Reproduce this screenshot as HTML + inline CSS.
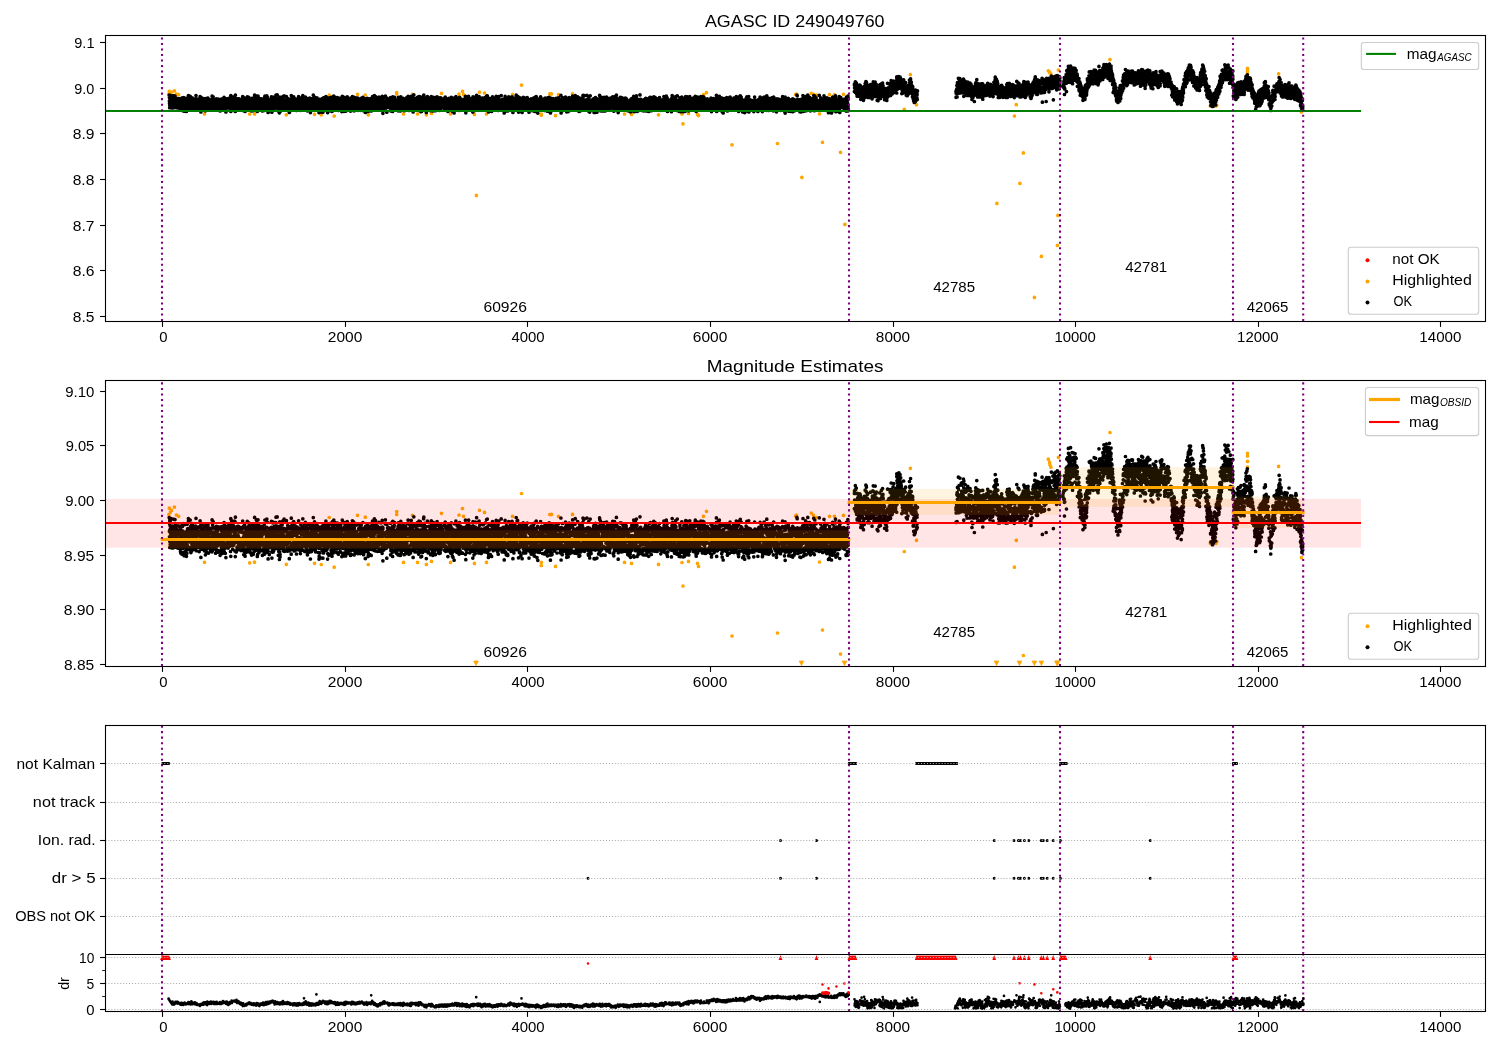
<!DOCTYPE html><html lang="en"><head><meta charset="utf-8"><title>AGASC ID 249049760</title>
<style>html,body{margin:0;padding:0;background:#fff}svg{display:block}text{font-family:"Liberation Sans",sans-serif}</style></head><body>
<svg width="1500" height="1050" viewBox="0 0 1500 1050" style="will-change:transform">
<rect width="1500" height="1050" fill="#fff"/>
<defs>
<clipPath id="c1"><rect x="105.5" y="35.5" width="1380.0" height="286.0"/></clipPath>
<clipPath id="c2"><rect x="105.5" y="380.5" width="1380.0" height="286.0"/></clipPath>
<clipPath id="c3"><rect x="105.5" y="725.5" width="1380.0" height="286.0"/></clipPath>
</defs>
<g clip-path="url(#c1)">
<path d="M168.9 94h0m.4-2.7h0m1.1 1.6h0m1-.7h0m3-1.4h0m2 3.3h0m2.2 .6h0m25.9 19.2h0m45.2 .2h0m4.8-.2h0m31.8 .9h0m28.2-.5h0m6.8 .5h0m7.9-19.6h0m5 20.8h0m23.3-21.7h0m7.8 .7h0m3 19.8h0m28.4-22.1h0m0 1.2h0m6.8 20.1h0m9-19.7h0m5 19.7h0m8.9 .8h0m5.1-1.3h0m10-20.1h0m9 20.6h0m8.5-19.9h0m3.5-2.7h0m1 3.3h0m10.9 19.7h0m2 81h0m3.1-103.2h0m5 .8h0m2 21h0m26-19.3h0m9-9.6h0m19.8 30.1h0m0-1.2h0m8.5-20.1h0m1.7 0h0m4 21.7h0m3-20.9h0m14-.8h0m52 20.1h0m7 .4h0m27 .4h0m23.5-.8h0m1 9.8h0m5.5-10.3h0m9 .9h0m1 1.2h0m5-20.9h0m3-2.1h0m25.5 52.2h0m45.5-1.3h0m18-49h0m1-.4h0m5.4 83.3h0m9.4-84.1h0m2.2 1h0m3 .9h0m3 18.6h0m3 28.5h0m7-47.6h0m5 0h0m6 57.6h0m3-58h0m1.4 130.1h0m59.4-115h0m6.1-34.8h0m6.1 30.1h0m80.4 98.7h0m17.5-87.4h0m1.9-11.3h0m3.6 78.7h0m3.5-30.5h0m11 144.5h0m7-41h0m6.9-185.6h0m1.3 1.3h0m.3 1h0m1 1h0m6.5 171.3h0m.5-30h0m.5-145.4h0m51.6-10.4h0m100.3 46.4h0m.7-.8h0m5 .8h0m.8-.8h0m30.7-35.8h0m0 4.6h0m0-2.3h0m0-3.4h0m31.1 5.5h0m22.8 38.2h0" stroke="#ffa500" stroke-width="3.7" stroke-linecap="round" fill="none"/>
<path d="M169.2 95.2h0m.2 2.3h0m0 3.4h0m.1 2.4h0m.2 4.4h0m0-10.6h0m0 7.7h0m0 .2h0m.1 .2h0m0-7.1h0m0-1.9h0m.2 4.1h0m.2 4.2h0m0-7.2h0m0 1.4h0m0 7.7h0m.1-9.2h0m0 10.1h0m.1-11.1h0m0 9.3h0m0 1.4h0m0-5.3h0m.1 1.9h0m.1 2.9h0m0-10.9h0m0 4.3h0m0 7.8h0m.1-6h0m0 4.4h0m.1-3.5h0m0-3.6h0m0 5.5h0m.1 2.5h0m0-2.2h0m0 1.6h0m.1 1.4h0m0-7h0m0 .3h0m.1 5.5h0m.3-3.3h0m0-2h0m0 .8h0m.1-1.8h0m.2-.9h0m.1 6.2h0m.1 1.6h0m.1 .8h0m.4-.3h0m.1-6.4h0m.1-2.4h0m0 2.8h0m0-5.8h0m0 11h0m.2-3.8h0m0-1.2h0m0 6.1h0m0-7.1h0m.1 4.5h0m0-5.7h0m0 3.6h0m.2 2.8h0m.1-7h0m0 7.6h0m0-5h0m.1 3.8h0m.1 2.4h0m.1-7.6h0m.2 2.8h0m.3-7.1h0m.3 9.4h0m0-2.6h0m.2-.3h0m.1 1.2h0m.3-.5h0m.1-1.9h0m0-5.1h0m0 9.8h0m.4-3.7h0m0-1.4h0m0-3h0m.1 5.7h0m.1-.8h0m0 3.9h0m.2 1h0m.1-8.5h0m.1 4.9h0m.2 2.1h0m0 0h0m.1-3h0m.2 2.8h0m.1 .4h0m0-5.5h0m.1-.7h0m.1 2.5h0m0-.3h0m0 5.1h0m.1-.6h0m.1-2.3h0m0-3.6h0m.1-2.2h0m.2 6.6h0m.1-1.5h0m0-2.6h0m0 5h0m.1 1.1h0m.1 .7h0m.3-5.6h0m.2 5.1h0m0 .2h0m.1-9h0m0 3.2h0m.1 5.3h0m.2-.8h0m.2-1.8h0m0-2.4h0m.4 4.8h0m.1-6.6h0m0 7.7h0m.1-2.7h0m.1-1h0m.1-2.1h0m.1-3.4h0m.1 6.9h0m.1-5.2h0m0 3.2h0m.1 4.5h0m0-.5h0m.1-8.9h0m0 1.8h0m.2 4.9h0m0-.1h0m0-2.9h0m.1-.7h0m0 .4h0m.2 2.7h0m0 4.5h0m.1-1.2h0m.1-4.1h0m0-3.8h0m.1 7.4h0m0 2.3h0m.3-9.6h0m0 2.8h0m0 2.7h0m.1-4.2h0m0 .1h0m.1 4.6h0m0-3.2h0m0-2.3h0m0 2.2h0m.2-4.4h0m.1 2.2h0m.2 9.5h0m.1-9.6h0m.1 1.8h0m0-.9h0m0-3.2h0m.1 3.9h0m0 3h0m.1-7.7h0m.1 9.6h0m.1-8.5h0m.1 3.2h0m0-.2h0m0-.2h0m0 5.2h0m0-1.6h0m.2 2.8h0m0-1h0m.2-6.2h0m0 7.1h0m0-1.2h0m.1-5h0m.1 8.1h0m.1-4.4h0m.2 4.4h0m0-8.2h0m.2 1h0m0 2.5h0m.2-7.5h0m0 9.3h0m.1-5h0m.1 4.9h0m.1 3.6h0m0 .7h0m.3-7.9h0m0 2h0m.1-7.1h0m.3 5.4h0m0 4.3h0m.2-3.3h0m.3 1h0m0 3.8h0m.1 .4h0m.1-3h0m0-.5h0m0-1h0m.2-2.6h0m.1 5.2h0m.1-2.5h0m0 1.2h0m.1-5h0m0 .1h0m0-.1h0m.1 4.3h0m0-1.7h0m.1-3h0m.2 10.2h0m.1-8.5h0m.1 0h0m0 .8h0m.3 6.4h0m0-4.2h0m0 2.8h0m.1-7.7h0m0 6.7h0m.2-.8h0m0-8.9h0m0 4.2h0m.1 1.8h0m.1-3.6h0m.1 6.5h0m0-1.7h0m.2-2.5h0m0-2.9h0m.1 1.8h0m.2-.8h0m.4-4.2h0m0-1h0m.2 12.8h0m.1-7.1h0m.2-5.1h0m.3 4.7h0m.1 7.6h0m0-4h0m.1-.4h0m.2-1h0m0-2.6h0m.1 4.8h0m.1-3.8h0m.2 6.4h0m.1 .2h0m.1-7.7h0m0-4.1h0m.2 5h0m.1 2.3h0m0-4.6h0m.1 2.4h0m.1 2.5h0m0 0h0m.2-1.1h0m0 7h0m0-.3h0m.1-1.9h0m0 1.4h0m.1-7.7h0m0 1.3h0m0-3.3h0m.1 3.4h0m0-2.5h0m0 .4h0m.2 3.4h0m.1-6h0m.1 5h0m0 6.3h0m.1-8.5h0m0-.9h0m0 6.2h0m.2-3.9h0m0-1.1h0m.1 4.2h0m0-7.5h0m0 3.9h0m.1-2.5h0m.1 7.3h0m0-1.8h0m.1 1.3h0m0 2.7h0m0-3.6h0m.1-2.1h0m.1-5h0m.2 9.2h0m.1 1.2h0m0-5.6h0m.1 3.1h0m0-5.4h0m.1 5.6h0m0-3.2h0m0-2.6h0m.2 6.3h0m.1-7.1h0m.1 2.1h0m0-2.4h0m.1 5.2h0m.1 3.6h0m.1-4.9h0m0 .5h0m.1-3.1h0m.3 7.2h0m0-.3h0m0 .9h0m.2-5.2h0m.2 .6h0m0-3.9h0m0 3.5h0m0-2.5h0m.1 4.4h0m.1 2h0m.1-7.4h0m.1 6.3h0m.2 .5h0m.2-6.8h0m0 0h0m.1 8h0m.1-3h0m0-3h0m.1-3.1h0m0 8.5h0m0-4.4h0m.1-1.5h0m.1 7.4h0m0-4.3h0m.1 3.8h0m.1-.3h0m0-12.4h0m.1 10.9h0m0-2.9h0m.1-3.1h0m0 2.5h0m0 6.2h0m.1-9.4h0m.1 2.2h0m.1 1.6h0m.1 4.2h0m0-4.5h0m.2 1.4h0m.1-4.9h0m0 6.9h0m0-6.6h0m.1 5.4h0m.2-5.3h0m0-.6h0m.1 2.3h0m.1 .7h0m.2 5h0m.1-8h0m0 6.6h0m.2-7h0m.3 1.7h0m.2 1.7h0m0 .1h0m.1-.4h0m.1-.7h0m.1 3.6h0m.1-3.7h0m0 5.5h0m.1-1.1h0m.1 .6h0m0-1.6h0m.1 1.7h0m0-7.4h0m.1 10.4h0m.2-3.5h0m.2 1.8h0m0-7h0m.1 5.9h0m.4-10.1h0m.1 10.2h0m0-1.4h0m.1-1.7h0m0-1.8h0m.1-.2h0m.1 3.3h0m.2-5.9h0m0 5.1h0m.1 3.2h0m0-9h0m.1 13.5h0m.1-12.3h0m.1 8.7h0m0-3.3h0m.2-1.3h0m0-1.6h0m.1 6.3h0m.1-5h0m0-.8h0m0 .4h0m.1-3.3h0m.1 .2h0m.2-1.8h0m.2 0h0m.1 7.8h0m0-3.1h0m.1-.5h0m.1-.8h0m.2-.2h0m.1 3.5h0m.1 2.9h0m.1-3.3h0m.1 4.1h0m.2-6.6h0m0 4.2h0m0-.1h0m.1 .3h0m0-.6h0m.2-5.8h0m.2 3.2h0m0 1h0m.1 1.6h0m.3 .3h0m.1-2h0m.1 0h0m.1-1.8h0m0 6.5h0m0 .4h0m0-10.3h0m.1 1.8h0m0 3.9h0m.1 2.3h0m0-1.4h0m.2-2.3h0m.2-1.6h0m.1 6.1h0m.1-6.5h0m0 5.3h0m0-1h0m.2 5.4h0m.2-9h0m0-.8h0m0 8.2h0m.1-10.7h0m.1 3.9h0m0-3.5h0m.2 6.6h0m.1 2.9h0m.1-4h0m0-3h0m.2 1.6h0m.1 5.2h0m0 1.3h0m0-9.2h0m0 5.8h0m0-.9h0m.2-4.8h0m0 4.3h0m.2 2.6h0m.1-8.2h0m.1 7.5h0m0-8.2h0m.1 6.2h0m.1 2h0m0-5.6h0m0 4.7h0m0 .1h0m.2-4.8h0m0 5.8h0m.2-5h0m.1-1.4h0m0 6.6h0m.1-3.1h0m.1-5.7h0m.1 9.7h0m.3-6.6h0m.1 8.8h0m.4-7.5h0m0 5.2h0m0-6.7h0m.2 5.7h0m.2-2.2h0m0 1.2h0m0-.5h0m.1 2.5h0m0-8.1h0m.5 6.4h0m.1 .8h0m.2 .5h0m0-5.5h0m.1 1.9h0m.1 5h0m0-3.5h0m.1-4.8h0m0 4.5h0m.1 2.7h0m0-2.1h0m.1 2.9h0m.2-1.5h0m.1-7.1h0m.2 6.3h0m.2 .3h0m0 2h0m.1 .7h0m.1-1h0m0-3.8h0m.1-3.1h0m.1-1.7h0m0 2.2h0m.1 7.1h0m.1 .6h0m.1-7.8h0m0-5.5h0m.3 6.9h0m.1 5.9h0m0-4.3h0m0-1.4h0m.1-5.1h0m0 9.3h0m.1-2.7h0m.2 1.3h0m0-4.5h0m.1 3.7h0m.1-3.2h0m0-5.3h0m.1 9.5h0m.1-4.7h0m.1 5.7h0m.1-1.8h0m0-4.2h0m0 2.6h0m.3-1.2h0m0-1.3h0m.1 .9h0m0 3.7h0m0-4.6h0m.1 3h0m0 3.2h0m.2-8.2h0m.1 .2h0m0 8.3h0m.1-2.8h0m0 2.3h0m0-7.9h0m.1 2.6h0m0 4.2h0m.1-1.4h0m0-2.8h0m.1 2h0m.2-2.4h0m0 1.1h0m0 3.3h0m.1-1.4h0m0 3.2h0m0-5.7h0m.1 .8h0m0 1h0m0-1.2h0m.1 3.4h0m0 2.1h0m.1-.2h0m0-2.6h0m.1 2.3h0m0-4h0m0 .1h0m0 .5h0m0 3.3h0m.2-3.5h0m0 5.9h0m.1-3.2h0m.4 1.4h0m.1-7.6h0m.1 .2h0m.1-2h0m.1 10h0m.1-7.5h0m.1 8h0m0-9.3h0m0 4.8h0m.1-1.8h0m.2-.2h0m.1 .4h0m.1 6.3h0m0-6.3h0m.1-.7h0m.2 .6h0m.1-.6h0m0 3.3h0m0 1.1h0m.1-6.4h0m0 4.9h0m.1-1.2h0m.1-1h0m.1-1.1h0m0-2.8h0m.1 9.6h0m.3-9.9h0m0 4.2h0m0 6.4h0m.4-3.5h0m.5 3h0m.1-6.8h0m.1 1.5h0m0-.9h0m.1 .4h0m0 .9h0m.2 1h0m.1-3h0m.1 2.4h0m.1 6.3h0m0-4.4h0m.2-4.3h0m0-2.6h0m.4 6.2h0m.1 .5h0m0-1.8h0m.1-2.2h0m0-2.9h0m0 4.1h0m.2 2.2h0m.2-.9h0m0 2.7h0m0-6.9h0m.1 9.1h0m0-1.2h0m0-2.4h0m.1-7.2h0m.1 7.4h0m0 .4h0m0-2.9h0m.1 2.7h0m0-3.9h0m.3 1.3h0m0 .6h0m.1-1.3h0m0-4.1h0m.1 4h0m0-.3h0m0-3.5h0m.1 8.2h0m.2 2.6h0m.1-6.5h0m0 3.3h0m.1-7.7h0m0 4h0m0-2.2h0m.2-.6h0m.1 2.7h0m0-3.9h0m.1 3.1h0m.1 4.6h0m0-2.4h0m.2 2.8h0m.2-3.8h0m0 1.8h0m.2 2.4h0m0 1h0m.1-3.4h0m.2-8h0m0 2.8h0m.1-.7h0m0 1.9h0m.1 .9h0m0-4.2h0m.1 11.5h0m.1-8.9h0m.1 5.8h0m.2-5.4h0m.2 6.9h0m0-7.9h0m.1 3.3h0m0 .6h0m.1-1.9h0m0-.1h0m.1 8.1h0m0-2.4h0m.1-4.7h0m.1 4.3h0m0-8h0m.1 0h0m0 4.8h0m.1-3.5h0m.2 2.8h0m0 2.9h0m0 5.6h0m.2-11h0m.1 5.3h0m.1-6.9h0m0 3.6h0m.2-2.7h0m.1 3.3h0m.2-4.6h0m.1 3.9h0m.2 4h0m0-.8h0m.3-1.2h0m0 2.9h0m.1-2h0m0-3.3h0m.1 .3h0m.3 1.3h0m.2 1.7h0m0-3.5h0m.1 5.8h0m0-6h0m.1-1.2h0m.1 4.6h0m.1-.5h0m.1 .6h0m.2-4.4h0m0-2.7h0m.3 7.8h0m0-4.2h0m0-2.7h0m.1 2.2h0m.3 .4h0m.1-1.7h0m.1 .6h0m.1 2.9h0m0 1.1h0m0-4.4h0m.1-.9h0m0 .5h0m0 3h0m0 4.2h0m0-7.1h0m.3 2h0m.3 7.3h0m.1-4.2h0m.2-9.5h0m0 15.7h0m0-6.2h0m.2-4.5h0m.2 3h0m.1-5.3h0m.2 7.6h0m.1 0h0m0-9.5h0m.1 7.1h0m0-6.4h0m0 5.8h0m0-3.3h0m.5 3.7h0m0 1.5h0m.2-3.9h0m0 2.2h0m.1 3.6h0m0-1.8h0m.1-6.6h0m.1 10h0m.4-2.8h0m.4 .1h0m.1-7h0m.1 7.6h0m0-1.9h0m.1 2.3h0m.1-.3h0m.4-4.3h0m.1 1.2h0m0-3.4h0m.1-3.2h0m.1 6.1h0m.1-.2h0m0 1.8h0m.1-4.7h0m0 2.2h0m.1 7.3h0m0-5.4h0m.1-.6h0m0-6.4h0m.1 6.5h0m0-3h0m.2 11.2h0m.1-6h0m0-10.5h0m.1 8.3h0m.4-2h0m.2-1h0m.1 9.3h0m0-8.8h0m.1-.2h0m.1 3.2h0m.2-4.1h0m.4 4.7h0m0 3.4h0m.1-8.8h0m0 6.3h0m.1 3.1h0m0-.7h0m.1 .4h0m0 .6h0m0-8.6h0m0 5.1h0m.3-.7h0m.2 1h0m.1 .1h0m0-2.4h0m0 2h0m0-2.7h0m.1-3.6h0m.1 9.4h0m.1-2.3h0m.1 .9h0m0-4h0m.1 3.4h0m.1-1.8h0m.1-3.7h0m.1 2.6h0m0 4.7h0m0 .2h0m.2 .2h0m.1-9.6h0m.3 8.2h0m.2-1.5h0m.1-5.5h0m0 1h0m.1 .1h0m0 4.3h0m.1-1.4h0m.2 2.7h0m.1-7h0m.2 4.8h0m.1 1.8h0m0-1.2h0m.2-.5h0m.1-.6h0m.1-4.4h0m.1 4.8h0m0 .7h0m.1 3.8h0m0-.1h0m.4-8h0m0-1.1h0m0 4.8h0m.1-4.7h0m.1 7.5h0m.2-8h0m0 5.1h0m.1-4.4h0m.3 6.7h0m0-.1h0m.1-1.1h0m.1-4.2h0m0 4.2h0m.1 2.9h0m.2-.4h0m0-11.5h0m.2 7.7h0m0 3.8h0m.2-4.2h0m.1 3.1h0m.1 1.1h0m0-4.6h0m.1 .8h0m.1 1.3h0m0 .9h0m0-.1h0m.1-4.9h0m0-2.6h0m.1 2.6h0m0-2.2h0m0 8.5h0m0 2.9h0m.2-5.2h0m.1-2.6h0m.1 5.4h0m0-.1h0m0-3.9h0m.1-1.8h0m0 6.9h0m0-2.8h0m.2 1.6h0m.1-3.6h0m0-6.5h0m0 10.5h0m.1-3.1h0m0 .5h0m.2-6.4h0m.1 5.2h0m.1-5.3h0m.1 11.9h0m.1-7.8h0m0 .1h0m0 5.3h0m.1-7.8h0m.3 4.2h0m0-5.6h0m0 10.1h0m.1-3.5h0m0-6.7h0m.2 5.6h0m0 4h0m.1-7.1h0m0 4.4h0m.3 1.9h0m0-9.2h0m.1 6.2h0m.1-.3h0m0-1.6h0m.3-1.5h0m.2 2.9h0m.2-.9h0m.1-7.3h0m.1 5.7h0m0-.1h0m.1 6.2h0m0-7.6h0m.1 3.8h0m.2-1.3h0m.1 .7h0m.1 3.2h0m0 2.1h0m.1-5.6h0m.1 1.1h0m.1 .5h0m.1-4h0m.2 .9h0m.1-1.8h0m0 2.2h0m.1-5.4h0m.1 9.2h0m0-5.7h0m.1-2.3h0m.1 .4h0m.1-.3h0m.1 10.2h0m.1-8.2h0m.1 6.6h0m.1-7.3h0m0 5.6h0m.1 2.3h0m0 .3h0m.2-6.9h0m.3 8.4h0m.1-7.1h0m.1 1.1h0m.2 2h0m.2 4.3h0m0-3.4h0m.1-4h0m.1-.7h0m0 6.1h0m0-.1h0m0-7.7h0m.1 4.9h0m0 1.4h0m0-7.3h0m.1 3h0m.4 8.7h0m0-4.3h0m.1 0h0m0-.5h0m0-6.6h0m.1 7.3h0m0 .5h0m.1-6.8h0m.2-2.1h0m0 .8h0m0 1.6h0m.1 3.7h0m0-2.4h0m.1-3.6h0m0 3.8h0m.1-2.7h0m0-.1h0m0 5.3h0m.1 2.9h0m.2-8.3h0m.2 6.8h0m0 .6h0m0-5.6h0m.1 7.2h0m0-8.2h0m.1 4.4h0m.2 5.4h0m0 .6h0m0-5h0m0-2.5h0m0 .4h0m0-3.5h0m.1-2h0m0 4.9h0m0 2h0m.1-3.7h0m.1 2.7h0m0 3.9h0m.1-4.5h0m.4-1.2h0m0 1.9h0m0-4.1h0m0-.3h0m.1 8h0m.1 1.7h0m0-6.4h0m.1 4.5h0m.2-7h0m0-5.3h0m0 11.3h0m.1-5.4h0m.1 5.3h0m0 1.3h0m.1-4.9h0m0 1.9h0m.1 0h0m.1-2.8h0m0 7.2h0m.1-6.1h0m.1-.8h0m.1 1.3h0m0 2h0m0 3h0m0-4.5h0m.2 3.9h0m.1-8h0m.1 9.1h0m.2-10.1h0m.1 2.9h0m.1 2.8h0m.1-2.3h0m.1-6h0m.1 11.9h0m.1-1.3h0m0-5.2h0m0 1.7h0m.1-5.9h0m.1 5.1h0m0-1.6h0m0 2.1h0m.2 2.2h0m.1-3h0m.1 1.1h0m0 3.5h0m.1-4.5h0m0 4.2h0m0-3.3h0m0 8.3h0m.3-.9h0m.1-2.6h0m.3-11.9h0m.1 12.5h0m0-3.4h0m0-6.4h0m.1 2.2h0m0 6.4h0m.1-3h0m0 4.4h0m.2-10.9h0m.2 8.8h0m0-3h0m0 3.4h0m0-7.1h0m.1 7.2h0m.1 2.6h0m0-2.4h0m.2-5.5h0m0 4.6h0m.2 1.4h0m0-1h0m.2-4.4h0m.1 6.3h0m0-5.3h0m.2-.9h0m.2 .7h0m.2 3.8h0m.1-8h0m0 3.5h0m.2 4.1h0m0-3.5h0m.1-2h0m.1 7.6h0m.1-2.8h0m0 3.1h0m.1-.1h0m0-6.5h0m0 .6h0m.2-4.2h0m.2 5.7h0m.1-3.1h0m.1 7.5h0m.2-9.5h0m.1 .8h0m0 2.6h0m.2 1.1h0m.1 2.4h0m0-5.4h0m.1 3.4h0m0-2.9h0m.1 0h0m.1 3.5h0m0 6h0m0-2.2h0m.1-6.9h0m.1-.6h0m.2 3.7h0m.2 1.6h0m0 1.7h0m.2-9h0m.1 9.3h0m0-8.4h0m.1 6.5h0m0 1.7h0m.2-6.9h0m.1 .5h0m0 4h0m0 .8h0m.2-5.8h0m0 6.4h0m0-7.2h0m.1 4.9h0m0-5.1h0m0 1.6h0m.2-3.4h0m0 11.6h0m.1-8.4h0m.1 9.1h0m0-9h0m.2 .3h0m.1-.9h0m.2-4.7h0m.1 4.8h0m.1 9.2h0m0-3.5h0m.1 3.2h0m.1-1.8h0m0 1.9h0m0-9.4h0m.1 5.7h0m.1-4.9h0m.1 6.2h0m0-2.1h0m.5-4.7h0m.1 3.4h0m0 4.6h0m.1-2.7h0m.1-2.6h0m.1 1.5h0m.1 .4h0m0 1.8h0m0-4.5h0m.1-3.4h0m.1-3.4h0m0 10.1h0m0 2.4h0m.1-2.1h0m.1 1.6h0m0-3.8h0m.1 1h0m.2-7.9h0m0 7.2h0m.2 5.2h0m.1-1.4h0m0-6.9h0m.2 3.5h0m.1 4.1h0m0-8h0m0 1.8h0m0 3.8h0m0 1.1h0m.2 4.9h0m.1-5.3h0m0 2.2h0m.4-5.7h0m0-.9h0m.1 2h0m.1-3h0m.1 2h0m.1-4h0m.2 3.2h0m.1-1.1h0m0 8.8h0m0-7.9h0m0 3.4h0m0-5.1h0m.2 5.7h0m0-4.9h0m0-2.2h0m.1 .7h0m0 5.6h0m0 .8h0m.1-1.1h0m.1-1.3h0m0-1.3h0m.1-1.5h0m.1 5.6h0m0 .4h0m.1-2.8h0m.4-3.3h0m0 1.2h0m.1-1.5h0m0 4.3h0m0-.4h0m.3 2.4h0m0-6.8h0m.1 5.8h0m0-1.6h0m.2 2.3h0m0-3.3h0m.2-4.6h0m0 7.8h0m0-10.3h0m.1 8h0m.1-1.5h0m.1 4.6h0m0-.6h0m0-5.7h0m.1 4.7h0m0 3.2h0m.1-1.9h0m0 4.6h0m.1-4.3h0m.2-4.7h0m.2 4.6h0m.1 1.9h0m.1-3.8h0m0-5.1h0m0 4.5h0m.1-.9h0m0 3h0m.1-3.8h0m0 5.9h0m0-4.9h0m.1 .9h0m0-8h0m0 11.4h0m.2-3.7h0m0-8.1h0m0 9.5h0m.2 3h0m0-8.8h0m.2 1h0m0 5h0m.1-3.5h0m0 3.4h0m.1-4h0m0 2.6h0m0-1.5h0m0 5.3h0m.4-1.3h0m0-8.9h0m0 1.4h0m.1 2.8h0m0-.3h0m.1 .3h0m.1 4h0m0-.5h0m.1-6.8h0m.3 7.3h0m.1-2.5h0m0 .3h0m.4 2.1h0m.1-1.9h0m.1-6.2h0m.1 7.6h0m.1-5.4h0m0 3.2h0m0 2.7h0m0-1.8h0m.1-2.8h0m0-5.1h0m.1 3.8h0m.1 1.2h0m0-7.3h0m.1 9.2h0m0-4h0m.1 6.2h0m0 1.7h0m0-5.5h0m.2 1.7h0m.1 .3h0m.1-5.6h0m0 2.5h0m.1-1h0m0 3.8h0m.2-5.6h0m0 8.2h0m.2-2.7h0m0-3.9h0m.1-5.4h0m0 8.8h0m.2-2.6h0m.1 5.8h0m0-3.5h0m.1 3.9h0m.1-4.6h0m.2-1.7h0m.1-.5h0m0 5.8h0m.1-5h0m.2 9.7h0m.1-10.9h0m.1 4.9h0m.1-4h0m0 3.8h0m0 3.2h0m.1-3.7h0m0 .8h0m.1 1.6h0m0 2.7h0m.2-9.5h0m.1-1h0m.3 13.9h0m.1-11.6h0m.1 6.1h0m.1-.7h0m0-2.9h0m0 5.9h0m.1-3.3h0m0-9.3h0m0 9.6h0m.1-5.4h0m0 6.8h0m.1 3.6h0m0-10.5h0m0 10.6h0m0-5.9h0m.1 4.9h0m0-11.7h0m0 3.2h0m.1-3h0m.1 1.6h0m0-3.5h0m.1 7.2h0m0 2.7h0m0-6.7h0m.1-.6h0m0-.7h0m0 4.4h0m.1-2h0m.1-2.9h0m0 6.4h0m0 1.7h0m.1-6.6h0m0 2.9h0m0 4.5h0m.1-.8h0m0-4.1h0m0 5.2h0m.4-2.5h0m.1-1.4h0m.1 3h0m.3-2.9h0m0-.5h0m.1-.9h0m0-1.3h0m.1 6.4h0m.1-9.9h0m0 1.9h0m0 1.8h0m0-3.2h0m.3 3.6h0m.1-2h0m0 .2h0m0 3h0m0-.9h0m.1 5.7h0m0-6.9h0m.1 3.5h0m0-1.4h0m.1 1.4h0m0-4.6h0m.1-3.4h0m0 5.5h0m.2-4.9h0m.1 8.4h0m.2-2h0m0 5.3h0m.1-1.1h0m0-1.7h0m0-3.3h0m0-3h0m.1 5.6h0m.1-1.6h0m0 1.4h0m0-4.4h0m0 5.4h0m0-2.8h0m.1 5.9h0m.1-2.7h0m0-2h0m.1-.1h0m0 4.6h0m.1-13.3h0m.2 8.5h0m0-3.2h0m.1-.6h0m0 4.4h0m.1-5h0m.1 1.2h0m0 2.8h0m.1 5.4h0m.2-4.6h0m.1 .4h0m.4 .8h0m.1 3.3h0m.1-9.2h0m.2 4.8h0m.2-3.7h0m.3 5.6h0m.1-.5h0m0-.9h0m0-8.8h0m.1 7.3h0m.3-.1h0m.1 .2h0m0-.6h0m.1 1.1h0m0-1.9h0m0 5.6h0m.1-2.6h0m0 3.4h0m0-2.5h0m.1-6h0m.1 6.1h0m.2-2.3h0m0 5h0m0-6.6h0m.2-4.1h0m0 5.9h0m0 4.1h0m.1-7h0m0-2.1h0m0 2.3h0m.1 7.5h0m.2-6.2h0m.1-3.9h0m.1 4.4h0m.2-1.1h0m0 6.3h0m.4 .5h0m0-9.5h0m.3 8h0m0 1h0m0-3.4h0m.1 7.1h0m.2-8.6h0m0 5.1h0m.4-5.2h0m0 2h0m.1-4.2h0m0 2.1h0m0-1.7h0m.1-2.9h0m0 3.7h0m0 5.8h0m.3 .3h0m.1-6.1h0m0 .1h0m0 1.3h0m.4-2.5h0m0 1.7h0m.1 3.7h0m.1 .6h0m.1-7h0m0 9.9h0m.1-15h0m.1 13h0m0-8.6h0m.1 1.3h0m0-.5h0m0-.4h0m.1 1.9h0m.1 1.8h0m0-1.3h0m.1-5.1h0m.2 6h0m0-2.2h0m0-.5h0m.1-2.1h0m.1 4.3h0m.3-.4h0m0 3.7h0m0-.5h0m0-4.4h0m.5-2.2h0m0 6.8h0m.2-4.4h0m0 5.1h0m0-7h0m.1 .6h0m0-1.1h0m.2 7.8h0m.2-10.2h0m0 11.4h0m.2 .4h0m0-4h0m0 .4h0m.1 3.4h0m0-1.4h0m0-8.9h0m0 8h0m.1-4.9h0m.1 7.9h0m.2-4.4h0m.1-4.7h0m.2 2.4h0m0 1.9h0m.1-2.3h0m.1-.8h0m0-.5h0m.1 1.8h0m.3 6h0m0-2.4h0m.1-5.1h0m0-2.3h0m.2 6.9h0m.2-3h0m0 5.2h0m.1-.5h0m.2 1.4h0m.1-6.8h0m.2-2.5h0m.1 11h0m.1-4.4h0m.3-3.1h0m0-.7h0m.1-2h0m.3-1.1h0m0 6.4h0m.1-1.5h0m.1-4.5h0m0 1h0m.1 7.9h0m.2-6.8h0m.1-2.3h0m.4 4.1h0m.1 4.3h0m.1 0h0m0-1h0m.1-10.2h0m.3 11.8h0m.1-4h0m.1 .4h0m.2 4h0m.2-7.5h0m.2 .4h0m.1-1h0m0-.9h0m.1 .4h0m.1 3.5h0m0 2.2h0m.1-4.5h0m.1 .3h0m.2 8.6h0m0-2.5h0m.1 1.4h0m0-3.9h0m0 2.8h0m.2-3.1h0m0-5.2h0m.1-1.6h0m.2 1.6h0m.2 7.7h0m.2-1.7h0m.2-.8h0m0-2.5h0m0 1.6h0m.1 4.5h0m.1-7.6h0m.1-1.3h0m0 7.8h0m.1-5h0m0 3.9h0m.1-7.3h0m.1 6.2h0m.3-4.5h0m.2 5.5h0m0 2.6h0m0-4.7h0m0 4.7h0m.1-13.2h0m.1 6.7h0m.1-3.5h0m.1 6h0m.1 1.3h0m.1-6.8h0m0 4.7h0m0-3.8h0m.2-1h0m.1 7.4h0m.1-6.4h0m.1 4.9h0m.1 1.4h0m.2 .4h0m.1-2.1h0m0-4.9h0m.1 5.6h0m0-2.7h0m.1-1.2h0m0 1.7h0m.1-5.6h0m.2 11.6h0m.1-5.2h0m.2-2h0m0 .8h0m.1-.2h0m0 0h0m.1-3.4h0m0 1.8h0m.2-3.5h0m0-.5h0m.2 5.7h0m.1 1.7h0m0 2.2h0m.1-1.5h0m0-1.6h0m0-3.1h0m0 1.3h0m.1 2.5h0m0-.1h0m0-3.4h0m.2 7.1h0m0 0h0m.2-3.1h0m0 1.1h0m0-.3h0m0-1.2h0m0-.6h0m0-2.3h0m.1 2.2h0m.2-.5h0m.2 6.3h0m0-.2h0m.1-7.7h0m.1 .4h0m0 2.1h0m0-3.7h0m.1 2.3h0m0 2h0m.1-6.3h0m0 10.2h0m0-8.1h0m0 5.5h0m.2-2.7h0m0 7.4h0m.1-10.2h0m0 .3h0m.1 1h0m0 4.8h0m.1-4h0m0-1h0m0-1.7h0m.1 3h0m0 6.2h0m.1-3.5h0m.1 3.4h0m0-2h0m0-7.3h0m.2 2.4h0m0 3.6h0m.1 4h0m.1-7.5h0m0 2h0m0-1h0m.1-.2h0m.1 .7h0m.3 2.2h0m0-3h0m.2 3.2h0m0-.3h0m.1-2.7h0m0 6.2h0m.1-9.6h0m0 2.9h0m0 6.9h0m.1-.6h0m0-7.3h0m0 .5h0m.1 1.2h0m0-.2h0m.1-5h0m0 5.8h0m0 .7h0m.1 1.6h0m0-4.9h0m.6 6.1h0m0 .6h0m.1 4.5h0m0-10.5h0m.3 7h0m0-1.5h0m.2-9.1h0m0 8.5h0m.2-2.9h0m.2-4.3h0m.1 9.6h0m.1-.4h0m.2-8.4h0m.1 1.3h0m.2 2.3h0m.1 .6h0m0 3.2h0m.1-2.8h0m.2-2h0m.1 .3h0m0 1.5h0m0-3.9h0m0 5.6h0m.1-.5h0m.1 0h0m0-2.9h0m0 4.2h0m.1-2.7h0m0-5.3h0m.3 1.6h0m.1-1.2h0m0-1.4h0m.1-3.3h0m0 3.6h0m.1 9.7h0m0-.5h0m.1-7h0m.1 4.1h0m0-2.5h0m.1 2.1h0m.2-2.6h0m.1 2.7h0m0-5.3h0m0 6.5h0m0-6.2h0m.1 2.6h0m.1-.9h0m0-.5h0m.1 4.2h0m.1-4.8h0m0 .9h0m.1-4.3h0m0 10.2h0m0-5.5h0m.1 2.2h0m.2-5h0m0 2.5h0m.3 5.3h0m0-3.5h0m.2 .7h0m0 3.1h0m.2-3.3h0m0 5.8h0m0-10.4h0m0 9.6h0m.1-2.7h0m.5-4.1h0m.1-1.5h0m0-1.9h0m.1 8.1h0m.1-7.1h0m0 2.7h0m0 1.5h0m0-.9h0m.1 5h0m.3-4.9h0m0-.7h0m.1-4.4h0m.2 6h0m0-5.3h0m0 4.2h0m.2 1.3h0m0-.9h0m.1 2.2h0m.2 1.4h0m0-3.2h0m0 1.6h0m0-4.5h0m.1-1.7h0m.2 7.3h0m.2-5.9h0m.1 9.5h0m0-9.9h0m.1 5.4h0m.3 2.4h0m.3-5.1h0m0 1.1h0m.1 8.9h0m0-6.5h0m0-6h0m.1-.5h0m0 8.4h0m0-5.3h0m0 4.3h0m.1 4.5h0m.2-4.8h0m0-7.3h0m0 4.2h0m.1 2.4h0m0-6.5h0m.1 10.5h0m0-7.6h0m.4 5.3h0m0-.1h0m.1-4.6h0m.2-1.6h0m0 4h0m.1-5.2h0m0 4.5h0m.1-1.3h0m0-2.8h0m.1 1.5h0m0-1.4h0m.2 1.8h0m0-.3h0m0 2.6h0m0-.7h0m.2 2.7h0m0-.4h0m.1-5.5h0m.5 11.2h0m0-7.5h0m.1 .5h0m.1-2.7h0m.1-3.5h0m0 4h0m0-2h0m.2 8h0m0-2.9h0m.3-7.3h0m0 7.6h0m.2-6.2h0m.1 6.7h0m.1-.9h0m.1 6.3h0m0-7.9h0m.1 4.1h0m0-6.3h0m0 4h0m0-1.7h0m.1 .3h0m.1 .3h0m0 5h0m.1-7.1h0m0 3.8h0m.1-3h0m0 3.3h0m0-5.9h0m0-3.2h0m0 5.5h0m.1-.9h0m0 1.1h0m0 1h0m.1-1.3h0m0 3.1h0m0 3.6h0m0-4.8h0m0 .5h0m0-1.2h0m.1-3h0m0 1.3h0m0-1.9h0m0 8.6h0m.1-6.3h0m0-.4h0m.1 2.1h0m.2 1h0m.1-5.8h0m.1-.4h0m.1 6.8h0m.1-2.6h0m0-1.5h0m0 .1h0m.2 1.3h0m.4-2.2h0m.2 6.6h0m0-9h0m0 5.7h0m.1-6.2h0m.1 10.2h0m.1-10.5h0m.2 9h0m.1-10.7h0m0 2.9h0m.1 8.6h0m0-6.6h0m.1-1h0m.1 2h0m0 3.8h0m.1-4.1h0m.1-1.7h0m.1 5.9h0m0-4.3h0m.1-3.9h0m0 4.2h0m.1 5.5h0m0-3.5h0m.1 4.2h0m0-9.6h0m0 4.3h0m0 2h0m.2-1.8h0m.1-5h0m.2 9.6h0m.2-7.6h0m0 3h0m.1 9h0m0-9.2h0m.1-5.3h0m0 6.2h0m.1 6h0m.1-9h0m.1 5.4h0m0 .8h0m.1-4.7h0m.1 3h0m0 1.7h0m.1-1.3h0m.1-5.8h0m.1 .1h0m.1 1.8h0m0 3.2h0m0-6.8h0m.1 4.5h0m.1 7.8h0m0-9.9h0m.2 3.2h0m.1-.7h0m.1 1.6h0m.1 1.3h0m.1-8.6h0m0 7.7h0m.2 1.9h0m0-2.7h0m.1-4.6h0m0-.4h0m.1 5.4h0m.1 2h0m.3 0h0m.1-3h0m.1 6.4h0m.1-13h0m.1 7.4h0m0-3.4h0m.2 4.3h0m0-6.1h0m0 5.8h0m.2 3.3h0m0-5.7h0m0-3h0m.1 1.6h0m0-.9h0m.2 1.5h0m0 3h0m.2-5.7h0m0 5.9h0m0 4h0m.5-2.8h0m0 4.6h0m.1-6.4h0m0-3.2h0m.1 4.4h0m0-2.2h0m0-3.7h0m0 6.3h0m.1-2.5h0m.1-5.1h0m.1-.7h0m0-.3h0m0 .3h0m.1-1.4h0m0 8.4h0m.1-3.3h0m.1 5.2h0m0 .7h0m.1 1.7h0m.1-10.4h0m.1 2.8h0m0-.6h0m0-.9h0m.1-.9h0m0-1.1h0m0 11.5h0m.1-3.1h0m.1-5.9h0m.2 .3h0m.2 4.5h0m0-1.8h0m0 5.3h0m0-13.1h0m.2 12.6h0m.3-5.8h0m0 .1h0m.2-2.6h0m.1 7.4h0m0-5.1h0m.1 1.3h0m0-.2h0m0-1.8h0m.1-1.6h0m.1 2.2h0m.1 1.1h0m0-.4h0m.1-.4h0m.1-2.4h0m0 1.4h0m.2 2h0m0-.7h0m0-5.9h0m0 7.8h0m0-3.1h0m.1 5.6h0m.1-8.2h0m0 6.2h0m.2-2.4h0m0 .2h0m0 2.8h0m.1-3.6h0m0 3.5h0m.2 1.6h0m.1-5h0m0 5.2h0m.1-10h0m0 2.9h0m.1 2.8h0m0 4.4h0m.1-1.1h0m0-1.7h0m0-5.8h0m.1 4.1h0m0 3.5h0m.1 2.8h0m0-6.4h0m.1-.4h0m.1 1.5h0m0 3.8h0m0-5.3h0m.2 .2h0m.1-2.8h0m.1-1.1h0m0 2.7h0m0 1.7h0m0-3.6h0m.1-1.4h0m0 0h0m0 8.1h0m.1-8.9h0m0-.4h0m.2 4.7h0m0 .2h0m.2 0h0m0 4.8h0m.1-7.2h0m0 7.5h0m0-6.3h0m.1-3.5h0m.1 1.1h0m.2 11.6h0m0-8.9h0m.1 5.8h0m0-1.2h0m.1-3.3h0m.1 1.9h0m0-.4h0m0 1.1h0m0-5.3h0m.2-1.1h0m0 1.6h0m.1 .7h0m0 2.1h0m.1-2h0m.1 8.3h0m0-5.8h0m.2 4.1h0m0-6.7h0m0 5.7h0m.1-1.8h0m.1-5.3h0m0 2.9h0m.2 1.3h0m0 1.2h0m.1 .2h0m0 .7h0m.2-3.9h0m0 2.7h0m0-.5h0m.1 2.1h0m.1-1.7h0m0 4.4h0m.1-10.4h0m0 6.6h0m0 .5h0m.1-3.5h0m.2-4.4h0m.1 3.7h0m.1 1.5h0m.1-3h0m0 5.6h0m0-2.2h0m.2-1h0m0-.6h0m.1 1.8h0m.1-2.7h0m.1 6h0m.1-7.6h0m0 3.8h0m.1 .1h0m0-.4h0m.1 8.4h0m.2-4.9h0m0-5h0m.2 6.3h0m.1-4.9h0m0-6.8h0m.3 10.2h0m0 3.7h0m.2-7.2h0m0 8h0m.1-10.7h0m.3 3.8h0m0-1.8h0m.1 5.5h0m.1-2h0m.2-3.6h0m.1 5.9h0m0-.1h0m.1-2.1h0m.1-1.7h0m.1-6.9h0m0 14h0m.1-3.3h0m.1-3.9h0m0-.4h0m.1 3.5h0m0-2.5h0m0 3.1h0m0-1.1h0m.1-4.5h0m0 2.2h0m0-5.3h0m0 6.4h0m0-2.8h0m.1 7.4h0m.2-7.2h0m0 3.4h0m0 3.7h0m.2-2.3h0m0-4h0m0-5.9h0m.1 2.5h0m0 6.9h0m.2-6.4h0m.1 3h0m0 .8h0m.1 .4h0m.1-1.3h0m0 2.6h0m.1 4h0m0-5.5h0m.1 6.4h0m.1-8.6h0m.1 4.8h0m.1 1.3h0m.1-4.6h0m0-5.3h0m0 2.8h0m.1-.7h0m0 7h0m.1 .6h0m.1-4.9h0m0-.5h0m0-1.6h0m0-3.9h0m.1 4h0m0 1.3h0m.1-2h0m.1 2.8h0m.1-5.4h0m.2 3.5h0m.1 .9h0m0-2.5h0m.1 6.9h0m0-10.2h0m.1 8.5h0m0 2h0m.2-.2h0m0-5.1h0m.2 2.2h0m.1-5.6h0m.1 7.6h0m.1 3.9h0m0-6.8h0m.1-3.1h0m0 8.8h0m.1-9.7h0m.3 7.6h0m0-8.2h0m.1 8.2h0m0-2.7h0m0 1.4h0m.1-1h0m0-1.3h0m.1 .7h0m0-.3h0m0 4.7h0m.1-5h0m.3-3h0m0 1.4h0m0 1.7h0m0 .9h0m.1 4.8h0m.1-4.1h0m0-1.5h0m.3 2.7h0m.2-1.9h0m0-6.2h0m.2 1.9h0m.1 4h0m0-3.4h0m.2 4h0m.1 6.3h0m.2-8.4h0m.1 .9h0m0-4.4h0m.2 4h0m0 5.7h0m0-2.2h0m0 1.1h0m.1 2.8h0m0-3.2h0m0-9.3h0m.1 12.5h0m.3-2.7h0m.1-3.9h0m.1-1.8h0m.1 4.3h0m0-3.2h0m.2 2h0m.2-4.8h0m.2-3.9h0m0 7.6h0m0-1.9h0m.1-2.1h0m.1 7.1h0m.2 .3h0m.1-.8h0m0 1.9h0m0-7.8h0m.1 1.9h0m.1 5.5h0m0-10.6h0m0 7h0m0-.4h0m.2 0h0m0-2.8h0m0 6.6h0m0-.9h0m.2-.8h0m0-8.1h0m0 7.5h0m0-7.7h0m.1-1.1h0m0 3.6h0m0 5.4h0m0-2.4h0m.1 3.4h0m0-5.8h0m0-1.4h0m.2 5h0m.1 1.1h0m0 1.1h0m0 1.5h0m0-2.7h0m0 .7h0m.1 4.3h0m.2-11.3h0m.2 3.6h0m0-.5h0m0 6.4h0m0-6.3h0m.1-.3h0m.3-1h0m.2 8.6h0m0-4.4h0m.1 2h0m0-1.3h0m.1-5.4h0m0 4.4h0m0 2.6h0m0-9.6h0m.1 7.6h0m.3-2.1h0m.1 1.5h0m0-.6h0m.1-2.9h0m.1 1.8h0m0 3.2h0m0-9h0m0 9.3h0m.2 1.2h0m.1-3.6h0m0-1.4h0m0-2.1h0m.2-2.9h0m0 7.4h0m.1-1h0m0-1.3h0m0-.3h0m.1 5.4h0m.1-6.6h0m.1 5.7h0m.1-.6h0m.1 .9h0m0 1.2h0m.1-6.9h0m0 3.7h0m.1 .4h0m0 2.9h0m.1-6.6h0m.2 6.4h0m.2 1.3h0m0-12.3h0m0 5.4h0m0 3.9h0m0-1.8h0m.1-1h0m0 2.3h0m.2-2.1h0m0-.9h0m0 .6h0m.1 1.4h0m.1-.8h0m0 .9h0m.2 2.2h0m.2-7.8h0m0 5.1h0m0 .8h0m0-6.4h0m.2 4.7h0m0-2.1h0m0 3.3h0m.1 2.5h0m.1-3.6h0m.2 3.8h0m.1-5.7h0m0 5.1h0m.1-.9h0m.1-3h0m.1 5.3h0m0-3.5h0m0-2.2h0m.1 1.1h0m0 1.8h0m.1 1.1h0m.2-7h0m0-1.5h0m0 9.3h0m.1 1.6h0m.1-7.1h0m0 7.5h0m0-3.3h0m.2-5.5h0m0 .6h0m.1 7.9h0m.2-1.2h0m0-4.5h0m0 3.2h0m0-6h0m.1-1.9h0m.2 8.4h0m.1-9.6h0m.2 7.9h0m.3 2.4h0m.1-.3h0m0-4.2h0m0 5.7h0m.1-4.6h0m.2-4.2h0m0 3.9h0m.1 3.3h0m.1-3.8h0m.2 1.2h0m0-2h0m.1 1h0m0-2h0m.2 4.9h0m.1 1.8h0m0-8.9h0m0-3.2h0m0 10.5h0m.1-5.2h0m.1-2.6h0m0 5.7h0m0-.7h0m.1 3.4h0m0-2.7h0m0-3.7h0m0 6.4h0m.1-5h0m0 3.9h0m.1-7.6h0m.2 11h0m0-9.3h0m.1-.3h0m0 6.2h0m.1 1.9h0m.1-5.6h0m.1 2.4h0m0-4.8h0m0 5.6h0m.4 2.8h0m.2-1.3h0m.1-7.8h0m0 7.4h0m.2-6.2h0m0 6.3h0m.1-5.7h0m.1 5.1h0m0-1.5h0m.1 .7h0m0 5.7h0m.1-8.1h0m.1 8.2h0m.2-9.6h0m0 .2h0m0-4.1h0m.1 1.2h0m.1 4h0m0 4.2h0m.2-5.5h0m.1-3.5h0m.1 1.7h0m0 1.3h0m.1-.6h0m.3 2.4h0m0-2h0m.1-2.7h0m.2 7.2h0m.1 .1h0m.1 2.6h0m.1-7.7h0m.1-3.3h0m.2 6.6h0m0-3.4h0m.1 4.2h0m0-5.4h0m0 1h0m.1 6.3h0m0-2.3h0m0-2.6h0m.1 6.3h0m0-3.4h0m.1-1h0m.1 1h0m.1 5.9h0m.1-9.1h0m.1 8h0m0-11.1h0m0 10.7h0m.2-2.8h0m.3-6.2h0m.3 5.1h0m.2 1.4h0m.2-4.7h0m.1-.2h0m.2 1.9h0m0 6.2h0m0-11.8h0m.1 9.5h0m0-2.3h0m.1 .4h0m.3-.7h0m0-5.4h0m.2-.3h0m0 4.1h0m.1-1.9h0m.1 2.7h0m.2-4.9h0m.1 5.7h0m.2 5.2h0m.1-4h0m0-3.2h0m.1-.2h0m.1-2.2h0m.1 2.7h0m.1 4.5h0m0-5.7h0m.1-.8h0m.1 2h0m0 2.7h0m0-.5h0m.1-8h0m.2 6.6h0m0-.1h0m.1-3.7h0m.2-4.4h0m.3 5.9h0m.1-.8h0m0 6.6h0m.2-1.4h0m0-4.3h0m.1 4.8h0m0-4.5h0m.1-3.6h0m.1 2.5h0m0 3h0m.2-5.3h0m.2 5.6h0m.2 3.7h0m0-1.9h0m0 1.2h0m0-4.8h0m.1 5.2h0m0-.2h0m0-10.7h0m.1 2.8h0m0 5.5h0m0-5.4h0m.2-4.9h0m0 2.9h0m0 3h0m.1 5.5h0m0 .6h0m0-1.1h0m.3-5.7h0m0 3.6h0m.2 2.7h0m0-5.1h0m.2-3.9h0m.1 9.4h0m0 1.5h0m0-7.6h0m.1-.4h0m0 4.4h0m0-6.8h0m.1 9h0m0-10.5h0m0-.7h0m0 4.3h0m.2 6.1h0m0-7.5h0m.1 7.9h0m0-2.9h0m.2-6.5h0m.1 8h0m.1-5.2h0m.2-.8h0m.1 5.1h0m.1 .1h0m0 1.7h0m0-1.3h0m0-4.9h0m.2 4.5h0m0 1h0m.2-7.5h0m.3 2.8h0m.1 2.7h0m0 5.2h0m.2-10.4h0m0 6.6h0m.1-5.8h0m.2 6.7h0m.1-1.7h0m0 .1h0m0-1.7h0m.1 4.7h0m0-6.5h0m.2 5.7h0m.2-1.2h0m0-1.4h0m0-2.8h0m.1-.6h0m0 2.6h0m.2 1.2h0m0-2.9h0m.1 2.1h0m0 5.3h0m0-12.1h0m0 11.6h0m.1-2.3h0m0-4.7h0m.1 1.7h0m.2-1.9h0m.3-1.9h0m0 2.9h0m.2 1.5h0m.5 1h0m0-5.7h0m.4 4.6h0m.2-3.8h0m.1 8.1h0m0-10.8h0m.1 4.2h0m.1 2h0m.1-.7h0m0 2.3h0m.1 3.6h0m0-9.4h0m0 4h0m.3 2.2h0m0 3.8h0m.1-4.8h0m.3 3.2h0m0-6.1h0m0 8.3h0m.1-13.7h0m0 10.5h0m0-1.5h0m.1-2.3h0m0-3.9h0m.3 7.4h0m.3-6.6h0m0 8.1h0m0-8.6h0m0 13.8h0m.1-11.9h0m.2 4.1h0m.1 .5h0m.2-3.3h0m.2 6.1h0m0-.1h0m.1-3.7h0m.1-3.3h0m0 .8h0m.1 1.9h0m0 2.5h0m.4-1.9h0m0 1.1h0m.1-3.6h0m.2 4.9h0m.5-.9h0m.1-8.6h0m.1-1.7h0m.2 5.6h0m.1-.3h0m.2 5.7h0m.2-3.8h0m.1 4.5h0m0 .2h0m.1-.3h0m.1-6.4h0m.1 2.9h0m0-.2h0m.1-.3h0m.2 8.4h0m.1-14.1h0m.1 3.8h0m0-.9h0m.2 2.9h0m0 2.8h0m.1-1.6h0m0-3.8h0m.2-1.7h0m.3 5.6h0m0-3.1h0m.1-.7h0m.2 2.4h0m0 3h0m0 .6h0m.3-8h0m.1 6.6h0m0-2.6h0m.2 .8h0m.3-3.3h0m0 1.4h0m0 2.1h0m0-1.7h0m.1-.8h0m.2 1.3h0m0-3.4h0m.1 3.1h0m.2 3.2h0m0-6h0m0 6.7h0m.1-.4h0m.3 .6h0m0-4.8h0m.1-2.3h0m.1 3.6h0m.3-5.9h0m0 4h0m.1 9.2h0m0-4.7h0m.3 .6h0m0 1.6h0m0 .8h0m.1-2.8h0m0 .6h0m.1-3.3h0m.1 2.9h0m0-2.1h0m0-4.7h0m.2 3.6h0m0-2h0m.1 5.3h0m.2-1.4h0m0-4.1h0m.1 6.5h0m.3-8.3h0m0 4.2h0m0-2.8h0m.2 4.3h0m0-1.7h0m.1 .2h0m.1-1h0m0-3.5h0m0 10.6h0m.1-9.6h0m0 11.4h0m0-5.2h0m.1-3.5h0m.1-.9h0m0 3.9h0m0-8.9h0m.2 3.9h0m.1-1.4h0m0 .6h0m0 4.4h0m.1 .6h0m.1-.8h0m.1-3.9h0m0 3.2h0m0-1.3h0m.1 3.4h0m.1-6.3h0m.1 1.6h0m.2 4.5h0m0 3.6h0m.1-2.3h0m0-7.5h0m.1 7.7h0m.1-4.6h0m0-3.8h0m0 4.4h0m.3 3.6h0m0-9h0m.2 3.9h0m.1-.6h0m0 8.4h0m0-4.3h0m0-.8h0m0 3.5h0m.2-5h0m0 6.5h0m.1-8h0m.1 .9h0m0 5.5h0m.2-.9h0m.1 .8h0m.2 1.6h0m0-5.8h0m.1 5.7h0m.1-6.4h0m0 7h0m.1-6.5h0m0 6.9h0m0-3.3h0m.1-1.6h0m0 4h0m.1-5.3h0m0 1.5h0m.1 1.1h0m.1 3.6h0m.1 .3h0m0-8.5h0m.2 3.2h0m.1 2.9h0m.1-7.4h0m.3 2h0m.2 4.1h0m0-5.1h0m.1 2.2h0m.1-1.3h0m.1-2.3h0m.1 8h0m0 2.6h0m.1-3.2h0m0-.4h0m0-2.8h0m.1 4.1h0m.1 2.6h0m0-11.9h0m.2 5.2h0m0-6.7h0m.1 9.5h0m0 1.1h0m.2-5.5h0m.1 2.8h0m0-6.1h0m.2-1.1h0m.1 9.2h0m.2 1.5h0m0-8.5h0m0 .3h0m.1 3.8h0m0 .1h0m.2 2.1h0m.1-1.1h0m0-.6h0m.2 2.1h0m.2-8.3h0m0 2.5h0m.1 4.4h0m.1-7h0m0 9.5h0m0-4.3h0m0 .6h0m.1 6.6h0m.1-3.3h0m0-6.9h0m0 3.8h0m0-3.4h0m.1 2.9h0m.2 1h0m0-2h0m.1-6.3h0m.1 6.4h0m.1-4.2h0m.1 7h0m.1 3.9h0m.1-4.5h0m.1-4.7h0m0 8.8h0m0-4.8h0m.1-2.7h0m.5-2.3h0m0 6.2h0m0-4.7h0m.1-.4h0m.4 .7h0m0 3.6h0m.1 3.2h0m0 .4h0m.1 .2h0m0-7.9h0m.2 .4h0m0 2.4h0m0 1h0m.3-5.5h0m0 4.5h0m.1-5.4h0m0 8.5h0m0-1.6h0m.2-3.5h0m0-2.1h0m.2 .9h0m.2 2.1h0m.1 2.6h0m.1-6.3h0m0 2.3h0m0 9.4h0m0-9.6h0m0-1h0m.1 8h0m.1 .8h0m0-2.4h0m0 1.7h0m.2-6.2h0m0-.1h0m0-2.6h0m.3 3.2h0m.1 3.4h0m.1-5.4h0m0 5.8h0m.1-5.9h0m0 5.9h0m.2-2.7h0m0 .5h0m.1-.6h0m0-1.7h0m0 2.2h0m.1 .6h0m.1 5.7h0m0-5.3h0m0 3.3h0m.1-1.1h0m0-3.3h0m0-4.9h0m.1 2.6h0m.1 4.2h0m.1-1.1h0m.1 .7h0m.1 3h0m.1 .5h0m.1 .2h0m.1-7.1h0m.1 .4h0m.2-4.7h0m.1 12.3h0m0-4.1h0m.3-6h0m.1 7.1h0m.1-5.6h0m.2-1.2h0m0 4.6h0m.1-4.3h0m.1-.5h0m.3-3.7h0m.1 8h0m.3-.4h0m.2 4.6h0m0-4.6h0m.2-1.9h0m0 6h0m.1 2.5h0m.1-8.1h0m.1-4.4h0m.3 11.1h0m0-4.4h0m0 2.5h0m.2-7.1h0m0 8.7h0m.2-7.1h0m.1-2.3h0m.2 7.5h0m0-3.6h0m.1-1.1h0m.1 2.4h0m0-2.4h0m.1 0h0m0 7.8h0m0-8.7h0m.1 1.9h0m.2 5.9h0m0-7.1h0m.1 .9h0m.1-4.8h0m.1 5.1h0m.1-.4h0m0-6.4h0m.1 6.6h0m0 1.1h0m.1 4.5h0m0-2.6h0m0-3.7h0m.2 6.7h0m0-5h0m.2-4.2h0m0 1.4h0m0 3h0m0 2.2h0m0-6.2h0m.1 4.7h0m0 1.3h0m.1 .2h0m0-1.8h0m.1-3.9h0m.3 .8h0m.2 7.4h0m0-2.3h0m.1 2.3h0m0-6.9h0m0 5.1h0m0-3h0m0-4.6h0m.4 12.4h0m.1-8.4h0m0 3.3h0m0 .9h0m.1-8.8h0m.1 8.8h0m0-9.3h0m0 6.4h0m.3-3h0m.1 3.6h0m0-10.5h0m.1 12.2h0m0-5.3h0m.1 1h0m.2 4.7h0m0-4.4h0m.1 5h0m0-5.2h0m0 1.4h0m0 2h0m.1-4.6h0m.2 5.5h0m0 .6h0m0-6.1h0m.1 1.2h0m.3-2.4h0m0 9.1h0m0-4.6h0m.1-2.8h0m.1-3.6h0m.2 9.5h0m.1-2.9h0m.1-3.3h0m.1 6.4h0m0-2.1h0m.1-4.3h0m0 6h0m.3-1.8h0m0-2.2h0m.1-1.7h0m.1 2.9h0m0 0h0m0 0h0m.2-5h0m0 7.6h0m0-6.8h0m.1-.3h0m.3-.1h0m0 1h0m0 5.2h0m.2-8.1h0m0 9h0m.1-1.1h0m0-3.6h0m.2 .3h0m0-5.9h0m.1 .7h0m.1 2.2h0m0 4.5h0m.1 0h0m.1-4h0m.1 3.9h0m0 5.2h0m0-5.6h0m.1 .1h0m0-3.1h0m.2-3.1h0m0 7.1h0m0 3.3h0m.2-6.1h0m.2 8.1h0m.1-1.8h0m0-11.1h0m.1 10.9h0m0-2.7h0m0-7.2h0m0 3.9h0m.1 .9h0m0 3.5h0m0-3.1h0m0 .3h0m.1 2.1h0m0-9.5h0m.1 7.7h0m0-3.3h0m.2 8.7h0m.1 .1h0m0-1.6h0m0-5.4h0m.1 5.5h0m.2-7.3h0m.1 2.3h0m0-.1h0m.1 3.4h0m.1-6.3h0m.2-3.6h0m0 9.2h0m.1-4.3h0m.1 6.4h0m0-4.7h0m.3-.2h0m0 4.6h0m.1-4.2h0m0 0h0m.1 8.1h0m0-13.5h0m.2 9.2h0m0-3.4h0m.1 .3h0m0 5h0m0-8.7h0m.1 .2h0m.1-.4h0m0 4.9h0m0-1.4h0m.1-.2h0m0-2.4h0m.1-.7h0m0 10.9h0m.1-8h0m0-1.1h0m.1-.2h0m0-3.5h0m.2 6.6h0m0-3.4h0m0-3.3h0m.3 7.9h0m.1-3h0m.1 2.7h0m0 1.9h0m.1-5.2h0m0-2.7h0m0 3.2h0m0 6.4h0m.3-7.3h0m.1-1.4h0m0 7.3h0m.1-3.2h0m.1-1.6h0m.1-1h0m0 5.6h0m0 .1h0m.1 .4h0m.2-1.7h0m0-11.3h0m0 2.2h0m.1 5.1h0m.1-7.9h0m.1 4.3h0m0 3.4h0m.1-4.5h0m.2 5.3h0m.3 4.4h0m0-10.4h0m.1 4.2h0m0 3.9h0m.1-2.1h0m0 3.6h0m.4-5.1h0m.1 7.1h0m0-9.6h0m.2 7.2h0m.1 .6h0m.1-6.7h0m.2 6h0m.1-7.7h0m0 8.4h0m0-.6h0m.2-6.4h0m0 6h0m.1 .2h0m.1 .6h0m0-2h0m0 7.2h0m.3-9.8h0m.2 1.9h0m0 1.9h0m0-1.6h0m0-1h0m.2-.5h0m0 2.3h0m.2 2.3h0m.1-3.2h0m.1 1.6h0m0-9.6h0m.1 10.1h0m.2 0h0m.1 2.7h0m0-.1h0m0-6.3h0m.1-1.5h0m0 .8h0m0 .1h0m.2 7.4h0m.1-4.7h0m.2 0h0m.1 2.8h0m.1-5.2h0m0-1.6h0m0 6.9h0m0-6.8h0m0 5.8h0m0-4.2h0m.1 1.6h0m0 .4h0m0-.7h0m.1-5.3h0m.1 11h0m.1-5.3h0m0-3.4h0m.1 6.8h0m.4-.1h0m0-6h0m.1 5.9h0m0-8.7h0m.2 1h0m0 8.2h0m.2-6.5h0m0 2.3h0m.1-2.4h0m.2-1.4h0m.1 6.2h0m.1-4.7h0m0 .8h0m0 2.6h0m.1 5.5h0m.1-3.8h0m.1-8.2h0m0 2.3h0m0-3.6h0m.1 1.9h0m.2 8.7h0m.2-11.4h0m.1 1.4h0m.1 .1h0m.1 7.3h0m.1-5.2h0m0-.6h0m0 4.9h0m.1 5.8h0m.1-3.1h0m.1-3.7h0m0-6.2h0m0 10.3h0m.1 .5h0m.1-3.6h0m.2 .7h0m0-1.2h0m.1-1.3h0m0 .3h0m.1-4.5h0m0 1.9h0m.1 8.9h0m0-11.4h0m.1 6.7h0m0-.3h0m.1 6.7h0m.3-2.3h0m0-6.8h0m0 2.9h0m.1-5.9h0m.1-1.6h0m.1 4.7h0m0 1.3h0m.1 4.8h0m.1-7.4h0m0 2.1h0m.1 3.4h0m0 2.6h0m0-6.8h0m0 1.3h0m.1-4.4h0m0-1.3h0m.1 11h0m0-4h0m.1-3.9h0m0-2.1h0m.1 6.4h0m0 4.6h0m.2-1h0m.1-.3h0m0 .2h0m.2-.9h0m0-8.9h0m.1 4.8h0m.2-4.6h0m0 3h0m0 1h0m.2 4.9h0m.1-4.9h0m0-3.2h0m0 .6h0m0 6.4h0m.1-1.4h0m0-7.7h0m.1 13.1h0m.1-2h0m0-4.6h0m.3-5.6h0m.1 1.4h0m.1 1h0m.2 4.7h0m0 1.6h0m.1-1.4h0m.1 1.8h0m.1-.4h0m.1-6.7h0m.2 .8h0m.2-.2h0m0-4.2h0m0 6.2h0m0 4.1h0m.1-1.2h0m0-2.8h0m0-1.4h0m.1 4h0m.2 .8h0m.1-4.3h0m.1-1.2h0m.2 7.4h0m0-10.2h0m.1-.2h0m0 0h0m.1 6.6h0m0 .2h0m0 .1h0m.1-.2h0m.1-.3h0m0 4.5h0m.1 .8h0m.1-7.5h0m0 4.6h0m.4-8.4h0m.1 7.1h0m0-5.6h0m0 8.2h0m0-9.6h0m0 4.2h0m.1-4h0m0 9.7h0m.1-6.7h0m0 5.3h0m0-4.9h0m.2 8.1h0m0-10.6h0m.1-.3h0m0 1.7h0m0 3.5h0m.1 2.2h0m0-5.1h0m0 4.6h0m.2-8.4h0m0 9.6h0m.1 1h0m.3 1.5h0m.1-4.1h0m.1-.2h0m0-1.6h0m.1 .1h0m.1-1.3h0m.2 1.6h0m0 1.8h0m0-8.4h0m.1 3.8h0m.1 7h0m0-6.8h0m.1 1.9h0m0 3.9h0m0 .6h0m.4-1.9h0m.1-1.1h0m.2 1.6h0m0-.2h0m.1-6h0m0 3.7h0m0-5.6h0m.1 6.3h0m.1 2h0m.3-7h0m.1 3.5h0m0-3.4h0m.2 5.7h0m0 .9h0m.1-1.5h0m.1 1.9h0m0-5.4h0m.1-.6h0m0 1.6h0m0-1.6h0m.1 .7h0m0 2.4h0m.3-2h0m.1 .1h0m0 4.6h0m.2-4.8h0m0 2.9h0m0-1.8h0m.1 3h0m.1-3.8h0m.2 .5h0m.1-1h0m.2 1.6h0m0 3.5h0m.1-8.6h0m.2 10.4h0m0-1.4h0m0-5.7h0m.1-.2h0m.2 7.2h0m0-1.3h0m.1-6.4h0m0 6.1h0m.1-10.1h0m0 5.6h0m.1 1h0m0 5.2h0m.1-1.8h0m0-7.6h0m.1 4.7h0m.1-1.6h0m0 2.2h0m.1 4.5h0m0-4.6h0m.2-.5h0m0 .6h0m.2 .3h0m0 3.9h0m0-3.7h0m.1-5.5h0m.2 5.5h0m.3-.2h0m.1-5.3h0m.1 8.5h0m0 0h0m.1-9.5h0m0 4h0m0 .7h0m0-.7h0m.2-2.8h0m.4 .8h0m.2 4.7h0m0-5.2h0m.1 7.6h0m0-3.2h0m0 6.8h0m.1-10h0m0 7.7h0m.1-9.4h0m.1 3.4h0m.2-1.8h0m.1 4.1h0m0-5.1h0m.1 5.3h0m.1 .1h0m0 2.1h0m.1-5h0m0-.6h0m0 2.8h0m.1 .2h0m0-6.9h0m0 9.1h0m.1-1.1h0m0 1.2h0m0-7.2h0m.3-.3h0m.2 1.8h0m.1 5.5h0m0-6.8h0m.1-.6h0m0 1.8h0m0-1.6h0m.1 8.2h0m.1-3.4h0m.1-.4h0m.1-2.4h0m.1-3.1h0m.1 1.7h0m0 1.8h0m0-2.6h0m.1 1.7h0m0 4.2h0m.1-7.9h0m0 1.7h0m.1 2.3h0m0 8.1h0m.1-3.4h0m.1-2h0m0-4h0m0 7.3h0m0-6h0m0-2.9h0m.1 2.9h0m0-3.1h0m.1 4h0m.2 5.5h0m.1-11h0m.1 12h0m.1-.8h0m.1-4.4h0m.1 2.6h0m.1-1.8h0m.1 3.1h0m.1 .8h0m0 1.2h0m.1-3.1h0m0 2.3h0m.2-9.4h0m.1 11.4h0m0-4.4h0m0-2.1h0m.1-3.8h0m.3 8.5h0m.1-5.2h0m0 2.1h0m.1 5.4h0m.1-6.5h0m0 .3h0m.1-3.8h0m.1 2h0m.2-2.4h0m0 7.8h0m.1-6.3h0m0 4.3h0m0-3.2h0m.1-1.9h0m.1 4.2h0m.1 .4h0m.2 6.3h0m.3-10.5h0m.1 6.6h0m0-11.3h0m0 6.6h0m.2-1.2h0m0 2.4h0m.1-5.2h0m.1 6h0m.1-5.7h0m0 5.8h0m.1-4.7h0m.1-.5h0m.1 .6h0m.1 6.6h0m.1-.6h0m.2-6.3h0m.1 7.7h0m0-6.1h0m.1-6.5h0m0 10.6h0m.1 .8h0m.2-.3h0m.1-3.6h0m.2 3.7h0m0 1.4h0m.3 .4h0m0-4.3h0m0-1.4h0m.3 2.1h0m0-3.4h0m0-2h0m.1-2h0m.4-.3h0m.1 1.9h0m0 2.6h0m.1 .1h0m0 6.7h0m.1-2.3h0m0 1.3h0m.1-6.1h0m.1 1.9h0m0-1.4h0m.1-4.9h0m.1 7.7h0m0-4.3h0m.3 5.7h0m0 2.3h0m0-8.7h0m0 5.7h0m.3-7.1h0m.1 6.8h0m.1 4.2h0m0-3.2h0m.1 .8h0m0 1h0m0-7.5h0m0 8.5h0m.2-10.1h0m0-.9h0m0 .8h0m0 5h0m.1-3.6h0m0 6.2h0m.1-5h0m0-5.1h0m.1 12h0m.4 .1h0m0-.4h0m0 .9h0m.1-10.9h0m0 4.9h0m0-4.4h0m0 5.3h0m.1-2.2h0m0 2.9h0m.1-1.4h0m.1-3.5h0m.1 5.5h0m.2-7.3h0m.1 5.6h0m.1 .8h0m.2-.4h0m.1-4.5h0m.1 1.2h0m.2 2.7h0m.1 2.5h0m.1-6.9h0m0 2.4h0m.1 2.1h0m.2 5.7h0m.1-7.6h0m.1 3.3h0m0-5.3h0m0 5.1h0m.2 4.5h0m.1-10h0m0 5.8h0m.1-2.4h0m.3 4.5h0m0-6.2h0m.1 5.7h0m0-3.6h0m0-1h0m.1 2.5h0m0-5.8h0m0 4.2h0m.1-3.4h0m.3 2.5h0m.1-3.5h0m0 0h0m.1 5.8h0m.8-.9h0m.1 3.5h0m0-8.4h0m.1 2.9h0m.1-1.4h0m0 5.7h0m.2-3.3h0m0 4.3h0m.3 3h0m0-3.5h0m0-10.8h0m.2 5.2h0m.2 11.3h0m0-8.9h0m.1 1.6h0m0-2.1h0m.1 5.3h0m.1-.5h0m0-9h0m.1 1.5h0m.1 3.9h0m0 2.2h0m.1-7.3h0m0 7.1h0m0-2.5h0m.1-4.5h0m.2 7h0m0 3.3h0m.5-6.6h0m0-4.9h0m.1 3.4h0m.2 5.6h0m0-7h0m.1 2.5h0m.3 1.9h0m0-6.5h0m0 7.1h0m.1-6h0m0 5.4h0m.2-3.7h0m0 3.3h0m.1 1.6h0m0-3.9h0m0 1.4h0m0 2.6h0m.1-8.2h0m.2 9h0m0-10.6h0m.1 9.2h0m.1-3.7h0m0 5.1h0m.1 1.2h0m0 .3h0m0-3.6h0m.2-2.8h0m.1 5.9h0m0 .3h0m.1-4.4h0m.1 4.7h0m0-5.5h0m0 .9h0m.1 3.9h0m0-5.1h0m0 1.9h0m.1-.4h0m0-1.4h0m0 0h0m.2 5.7h0m0 1.5h0m0-8h0m.1 3.3h0m.1 1.2h0m.1-7.8h0m.3 .9h0m0 5.2h0m0-4.4h0m.1 5.3h0m.1-1.9h0m0 .6h0m.1-1.9h0m0 5.4h0m.1-3.8h0m.2 1.2h0m0-3.1h0m.1 2h0m.1 4.3h0m.4 .2h0m.1-7.6h0m.2 6.8h0m.1-6.8h0m0 8.1h0m.1-8.5h0m0 2.8h0m0 .6h0m.2-3.4h0m0 8.6h0m.3-9.4h0m.1 .7h0m0-.3h0m0 2h0m.1 9.8h0m0-4.7h0m.1 1.2h0m.1-11.7h0m0 10.5h0m0-8.7h0m0 2.4h0m0-1.9h0m.3 3.1h0m0-3.5h0m.1 5.8h0m0 3.5h0m.1-8h0m0 2.3h0m.1 2h0m.1 2.3h0m0 1.5h0m.1-3.5h0m.2 6.1h0m0-10.2h0m.1 5.6h0m0-3.2h0m0 2.1h0m.1 3.3h0m.1 .7h0m.1-.3h0m.1-7.9h0m.4-.5h0m0 1.3h0m.1 6.9h0m.1-5h0m.1 6.6h0m0-7.7h0m0 4.1h0m.1-7.4h0m.1 3.4h0m.1-5.5h0m0 10.5h0m.5-7.3h0m0 8.7h0m.1-9.3h0m.1 .8h0m0 7.4h0m.1-5.4h0m0-5.2h0m.1 3.6h0m.1 2.5h0m0-1.9h0m.1 1.6h0m0-7.8h0m0 10h0m.1-.7h0m0 2.3h0m.2-.8h0m.1-1.3h0m0 .1h0m0-4h0m.1 6.1h0m.2-2.5h0m0-2.4h0m.1-1h0m0-.6h0m.1 2.5h0m.1-1.7h0m.2 3.7h0m.2 2.1h0m.1-2.8h0m0-4.7h0m.1 3.8h0m0 5.6h0m.2-9.2h0m.2 .6h0m.1 9.6h0m0-1.9h0m.1-4.5h0m.1 3.8h0m0-6.5h0m.1-1.2h0m.1 4.9h0m0-7.9h0m0 7.9h0m.4-3h0m.2 5h0m0-8.2h0m.2 10.9h0m0-11.7h0m.2 9.4h0m0-3.2h0m0 2.4h0m.2-3.5h0m.1 6.7h0m0-3.4h0m0 4.1h0m.1-8.6h0m0-1.1h0m.1 6.6h0m0-4.5h0m.1 2.3h0m0-.3h0m0 4.6h0m.2-7.9h0m.1 6.8h0m0-1.4h0m.1 1.7h0m.1-3.9h0m0 5.8h0m.1-4.3h0m.1 .9h0m.1-6.8h0m0 6.9h0m.1-1.7h0m.4 .7h0m.1-2.5h0m.1-1.4h0m0 3.3h0m0-3.8h0m.2 1.8h0m.1-5.1h0m.2 6.8h0m0 1.5h0m.1-.1h0m0 2.1h0m.1-3.6h0m.3-1.5h0m0-5.2h0m0 6.8h0m.1-.5h0m0-4.1h0m0 4.5h0m0-2.6h0m.2 0h0m.1 7.1h0m.1-4.7h0m.1-4.3h0m.3 .7h0m.2 7.5h0m.1-.7h0m.2-.8h0m.1-5.1h0m.1-2.3h0m0 4.2h0m.1 .4h0m.1 1.8h0m0 3.5h0m0-8.5h0m.3 7.1h0m.1-10.8h0m0 11.9h0m.1-6.3h0m.2 2.3h0m0-.6h0m0 3.8h0m.2-6.3h0m.2-1.4h0m.2-.6h0m0 2.3h0m0 2.7h0m0 3.5h0m.2-2.1h0m0-7.2h0m0 6.1h0m.1-9.5h0m0 13.1h0m0-5.6h0m.1-1.5h0m.1 6.9h0m.3-3h0m0-3.7h0m.1 2.6h0m0-3.8h0m.1 2.4h0m0-7.6h0m.1 8h0m0-4.7h0m.1 7h0m0-3h0m0-2.1h0m.1-.1h0m.2 8.9h0m.1-3.7h0m.1-4.2h0m.1 .7h0m0-2.6h0m.1 4.3h0m0 2.3h0m.1-2.2h0m.1 7.5h0m.1-3.3h0m0-8.4h0m.1 10.4h0m.1-7.4h0m.1-1.3h0m0 .6h0m.2 5.5h0m0-9.7h0m.1 8.7h0m0-5.8h0m.1 1.2h0m0 1.8h0m0 4.6h0m.1-3.7h0m.1 3.6h0m.1-.4h0m.1 .1h0m.3-1.4h0m.4-2.9h0m.1 6.6h0m.2-4.1h0m.2-1.8h0m.2-1.1h0m.2 4.4h0m.1-5.1h0m0-2.6h0m.2-1.9h0m.1 1.8h0m0 11.1h0m.2-13.4h0m0 5.4h0m0 4.8h0m.1-4.2h0m.1 1.3h0m.1 2.3h0m0-7.9h0m0 1.7h0m.3 5.1h0m.1-9.7h0m0 4.3h0m0 6.3h0m.2-3.9h0m.2-.3h0m0 1.4h0m0-.5h0m.1-2.5h0m.1 1h0m.1-3.5h0m0 10h0m.2-8.1h0m.1 2.1h0m0 1.5h0m.1-.6h0m.1 4.1h0m0-.4h0m.1-3.3h0m.1-.1h0m.1 1.2h0m.1 2.4h0m0-9.8h0m0-.1h0m.2 9.6h0m.1 .2h0m0-2.2h0m.2 .9h0m0-2.1h0m.1-.9h0m0-3h0m.1 7.3h0m0-7.7h0m0 2h0m.1-.3h0m.1 .1h0m.4-2.5h0m.1 9.1h0m0-.6h0m.2-2.4h0m.2 1.1h0m0-3.7h0m.1 5.8h0m0-4.1h0m.1-1.9h0m.1 4.6h0m0-.8h0m0-7.2h0m0-2.9h0m.1 6.8h0m0 2.4h0m.3-.2h0m.1-.7h0m0-2.8h0m.2 .5h0m0 5.9h0m.2-.9h0m0-.2h0m.1-6.5h0m.1 6.6h0m0-8.2h0m.1 3.9h0m0-4.4h0m.2 10.9h0m0-3.6h0m0-1.7h0m.1 1.8h0m.2-1.4h0m0 0h0m0-4.6h0m.1 6.3h0m0 .2h0m.1 1.6h0m0-9.9h0m0 7h0m.1 .5h0m0 2.2h0m0 2.6h0m.1-3.2h0m0-7.8h0m.1 7h0m.2-3.6h0m.1-6.2h0m.1 11.6h0m0 .4h0m.1-2.7h0m.1-6.3h0m0 4.8h0m0-2.9h0m.1 3.1h0m.2-1.3h0m0 .4h0m.1 .2h0m0 .3h0m.2 3.8h0m0-.5h0m.1-2.3h0m0 2.7h0m.4-8.2h0m0 .1h0m.1 .6h0m.1 6.9h0m.1-4.6h0m.2-1.2h0m.2 3.1h0m0 2h0m.1-6.2h0m0 .1h0m0 5.7h0m.1-4.3h0m0-1.3h0m.1 1.9h0m.1-6.9h0m.1 4.4h0m0 4.9h0m.2-1.6h0m0-.4h0m.1-1.3h0m.2 3.2h0m.1 .8h0m0 1.1h0m.2 2.8h0m0-1.4h0m0 1.3h0m.1-8.9h0m0 7.7h0m.1 .5h0m.1-6.7h0m0 3.7h0m0-4.9h0m.1 6.3h0m0-5.7h0m0 4h0m.1 2.7h0m0-5.6h0m0 4.2h0m.3-4h0m.1-3.5h0m.1 2.7h0m.1-2.2h0m0 2.4h0m.2-.8h0m.1 6.8h0m.1 .2h0m0 .8h0m.4-1.6h0m0 1.2h0m0-.9h0m.1 1.6h0m.1 3.4h0m0-12.2h0m.1 5.6h0m.1 1.6h0m0-7.4h0m0 4.5h0m.1 2.4h0m.1-1h0m0-1.1h0m0-3.2h0m.1-2.8h0m0 5h0m.1 5.4h0m.3-13.3h0m0 13.2h0m.1-3.7h0m.1-4.8h0m0 2.3h0m.1-2h0m.2 8.3h0m0-5.4h0m.1 5.8h0m.3-9.1h0m0 .2h0m.1 0h0m.2 9.6h0m.1-12.2h0m.3 7.8h0m.1-5.9h0m0 7.1h0m.1-4.7h0m.1-4.1h0m.5 1.9h0m0-.1h0m0 5.3h0m0 .3h0m.1 4.4h0m.1-11.5h0m0 4.3h0m.1-4.2h0m0 11.8h0m.2-8.3h0m.1 4.4h0m0-6.1h0m.1-.5h0m0 7.8h0m.1-7.9h0m.1 2.3h0m.1 1.1h0m.2-.3h0m0-6.6h0m.2 4.1h0m.1 4h0m.1 .9h0m.1 1.9h0m.1-1.3h0m0-3.9h0m0-1h0m.2 6.1h0m0 .7h0m0-6.8h0m.1 7h0m.1-3.4h0m0-.4h0m.1-4.6h0m.1 .7h0m.2-1.8h0m0 2.2h0m.2-.5h0m0 7.3h0m.1-9.7h0m.3 8h0m.2-7.2h0m.1 3.7h0m.1 .4h0m0 5.5h0m0-9.7h0m0 10.2h0m.1-3.9h0m0-5.1h0m.1 2.8h0m0-.2h0m.1-.2h0m0-3.5h0m0 5.9h0m0-3.5h0m.1 .3h0m.2 1.7h0m0-5.6h0m.1 8.6h0m0 .5h0m.1-5.2h0m.1-5.1h0m.1 4.9h0m.1 1h0m0 3.3h0m.1 2.8h0m0-6.5h0m.1-1.2h0m0-.8h0m.1 7.1h0m0-6.4h0m.1-1.8h0m.1 7.6h0m0-.3h0m.2 5.9h0m0-13h0m.1 6h0m.1 1.9h0m0-6.2h0m.1 5.1h0m.2 .3h0m0-5.6h0m0-.9h0m.1 3.4h0m0 5.5h0m.3-9.3h0m0 5.2h0m.1 5.2h0m0-4h0m0 .7h0m.1-.6h0m.1-5h0m0-.9h0m0 6.2h0m.1 1h0m0-8h0m0 4h0m.3 3.6h0m.1-6.9h0m0 1.3h0m0 4.7h0m.2-8.1h0m.1 6.1h0m0-.1h0m0-.6h0m.1 2.6h0m.1-1.3h0m0-.5h0m.1 1.9h0m0 2.6h0m0-9.8h0m.1 8h0m.1-3.8h0m.1-.8h0m.2-1.9h0m.1 4.4h0m0-4.5h0m0 3.2h0m0 4.8h0m.1-.1h0m.1-7.9h0m.1 1h0m.1 2.9h0m0-9h0m.1 3.8h0m0 5.2h0m.2 1.5h0m0-5.5h0m0 2.6h0m.2-3.5h0m.1 2.9h0m.1-1.7h0m.2-3.9h0m0 7.4h0m.1-4.8h0m.1 9.5h0m0-1.6h0m0-2.9h0m0 4.2h0m.1-3.9h0m0-.2h0m.1-3.5h0m.1-4.5h0m.1 8.1h0m.1 .2h0m0-4.6h0m.3 8.5h0m0-.9h0m.2-.8h0m.1-3.4h0m.1 8.7h0m.1-10.7h0m.1 6.1h0m0-6.1h0m.2 2.1h0m.1-3.7h0m.2 8.1h0m.1-9.3h0m.1 7.9h0m0-8.8h0m0 12.2h0m0-2.4h0m.2 2h0m.1-5.6h0m.1 2.5h0m.1-5.2h0m0 5.2h0m.1 1.2h0m.2-4.1h0m0-2.9h0m0-2.5h0m.1 7.6h0m0-1.1h0m.1-.9h0m.1 1.5h0m0 .6h0m0-3.7h0m.3 3.2h0m0 1.6h0m0-5.8h0m0 .1h0m0 3.7h0m.1 6.3h0m.2-6.3h0m.3 .6h0m0 .6h0m0-3.4h0m.4 .5h0m0-3.5h0m0 2.3h0m.1 .3h0m0 2.7h0m.2 7.4h0m0-14h0m.2 4.6h0m.1 4.3h0m0-3.6h0m0-4.2h0m.1 1.3h0m.1 6h0m.1-.4h0m.2-1.1h0m.1 4.7h0m0-8.2h0m.2-4.4h0m.2 10.9h0m.1-1.4h0m0-.6h0m0 1.9h0m.1-7h0m.1 3.6h0m.1 2.2h0m.1 1h0m.1 1.2h0m0 .5h0m.2-10.3h0m.1 4.8h0m0-2.7h0m.1 2.9h0m0-.6h0m.1 2.1h0m0 .3h0m0-8.4h0m0 7.9h0m.1 1.8h0m.1-5.3h0m0-.1h0m0-2.5h0m.2 7.7h0m0-6h0m0 1.6h0m.1 6.3h0m0-6.9h0m.2 3.6h0m0 2.8h0m0-4.8h0m0 4.3h0m0-5.4h0m.2-2.5h0m.1 .8h0m0-1.9h0m0 2.4h0m0 7.8h0m.2 .6h0m0-2.5h0m.1 1.2h0m.1-.2h0m0-1h0m0-4.2h0m.1 3.3h0m0 1.6h0m.1-8.1h0m0 8.7h0m.2-3h0m0 2.2h0m.2-9.1h0m.1 5.3h0m.2 2.7h0m.1 .2h0m0-1.6h0m0-4.5h0m.3-3.4h0m.2 7.4h0m.3 1.1h0m0-5.5h0m.5 7.9h0m.1-8.2h0m.1 8.7h0m.2-3.6h0m.1-1.4h0m.1 1.1h0m0-1.1h0m.1-4.4h0m.1 12.6h0m0-4h0m.1-6.4h0m.2 3.1h0m.7-4.3h0m0 1.1h0m.1 3.5h0m.1-5.3h0m0 9.6h0m0-8.4h0m.1 6.6h0m.2-4.6h0m.2 4.9h0m.1-4.2h0m0 2.1h0m0 3h0m.1-2h0m0-6.4h0m.1 2.3h0m0 1.6h0m0 4.5h0m0-5.6h0m.1-4.5h0m.1 9.6h0m0 2.1h0m0-8.5h0m0 2.1h0m.4-.4h0m.1 3.8h0m0-1.9h0m.2-1.9h0m0-4h0m0 4.5h0m.1 1.5h0m.1 .9h0m0-2.2h0m0 5.3h0m.4-8.9h0m0 .1h0m.1 3.7h0m0 5.4h0m.1-9h0m0 7.3h0m0-7.3h0m0 .9h0m.1 5.2h0m.1-7.6h0m0 6.6h0m.1-4.9h0m.1-2.4h0m0 2.8h0m.1-1h0m.1-1.1h0m0 7.8h0m.2-8h0m.1-1.2h0m0 2.9h0m0 2h0m.1 5.3h0m0-2.2h0m0-4.3h0m0 5h0m.4-.2h0m0 .4h0m.1-3h0m0 3.2h0m0 2.7h0m0-6.4h0m0 7.7h0m.1-1.6h0m0-3.6h0m.1 1.7h0m0-6.6h0m.1 1.4h0m0 .2h0m.1 0h0m0-5.2h0m0 13.8h0m.1-9.4h0m0 .1h0m.1-1h0m.2 2h0m0 4h0m.1-2.6h0m.1 2.8h0m.1 .4h0m.2 .8h0m0-5.5h0m.1 2.6h0m0-.5h0m.1-1.6h0m0 5.4h0m.1-2.3h0m0-.4h0m.3-.6h0m.1-8.9h0m.1 3.6h0m0 9.2h0m.1-5.9h0m.1 3.1h0m.1-1.4h0m.2 1.9h0m.2 4.9h0m0-4.2h0m0-6.8h0m0 4.8h0m0-6.3h0m0 7.3h0m.3-1.2h0m.1 2.4h0m.1-2.6h0m.1-2.4h0m0-4.1h0m.2 2.8h0m0 7.9h0m0-10.4h0m0 13.9h0m.2-3.9h0m0-1h0m.3-3h0m0-1.3h0m.1 3.2h0m0 2h0m.1-6h0m.2 .9h0m.1 1.4h0m.1 2.2h0m.1-6h0m.2 2.3h0m0 3.3h0m0-3.6h0m.3 6.2h0m.1-.7h0m.1-6.2h0m0 2h0m.1-5.3h0m.1 3h0m0 1.5h0m.2-2.1h0m.1 2.4h0m0 .7h0m0-3.6h0m0 4h0m.2-3.8h0m.1-1.4h0m0 8.1h0m.1-3.2h0m0-3.7h0m0-4.7h0m.1 3.8h0m.3 6.2h0m.1-1h0m.1-.4h0m.2-6.5h0m.3 9.5h0m.2-.9h0m0-4.3h0m.3-3.6h0m0 6h0m0 2.2h0m0-5.9h0m.1 2.8h0m.1-4.6h0m0 3.8h0m.2 6.3h0m0-3.7h0m.2-.8h0m.2-6.1h0m0 6.3h0m0-2.5h0m.3-2.4h0m.2 1.7h0m.2 1.7h0m.1-.9h0m.1-.2h0m.1-4.4h0m0 8h0m.1-6.6h0m0 4.2h0m.1 3.2h0m.1-2.7h0m0-.8h0m.1 6.2h0m0-10.1h0m0 5.5h0m.1-2.3h0m.1-3h0m.1 6.8h0m.1-2.4h0m0-4.8h0m.3-1.9h0m.1 1.2h0m0-.8h0m0 2.3h0m.2 8.7h0m0-3.5h0m0-.7h0m.1-1.3h0m.1-4.2h0m0 5.7h0m.2 .7h0m0-3.1h0m.2-1.6h0m.1 3.9h0m.1-1.5h0m.3 5h0m.3-5.1h0m.1-.3h0m0 6.2h0m.1-9.3h0m0-1.7h0m.2 2.8h0m.1 4.7h0m0 1.1h0m.1 3.8h0m0-3.2h0m0-8.9h0m.1-.1h0m0 5h0m.2-6.1h0m0 11.2h0m0-7.5h0m.2 4.2h0m.2 .5h0m0 1.7h0m0-2h0m0 .9h0m0-3.9h0m.1-1.2h0m.3-.8h0m0 4.9h0m0-6.3h0m.1 2.7h0m.2 4.4h0m.1 .6h0m0-7.8h0m.1 7h0m0-6.6h0m.1 4.2h0m0 .8h0m.1 2.2h0m0-7.5h0m0-2.2h0m.1 11.6h0m0-.9h0m.1-1.2h0m0-1.7h0m0 2.4h0m.1 .2h0m.1-2.3h0m0 2.6h0m0-1h0m.1 2.4h0m0-5.9h0m0-2.2h0m.1 4.1h0m0-1.3h0m.2-1.1h0m0-.7h0m.1 8.5h0m0-4.7h0m.2 3.4h0m.1 3.4h0m.1-9.5h0m0-5.4h0m0 4.7h0m0 6.4h0m.2-7.8h0m0 6.6h0m.1-.4h0m0-8.5h0m0 5.3h0m.2-2.7h0m0 4.9h0m.3 4.2h0m0-2.5h0m0-5.2h0m.1 3.2h0m0-3.6h0m.1-.7h0m.1-1.2h0m0 4.5h0m0 .2h0m.2 .7h0m0 .8h0m0-3.8h0m0 6.9h0m.2 .5h0m.2-3.6h0m.1-2.9h0m0-1.9h0m0 1h0m0-2.5h0m0-.6h0m0 4.8h0m.1 3.3h0m.1-4.8h0m0-1.1h0m0-.4h0m.1 5.7h0m0-.2h0m.1-1.6h0m0-1.5h0m0-3.9h0m.1 1.2h0m.2 4.5h0m0-7.5h0m.1 8.5h0m0-7.4h0m.1 2.2h0m.2 6.5h0m.1-4.9h0m.1-.5h0m0 4.3h0m0 .3h0m.1-7.2h0m0 4.5h0m.1 2.5h0m.3-2.5h0m0-1.8h0m0 2.8h0m0 2.5h0m0-1h0m0-4.7h0m.1 5.2h0m.2 1.2h0m0-1h0m.1-6.5h0m.2 3h0m.1 .3h0m.1 0h0m0-3.3h0m0 2.2h0m.1-2.7h0m0 2h0m0 .5h0m.3-3.8h0m.1 3.3h0m0 .5h0m.1-4.6h0m0 2.5h0m.1-1.8h0m0 7.8h0m.1-.4h0m.1-2.8h0m.1-2.1h0m.1 3h0m0-3.1h0m.1 1.6h0m0 3.3h0m0 1.3h0m0-9.9h0m.1 7.8h0m.1-4.3h0m0 1.2h0m0 2.9h0m.1-3.7h0m.1 .8h0m0 5.1h0m0-1.5h0m.2-1h0m0-5.4h0m.2 7.4h0m.1 2.3h0m.1-3h0m.1-3.7h0m.1-.5h0m0 1.7h0m.1-.8h0m.1-3.3h0m0 5.9h0m.1 1.6h0m0-4.1h0m.1 3.6h0m.2 .4h0m.1-4.7h0m.1 3.1h0m.1-5.9h0m.1-.9h0m0 7.5h0m0-1.9h0m0-1.2h0m.1 1.4h0m0 .2h0m0-7.6h0m0 8.6h0m0 .4h0m.1-2.5h0m0 3.1h0m.1-2.8h0m0-.3h0m.1-.2h0m0-3.5h0m0 6.4h0m.1-6.3h0m0 5.3h0m0-3.3h0m.1 3.2h0m.1 1.1h0m.1 1.2h0m.2-.2h0m.2-4.2h0m0 .3h0m0-1.9h0m.1 1.4h0m0-3.4h0m0 2.6h0m0 2.2h0m.1 .8h0m.1 1.2h0m.1-1.1h0m0-2.3h0m.4 4.2h0m.1 2.1h0m.1-9.5h0m.1 9h0m0-9.9h0m.3 2.1h0m0 2.3h0m0-8.5h0m.1 10.7h0m.1 6.8h0m.2-8.8h0m.1-3.9h0m0-.8h0m.1 3.9h0m.1 1.1h0m0 3.8h0m.1-3.5h0m.1 4.7h0m.1-1h0m0-7.9h0m.3 6.3h0m0 4h0m.2-13.1h0m.1 11.7h0m.3-1.5h0m.2-5.3h0m.2 2.5h0m.2-1.1h0m.1 4.1h0m.2 .9h0m0-3.8h0m.1-.5h0m.1-1.5h0m.1-3.5h0m.1 8.4h0m.1-5.8h0m0-2.2h0m0 4h0m.1-4.2h0m0 8.1h0m.4-1h0m.1 .9h0m.1-.2h0m.1-4.3h0m0-.9h0m0-2h0m.1 3.7h0m0-2.9h0m0-1.6h0m0 8.6h0m.2-7h0m.1 7.1h0m.1-11.3h0m0 12.2h0m.1-6.1h0m0-1.7h0m0-1.9h0m.1 6.6h0m0-.8h0m.1-6.3h0m.4 1.3h0m0 4.1h0m.1 3h0m0-9.4h0m.1 5.7h0m0-1.6h0m.1 8.2h0m.1-.9h0m0-7.8h0m.1 10.1h0m0-6.2h0m0-.2h0m.1 3.2h0m0-9.5h0m.1 11h0m.1-1.2h0m.2-7.5h0m0 7.2h0m.2-5.3h0m.1 3.4h0m0 3.3h0m.1-9.1h0m0-2h0m0 7.3h0m.5-6h0m0 6.6h0m0-8.3h0m.1 13.1h0m.2-13.6h0m.2 6.3h0m.1 .4h0m0-.7h0m.2 3.3h0m0-1h0m0 1.4h0m.1-8.2h0m.1 1.1h0m.1-3.1h0m0 8.1h0m0-.2h0m0 4.8h0m.1-.4h0m0-8.8h0m.1 7.6h0m0-5.2h0m0 .9h0m.2-1.4h0m.1 1h0m.1 4.9h0m.1-9.1h0m.1 10.6h0m0-5.8h0m.1-1.7h0m.1 4.7h0m0-3.1h0m0-2.4h0m.1-3.6h0m0 3h0m.1-2.6h0m.2 2.4h0m.1 6.8h0m0-8.7h0m.4 2.9h0m.1-.7h0m.2 3.5h0m0 2.8h0m.1-5.3h0m.1 4.1h0m.2-4.4h0m.4 4.9h0m.1-1.3h0m.2-.8h0m.1-8.8h0m0 13.1h0m0-10.7h0m0 4h0m.2-1.4h0m0 8.6h0m0-3h0m.2-5.1h0m.1 4.2h0m.1-3.5h0m.1-1.3h0m0 3.2h0m.1-3.7h0m.1 5.2h0m.1 .1h0m0-4.2h0m.2-1.8h0m0 .1h0m.1 7h0m0-1.1h0m.1-3.4h0m.1-1h0m.1 8h0m.1-2.2h0m.1-4.5h0m.1-2h0m0-3.1h0m.2 7.9h0m.1-1.3h0m0 1.2h0m.1 4.6h0m0-.7h0m0-6.6h0m0-2.6h0m.1-2.2h0m.1 7.6h0m.1-4.4h0m.1 1.8h0m0-7.3h0m.3 13.8h0m0-6.6h0m0 6.5h0m.1-6.8h0m.1-.6h0m0 2.7h0m0 1.8h0m.1 .3h0m.2-3.9h0m0 .4h0m.1 5.3h0m0-3.6h0m.1 1.9h0m.2-.6h0m.2-.5h0m.1-.8h0m0 .1h0m.1 2.3h0m0-3.8h0m.1 .3h0m.1 6.3h0m0-4.2h0m.1 2.4h0m.1-3.6h0m0-1.5h0m.2 3.1h0m0-.6h0m0-4.9h0m.1-1.3h0m.1 2.6h0m0-5.3h0m.2 10.9h0m0-1.8h0m.1-1.9h0m0-3h0m0 4.1h0m0-3.2h0m.1 6.9h0m0-3.5h0m.2 2.3h0m0-.5h0m.2-3.5h0m.1 5.9h0m0-9.2h0m.1 5h0m.1 1.5h0m.2 4.5h0m.1-9.1h0m.1 7.3h0m0-9.6h0m.1 2.4h0m0 5h0m.1-6.6h0m.2-1.6h0m0-1.2h0m.2 11.2h0m0 2h0m.2-8.4h0m0 4.8h0m.1-1.5h0m0 1.7h0m.2-4h0m0 .2h0m.1-5.2h0m.1 10.8h0m0-3.5h0m.1 1.5h0m0-6.5h0m.2 2.2h0m.1 2.6h0m.2-5.4h0m.1 8.3h0m.1 .5h0m0-6.8h0m.1-.7h0m0 5.1h0m.2-.2h0m0 1.9h0m0-4.5h0m.1-3.4h0m.2 6.9h0m.3-.1h0m.1-9.1h0m.2 3.4h0m.3-4.6h0m0 4.1h0m0-2h0m.1 3.1h0m0 6.7h0m.1-13.7h0m.1 9.2h0m0-3h0m0-1.5h0m0 7.1h0m.1-1.7h0m.1 2.2h0m.2-2.9h0m.1-8.7h0m.2 6.5h0m.2 1.2h0m.2-8.1h0m.2 12.2h0m.1-.2h0m0-.8h0m0 2.4h0m.1-3.2h0m.1-.5h0m0-2.6h0m0-2.8h0m.2 8.7h0m0-7.7h0m.1 3h0m.3-3.2h0m0 6.4h0m.1-1.6h0m0-2h0m.3 1.1h0m.1-1.5h0m.3 .1h0m0-2.9h0m0 8h0m.2-6h0m.1 2.1h0m0-1.9h0m0-3h0m.1 0h0m0 3.6h0m.3 4.1h0m.1-12.1h0m.2 10.9h0m0-6h0m0 2.2h0m.1-1.9h0m.1 4.6h0m.1-1.7h0m.2 1.7h0m.3 1.3h0m.2 1.9h0m0-5.8h0m0 6.4h0m.1-9.6h0m.1 11.1h0m0-7.7h0m.1 1.9h0m0 6.2h0m.1-9.3h0m.1 2.9h0m.1-7.6h0m0 5.7h0m.2 3.3h0m.1 1.5h0m0-2.2h0m.1-1.6h0m.1 1.5h0m0-2.7h0m0-1.1h0m.1 9.7h0m0-3.1h0m0-1.1h0m0-1.4h0m.1-5.5h0m0-.3h0m0 11.2h0m0-3.1h0m.1-7.2h0m.1 .3h0m.1 4.1h0m0 7.2h0m.1-10.6h0m0 2.3h0m0-3.2h0m.2 6.3h0m.1-.4h0m.1-10.7h0m.2 6.3h0m0 4.7h0m0 1.5h0m0-4.4h0m.1-2h0m0 2.2h0m.2 3.1h0m0-.2h0m.1-3.4h0m0 6.1h0m.3 .6h0m0-1.8h0m.1-5.7h0m0-.5h0m.4 .6h0m.2 2.2h0m.1-4.9h0m.1 6.8h0m.2-1.9h0m0-1h0m0-.3h0m.2 3.2h0m0-1.6h0m.1 .4h0m.1-4.6h0m0 2.8h0m0-2.9h0m.2 3.6h0m0 1.6h0m0-6.4h0m.1 4.7h0m0 2.7h0m.1-1.8h0m.1 1.7h0m0-.6h0m0-.3h0m.1-1.2h0m0-3.9h0m0 5.1h0m0-4.2h0m.1 6.4h0m.3-4.8h0m0-4.9h0m0 2.7h0m.3-2.9h0m0 8.9h0m0-2.4h0m.1-5.8h0m0 3.8h0m.1 4.2h0m0 5.1h0m.1-12.4h0m.2 6.3h0m0-2.9h0m.2 2.8h0m.1-3.8h0m.1 1.5h0m.1 8.6h0m.2-7.4h0m.2 3.7h0m.1-1.3h0m0-4.2h0m0 .7h0m0-3.1h0m.1-3.2h0m.1 1.1h0m.2 6.1h0m.1-4.5h0m0 1.4h0m0 6.6h0m.1-.5h0m.1-7.9h0m0-1.5h0m.2 .1h0m0 9.4h0m0-6h0m.1 1.9h0m0-.8h0m0 1.3h0m.1-3.6h0m.2 1h0m.1 5.1h0m0-.1h0m.1 5.4h0m.1-6.9h0m.1-4.1h0m0 3h0m0 1.8h0m0 2.3h0m.3 .3h0m0-9.2h0m.1 6.5h0m0-2.8h0m.2 2.4h0m.1-4.1h0m.1 4.2h0m0-6h0m0-.5h0m0 1.8h0m.1 6.4h0m.1-2.9h0m.1-3.4h0m0 2h0m.1 1.7h0m.2-2.7h0m0 5.3h0m.1 3.1h0m0-7.3h0m.2-2.5h0m.1 .3h0m.2 6.6h0m.1-1.3h0m.1 3.6h0m0-11h0m.1 7.3h0m.1-.1h0m0-1.9h0m.1-8.7h0m0 11.1h0m.1-.6h0m.1-9.9h0m0 8.7h0m.3-.6h0m.1-.2h0m.1 5h0m0-4.6h0m.1 5h0m0-11.6h0m.1-.9h0m.1 2.7h0m.3 .9h0m.2-.5h0m0 11.1h0m.1-11.6h0m.1 6.7h0m.1 .5h0m0-1.4h0m.1-5.4h0m.1 8.9h0m0-7.9h0m.1 7.3h0m.2-3.9h0m0-4.3h0m.1 1.2h0m0-.5h0m.1 2.1h0m.1-1.9h0m.1 4h0m.1-3.3h0m.1 .7h0m0 .6h0m.1-3.6h0m.1-1.7h0m.4 13.3h0m.1-9.3h0m0-2.9h0m.2 4h0m0 .9h0m0-3.6h0m.1 2.9h0m0 4.5h0m0-8.3h0m.1-.9h0m.1 9.7h0m.1-9.3h0m0 3.7h0m.2-2.4h0m.1 4.8h0m.1-7.3h0m0 2.8h0m.1-.5h0m0 3.9h0m.1-.3h0m.2-.4h0m0-3.6h0m.4 2.4h0m0 2.3h0m.1 7.1h0m.1-9.2h0m.1 6.4h0m.1-8.4h0m.1 3.3h0m0 4.6h0m0-7.3h0m.1 3.1h0m.2-.9h0m.1-2.4h0m.1 5.7h0m.2-6.6h0m.4 1h0m0-3.2h0m.3 11.2h0m0 .8h0m.2-9.5h0m0 1.1h0m0-1.8h0m.1 3.6h0m0-2.1h0m0 3.1h0m.1 .3h0m.1 2.5h0m0-6.7h0m.1 1.2h0m.2-2.4h0m0 6.4h0m.2 1.3h0m0-4.6h0m.1 3.8h0m.1 1.1h0m0 .9h0m.1-2.2h0m.2-5.7h0m0 5.7h0m.1-5h0m0 4.5h0m0-3.1h0m.1 2.5h0m0 5h0m.2-3.9h0m.1-4.6h0m.1 7.7h0m.2-1.7h0m.1-2.8h0m.1-1.7h0m.1 1.8h0m.1 5h0m0-6.5h0m0 4.8h0m.1 2.6h0m.1 .1h0m.2-2.7h0m0 1h0m.2-1.5h0m0-2h0m.1-3.4h0m.2-2.2h0m0-.8h0m.1 4.7h0m0 4.4h0m0-3.7h0m.2-2.9h0m.1-.5h0m.1 7.4h0m0-4.5h0m.1-3.2h0m.3 .7h0m.1-.7h0m0 .7h0m0 2.7h0m.1 3.2h0m0-5.1h0m.1 5.9h0m0-2h0m0-4.5h0m.2 2.9h0m0 1.4h0m0-5.7h0m.2 3.3h0m0 4h0m.1-7.3h0m0 4.1h0m0-5h0m.2 8.5h0m.2-1.5h0m.1-8.7h0m.1 7.8h0m0-4h0m.1-1.8h0m0 3.1h0m0 2.7h0m.1-4.6h0m0-.7h0m0 2.6h0m0 3.3h0m.1-.1h0m.2 .7h0m0 4.6h0m.2-7.2h0m.3 8h0m0-5.5h0m.1 4.1h0m0-9.9h0m.1 2.1h0m0 5.5h0m.3-4.6h0m0 4.8h0m.1 .8h0m0-7.8h0m0-2.6h0m0 9.5h0m.1-10.7h0m.1 7h0m0 4.5h0m.1-4.4h0m.3 3h0m.1 .1h0m0 .2h0m0-1.5h0m.1-4.4h0m.3 7.5h0m.1-9.9h0m0 3.6h0m.1 3.2h0m.5-4.8h0m.1 .3h0m0 6.6h0m.1-12.8h0m.1 8.8h0m.1-5.7h0m0 9.5h0m.1-2.2h0m.1-2.5h0m0 3.1h0m.2-5.2h0m.1 7.6h0m.4-.1h0m.1-2.9h0m0 3.3h0m.1-6.7h0m.1-3h0m.1 1h0m.1 1.8h0m0 3.5h0m.2 1.5h0m0 5.7h0m0-12h0m.1 1.7h0m0 7.6h0m.1-1.6h0m.1-.9h0m.1-2.7h0m.2 1.5h0m0 3.3h0m.1-3h0m.1-2.4h0m.2 4h0m0-4.8h0m0 3.5h0m.4-5.5h0m0 4.5h0m.2-6.4h0m0 5.8h0m.1 2.7h0m.1-3.1h0m.1-4.9h0m0 6.5h0m.1 2.3h0m0-11.3h0m.2 8.6h0m0-3.4h0m.3 2.7h0m0-1.9h0m.1-3.3h0m.1 7.2h0m0 .9h0m.1-6.2h0m.1 4.7h0m0-6.1h0m.1 7.7h0m.2-10.7h0m0 12h0m.1-1.5h0m0-5.3h0m.2 2.9h0m.1 2.8h0m0-.9h0m.1-.7h0m.4-1.1h0m0 .8h0m.3-1.1h0m0-5.4h0m.1-.1h0m.2 7.6h0m0-.3h0m.2 .6h0m0-9.5h0m0 6.4h0m.1 3.5h0m0-9.7h0m0 8.2h0m0-5.2h0m.2-.9h0m0 2.5h0m.1 6.1h0m.5-7.9h0m.1 1.4h0m0 2.8h0m.2 3.1h0m.1-1.2h0m0 1.2h0m.1-4h0m0 1h0m.1-1h0m0 3h0m.3 .9h0m.1-1.8h0m0-7.4h0m.1 7.9h0m0 .1h0m.1-5.6h0m0-.2h0m.2-3.6h0m.1 6.7h0m.1 1.9h0m.3 2.8h0m0-8.9h0m.1 2.2h0m0 2.6h0m.1 2.6h0m.1-9.2h0m0 9.6h0m0-3.7h0m.1-2.9h0m.1-1.1h0m0 2.2h0m.5 .2h0m0 2.1h0m0-5.2h0m.1 7.9h0m0-6.3h0m.2 .9h0m0-.1h0m.3 2.1h0m0 3.6h0m.1-7.4h0m.1 10.1h0m0-6.2h0m.4 6.2h0m.1-5.6h0m.1 2.7h0m.1-6h0m0 7.7h0m0-6.3h0m0 .1h0m0 3.5h0m.1 .6h0m.1-5.3h0m0 7.8h0m.1-1.6h0m0-.4h0m.1-.2h0m0-.9h0m.1-1.2h0m.1-2.5h0m.1 6.7h0m0-6.3h0m.1 4.3h0m0 3.3h0m.2-8.1h0m.2 2.1h0m.1 2.2h0m0-1.7h0m.4 2.4h0m.1-.6h0m0 3.2h0m.1-4.1h0m.1 1h0m0-7.7h0m0 9.7h0m.1 2.3h0m0-6.7h0m.1 .7h0m0-2.8h0m.1 .4h0m.1 4.5h0m.2-8.1h0m.1 1h0m0 3.4h0m.5 3.3h0m.1 .2h0m0-9.2h0m.3 10.4h0m0-9.2h0m0 .1h0m.1 7.6h0m0-4.6h0m.1 .8h0m.2 3.4h0m0 .2h0m0-.1h0m.1-1h0m.1-5.5h0m.1 3h0m0 3.4h0m.1-2.9h0m0 .9h0m.1-5.6h0m0 4.3h0m0 .9h0m0 3.2h0m.3-1.8h0m0-2.5h0m.4 7.7h0m.1-6h0m0-8.9h0m0 1.1h0m.2 .5h0m0 6.7h0m.2-4.2h0m0 11.3h0m.2-12.7h0m0 6.2h0m.1 1.6h0m0-3.2h0m.1-.7h0m0 4.6h0m.1-2.2h0m0 1.5h0m.1-3.9h0m.2 1.3h0m.1-3.5h0m.3 5.6h0m.1-9.7h0m0 6.2h0m.2 6.2h0m0-6.4h0m.1 1.6h0m0-2.4h0m0 7h0m0-2.4h0m.2-2.2h0m.2 1.9h0m0-7h0m.1 2.3h0m0 2.7h0m.2-8.3h0m.1 11.7h0m.1-4.5h0m.3-4.5h0m.3 13h0m0-4.2h0m0-6.2h0m.1 6.5h0m.1-2.1h0m0-.3h0m.1 2.7h0m.2 1.1h0m0-9h0m.2 7.6h0m0-2.7h0m.1-.6h0m.1 6.4h0m.1-8.6h0m.2 8.2h0m0-9.8h0m0 9h0m.1-6.8h0m.5 1.1h0m.1-2.2h0m0 3.7h0m0-2.7h0m0-2.2h0m.2 3.6h0m.1 3.7h0m.1-7.6h0m.1 .1h0m.2 9h0m0-9.6h0m.1 5.7h0m0-1.3h0m0 4.1h0m.1-1.1h0m0 1.4h0m0-13.5h0m.1 14.8h0m.1-3.9h0m.1 3.3h0m0-8.8h0m0 .5h0m.1 4.7h0m.1 4.2h0m.2-10.4h0m.1 4.3h0m.1-1.4h0m0 2.7h0m.1 4.4h0m0 .4h0m.1-6h0m0 1h0m.1 5.5h0m.2-.2h0m0-5.1h0m.3 4.9h0m0-9.4h0m.3 5.6h0m0-.4h0m0-5.4h0m.1 8.5h0m0-4.1h0m0 2.1h0m.1 2.9h0m.1-8.5h0m.2 1.1h0m.2 1.7h0m.1 4.8h0m.1-3.2h0m0-1.1h0m.1 6.3h0m.1-1.8h0m0-.7h0m.1 1h0m0-2.6h0m.1-2h0m0-4.4h0m0 4.8h0m.2 3.5h0m.1-5.7h0m0 8h0m.2-9.5h0m.2 .3h0m.1 3.7h0m.1 3.3h0m.1-3.2h0m.2-4.3h0m.2-1.5h0m0 4.1h0m.5-4.5h0m.1 3.1h0m0 3.1h0m.1 2.7h0m0-1.4h0m.1-5.8h0m.2-2.5h0m0 12.4h0m.1-2.1h0m.1-5.6h0m0 1h0m.1 3.6h0m.1-8.3h0m0 5.8h0m.2-3.1h0m.2-2.7h0m.2 11.5h0m.1-1.4h0m0-7.6h0m0-1.8h0m0 6h0m.2 3.9h0m0-8.6h0m.1 3.8h0m.1-3.8h0m0 4.8h0m.1-2.9h0m.1 5.4h0m.6-9.9h0m0 6.6h0m.1 1.8h0m0-5.3h0m.1 .4h0m0 2.6h0m.1-1.1h0m.1 4.9h0m.1-9h0m0-.2h0m0 .9h0m.2-.5h0m0 11.5h0m.1-5.5h0m0 1.6h0m.1-4.2h0m.1 5.9h0m.1-1.8h0m0-6.8h0m.1 8.9h0m.1-2.5h0m.1-6.8h0m0 2.5h0m0 5h0m.2-1.6h0m.1-8.6h0m.2 8.7h0m0-3.8h0m0 5.1h0m.2-8.1h0m.1 8.5h0m.3-4.9h0m0-5.7h0m0 5.3h0m.1 5.9h0m.1-4.3h0m.1 2.4h0m0 .2h0m.2-4.4h0m0 3.7h0m0-5.9h0m.1-1.1h0m.1 1.8h0m.1 9.8h0m0-9.9h0m0 7.4h0m.1-8.9h0m.1 1.6h0m0 3.7h0m0 1.7h0m.1-2.3h0m.3-2.7h0m0 6.8h0m.2-2.9h0m0-5.9h0m.1 5.1h0m0-4.4h0m.1 7.7h0m0 1.4h0m.1-9.9h0m.1 8h0m0 0h0m.1-8.4h0m.1 7h0m0 .2h0m.1-.5h0m0 2.4h0m0-6.6h0m0 3.6h0m.3 2h0m.1 .2h0m0-5.9h0m0 3.4h0m.1-7.1h0m.1 8.2h0m.1-4.7h0m0 4.6h0m0-3.6h0m.3-.6h0m0-4.6h0m0 7.6h0m.2 1.1h0m0 2h0m0-4h0m.1-.7h0m.3 3.7h0m0 1.9h0m.1-6.5h0m.2 1.3h0m0 6.1h0m.1-10.8h0m.2 5.8h0m0 3.9h0m.1-8.1h0m0-2.7h0m0 .7h0m.1 5.3h0m.1-2h0m0 .2h0m.1 3.7h0m.1-5.6h0m0 0h0m.1 3h0m0 .6h0m.3 2h0m.1-1.8h0m.2-1.3h0m.1-.6h0m0-.9h0m.1 4.6h0m.1 1.5h0m0-3.1h0m.1 2.8h0m.3-5.8h0m.1 4h0m0-5.6h0m.1 7.7h0m.1 2.6h0m.2-1.2h0m.1-6h0m.1-2.6h0m.1 1.7h0m.1 5.3h0m.1-1.5h0m0 3.8h0m.1-7.5h0m.1-1.3h0m.1-1.4h0m.1 5.2h0m.2 1.5h0m.3-2.7h0m.1 5.1h0m.2-4h0m.1-3.1h0m.1 4.5h0m0-2.3h0m0-1.6h0m.2-3.6h0m.1 9.6h0m.1 1.2h0m.1-4.3h0m0 4.5h0m.1-5h0m0 2.5h0m0-6.8h0m.1 6.4h0m.1-2.7h0m.1 2.8h0m.3-1.6h0m0-2.4h0m.1-.4h0m0-.3h0m.1 6.7h0m.1-4.2h0m0 1.8h0m0 4.8h0m.1-5.3h0m0-2.4h0m0 .2h0m0 2.9h0m.1 2.7h0m.1-7h0m.2 4.6h0m0 3h0m.2-3.7h0m.1-1.7h0m.1 2.2h0m0 2.4h0m0-2.8h0m.1-1.7h0m.3-1.1h0m0 2.8h0m.2 2h0m0-.8h0m0-5h0m.1-1.3h0m0 3h0m.1-3.4h0m.2 6.4h0m.1-3.1h0m.2 6.1h0m.2-9.5h0m.1 9h0m.1-4.2h0m0-1.9h0m0-.4h0m.1 4.1h0m.1-6.5h0m.2 5.8h0m.1-1.5h0m0-7.6h0m0 7.9h0m0-1.5h0m0 4.3h0m.1-5.6h0m.1-3.2h0m0 3.9h0m.1-1.1h0m0-1.7h0m0 4.9h0m.1-4.4h0m0 0h0m.1 .9h0m.1 6.9h0m.1-3.6h0m0 2.1h0m.1-1.6h0m0-1.3h0m.1-4.7h0m0 .9h0m.1 10.1h0m0-8.3h0m0 4.9h0m.2-2.3h0m0 2.4h0m0-2.4h0m.2-3.6h0m.2 3.5h0m0 2.9h0m.1-1.3h0m0 2.5h0m0-8h0m.1 3.1h0m.1 6.4h0m0-8.1h0m0-.3h0m.1 1.1h0m.1 4.8h0m.1-8.6h0m0 4h0m.1 .4h0m0-.2h0m.1-6.5h0m0 4.6h0m.1 4.5h0m.1 1.4h0m0-2.9h0m0 .5h0m0-1.9h0m0 4.3h0m0-2.6h0m.2-6.9h0m0 6.1h0m0 3h0m0-5.7h0m.1 1h0m.1 6.3h0m.1 2.9h0m.1-13h0m0 5.3h0m0-3.8h0m.2 3.1h0m.1-2.4h0m0-.7h0m0 1.8h0m.1 3.9h0m0 2.9h0m0 3.5h0m.3-1.8h0m0-6.2h0m.1 4.3h0m0-4.1h0m0 0h0m.1-3.8h0m0 7h0m.2-5.7h0m0 2.4h0m.1 1h0m.2 3h0m.2-2.6h0m0-.9h0m0 2.6h0m.2-5.9h0m0 4.1h0m.1 3h0m0-7.4h0m.3 1.6h0m0 5.9h0m.6-1.2h0m0-3.1h0m.1-3.3h0m.1 4.9h0m.1-4.8h0m0 5.6h0m0-3.2h0m.1-1h0m.1 6.7h0m0-8.6h0m0 1.1h0m0 .9h0m.1 4.7h0m.1 .9h0m0-6.9h0m0 4.9h0m.1-2.3h0m.1 2.5h0m0 2.9h0m0-8.9h0m.1 7.8h0m0-1.2h0m.2-5.5h0m.1 3.2h0m.1 3h0m.1-5.1h0m0 9.8h0m0-8.3h0m.1-.8h0m.1 6.3h0m.2-8.9h0m.1 8.4h0m.1-10.9h0m0 1.1h0m.1 2.8h0m0 2.7h0m.1-.1h0m0 1.4h0m0-9.8h0m.1 9.2h0m0 2.4h0m.2-5.8h0m0 1.9h0m.1 4.5h0m0-10.5h0m.2 5.1h0m.2 3.1h0m0 1.6h0m.1-4.9h0m0-4.4h0m.1 9.2h0m.1-3.8h0m0-2.4h0m.2-3.3h0m.1 5.2h0m0-4h0m.1 2.7h0m.1 7.7h0m0-4.6h0m.2 3h0m.1-5.9h0m0 1.7h0m.3 2.6h0m.1-6.6h0m0 9.9h0m.1 .9h0m0-3.8h0m0 2.7h0m0-1.6h0m0-5.9h0m.1 5h0m.1-8.1h0m0 9.9h0m.1-5.8h0m0-.3h0m0-2.6h0m0-.4h0m.1 5.1h0m0 4.2h0m0-3.6h0m0-4.9h0m.1-.8h0m0 0h0m0 1.6h0m.4 6.5h0m0 1.3h0m.2-12.1h0m0 2.2h0m.1 2.6h0m.1-2.2h0m.1 4.5h0m.1 3.5h0m.2-2.9h0m.2-3.8h0m0 2.9h0m.3 3.7h0m0-.5h0m0 .5h0m.1 2h0m.1-5.9h0m0 3.4h0m0 4h0m.1-.6h0m0-7.2h0m.2 4.9h0m0-4.6h0m0-7.2h0m.1 6.2h0m.1-.6h0m.2-.5h0m0 3.4h0m.1-1.5h0m0 1.5h0m0 2.1h0m.2-1h0m.1 .9h0m0-.1h0m0-5.3h0m.1 .6h0m.1 6.2h0m.1-1.9h0m.3-3.7h0m0 2.2h0m.2 3.5h0m.1-1h0m.1-5h0m.1 3.5h0m0 2.7h0m0-2.8h0m0-4.5h0m0 10.8h0m0-5.8h0m0 1.6h0m.1-4.3h0m0 3.9h0m0-4.4h0m.1 2h0m.2-1.5h0m.1-.5h0m.1 7.7h0m.1-12.3h0m.1 3.5h0m0-2.7h0m.1 9.4h0m.1-8.5h0m.2 2.3h0m0 1.5h0m.1 4.8h0m.1 .9h0m0-2.9h0m.1-3.2h0m0 8.6h0m0-3.7h0m.4-3.3h0m.4 .1h0m.1-3.7h0m0 4.9h0m.1-3.9h0m0 5.2h0m.1 1.9h0m0-12.1h0m.2 6.9h0m.1 .7h0m0 2.1h0m.2 1.3h0m0-5.2h0m.1-2.9h0m0 5.1h0m.1 3.5h0m.1-3.6h0m.1-4.5h0m0 7.9h0m.1-.6h0m.1-3.4h0m0 5.5h0m.1-3.9h0m.1 1.4h0m.1 4.4h0m.1-7.2h0m.1 1.7h0m.1-2.6h0m0 4.9h0m0-4.9h0m0 2.3h0m.1-4.6h0m0 7.4h0m.1-3.7h0m.2-6.5h0m0 9.3h0m0-6.5h0m0 4.4h0m.1-.3h0m0-2.5h0m0-2.7h0m.1 5.6h0m.1-5.6h0m.1 2.7h0m0 2.3h0m.1-3.6h0m.1 9.8h0m0-1.6h0m0 1h0m.1-6.3h0m.1-1.1h0m0-2h0m.1 1.3h0m0 4.5h0m0-4.8h0m.1 3h0m0-4.9h0m.1 6.9h0m0-3h0m.1 .8h0m0-4.5h0m.1 2.7h0m.2-1.2h0m.1 3.6h0m.1-7.1h0m0 3.4h0m0-1.8h0m.1-3.8h0m0 4.4h0m.1 4.1h0m0 2.3h0m0-2.8h0m.1-5.6h0m0 6.7h0m0 1.7h0m.1 3.5h0m.2-9.2h0m.1-3.6h0m.1 10.9h0m0 .8h0m.1-7.6h0m0-1.1h0m.1-.5h0m.1 5.5h0m0-5.7h0m0-.8h0m.1 9.5h0m.3-.9h0m.1-4.8h0m.1-1.9h0m0 6.8h0m0-11.4h0m.2 5.6h0m0 7.5h0m.1-7.7h0m0 7.8h0m0-10.1h0m.1 4.1h0m.3 .7h0m0 2h0m0-2.3h0m0 2.6h0m.4-7.5h0m.1 3.7h0m0-3.5h0m.1 6.7h0m0-6.8h0m0-.4h0m.1 10.4h0m0-7.4h0m.1 8.6h0m.1-7.7h0m0-1.3h0m.1 5.6h0m.1-1.1h0m.1 1.7h0m.1 1.3h0m0-1.5h0m.1 .1h0m.1-4.5h0m.1-1.6h0m0 2h0m.2-7.2h0m.1 4.2h0m0 2.3h0m.1-3.5h0m0 7.2h0m.1-9.3h0m0 8.5h0m0 .9h0m0-8.5h0m.2 2.2h0m0 4.3h0m.1-2.2h0m0 5.6h0m0 .1h0m.1-7.9h0m.1-1.4h0m.1 2.5h0m.3-2.2h0m.1 5.7h0m0-4.1h0m0-1.6h0m.1 3.2h0m.1-1.7h0m0 4.1h0m.2 3.1h0m0-7.9h0m.3 4.6h0m.2 .3h0m0-4.1h0m0-1.7h0m.1 5.6h0m0-4.7h0m0 1.6h0m.1 6.6h0m.1-6.1h0m.1-1.6h0m.1-.1h0m.2-.2h0m.1 5.3h0m.2-.8h0m0-2.6h0m0-3.1h0m.1 7.7h0m0 1.2h0m.1 1.3h0m0-10.1h0m.1 4h0m0 1.7h0m.1-.7h0m0-3.3h0m0-3h0m.1 10.4h0m.2-7.8h0m0 2.5h0m.1-.8h0m.4 3.2h0m0 1h0m.3-7.5h0m0 5.4h0m.1-7h0m0 3.1h0m.1 5.1h0m.1-1.6h0m0 5.6h0m.2-5.7h0m.2-6.3h0m.1-1.3h0m.1 9.5h0m.1 2.4h0m0-3.3h0m.1-2.3h0m0-3.8h0m0-2.2h0m0 10.3h0m.2-6.1h0m.1 6.1h0m0-5.6h0m.1 2.2h0m0-1.3h0m.1 8.6h0m.1 .6h0m.2-14.4h0m0 7.7h0m.1-5.9h0m.1-1h0m.2 11.3h0m.2-4.7h0m.1-1.2h0m.1 4.3h0m.2-1.3h0m.1 .4h0m.1-3h0m0 3.4h0m0 3.1h0m.1-12.9h0m0 5.3h0m.2 3.1h0m0-2.1h0m.3 .3h0m0-2.1h0m.1 6.6h0m.1-6.5h0m0-3.1h0m.1 7.1h0m.1-5.9h0m.1 7.5h0m0 .9h0m.1-6.6h0m.1 3.5h0m0 0h0m0 .6h0m.1-3.1h0m.1-4.5h0m0 1.8h0m.1 3.1h0m0 2.3h0m0-2.5h0m.2 .1h0m.1 4.6h0m0 1h0m.4 .4h0m.1-4.8h0m0-3.6h0m0 1h0m.2 4.7h0m0 2.2h0m.2-4h0m.1 3.7h0m.2-2.9h0m.2-8.7h0m0 2.8h0m0 3.5h0m0-2.7h0m.3-.2h0m0 4.9h0m.1 3.7h0m.2-.4h0m0-3.6h0m.2-6.4h0m.1 5.3h0m0-4h0m.1 4.2h0m.2 5.4h0m0-6.6h0m.1 6h0m0-3.6h0m.2 5.1h0m.1-.6h0m.1-5.3h0m.3 1.3h0m0-8.7h0m.2 8.9h0m0-5.2h0m0 4.2h0m.1 1.2h0m0-7.6h0m.1 10.9h0m0-5.2h0m0-3.7h0m0 2.5h0m.1-1.5h0m.1 1.8h0m0 3.5h0m0-3.1h0m.3-6.4h0m.1 .5h0m.1 3h0m0 8.6h0m0-7.9h0m.1-1.3h0m.1-1.6h0m0 .7h0m.1 9.7h0m.1-7.3h0m.1 5.7h0m.1-4.4h0m.1 3h0m.1 4.3h0m.1-5.4h0m0 3.4h0m.3-5.2h0m.2 7.4h0m.1-9.8h0m.1 4.1h0m0-4.5h0m.3 1.7h0m.1 4.4h0m.1 3.7h0m.1-7.7h0m.1 6.3h0m.2-4.7h0m.1 .5h0m.1 1.4h0m.2 4.3h0m0-4h0m.2-1.4h0m.2-5.6h0m.1 3.8h0m.4-1.2h0m.4 7.6h0m.1-9.3h0m.4 3.5h0m0-3.2h0m.1 2.9h0m.2 5h0m.1-2h0m.1-.1h0m.1-6h0m.2 9.6h0m.1-1.2h0m0-4.4h0m.1 3.5h0m.4-4.3h0m.1 3.1h0m.1 1.8h0m0-.5h0m.1-4.7h0m0 .8h0m0 6.6h0m0-7.5h0m.3-2.4h0m.3 5.9h0m0-8.2h0m0 6.2h0m0-2.8h0m.1 5.3h0m.1 .4h0m.3 4.5h0m.1-13.2h0m.1 12.3h0m.1-10.6h0m0 7.6h0m0-2.9h0m.1-.3h0m0 4.3h0m.1-2.1h0m0 .7h0m.3-3.6h0m0-5.2h0m.1 2.4h0m.3 5.8h0m.1-1h0m.2-2.2h0m.1 2.5h0m0-4h0m.1-2.1h0m0 5.4h0m0 .5h0m.1-3.5h0m.1-3.7h0m0 1.9h0m.3-1.4h0m0 2.2h0m0 2.5h0m0-2.9h0m.1 2.2h0m0 4h0m0 1.9h0m0-7.7h0m.1-.1h0m.1-.5h0m.1 9.1h0m0-3.8h0m.2-2.7h0m0 2.4h0m.1 1.5h0m0-7.5h0m0 8.9h0m.1 0h0m.3-6.7h0m0-3h0m0 3.3h0m.1 .6h0m0 1.5h0m.1-5.1h0m0 3.6h0m0 1.9h0m.1-1.7h0m.1 5h0m.2-.6h0m0-.4h0m.1-7.4h0m0-.9h0m0 8.9h0m0-5.5h0m.3-1.4h0m.1-.9h0m.3-.7h0m0 2.2h0m0 2.8h0m.2-.8h0m0-2.3h0m0-5.8h0m.1 1.9h0m.1 9.4h0m.1 4.8h0m0-10.9h0m.1-1.5h0m0 3.7h0m0 .7h0m.1-2.9h0m0 7.2h0m.1-4.8h0m.1-3.1h0m0 1.9h0m.1 3.5h0m0 3.9h0m0-5.3h0m0-1.3h0m.1-1.5h0m.2 8h0m.1-5.6h0m.2-3h0m.2 3.3h0m0 .5h0m.3 1.8h0m0-7.2h0m.1 6.6h0m0-2.7h0m.1 3.2h0m.1-3.7h0m0-2.2h0m0 5.1h0m.2-.3h0m0-8.2h0m.1 4.9h0m0-1h0m.1-1h0m.2 0h0m0 2.4h0m.1-2.5h0m.1 2.3h0m0-5.4h0m.1 5.6h0m.1 5.6h0m.1 .9h0m0-4.7h0m.1-2.9h0m0 4.3h0m0 2.3h0m0-3h0m.2-.8h0m0-3.1h0m0 1.9h0m.2 5.1h0m0-6h0m0 4.5h0m.2-8h0m0 5.7h0m.2 4.7h0m.1-4.7h0m0 1h0m.1-6.8h0m0 4.6h0m.5 3.9h0m.4 3.9h0m.1-9.5h0m0-2.1h0m.2-.7h0m0 10.6h0m0-5.1h0m0-2.3h0m0 .7h0m0-.9h0m.1 .3h0m.1 1h0m0 9.5h0m.1-2.3h0m.1-2.9h0m0 .9h0m.1-7.1h0m.1 8.9h0m0-3.1h0m.1 1.5h0m.1-.6h0m.1-4.2h0m.2 .3h0m.1 4.3h0m0 5.5h0m.1-9.3h0m.1-3.5h0m.1 4.8h0m.3-3.5h0m0 .1h0m.1 2h0m0 4.1h0m.1-6.7h0m0 7.1h0m.1-5.2h0m.1-4.3h0m.1 3.1h0m0 1.1h0m.2 1.6h0m0 1.4h0m.1 0h0m.2-2.4h0m0 1.8h0m.1-1h0m.2 1h0m.1-1.7h0m0 3.4h0m.2-3.3h0m.1 1.1h0m0-3h0m0 5h0m.1 2.1h0m0-5.7h0m.1-.9h0m.1 7h0m0-6.5h0m.1-3.4h0m.1 9.6h0m.1-2.7h0m.1-1.7h0m0-5.1h0m.2 8.6h0m.2-6.2h0m0 .4h0m0 7.2h0m.1-11.7h0m.3 7.7h0m0-2.6h0m.2 3.6h0m.1-4.3h0m.1 8.8h0m.1-3.3h0m0-1.1h0m.1 3.5h0m.1-11.9h0m0 10.6h0m0-7.5h0m.1-2.5h0m0 3h0m.1 .8h0m0 2.5h0m.1 2.4h0m.2-.4h0m.1 .6h0m.1-2.1h0m0-2.3h0m.2 2.3h0m0-3.3h0m.1 5.9h0m0-4.1h0m.1 1.2h0m0-3.2h0m.1-3.2h0m.2 5.1h0m.1 3.5h0m0-7.7h0m.3 10.5h0m.1-2.2h0m0-.4h0m0-5.8h0m.2-2.7h0m0-.5h0m0 2.5h0m0 1h0m.1-2.9h0m.1 3.7h0m.1-5.8h0m.3 8.7h0m0 1.4h0m0-8.1h0m.1 6.2h0m.3 1.7h0m0-4.9h0m.1 1.3h0m.1 5.2h0m.1-8.9h0m.1 5.5h0m.2 3.1h0m.1-3.5h0m0 1.3h0m.4 3.6h0m.1-2.8h0m.1-4.5h0m.2 5.1h0m.1-8h0m.1 7.1h0m0-6.3h0m0 3.6h0m.1-4.2h0m0 5.4h0m.3-3.7h0m.2 .9h0m.1-3.4h0m0 1.7h0m0 4.3h0m.1 1.4h0m0-5.1h0m0 .7h0m0 0h0m0 .1h0m.1 5.7h0m0 1.9h0m.1-1h0m0-8.2h0m0 5.5h0m.2-4.2h0m0 2h0m0 1.4h0m.1-7h0m0 8.1h0m.1 3.7h0m.1-9.1h0m0 3.5h0m.1 1h0m0-2.6h0m0-2h0m.1 2.3h0m0 3.3h0m.1-4.9h0m0 7.2h0m0-3.7h0m.3-2.4h0m.1-1.6h0m0 3.8h0m0-4.6h0m.3 7.7h0m0-4.9h0m.1-3.8h0m0 10.5h0m.1-4.1h0m.4-4.6h0m.2-1.6h0m0 4.7h0m.1-3.4h0m0 7.3h0m0-5.1h0m.1 3.6h0m.1-8.3h0m0 10.1h0m0-9.2h0m.1 6.4h0m.1-8.7h0m.1 4.1h0m0 7.4h0m0-3.7h0m0-1.5h0m.1 3.1h0m0-3.7h0m.1 2.2h0m0 1.8h0m.2-.3h0m0-3.7h0m.1-1.7h0m0 3.5h0m0-4.1h0m.2 9.5h0m.2-10.7h0m0 5.2h0m.1 3.4h0m.1-2.2h0m.2 .6h0m.1-5.2h0m0 .1h0m.1 4.2h0m.1 1.5h0m.1-3.8h0m0 7.7h0m.1-5.6h0m.1 4.7h0m.2-11.5h0m0 3.4h0m0 4.7h0m.1 5.4h0m0-5.4h0m.2 4.3h0m0-8.8h0m.1 2.8h0m.2 3h0m.1 .5h0m.1-11.1h0m0 12.6h0m.1-4.2h0m.1-1.8h0m0 0h0m.1-6.9h0m.2 4h0m0 .9h0m0 0h0m.5-5.5h0m.1 11h0m.2-6.9h0m.1 .2h0m.3 1.4h0m0-2.6h0m.1 6.5h0m.1-.9h0m0-7.5h0m.1 5.8h0m.1 3.1h0m0-2.4h0m.2-.2h0m.1 3.6h0m0 2.2h0m0-3.6h0m.1-6.2h0m0 4.5h0m.1 2.5h0m.1 1.3h0m.6-4.6h0m0 1.2h0m.1 7.7h0m0-8.3h0m.1 1.9h0m0 2.6h0m.1-8.1h0m0 6.1h0m.1-4.8h0m.1 7.2h0m.1-3.3h0m.1 3.9h0m0-3.6h0m.3-4.7h0m.1 6.5h0m0 .7h0m0 3.3h0m.1-1.7h0m0-4.8h0m.1-4.1h0m.1 8.2h0m.2-7.6h0m.2 6.4h0m.2-1.5h0m.1 6.3h0m.1-10.2h0m0 5h0m0-2.2h0m.2-1.6h0m0-.1h0m.1-1.1h0m.1 5.9h0m.1-2.4h0m.3-.7h0m0 .9h0m.1-5.3h0m0 8.2h0m.1-2.8h0m.1 2.5h0m0-7h0m.1 3.4h0m.1-6.4h0m0 3.1h0m.1-2.1h0m0 3.4h0m.2 .7h0m.1 .7h0m0 4.9h0m.1 .8h0m.2-1.6h0m0-.1h0m.1-11.7h0m0 3.5h0m.2 3h0m0-.5h0m.2 2.2h0m.2 0h0m.1 1.5h0m0-4.4h0m.1 3.9h0m.1 4.6h0m.2-9.5h0m.1-.1h0m0 10.4h0m.1-3.6h0m0-.1h0m.1-8h0m.2 .9h0m.1 3.2h0m0-2.4h0m0 5.2h0m.1 3.6h0m0-8.2h0m0-5.5h0m0 6.2h0m0-1.4h0m0 .1h0m.2 10.6h0m0-11.5h0m.2 9.1h0m.1-.9h0m.4 .8h0m.1-3.6h0m.2-3.6h0m0 3.7h0m.1-1.6h0m.1-.3h0m.1-4.2h0m.1 4.9h0m0-3.2h0m0 3.1h0m.1-2.1h0m.1 .8h0m.1-3.4h0m0 6.4h0m.1-3.6h0m0 2.1h0m0 4.7h0m.1-2.5h0m.1-3.8h0m.1 5.7h0m0-8.6h0m.1 4.7h0m.2-.6h0m.1-.8h0m0 1.2h0m.3 4.7h0m0-4.5h0m.1 .2h0m.2-1.6h0m.2 4.8h0m.1 .1h0m0-.3h0m0-1.6h0m.1 3h0m.2-7.6h0m0 5.7h0m.2-5h0m.1-2.1h0m.1 5.9h0m.1-.3h0m.1-2.4h0m.1 2.2h0m0-2h0m.1 .6h0m.3 2h0m0-3.9h0m.1 5h0m0 3.8h0m.1-7.3h0m0-2.6h0m.1 7.9h0m0-5.9h0m.2 4.4h0m0-6.8h0m0 .9h0m.1 3.9h0m0-2.4h0m0 5.2h0m.2-1.2h0m0-2.2h0m.1-8.4h0m.2 9.9h0m0 1h0m.1-6.1h0m0-1.8h0m0 5.5h0m.1-3.5h0m0 3.3h0m.1-3.1h0m0-1.3h0m0 .9h0m.1 1.1h0m0-.2h0m0 1.1h0m.2 3.7h0m0-2.4h0m.1 2.7h0m0-6h0m0 2.1h0m.1 4.2h0m.1-1.7h0m0-.2h0m.2 1.7h0m0 .7h0m.2-6.1h0m.2-.7h0m.1 6.2h0m0-3h0m.2 2.4h0m.1-1.8h0m0 .7h0m.1-4.4h0m.3 4.4h0m0-5.4h0m.2 1.7h0m0 1.5h0m0 .4h0m0 1.6h0m0-3.3h0m.2 6.2h0m.1-5.2h0m.1 1.1h0m.1-.3h0m0-4.6h0m0 5.7h0m.1 5.6h0m.2-5.1h0m0-4h0m0 4.2h0m0-1.2h0m0-2.7h0m.3 4.3h0m.2-.8h0m0-4.3h0m0 3.4h0m.1 .5h0m0-1.1h0m0 .5h0m.1 2.7h0m0-5.4h0m.2-2h0m0-1.1h0m.1 4h0m0 2.4h0m.1-.9h0m.1 4.5h0m.1-9h0m.2 7.8h0m0-2.5h0m0-2.5h0m.1 5.4h0m.1-6.4h0m.1 3.1h0m0 1h0m.1-5.9h0m0 4.9h0m.1-.1h0m0-7.9h0m.2 6.3h0m.2 4h0m.1 .3h0m0-7.5h0m.1 2.5h0m0 .5h0m.2 5.2h0m0-3.6h0m.1 3h0m0-9h0m.1 .7h0m0 3.2h0m.1 6.4h0m0-11.2h0m0 9.2h0m.1 .5h0m.1-8.6h0m.1 9h0m.1-6.9h0m.1 7h0m.1-3.8h0m.1-5.4h0m0 4.4h0m.2-3.4h0m.1 .7h0m0 7.6h0m0-5.8h0m.2 9.1h0m.1-1.5h0m.1 1h0m0-2.9h0m0 .1h0m.2-7.6h0m.1 6.9h0m.2-4.3h0m.2 3.6h0m.1-5.3h0m.2 2.5h0m.1-6.7h0m0 8.8h0m.1 3.5h0m0-4.5h0m.3-4.2h0m0 6.5h0m.1-10.4h0m0 10.5h0m.2-2.8h0m.1-1h0m0 5.9h0m.1-1.5h0m.1-8.1h0m.3 7.6h0m0 2.4h0m0-.7h0m.2-9.5h0m.2 4.3h0m.1 3.9h0m0 .2h0m0 1h0m.1-4.9h0m.1-2.9h0m.1 8h0m0-10.9h0m.1 9.4h0m.1-7.4h0m.2-.6h0m.1 7.2h0m0 3.1h0m.2-10h0m0 7.4h0m0-7.3h0m0 6h0m.1 .9h0m0-6.6h0m0 5.5h0m0-2.4h0m.1-4h0m.1-3.9h0m.1 6.3h0m.1-.6h0m.1 4.5h0m.1 2.8h0m.1-4.4h0m0 .9h0m.1-.9h0m0 2.1h0m.1-.2h0m.2-.2h0m.2 1.1h0m0-4.6h0m.1 0h0m0 1.1h0m0 1.9h0m.1-1.6h0m0 2.2h0m0 1.7h0m.1-1h0m.1 2.7h0m0-5.2h0m0-4.2h0m.1 2.1h0m0 1.9h0m.1 1.1h0m.2 5.1h0m0-2.8h0m.1-5.8h0m0-3.6h0m.1 2h0m.4 7.6h0m.1 1.1h0m0-3.3h0m0 3.6h0m.2-5.4h0m0 6.2h0m.1-6.8h0m.1 .5h0m0 .3h0m.2-2.1h0m0 3.6h0m.1-2.1h0m0-.4h0m.1 3h0m.1-6.3h0m.1 1.7h0m0 .1h0m.2 2.3h0m0-3.8h0m.1 8.2h0m.1-.6h0m.1-2.5h0m.1-2.5h0m0 6.3h0m.2-8.1h0m0 2.3h0m.2 .5h0m.1 2.8h0m.1 2.9h0m.2-11.5h0m.2 8.7h0m0-5h0m.1 2.5h0m.3-5.6h0m.3 6.5h0m.1-5.2h0m.2 3.6h0m0-1.5h0m.1 1.1h0m.1-2.1h0m0 3.6h0m.1 .8h0m0-2.5h0m.1 8h0m.1-6h0m.2-.6h0m0-7.1h0m.1 6.9h0m.1 1.9h0m.1-4.4h0m.1-1.5h0m0 4.2h0m.3 .6h0m.1 2.7h0m.2-1.2h0m0 1.7h0m0-1.1h0m0-6.1h0m.1 7.5h0m0-8.6h0m.2-.2h0m.3 2.4h0m.1-1.9h0m0-.4h0m0 7.8h0m0-2.4h0m0-2.6h0m.1 4.8h0m.1-5.1h0m.1 4.4h0m.1 2.7h0m0-3.8h0m.1-3.7h0m0 3.3h0m.1-3.4h0m.4-2h0m0 2.2h0m0 7.5h0m.1 2.5h0m.1-9.6h0m.1 8.3h0m0-3.9h0m.2-4.1h0m0 5.5h0m.1-8.3h0m0-.8h0m.1 3.8h0m0 1.8h0m0-.7h0m.1 4.2h0m0-1.9h0m0-.5h0m0-1.2h0m.1 .3h0m0 2.1h0m.2-5.1h0m.3-1.9h0m.3 7.4h0m.1 1h0m0 .6h0m.1-4.7h0m0 3.7h0m.1-4.5h0m.1-4.2h0m.2 9.6h0m.1 1h0m0-9.3h0m.1 7.5h0m0-6.3h0m.2-.7h0m.1 5.4h0m.1-6.5h0m.1 1.2h0m.1-.3h0m.1-.6h0m.1 8.1h0m0-.2h0m0-1.7h0m0-6.6h0m.5 2.6h0m.2 5.7h0m.1 2.3h0m.2-1.8h0m0-8.5h0m0-.5h0m.1 5.4h0m0-3.4h0m0-.5h0m.2 1.1h0m0-1h0m.1 7.4h0m.4-5h0m0 2.4h0m0 3.4h0m.2-7.7h0m.2 4.1h0m.2-2.6h0m.2 1.5h0m0 2h0m0-2.6h0m.2 4.9h0m.1-12.2h0m0 2.3h0m.1 9.8h0m.2-.5h0m.1-2.4h0m0 .4h0m.1-1.3h0m0 2.3h0m.2-.6h0m.3-2.4h0m0 1.6h0m.3-1.1h0m.2-5.1h0m.2 3.8h0m0-2.8h0m.1 2.3h0m0 2.4h0m0 3.7h0m.1 2.1h0m0-8.8h0m.1-2.7h0m.1 3.1h0m0 2h0m.1 1.6h0m.1-3.6h0m0 4.6h0m.1-1.1h0m.1-3h0m0-6.3h0m0 2.2h0m.1 6.1h0m0 7.8h0m0-7.9h0m.1 4.5h0m.1-1.3h0m.1 .6h0m0-8.6h0m0 2h0m.1-3.5h0m.1-.1h0m.1 7.2h0m0-.1h0m.3 3h0m.2-6.5h0m.2 1.3h0m.1 5.6h0m0-.9h0m0-5.4h0m0 1.9h0m.2 .5h0m.1-3.2h0m.1-3.1h0m.2 6.6h0m.3-1h0m.1-2.3h0m.4 3.4h0m0 1.6h0m.2-5.1h0m0-4h0m.1 1h0m.1-.8h0m.1 9h0m.1-3.9h0m0 0h0m.1 7.6h0m0-5.9h0m.1-5.7h0m.1 7.9h0m.1-4h0m0-.1h0m.1-3.4h0m0 9.9h0m.1-3.6h0m0-5.5h0m.2 4.5h0m0 3.9h0m0-3.6h0m0 .4h0m.1-3.5h0m.1 1.7h0m.1-4.4h0m0 1.3h0m0 7.6h0m.2 .9h0m.2-5.8h0m0 2.8h0m0-5.4h0m.1 1.2h0m0 .7h0m0-1h0m0 2h0m.1 2.2h0m0 .8h0m0-4.5h0m.1 4.3h0m0 1.4h0m.1 1.2h0m0 1.8h0m.4-11.4h0m.3 1.1h0m0 5.5h0m.3-6.6h0m0 3.6h0m0 1.1h0m.1-3.6h0m.1 5.3h0m0 .2h0m.2-5.8h0m0 5.7h0m.1 1.1h0m.3-4.6h0m.1-1h0m0 3.9h0m.2-.6h0m0-2.8h0m0-3.1h0m.1 12.4h0m0-12.9h0m0 1.2h0m.2 11h0m.4-2h0m.1-7.2h0m.1-1.6h0m0 4.9h0m.3 3.4h0m.1-6h0m.1 6.1h0m0-8h0m0 4h0m.1 0h0m.2 3.4h0m0-8.3h0m0 11.2h0m.3-4.9h0m.1 4.4h0m0-.9h0m0 .8h0m0-1.2h0m.1-8.3h0m0 3.6h0m.1-1.7h0m.2 4.4h0m.1-4.9h0m.2 2.9h0m.4-2.8h0m.2 6.7h0m0-3h0m.2-2.6h0m0 2.9h0m0-.5h0m.1-3.2h0m0 .8h0m.1 2.1h0m0-1.3h0m.1 2.8h0m0-4.6h0m0-.4h0m.2-1.3h0m.2-5.6h0m.2 7h0m.1-6.4h0m.1 12.5h0m.1-4h0m0 3.1h0m.1-7.8h0m0 7.7h0m.1-2.2h0m.4 5.2h0m.1-10.6h0m0 1.3h0m.1 9.2h0m.3-3.9h0m.1 .8h0m.1-4h0m0 4h0m.2-2.3h0m.1-1.3h0m0 4.2h0m.2 1.4h0m.3-4.6h0m.1 4.5h0m0-.7h0m0-1.3h0m.1-4.8h0m0 4.7h0m.2-1.8h0m0 6.7h0m.2-3.3h0m.1-6.3h0m.1-2.1h0m0 6.1h0m0-6.4h0m.1 8.2h0m0-1.5h0m.1 .7h0m0-5.8h0m.1 7h0m0 1.5h0m.2-9.2h0m.1 11.3h0m0-2.3h0m.1-10h0m0 7.7h0m0-3.4h0m0 1.7h0m.2 1.3h0m.2 1.5h0m0-8h0m0 6.4h0m.2-3.2h0m.1-.6h0m0 3h0m.1-.4h0m.1-4.2h0m.4 1.4h0m.1 2.1h0m.1-2.2h0m.2-1.9h0m0-2.1h0m.3-3.1h0m.1 5.1h0m.1 5.2h0m.1-.1h0m.1 5.5h0m0-5.4h0m.1 2.5h0m0-9.2h0m.4 10.4h0m.3-4.5h0m0 5.7h0m.1-10.7h0m0 8.1h0m0-7.1h0m.2 7.6h0m.2-.9h0m0-7.2h0m.1 2.9h0m0-4.2h0m.1 8.8h0m.1-3.3h0m0-6.9h0m0 10.6h0m0 .6h0m.3 1.7h0m0-8.2h0m0 .3h0m.1-.4h0m.1-2.1h0m0 1.6h0m.1-5.4h0m.2 12h0m.1-1.1h0m.1-.2h0m0-2h0m0 2.5h0m.1 .6h0m.1 2.3h0m.1-3.2h0m.2-8.1h0m0 3h0m.1 3.8h0m0-2.8h0m0 2.3h0m.1-.7h0m0 1.8h0m.1-4.2h0m.2-2.1h0m.1-1.6h0m.1-.1h0m0 7.9h0m.2 .8h0m0 .3h0m.1 0h0m.2-3.8h0m.1-8.9h0m.1 11.6h0m0-.4h0m0-5.4h0m.1 6.2h0m.2-7.6h0m.1-2h0m.2 11.9h0m.3-7.3h0m0 1.7h0m.2-3.8h0m.1 5.7h0m0-1.2h0m0-4.1h0m.2 1.3h0m.1 .5h0m0-1.5h0m.1 9.4h0m0-1.1h0m.1-11.7h0m0 9.2h0m.1-3.7h0m.1-1.8h0m0 7.3h0m0-.9h0m0-.6h0m0-2.2h0m.1-4.2h0m.1 2.5h0m.1 4.9h0m0-8.2h0m0 .8h0m.1 8.6h0m0-8.6h0m.2 10.4h0m.2-4.6h0m.1 1.5h0m0-9.4h0m.2 4.1h0m.1 2.7h0m.1-1.2h0m.2 .3h0m0-2h0m.1-1.9h0m.1 .1h0m0 0h0m.1 8.1h0m.1 .7h0m0 .1h0m.1-3.5h0m.1-.8h0m0 .6h0m.1-2.7h0m.1-2.1h0m.1 1.4h0m0 2.4h0m0-4.6h0m0 6h0m.1-1.8h0m.1 3.4h0m0-.1h0m.4-8.8h0m.1 3.7h0m.2 5.6h0m.1-3h0m.1 1.7h0m.3-2.4h0m0-.4h0m0 6.3h0m.1-8.6h0m.1-6.1h0m0 9h0m0-5h0m0 6.1h0m.1-.9h0m0 1.2h0m0 .1h0m.1-.1h0m0 .2h0m.1-3.1h0m.1-4.2h0m0 9.8h0m0-8.6h0m.2 10.7h0m.2-5.8h0m.1-7h0m0 9.8h0m.1-11.5h0m.2 7.5h0m.2 2.4h0m0-3h0m.1-.6h0m0 6.2h0m.1-4.6h0m.2 .2h0m.1 2.8h0m0-7.2h0m.2 4.1h0m.1 5h0m.1-2.9h0m0-8.3h0m.2 7h0m.3-3.2h0m0-.2h0m0 6.5h0m.1-5h0m0 4.9h0m.3-7.4h0m.1 .1h0m0 3.3h0m0-1.3h0m.3 2.7h0m0-.8h0m0-1.2h0m.2 2.2h0m.2-.3h0m.3-3.7h0m.1 5.1h0m0 1.5h0m.1 1.1h0m.2-6.2h0m.1-.1h0m.2 1.9h0m.1 3.7h0m0-2.7h0m.3 .2h0m0 3.5h0m0-8.5h0m.1-5.6h0m0 10.6h0m.1 2.2h0m.1 .6h0m.1-5.8h0m.1 5.9h0m0 .1h0m.1-3.9h0m0-3.9h0m.1 4.8h0m0-3.1h0m.3 4.7h0m.2 .4h0m.1-4.9h0m0-2.1h0m.1 7.3h0m0-4.5h0m0-5.8h0m.1 6.9h0m.1 4.3h0m.1-.6h0m0-.4h0m0-4.2h0m.1 3.2h0m0-7.4h0m.1 6.5h0m0-5h0m0 8h0m0-.8h0m.1-4.9h0m.1 4.4h0m0 .3h0m.1-1.8h0m.2-5.6h0m.1 5.8h0m0-3.7h0m.1 2.5h0m.1-5.8h0m.2 5.3h0m0-5.8h0m.1 2.1h0m0-2h0m.3 1.5h0m.1 0h0m.1 9.1h0m0-3.6h0m0 0h0m.1 .8h0m.2-2.1h0m.1 .9h0m0 4h0m.1-7.2h0m.1 .9h0m0-4h0m.3 3.6h0m.1-.9h0m.1-2.5h0m.2-.5h0m0-3.3h0m.3 2.9h0m.1 9.5h0m.1-7.3h0m0 6.3h0m.1-9.3h0m.2 4.5h0m0 3.1h0m.1-3.9h0m.1 .6h0m0-4.7h0m0 4.5h0m.1-.4h0m0 5.9h0m0-1.1h0m.1-7.6h0m.2 4.2h0m.2 2.1h0m.3-2.4h0m0 6.5h0m0-9.2h0m0 .9h0m.1 6h0m.1-2.3h0m.1 .7h0m0-2h0m.1 2.4h0m.1 1.6h0m.1-1.2h0m0-1.2h0m.1-.2h0m0 4.5h0m.2 1h0m0-4.6h0m.1 .6h0m0-5.5h0m.1-2.9h0m0 10.9h0m0-5.4h0m.1 4.3h0m.2-6.2h0m.1 3.3h0m0 4.3h0m.1-4.8h0m.1-1.6h0m.1 .6h0m0-2.8h0m.2 4.3h0m.3 2.9h0m0-5.1h0m.2 2.6h0m0 2h0m.1-3.4h0m0 8.9h0m.1-9.1h0m.1-.8h0m.2 7.2h0m.3-4.6h0m0 2.5h0m.2 4.4h0m0-12.2h0m0 1.7h0m.1-2.9h0m.2 1.3h0m.2 8.3h0m0-1.3h0m0-6h0m.1 2.2h0m.1-1.6h0m.1 9.1h0m0-9.5h0m0 .3h0m.2 2.1h0m.1 5.8h0m.1-4.1h0m0-2.7h0m0 6.3h0m0 .1h0m.1-5.8h0m.2 3h0m.1-.6h0m0 4h0m.3-1.8h0m.1 1.3h0m.1 3.6h0m.3-6.9h0m.1 2.4h0m0-1h0m.1-2.9h0m.1-.8h0m0-2.4h0m.1-1.1h0m.1 3.7h0m.1 2.7h0m0 4.4h0m0-1.1h0m0-9.8h0m0-2.2h0m.1 8.4h0m0-2.5h0m.1 4.3h0m.1-4.3h0m0-6.6h0m0 9.2h0m0-4.5h0m.2 6.5h0m.2 1.9h0m.1-9.7h0m.1 7.5h0m0 2.6h0m.1-1.2h0m.1-6.5h0m.1 2.8h0m0 3.7h0m.1-8.4h0m.1 1.8h0m.1 4.7h0m.1 1.2h0m.2-5.7h0m0-4h0m0 3.2h0m.1-2.3h0m.1 6.4h0m0 3.2h0m.5-5.7h0m0 4.7h0m.1-7.2h0m0 5.8h0m0-1.1h0m.1 .1h0m0 .5h0m.2 .8h0m0-10.1h0m.1 6.7h0m0 6.9h0m.1-15.1h0m0 8.5h0m0-2.2h0m.1 5.8h0m.2-7.2h0m0-.6h0m0 7.3h0m0-2.4h0m.1 6.6h0m.1-5.8h0m0-2.3h0m.1 5.1h0m.2-8.9h0m.1 2.3h0m0 2.3h0m.1-1.1h0m0 4h0m0-7.2h0m.1-.9h0m.1 1.8h0m0 .3h0m.1 5.1h0m.3 4.9h0m0-6.3h0m.1 .1h0m0 .2h0m0 1.5h0m.4-3.3h0m.1 6.9h0m.1-6.3h0m.1 .3h0m.1 .5h0m.2-2.8h0m.4 4.7h0m0-1.6h0m0-.7h0m0 4h0m.2-7.1h0m0 3.9h0m.1-.5h0m.1-5.7h0m0 3.3h0m.2 .7h0m0-6.4h0m0 6.5h0m.1 4.1h0m0-4h0m0-3.2h0m.1 1.7h0m0 4.5h0m.1-1.7h0m.1-1.2h0m0-4.9h0m.2-.6h0m0 14.5h0m.1-10.3h0m.1 6.2h0m.2-6.4h0m0 1.4h0m.1-1.7h0m.1 .1h0m.2 .4h0m.1 2.1h0m.1-6.7h0m0 1.9h0m.1 .8h0m.3 7.1h0m0-6.1h0m.2 .4h0m.1 2.1h0m0-1.2h0m.1 4.4h0m.1-3.3h0m0 3.4h0m0-3.2h0m0 1.2h0m.2-2.4h0m0-.9h0m0 2.4h0m.2 1.1h0m0 .5h0m.1-5.9h0m.1 4h0m.2-4.2h0m0 .7h0m.1 2.9h0m.4 3.5h0m.2-6.5h0m.2 2.5h0m0 1.5h0m.1 2.7h0m.2 1.3h0m.1-6.6h0m0 2.6h0m0-1.7h0m0-.6h0m0 5.5h0m.1-8h0m0 .6h0m0 2.5h0m0 2.6h0m.3 1.3h0m0-3.5h0m.2 4.8h0m0-1.3h0m0-6h0m.1 8h0m.1-4.2h0m0-.6h0m.1-3.9h0m.2 3.1h0m.1 4.4h0m.5 0h0m0-1.5h0m.3-5.9h0m.2 2.3h0m0 8.7h0m.2 .3h0m0-9.6h0m0 3.2h0m.1-2.2h0m.1 2.6h0m.1-7.9h0m.1 10.3h0m.1-7.6h0m.1 .6h0m.2 .2h0m0 1.3h0m.3 7.3h0m.2 .9h0m0-7.8h0m0 2.6h0m.1 .7h0m.1-1.9h0m.1 7.1h0m.1-14.9h0m.2 10.8h0m0-1.7h0m0-7.5h0m.1 1.7h0m.2 10.1h0m6-17.9h0m0-6.4h0m.1-1.1h0m.1 3.9h0m.5-4.2h0m.2 7.6h0m.1-9.4h0m.1 10.6h0m0-4.5h0m.1 .2h0m0-4.7h0m.1 7.5h0m.1-1.1h0m.2 2.9h0m.3-10h0m.3 11h0m.1-3.9h0m.1 2.5h0m0-1.5h0m.1 .1h0m.2-5.8h0m.1 11h0m0-.4h0m.4-7h0m.1-3.7h0m0 1.8h0m.1-1.7h0m0 7.2h0m.2-3.1h0m.1-1.3h0m.1 2.4h0m.1-3.1h0m.2 6.5h0m.1-4.9h0m.1 0h0m.1 5.6h0m0 .4h0m.1-7h0m0-1.7h0m0 2.2h0m.5-2.7h0m0 10h0m.1-4.7h0m0 .5h0m.1-4.8h0m0 9.8h0m.1-5.8h0m.1 3.4h0m0-8.9h0m.2 .1h0m.1 7.1h0m.1 2.6h0m.1-5.9h0m.1-3.3h0m0 5.8h0m0 .5h0m.1-2.8h0m0-3h0m0 5.7h0m0-4.6h0m0 5.1h0m.2 2.1h0m0-2h0m.1 6.7h0m0-10.2h0m0-.6h0m.1 .5h0m.1 .5h0m0 8.4h0m.2-7.2h0m.1 3.5h0m0-3.4h0m.1 3.9h0m0-3.5h0m0 0h0m.1 0h0m.2-3.4h0m0-.7h0m0 6.3h0m.1-5.4h0m.1 7.3h0m.5-2.6h0m0 6.3h0m0-3.8h0m.1-.9h0m0-4.2h0m.1-2.5h0m0 9.8h0m.4-3.6h0m.2-4.8h0m.2 9.1h0m.1 2.2h0m.1-9.1h0m0 5.6h0m.3-6.7h0m.1 1.5h0m0 4.2h0m.1-6.6h0m.1 8.9h0m.1-10h0m0 .4h0m.1-2.2h0m0 7h0m.1-2.5h0m0-1.7h0m.2-1.6h0m.3 8.2h0m.1-8.3h0m.1 5.7h0m0-.2h0m0-4.1h0m0-5.1h0m.2 3h0m.1 2.3h0m.1 1.9h0m.2-.4h0m.1-8.8h0m0 11.8h0m.3-11.6h0m.1 2.5h0m.2 .1h0m0 9.8h0m0-11.8h0m.1 7.4h0m.1 .5h0m.4-3.2h0m.1 1.3h0m0-.6h0m0 5.4h0m0-2h0m.1 4.2h0m0-10.2h0m.1 .3h0m0 1.6h0m.1 10.1h0m.1-3.9h0m.2-.8h0m.1-7.5h0m0 3.8h0m.5 7h0m.1-4.4h0m.3-1.2h0m.2 3.1h0m0-3h0m.1 .1h0m0-2.6h0m.1 3.4h0m.2 6.1h0m0-2.6h0m0-5.8h0m.1 6.3h0m.2-3h0m.1 .7h0m.1-2.8h0m.3 3.8h0m.3-4.2h0m.1 4.8h0m0-3.5h0m0-6.5h0m.1 6h0m.2 1.1h0m0 3.9h0m.1-1.6h0m.2-2.6h0m.3-1.8h0m.2-.7h0m.3 3.1h0m.1-4.3h0m0 1h0m0 10.1h0m.2-9.8h0m.1-2.8h0m.1 2.5h0m0-1.9h0m0 5.5h0m.2-4.5h0m0 .1h0m.2-3.9h0m.2 5.7h0m0 .9h0m.1 3.1h0m.1-11.8h0m0 9.5h0m.2 2.7h0m0-.3h0m.1 .7h0m.3-8.1h0m0 3.4h0m0-5.4h0m.1 12.2h0m0-9.9h0m.1 8.7h0m.1-2.6h0m0-4.3h0m.1 2.8h0m.2-1.4h0m0-2.6h0m.2 4.1h0m0 .6h0m.1-.4h0m.1-5.9h0m0 .7h0m.3 2.5h0m0-6.9h0m.2 7.3h0m0-1.6h0m0 .5h0m0 0h0m.1 .7h0m.1 2.1h0m.2-1.1h0m.1-1.7h0m.1 2.8h0m0-5.8h0m.1 6.5h0m.2 4.7h0m0-1h0m.1-10.8h0m0 5.5h0m.1 3.6h0m.1-6.6h0m0 3.4h0m.1 5.7h0m.3-6.5h0m.1-1.2h0m.1 11.8h0m.2-9.5h0m0 1.7h0m.1-.2h0m.2 .9h0m0 2.4h0m.1-6.2h0m.2 7.6h0m0 3.7h0m.4-9.4h0m.1 4.7h0m0-7.6h0m0 8h0m.1-6.4h0m.1 3.4h0m.2-.5h0m0 2.1h0m.1-2.1h0m0 6h0m.2-8.9h0m0-2.5h0m0 9.4h0m.1-8.7h0m.3 3h0m.2-6.3h0m0 11h0m.1 1.1h0m0-6h0m0 .5h0m0 6.9h0m.1-2.1h0m0-2.8h0m.1-3.9h0m0 4.8h0m0-5.2h0m.1 7.1h0m.3 2.2h0m.2-7.4h0m.3 3.6h0m.2-2.3h0m.2-5.3h0m0-3.3h0m0 6.1h0m0 6.8h0m.1-1h0m.3-8.3h0m.2-.6h0m0-.5h0m.1-.5h0m.3 4.5h0m0 2.6h0m.1-3.4h0m0 1.4h0m.1-7.9h0m.3 3.6h0m.1-1.1h0m.3 1.9h0m.1 4.3h0m.2 4.1h0m0-2.8h0m0 1.1h0m.1-3.3h0m.1 1.1h0m.1 .7h0m.1-2.6h0m.1 2.3h0m.2-3.2h0m.3 7.9h0m0 2.7h0m0-9.2h0m.2 2.3h0m0 2.2h0m.5-1.4h0m0 1h0m0-.8h0m.1 .8h0m0-.3h0m0 3.6h0m.1-5.3h0m.2 2.3h0m0-6.2h0m.3 7h0m.1 2.6h0m.1-3.6h0m.1 .2h0m.1-2.1h0m0 .6h0m0 3h0m.1-3.2h0m0 2.5h0m.2 3.4h0m.1-6.6h0m0 8h0m.5-3.2h0m.1-2h0m.1 .4h0m.1-3.1h0m0-9.3h0m.1 8.3h0m.3-3.1h0m.3-.7h0m.1 4.4h0m.3 .3h0m0-4.5h0m0 8h0m.2-.9h0m.1-7.8h0m.2 8.5h0m.1-5.4h0m.3 .4h0m0 2.8h0m0 1.2h0m.2-1.9h0m0-9.4h0m.1 11.4h0m.1-3.6h0m.1-6.8h0m0 9.9h0m.1-4.1h0m0-.3h0m.2 .8h0m.1 .7h0m.1 4h0m.1-10.7h0m.3-.9h0m.2 2.8h0m0-6h0m.1 2.8h0m0 3.8h0m.3 4.1h0m.1-1.9h0m.2-3.6h0m.1 2.7h0m.1 5.4h0m.2-1.6h0m.1 1.2h0m.1-1.2h0m.1-6.1h0m.1 5.3h0m.2-4.9h0m.2-4.4h0m0 4.7h0m.1 1.7h0m.1 3.5h0m.2-3.1h0m0 1.2h0m0-.6h0m.1 1.6h0m0-1.2h0m.2-9.1h0m0 3.8h0m0 1.5h0m.3 3.2h0m.1 3h0m0-5.3h0m.1-3.4h0m.1 7.1h0m.1-4.7h0m.1 2.1h0m0 .6h0m.1 2.8h0m.1-2.6h0m0-3.8h0m.2 5.3h0m.2 1.2h0m.1-1.3h0m.3 1.1h0m0-.3h0m.1-.7h0m.1-2.7h0m.1-4.8h0m.1 2h0m0 2h0m0 3.2h0m.4-2.5h0m.1-4.9h0m.1 2.8h0m.1 7.3h0m0-8.5h0m.1-7.6h0m0 11.8h0m0-10.6h0m.1 8.9h0m0-2.5h0m0 2.3h0m.1-9.5h0m0 2.5h0m.1 7h0m0 2.7h0m.1-11.2h0m.1 5.2h0m0-.4h0m.1-4.6h0m.1 2h0m0 2.7h0m0-2.6h0m.1-.7h0m.1 6.6h0m.1-4.8h0m.1 5.2h0m.4-5.8h0m.1-.6h0m.1 2.2h0m.2 2.6h0m.1 .3h0m0-4.1h0m.1-5h0m0 2.8h0m.2-1.4h0m0 3.7h0m.1 6.4h0m.1-6.5h0m.1 1.7h0m.2-6.1h0m.1 11.1h0m0-3.5h0m.2 3.6h0m.1-9.1h0m.1-2h0m.3 1.2h0m.3 7.3h0m0-7.2h0m0 9.9h0m0-9.9h0m.2 5.3h0m.2-2.3h0m0 1.3h0m0 4.7h0m0-7.1h0m0 3.2h0m.2 4.3h0m.1-5.8h0m.2 6h0m.1-3.9h0m.1 9.4h0m0-8.1h0m.2 1.1h0m.2-1.2h0m0 4.4h0m0-4.9h0m.1 4.9h0m.1-6.2h0m0 7.4h0m.2-1.9h0m.1-4h0m0 4.4h0m.2 2.8h0m.1-4h0m0 4.8h0m.2-7.7h0m.2 6.7h0m.3-12.2h0m.1 6.6h0m.3 3.3h0m.4-1.6h0m.1-.9h0m0-4h0m.2 6.3h0m0-2.8h0m.1 4.9h0m.2-.8h0m0-1.4h0m.3-5h0m0 6.6h0m.1-.5h0m0 .2h0m0-3.9h0m.2-4.4h0m.4 9.3h0m0-4.4h0m.1 5.9h0m.1 1.9h0m.2-7.5h0m0 5.5h0m.3-4.5h0m0 .4h0m0 2.1h0m.1-3h0m.2 3.4h0m.1-1.1h0m0-4.4h0m.1 9.6h0m0-4.3h0m.3-5.3h0m.2 5.9h0m0-1.3h0m.2 3.9h0m.1-8.7h0m.4 1h0m.3-1.8h0m0 0h0m.1 6.6h0m.1-3.6h0m0-1h0m.1 2.5h0m.2 1.2h0m.2-10.7h0m.1 9.3h0m0-.2h0m.1-.2h0m.1-6.8h0m0 4.9h0m.1-3h0m0-1.5h0m.1 3.7h0m.1-1.2h0m.1 1.6h0m.1 3.1h0m0-7.6h0m0 4.1h0m0 .8h0m.3 .9h0m0 4.4h0m0-13.5h0m0 3.3h0m.2 4.8h0m.1-.4h0m.1 .2h0m.1 .3h0m.2-5.1h0m0 11.2h0m0-8.9h0m.2 5.1h0m.1-2h0m.1 4h0m0-.4h0m.3 .5h0m.1-2.3h0m0-3h0m.1 6.8h0m.1-2.2h0m.2 1.6h0m0 4.3h0m.1-10.4h0m.1 .2h0m0 7.3h0m.1-6h0m.1 8.8h0m.3 2.2h0m0-1.6h0m.1 1.2h0m.2-5.2h0m.2 .5h0m0 7.3h0m.1-4.3h0m.1-3h0m0 1.7h0m.4 7h0m.2-11.1h0m0 1.7h0m.1-1h0m.1 3.2h0m.1 6.9h0m.2-6h0m0 1.1h0m.1-3.6h0m0 .8h0m.1 1.1h0m.1 5.9h0m0-.6h0m.2-8.2h0m.1-2.4h0m0 4.1h0m.2 3.1h0m.2-4.5h0m0-1.3h0m.3 7.5h0m.3 .3h0m.1 .6h0m0-5.6h0m.3 .6h0m0 3h0m.1-3.9h0m.2 5.3h0m.2-8.5h0m38.5 .7h0m.1 .4h0m0 5.1h0m0 .2h0m0-6.3h0m.1 2.2h0m.2-2.2h0m.1 1.2h0m.1-2.4h0m.1-.4h0m.2 0h0m0-3.9h0m0 6.4h0m.2 5h0m.1-12.1h0m.2 1.2h0m0 1.5h0m0-1.7h0m.1-3.2h0m.1 2.9h0m.1-2.7h0m.3 2.9h0m.3-2.7h0m.1-4.7h0m.2 5.2h0m.1 7.3h0m.1-1.1h0m0-3.2h0m0 6.7h0m.3-11.4h0m.3 11.1h0m.1-7.1h0m.1 5.6h0m.1 .5h0m.1-5.6h0m.1-7.6h0m.4 9.6h0m.2-.2h0m.1-2.1h0m.3 6.8h0m.3-2.6h0m0-2.3h0m0-.3h0m.1-6.8h0m.3 4.6h0m.1-1.2h0m.1-2.6h0m0 10h0m.2-3.3h0m.2 .4h0m0-2.5h0m0-1.3h0m.2 5.3h0m.1-.7h0m.1-5.4h0m.3 3h0m0 5.5h0m.1-2.5h0m0-9.7h0m.1 5.3h0m0 1.7h0m.1-1.3h0m0 3.5h0m.3-10.5h0m.1 12.3h0m.1-1.4h0m.1-7.3h0m0 13.6h0m.1-16.3h0m0 7.2h0m.1 4.1h0m.1-2.2h0m.2-5.3h0m.1 6.2h0m.1-1.9h0m.3 2.8h0m0 1.9h0m.2-4h0m.1 .3h0m.1-7.7h0m.1 6h0m0 3.4h0m.2 1h0m.1-7.2h0m0 8.1h0m0-4.4h0m.1-1.3h0m.3 6.1h0m0-9.8h0m0 4.3h0m.1-3.8h0m.1 5.2h0m.2-5.4h0m0 10.7h0m.1-6.7h0m.4-3.5h0m.1 3.8h0m.1 7.5h0m.1-12h0m.6-1.3h0m0 9.7h0m.1-4.8h0m.2 5.4h0m0-2.1h0m.2-2.9h0m.1 2.4h0m.1-2.8h0m.2 5.1h0m.4-3.6h0m0-2.8h0m.1 .9h0m0 6.9h0m.2-6.8h0m0 2.9h0m.4 5.8h0m0-2.7h0m.1-.2h0m0-1.5h0m0-7.1h0m.2-.8h0m.4 11.5h0m.4 .6h0m.1-11h0m.2 3.9h0m.2 6.4h0m.1-8.5h0m.2 5.6h0m0 3.6h0m.1 1.9h0m.1-11h0m.1 13.3h0m.2-5.6h0m.1-3.3h0m.3-3.6h0m0 7.2h0m.1 3.6h0m.3-6.9h0m0 6.8h0m.2-4.4h0m0-2.7h0m.3 2.5h0m.1-2.4h0m.1 2.9h0m0-.1h0m.1-.6h0m0-3.5h0m0 6.1h0m.1-6.5h0m0 1.1h0m.1 2.2h0m.4 9.3h0m0-12.7h0m.1 3.6h0m0 .2h0m.2 .6h0m0-1.4h0m0 2h0m.2 0h0m.3-7.6h0m0 1.7h0m0 6.8h0m.2-7.9h0m.1-2.8h0m0 7.3h0m0-2.5h0m.1 4.5h0m0 .8h0m.1-8.7h0m.1-2.6h0m.1 3.5h0m0 7h0m0-5h0m0 .2h0m.2-2.1h0m0 1.1h0m.2 1.8h0m0 5.2h0m0-3.5h0m.2-5h0m0 8.4h0m.1-5.2h0m.2-9.5h0m.1 13.1h0m0-1.1h0m.2 3.9h0m.1-3.8h0m0-3.8h0m0 7h0m.1-6.1h0m0-.9h0m.1 5.6h0m0-9.1h0m0 6.7h0m0-7.7h0m.1 .8h0m.1 12.7h0m0-12h0m.1-1.2h0m.1 3.7h0m.2 2.2h0m.1 2.1h0m.1-2.9h0m0 1.9h0m.1 3.1h0m.1-7.4h0m.1-.9h0m0-1.8h0m.1 4h0m.1-1.6h0m.1-1.6h0m0 4.9h0m.1 6.8h0m.1-8.2h0m.1 0h0m.2 6.3h0m.2-5.5h0m.1 .7h0m.1-.7h0m.1 8.1h0m0-7.7h0m0 .1h0m.4-3.3h0m.1 .7h0m.1 4.1h0m.3-1.5h0m0 3.7h0m.2-1.4h0m0 .8h0m.1-3.4h0m.2 2h0m.1-7.2h0m.2 10.5h0m0 1h0m0-5.4h0m0-.4h0m0 3.1h0m.1-.5h0m.2-.4h0m0-3.5h0m.2-.3h0m0 7.9h0m.4-4.2h0m0-3.9h0m.1-.1h0m.2-3.9h0m0 2.3h0m0 8.7h0m.1 4.4h0m.1-4.3h0m0 1.7h0m0-5.4h0m.2 3h0m.2-1h0m.4-1.4h0m0-3.2h0m.1 .9h0m0-3.8h0m.1 4.4h0m.1 4.1h0m0-7.3h0m.3 7.1h0m.2-4.6h0m0-.8h0m.1 7.1h0m0-2.6h0m.5-1.1h0m.1-1.1h0m0 .7h0m.3-4.8h0m.1 3.7h0m0-2.2h0m.4 2.7h0m.4-1.4h0m.2 2.9h0m0 2.8h0m0-1.5h0m.1-3.5h0m.1-5.2h0m.1 .9h0m0 3.2h0m0-.8h0m0-1.8h0m.1 7.3h0m.1-3.6h0m.2 2h0m0-3.4h0m.2-.3h0m.1 3.4h0m.1-8.6h0m.1 10h0m.1-3.7h0m.2-5.9h0m0 6.8h0m0 1.4h0m.6-1.6h0m.3-4.6h0m.2 3.5h0m0 5.2h0m0-7.6h0m.1 6.5h0m.1-9h0m0 4.9h0m.1 3.2h0m.1-3.8h0m.1-.3h0m.1 3.1h0m0-.8h0m.1 5.4h0m0-8.3h0m.1 2.6h0m.2 2.9h0m0-1h0m0-2.2h0m.1 2h0m.2-2.7h0m0-5h0m0 10.8h0m0-1.9h0m.2-5.6h0m.2 3h0m.1-2.3h0m0 3.6h0m.1-4.5h0m.1-1h0m.1 1h0m.2 7.6h0m.1-1.5h0m.2-5.8h0m.1 7h0m.1-2.6h0m0-2.8h0m.2 3.7h0m.3-2.5h0m0-4.6h0m.1 7.6h0m0 1.1h0m.3-2.5h0m.1-1.6h0m.1 6h0m0-11.1h0m.2 4.5h0m.1-2.1h0m0-1.7h0m.1 4.3h0m.2-3.7h0m.1 6.9h0m.1-11.4h0m.1 2.2h0m.1 7.9h0m.2-6.4h0m.1 3.1h0m0-3.4h0m.1 5h0m.2-4.5h0m.1-4.5h0m.2 6.4h0m0 1h0m0-2.8h0m.1 1.4h0m0-5.3h0m.1-2.7h0m0 5.2h0m.1-1.5h0m0-6.2h0m.1 4.4h0m0 1.2h0m.1 2.6h0m0-4h0m.2 8.7h0m0-1.5h0m0-8.5h0m0 3.9h0m.3 3.7h0m.1-2.8h0m0-.9h0m.4 9.5h0m0-14.2h0m0 .6h0m.1 9.3h0m.1-.5h0m0-1.8h0m.3 1.9h0m0-3h0m0 .1h0m.1-.1h0m0 8.2h0m.2-12.6h0m0 12.4h0m0-2.4h0m.1-3.1h0m.1 3.5h0m0 2.3h0m.1-2.1h0m.1-5.2h0m.1-.3h0m0-2.8h0m.3 7.9h0m.2 5.9h0m.1-9.7h0m.2 3.5h0m.1-1.5h0m0 .8h0m0 2.7h0m.1 1.2h0m0 1.3h0m0-2.8h0m.1-3.6h0m0-1h0m.1 3.2h0m.1 3.6h0m0-3.6h0m0-.9h0m.1-.1h0m0 .3h0m.2 1.4h0m0-1.1h0m.1 1.9h0m0 4.4h0m.1-8.5h0m.1 7.1h0m.1-7.8h0m.1 3.2h0m.1-4.9h0m.1 4.5h0m0-4.4h0m.2 9.5h0m0-8.7h0m.1 1.3h0m0 6h0m.2-6.2h0m.1 .5h0m.1 4.1h0m0 2.1h0m.1-8.8h0m.2 2.7h0m.1 2.7h0m.1-2.5h0m.1 5.8h0m.1-8.8h0m.1 8.9h0m.1-2.6h0m0 3.3h0m0-10.7h0m.1 9.4h0m0-7.4h0m.2 5.5h0m0-5.3h0m.2 8.5h0m0-.7h0m.1-2.4h0m0 3.1h0m0-3.5h0m.1-3h0m.4-2.4h0m.1 10.2h0m0-1h0m.5-2.4h0m.2 2.7h0m.2-4.3h0m0-1h0m.2-3.2h0m0 4.2h0m.3 1.3h0m.1 2.8h0m0-8h0m.1 4.4h0m.1-.4h0m.1-.5h0m.2-1.5h0m0 4.7h0m.1-1.9h0m.2-2.8h0m0 2.3h0m0-.1h0m.2 2.9h0m0-6.7h0m.2 7.9h0m.2-8.6h0m.1 7.9h0m.1-8.5h0m0 10h0m0-2.6h0m0-7.3h0m.7 5.4h0m.1 2.2h0m0-10.7h0m.4 11.3h0m0-.3h0m.1-2h0m.1 4h0m.1-13.9h0m0 2h0m.3 5.3h0m.2 3.2h0m0-3.8h0m.1-1.3h0m0-1h0m.1-1.6h0m.2 6.5h0m.1-6.9h0m0 5.4h0m.2-3.7h0m.1-3.4h0m.2 11.7h0m0-7.9h0m.2 3.9h0m0-4.9h0m.1-3.8h0m0 6.4h0m.1-5.5h0m.1 10.5h0m0-8.1h0m.3 4.2h0m.1-3.6h0m.1 2.2h0m0-.4h0m0 2.5h0m.1-6.1h0m.2 7h0m.1-.9h0m0 3.5h0m.1-5.2h0m0-1.5h0m.1-3.4h0m0 7.1h0m.1 .7h0m0 3.7h0m0-4.9h0m.2-.3h0m.1 .2h0m0 3.6h0m0-7.9h0m.2-.1h0m.2 1h0m.6 1.1h0m.3-1.6h0m.1-.8h0m0-.2h0m.1-1.8h0m0 9.7h0m.3-.4h0m.2-8.8h0m0 10.8h0m.2-3.1h0m.1-1.4h0m0-6.4h0m.1 9.8h0m.1-5.6h0m.6 7.7h0m.1-2.1h0m.1-2.6h0m0 5.3h0m.1-10.5h0m.1 5h0m.1-4.2h0m.1-.5h0m0 .6h0m.2 3.1h0m0 .6h0m0 4.6h0m.1-1.1h0m0-.4h0m0-4h0m.1-1.4h0m.3 6.6h0m0-10h0m.1 8.8h0m.1-2.4h0m0 2h0m.6-.7h0m0-6.4h0m.1-1.1h0m0 6.1h0m0 .1h0m0 1.7h0m.1-5.8h0m.3-1.8h0m.1-5.1h0m0 7.4h0m0 5.3h0m.4 1.5h0m.2-8.4h0m.2 .8h0m0 7.5h0m.1 .1h0m.2-7.5h0m.2-1.2h0m0-4h0m.1 8.4h0m.3-8.3h0m.1 12.6h0m.1-.4h0m.2-2.3h0m0 1.9h0m.2-11.3h0m0 5.4h0m0 .5h0m.1-.6h0m.1 1.2h0m.2-2.1h0m.1-1h0m.1 4.8h0m.1 3.2h0m.1-4.9h0m.1 2.4h0m0 4.6h0m0-4.3h0m0-4.6h0m.4 7.4h0m.1-.7h0m0 0h0m.2-4.4h0m0-2.2h0m.1 4.7h0m0-2.1h0m.1 6.2h0m0-2.9h0m.1-3.3h0m.1-.2h0m0-3.5h0m.3-1h0m.2 8.2h0m0-1.9h0m.2 2.9h0m.2-1.8h0m0-4.2h0m.1 3.7h0m0 1h0m.1 2.2h0m0-4.3h0m.2-5.2h0m0 1.9h0m.1-3.4h0m0 6.6h0m.3-1.2h0m0-2.6h0m.4-.2h0m.1-.4h0m0 2.1h0m0 2.8h0m0-8.2h0m.1 1.8h0m.4 5.8h0m0-7.2h0m0 4h0m.1-6.8h0m0 2.7h0m.2 4.3h0m.1 4.9h0m0-6h0m.2 5.6h0m.1 2.8h0m.1-13.5h0m.1 6.7h0m0-3.2h0m0 0h0m.1-1.6h0m0 8.3h0m.1 1.6h0m.1-9.7h0m.1 2.2h0m0-1.1h0m0-.8h0m.2 12.6h0m.1-7.3h0m.1-6.4h0m0 7.7h0m.2 1.1h0m.1-5.4h0m0 1.6h0m0-4.1h0m0 9.1h0m0-6.7h0m0-.7h0m.1 6.8h0m.1-7.6h0m.1 4.3h0m0 5.8h0m0-13.4h0m.2 9.7h0m0-.3h0m.1-3.1h0m.2 6.1h0m.1-9.9h0m.2 9.5h0m0 0h0m.1-8.1h0m.1 6h0m.1 2.4h0m.1-.4h0m.1-6.8h0m0 5.7h0m0-1.9h0m.1-4.5h0m.1 6.5h0m.1-2.4h0m0 .3h0m.1-8.1h0m0 7h0m.1-3.4h0m.2-4.4h0m.1 8.6h0m0-7.1h0m0 4.6h0m.1 .3h0m.2-1h0m.1-2.4h0m0 4.7h0m.1-4.9h0m.5 4.6h0m.2-3.2h0m0 6.7h0m.1-5.1h0m.3-3.1h0m.3 3h0m.2 8.8h0m.2-4h0m.3-3h0m.2 6.2h0m0 2.6h0m0-1.8h0m.1-9.2h0m.2 10.1h0m.1-4.2h0m.3-4.5h0m0-1.6h0m.2-.3h0m.2-2.2h0m.1 8.2h0m0 2.3h0m.1-8.6h0m0 2.9h0m.1-1.3h0m.1 .5h0m0 2.3h0m.1-4.2h0m0 .3h0m.1-2.1h0m.2-1.8h0m0 7.7h0m.4-8.7h0m.2 .6h0m.1 4h0m0 1.7h0m0-3.6h0m.1 6.1h0m.2-9.5h0m.1 5.3h0m.2 3.6h0m0-5.8h0m0 4.3h0m.1 3.5h0m.3-5.8h0m.1-7h0m.1 2.8h0m.2 2.3h0m.1 5.9h0m0-.8h0m0-4.5h0m0 4.1h0m.2-12.1h0m0-.5h0m.1 8.9h0m0-.6h0m.1-2h0m.2-3.2h0m.2 4.6h0m0 .3h0m.1-3.4h0m.1 .9h0m0-1.4h0m.1 10.9h0m.2-9.6h0m0 11.8h0m0-3.3h0m.1-2.7h0m.3-6.3h0m0 12.5h0m.1-5.3h0m.2 1.1h0m0-10.1h0m.1 13.1h0m0-5.9h0m.2 7.1h0m0-9.8h0m.1 1.5h0m0 2.2h0m0-8h0m.1 9.5h0m0 4.5h0m0-7.7h0m.1 6.1h0m.4-12.4h0m.3 10.4h0m.1-7.7h0m.1-1.6h0m0 3.4h0m.2 6.8h0m0-2.8h0m.1-1.1h0m0-1.3h0m.1 3.4h0m.1-4.2h0m.1-5h0m0 9.4h0m.3-2.1h0m0-2.7h0m.2-2.5h0m.1 8.4h0m0-2.3h0m.1-2.5h0m.1-2.9h0m.1 5h0m.6 3.7h0m.1-11.2h0m.3 10h0m0 2.1h0m.1-12.4h0m.1 .6h0m0 2.5h0m.2 8.1h0m.1-.8h0m.3-9.7h0m.1 .4h0m.1-3.3h0m.1 9.9h0m.2 14h0m.3-14.7h0m.2 4.7h0m0-9.8h0m.1-2.4h0m.3 6.9h0m0 2h0m.1-.6h0m.1-.4h0m.1-4.1h0m.1-2.8h0m0 11.5h0m.1-3.2h0m.4-4.2h0m0-1h0m0 1.8h0m.1-1.9h0m.2 7.8h0m.1 .5h0m0-6.9h0m.1 4.7h0m0-.2h0m.1-3.8h0m.5-6.4h0m0 3.9h0m.1-.2h0m0-1.1h0m0 5.5h0m.3-4.8h0m.2-3.9h0m.1 10.4h0m.1-8.1h0m0 2.6h0m.1 17.5h0m.1-21.1h0m.3 6.3h0m.1-8.3h0m.1 5.4h0m0-.9h0m.3-4.1h0m0 8.5h0m.1-2.6h0m0 1.9h0m.2 .4h0m.2-7.1h0m0 7.6h0m.1-1.6h0m.3-.5h0m.3 .2h0m0-2.6h0m.1 2.4h0m.4-1.4h0m.2 .8h0m0 7h0m.1-13.4h0m.1 2.8h0m.1-.2h0m.2 7.8h0m0-5h0m.2-1.8h0m.1-2.5h0m.1 5.2h0m0-2.1h0m.1 2h0m0-.1h0m0-.5h0m0 2.5h0m.1 .3h0m0-1.4h0m0-1.5h0m0-.4h0m.1 4.5h0m.3-5.4h0m.2-2.6h0m.2 4.7h0m0 2.3h0m0-2.8h0m.5-8h0m0 7.4h0m.2 4.7h0m0 .2h0m0-.5h0m.1-2.6h0m.1-4.9h0m.1 6.7h0m.2-3.6h0m.1 1.4h0m.1 3.1h0m.2 .2h0m0-2.2h0m0 .9h0m.1-7.1h0m.2 5.1h0m.1-7.2h0m.5 22h0m.2-21.8h0m.3 .3h0m.1 8.6h0m.1-1.5h0m.1 1.2h0m0-4.8h0m0-4.5h0m.1 9.6h0m0-.7h0m.2 1.3h0m.1-10.9h0m.1 2.8h0m.1-1.5h0m0 5.9h0m.1-.6h0m.1-1.9h0m0-3.3h0m.2 5.8h0m.1 2.3h0m0-8.2h0m.1 3h0m0 6.6h0m0-9.1h0m.1 1.4h0m0 6.6h0m0-3.4h0m.1-4.3h0m.2-2.5h0m.1 6.8h0m0 .7h0m.3-2.4h0m.2 2.1h0m.1-2h0m0-2h0m.1 0h0m.1 10.4h0m.3-1.2h0m0-6.5h0m.1-3.7h0m0 2.4h0m.3-.9h0m0-4.3h0m.4 10.4h0m0-5.1h0m.3-1h0m.1 5h0m.1-1.5h0m0-1.8h0m.1 5.9h0m.1-9.8h0m.1 2.6h0m0 4.6h0m.1 4.1h0m0-11h0m0 1.9h0m.1-.1h0m.3-.4h0m.1 7.5h0m0-8.3h0m.2-2.1h0m0 12.3h0m0-4.6h0m.1 2.2h0m0-4.5h0m0-3.1h0m0 7.2h0m0 .9h0m.4-4.3h0m0-4.9h0m.1 3.2h0m3 5.6h0m0-.8h0m.4-1h0m.2 2.6h0m.1 .2h0m.2-5.9h0m.1 2.3h0m.2-1.4h0m.1 4.9h0m0-9.7h0m.1 2.4h0m0 2.9h0m0 5.8h0m.1 5.7h0m.1-14h0m0 2.5h0m.1-3.1h0m0 1.8h0m.1 6.9h0m0-4.8h0m.1-4.1h0m.2-.6h0m.5 2.8h0m.1-1.1h0m.5-6.2h0m.1 1.7h0m.2-.6h0m0 15.9h0m0-8.4h0m.3-12.5h0m0 6h0m.1 4.7h0m0-2.5h0m0-.4h0m.1-4.4h0m.2 5.1h0m0-2.5h0m.1 5.7h0m.3-4.8h0m0 2.6h0m.1-10.1h0m.4 6.7h0m.3-5.3h0m0-5.2h0m.1 11.4h0m0-9.4h0m0 9.6h0m.2-6.5h0m.1 4.2h0m.1-.4h0m0 1.7h0m.1-3.7h0m.2 1.2h0m0-2.5h0m.1-2.3h0m0 10.9h0m.2-8h0m0 3.4h0m.2-3.5h0m.1 2.9h0m0-1.6h0m0-4.4h0m0 11.1h0m.2 1.9h0m.1-8.7h0m0 4.5h0m.1-7.1h0m0 7.8h0m.1-4.1h0m0-1.9h0m0-.4h0m.2-2.3h0m0 5.2h0m.1-9.3h0m.2 4.1h0m.1 3h0m.1 1.2h0m0-1.3h0m.2 7.9h0m.2-4.3h0m.1-1.9h0m.1-2h0m0-1.4h0m0-.1h0m.3 10.1h0m.2-13.3h0m0 10h0m.1-7.5h0m0 3h0m0-.4h0m.2 7.8h0m.2 2.8h0m0-8.2h0m.1-1.4h0m0 1.3h0m.2-1.8h0m.3 2.1h0m.1-5.1h0m0 7.4h0m.5-9.8h0m0 1.8h0m.2 4.9h0m.1 2.3h0m.2-6.7h0m.1 5.9h0m0-5.9h0m.1 4h0m.2-1.7h0m.1-1.2h0m0 .5h0m.2 3.2h0m.1-6.9h0m0 11.9h0m.1-3.4h0m.4-6.9h0m.6 .4h0m.3 6.1h0m.1 2.3h0m0-5.2h0m0 3.6h0m.1 1.3h0m.1-2.6h0m0 5.4h0m.3-4.2h0m0 4.2h0m.1-7.1h0m.2 7.9h0m0-3.2h0m0-2.9h0m0 10.3h0m.6-7.7h0m.2 .3h0m0-.1h0m.1 2.2h0m.2-2.3h0m.1 3.7h0m0-.6h0m0 4.9h0m.3-1.5h0m0-4.7h0m0 4.1h0m.1-6.1h0m0 10.6h0m.2 1.6h0m.3-1.8h0m.1-2.5h0m.1 .1h0m.1 1.2h0m.1-5.5h0m.1 7h0m.1 .6h0m.1 0h0m.1 5.4h0m0-11.6h0m.1 6.4h0m.1 2.3h0m.2 1h0m.1-3.3h0m0 3.6h0m0-8.3h0m.1 7.8h0m0-5.3h0m.3-1.5h0m.1 4.5h0m.1 2h0m.2-4.6h0m.3 3h0m.1-.4h0m.1-1.5h0m.1 6.9h0m.1-5.8h0m.1 3.5h0m.1 .8h0m.1 .7h0m0 .5h0m.4 4.4h0m.3-2.6h0m.2-5.4h0m.1 5.1h0m.1-.7h0m.3-1h0m.1 .1h0m0-3.3h0m.1 4.5h0m.1 1.3h0m.2-3.5h0m.3-.4h0m0-6.8h0m0 6.4h0m.1 5.4h0m.1-1.1h0m.2-7.2h0m.1 1h0m.1-6.4h0m.1 4.6h0m.2-4.1h0m0 7.9h0m.1-7.8h0m0 .7h0m0-.3h0m0-1.4h0m0 .8h0m.1-1h0m0 6.3h0m.1-4h0m0 2.9h0m0 1.1h0m.1 .3h0m.1 3.6h0m.4-9.9h0m0 9.4h0m0-1.7h0m0-.8h0m0 0h0m.1-6.6h0m0-.4h0m.1 5.9h0m0-.7h0m0-6.2h0m.1 2.2h0m.2 .6h0m.2 2h0m.1-5.4h0m0-4.9h0m0 8.6h0m.1-7.1h0m0 4.8h0m.1 2h0m.4-8.1h0m.4 4.2h0m0 4h0m.2-.2h0m.2-4.6h0m.2-4.6h0m0-2h0m0 8.7h0m.1-8.5h0m0 3.3h0m.1-3.1h0m0 5.6h0m0-5.8h0m.1 6.6h0m0-10.7h0m.2 11.2h0m0-11h0m.1 8.4h0m.2-1.9h0m0 6.3h0m.1-4.7h0m0-8.1h0m.1 4.2h0m.1 2.1h0m0-.9h0m.3 6.2h0m.2-6.3h0m0 2.3h0m.1-.4h0m.2-7.7h0m.2 11.3h0m0-5.6h0m.1-5.1h0m0 6.5h0m0-3h0m.1 5.9h0m.2-8.6h0m.1 .8h0m0 3.1h0m.1 2.8h0m.1-3.5h0m.1-2h0m0 6.9h0m0-4.1h0m0 5h0m.2 1.2h0m0-2.4h0m.2-.1h0m.1-7.7h0m.6 6.7h0m.2-2.9h0m0-4.4h0m.1 11.4h0m0-4.3h0m.1-5.1h0m.1 .3h0m.2 7.3h0m0-.6h0m.1-4h0m0 4.8h0m.1-2.7h0m0-2.3h0m.1 1.6h0m.2-8.6h0m.1 4.1h0m0-1.4h0m.2 2.9h0m0 4.8h0m.1-1.1h0m.7 .4h0m.1-2.5h0m0-5h0m0 6.2h0m.2-8.2h0m0 6.4h0m.1-1h0m.3-2.9h0m.1 1.3h0m.5 9.5h0m0-5.9h0m0 .3h0m.1 2.5h0m.1-.2h0m.1-7.7h0m.1-.4h0m.2 7.2h0m.1-4.9h0m0 .1h0m.1 7.9h0m.1-9h0m0 9.8h0m.1-6.3h0m.1-1.2h0m.1 8.3h0m.2-1.5h0m0-.7h0m.1 2.8h0m.1-7.2h0m.1-3.4h0m.1 .6h0m0 3h0m0 5.8h0m.1-11.8h0m0 10.3h0m.3-4.8h0m0-4.2h0m.2-6.7h0m.1 6.9h0m.3 6.6h0m.2-8.8h0m.1-.4h0m.1 3.5h0m0 .1h0m0 2.6h0m.1 4h0m.1-6h0m.1-4.3h0m.2 7.4h0m.2 .5h0m.1 .6h0m0-5.4h0m.2-1.6h0m.1 .9h0m.3 1h0m0-3.1h0m.1 2.2h0m.1-1.9h0m.1 3.9h0m.1 .1h0m.2-1.2h0m0 2.3h0m.1 2.7h0m0-3.4h0m.2-4.3h0m.2-.5h0m.1 2.6h0m.1 .2h0m.1-1.7h0m.1-1.5h0m.1 3.2h0m0 5.9h0m.1-7.7h0m0-3.7h0m.1 4.4h0m.2-2.8h0m0 5.1h0m.1-6.2h0m0 9.4h0m0-2.4h0m.1-6.7h0m.1 3.1h0m0-3.1h0m.2-.7h0m.1 9.3h0m.1-11.2h0m.1 1.6h0m0-3.2h0m.2 4.4h0m.2 7.2h0m.2-9.1h0m.1 5.4h0m.1 2.2h0m0-4.8h0m.1 5.6h0m.3-3.6h0m0-4.9h0m0 5.1h0m.1 1.1h0m.1 1.2h0m0-4.3h0m0-4.2h0m.2 7.2h0m.2-3.3h0m0 2.9h0m.1-5.1h0m.1 8.9h0m0-4.8h0m0 3.4h0m0-8.3h0m.1 4h0m.1-4.9h0m0 3.4h0m0 4.8h0m.1-.1h0m.1-9.6h0m.1 9.5h0m0-2.1h0m.1-1.1h0m.3 4.3h0m.1-5.7h0m0 .6h0m.1 .5h0m0 2.6h0m.2-1.2h0m.1-.8h0m0 2.6h0m.1-3.2h0m0-3.2h0m0 9.7h0m0-5.5h0m.1 4.7h0m.1-2.7h0m.1-4.3h0m0 6.2h0m.1 2.8h0m0-8.7h0m0 6.4h0m.1 2.6h0m.2-9.5h0m.1 3.5h0m0-.8h0m.1-5.9h0m.1 4.7h0m0-2.6h0m.2 7.7h0m0-8.3h0m0 7.4h0m.1 3.1h0m0-1.8h0m0 .7h0m0-6.2h0m.1 4.4h0m.3-3.4h0m.2 4.1h0m0-1.1h0m0-7.1h0m.1-3.3h0m.2 7.1h0m0-4.1h0m0 6h0m.1-3.1h0m0-3.3h0m.1 5.1h0m0-3.1h0m.1 5.7h0m.2 2.1h0m0 4.1h0m0-12.1h0m.1 0h0m0 9.1h0m.1-4.4h0m0 3.2h0m.1-1.7h0m.1-6.6h0m.1 5.8h0m0-.5h0m0 1.6h0m.1-2.7h0m0-3h0m.1 8.3h0m0-4.9h0m0 4.5h0m.1-4.4h0m.1-6.7h0m0 2.2h0m.3 10.6h0m0-4.2h0m0-3.9h0m.2 8.1h0m.1-3.7h0m0-.3h0m.1-2.1h0m.1 .3h0m.1 .1h0m.5 6.4h0m0-3.6h0m.1 5.1h0m0-6.2h0m0 9.7h0m.1-7.6h0m.1 2.8h0m.1 3.6h0m.1-3.8h0m0 1h0m.1-2.1h0m.1 14h0m0-8.4h0m.1-1.2h0m.3-1.4h0m.1 9.9h0m.1-11.1h0m0 1.4h0m.1 6.5h0m.1 2.2h0m.1-5.2h0m.5 7.7h0m0-5.9h0m.4-3.2h0m0 6h0m.1-4.3h0m0 5.8h0m.1 2.3h0m0 .1h0m.1-.4h0m.1 1.1h0m.1 .1h0m0-7h0m.2 .8h0m.1-.9h0m0 8.5h0m.1-6h0m.1 1h0m.4 .6h0m.1 3.3h0m0 4.5h0m.1 1.6h0m.2-4.3h0m.2-.5h0m.1-2.1h0m.1 3.5h0m.6 1.2h0m0-1.6h0m0 1.8h0m.2 3.6h0m0-1.5h0m0-6h0m.1 2.5h0m.4 0h0m.1-.1h0m.3-6h0m.1 4.9h0m.3 1.9h0m.2-10.4h0m0 12.8h0m0-7.1h0m.1-4.6h0m0 5.6h0m.1 3h0m.1 3.5h0m.2-11.9h0m0 .4h0m.1 5.9h0m0-6.9h0m.1 9.1h0m.1-12.1h0m.1 4.6h0m.1 4.7h0m0-3.6h0m0 1.7h0m.1 4.9h0m.2-5.7h0m0 6.5h0m.1-4.6h0m0 1.3h0m.4-3.8h0m.1 .3h0m.1 0h0m.1 1.2h0m0-2.3h0m0-5.3h0m.1 4.1h0m.1 1.4h0m.3-3.2h0m0 .8h0m.1 .2h0m.2-2.4h0m.1-5.3h0m0 7.3h0m.1 2.4h0m.4-4.4h0m.1 2.6h0m.2-11.3h0m0 1.8h0m.1-2.5h0m.2-1.9h0m.1 12.9h0m0-5.1h0m.1 2.1h0m.3-1.7h0m.2-.4h0m.1 1.9h0m.1-7h0m.2-3.9h0m0 9.8h0m0-8.5h0m.2 2.3h0m0 4.8h0m.4-5.8h0m.1 3.5h0m0-3.5h0m.1-6.8h0m.2 4.8h0m.3 3.5h0m0 5.4h0m.2-6.4h0m.2 1.2h0m.1-.5h0m.1-3.2h0m0 7.8h0m.1-4.4h0m.1 7.8h0m0-3.5h0m0-2h0m0 .1h0m0-7.2h0m0 4.5h0m.1-5.8h0m.1 9.1h0m.3-4.9h0m0 8.4h0m.1-7.5h0m.2-3.1h0m.1 1h0m0 9.1h0m0-12.6h0m0 13h0m.1-10.7h0m0 4.2h0m.2 5.1h0m.2-5.1h0m0 4h0m0-2.9h0m0-4.7h0m.1 1.1h0m.1 4.2h0m0-3.6h0m0 4.3h0m0-6.6h0m.2 .4h0m0 7.8h0m.3 .6h0m.1-5.2h0m0 1.1h0m0-6.8h0m.1 1.3h0m.1 8.5h0m0-3.3h0m.3-1.6h0m.2-2.6h0m.4 7.4h0m.3-.5h0m.1-5.5h0m.1 1.2h0m0-1.2h0m.1-1.2h0m0-.1h0m.2-.7h0m.1 3.4h0m0-3.5h0m0 2.6h0m.1 .8h0m.2 5.1h0m.1-3.6h0m.1-.7h0m.1 3h0m0-9.2h0m.2 11.7h0m0-7.1h0m.2-1.2h0m.2 6.2h0m0-2.3h0m.1-3.2h0m.1-3.8h0m.1-.3h0m.1 8.3h0m.1-.4h0m.1-1.6h0m0 0h0m.4 1.5h0m0 4h0m0-7.4h0m0-.3h0m.1 2.4h0m.2-.2h0m0 3.1h0m.2-7.7h0m.1 7.6h0m.1 2.2h0m.1-5.7h0m.1-1.5h0m.2 9.6h0m.1-7.1h0m.1 3.9h0m.2-.3h0m0-3.6h0m0-2.5h0m.1-1.5h0m0 1.8h0m.1 5.2h0m0-7.2h0m0 1.9h0m.1-1.1h0m0 3h0m0 2h0m.1 3.8h0m0-3.6h0m0 3.8h0m.3-3.5h0m0-7.1h0m.1 1.5h0m.1-.2h0m.1 1.2h0m.1 2.7h0m.1-4.9h0m.1 4.5h0m0-3.1h0m.1-.6h0m0 6.2h0m.2-2.9h0m.1-1.4h0m0 8h0m0-8.4h0m0 6h0m0-5.5h0m.2 6.1h0m0-4.1h0m.1-5.1h0m.2 3.3h0m0 1.4h0m.2-4.4h0m.2 9.1h0m.1-5.9h0m.2 4.1h0m.2-4.4h0m0-2.2h0m.1-1h0m.1 3.5h0m.5-2.7h0m0 .8h0m0-3.5h0m.1 7.5h0m.1-.2h0m.1-3.4h0m.1-2.6h0m.1 6.6h0m0 4.5h0m.5-6h0m0-1.1h0m.2-2.7h0m.3 6.9h0m.1 .5h0m0-2.5h0m.1-6.1h0m.1 11.1h0m0 .4h0m.1-1.2h0m.1-2.4h0m0 6h0m0-7.1h0m0-.3h0m.2-7.4h0m.2 9.3h0m0 .3h0m0-5.8h0m.1 0h0m.2-2.1h0m0 8h0m0 .5h0m.2-7.8h0m.2-.5h0m0-1.5h0m0 11.2h0m.1-13.4h0m.1 8.7h0m.2 5.1h0m0-10.9h0m.4 10.8h0m0-5.2h0m.3-8.2h0m.1 7.2h0m.1 7.7h0m0-5.7h0m0 4.3h0m.1-10.2h0m.3 5.1h0m0-2.8h0m.1 4.8h0m0-5.9h0m0 3h0m0-3.1h0m.1-2.3h0m0-.5h0m.2 8.5h0m.3-4.1h0m.1 9.3h0m.1-7h0m.1-.8h0m.1 2.8h0m.3-.8h0m0-5h0m.1 .1h0m0 2.3h0m0 8.1h0m0-6.4h0m.1-6.9h0m0 8.9h0m.1-5.9h0m.1-2h0m0 12.2h0m.1 3.5h0m0-7.7h0m.1 2.1h0m.1-8.7h0m.2 3.3h0m0 1.1h0m.1 6.8h0m.2-9.8h0m0 7.2h0m0-3.8h0m.1 2.3h0m.1-6.5h0m0 .6h0m.2 4.8h0m.1-4.8h0m.1-2.4h0m.1 1.4h0m0 7.2h0m.1-8.9h0m.1 3.4h0m0-2.7h0m.1 1.2h0m0 .4h0m.1-4.2h0m0 1.4h0m0 7.4h0m.1-2.6h0m.1 3.7h0m.1-6.4h0m.2 5.9h0m.1-9.6h0m.1 7.1h0m.1-3.6h0m.1 1.1h0m.1-5h0m0 4.9h0m.2 5.2h0m.2-8.9h0m0 4.5h0m.2 1.9h0m.1-2.3h0m.3 5.1h0m.1-3h0m0-3.3h0m0 .4h0m.2 1.5h0m0 1.6h0m.1 6.3h0m.1-5.6h0m.2 2h0m.1-3.7h0m.1-5.7h0m.1 7.1h0m0 2.7h0m0 .8h0m0-8h0m.1 7.1h0m.2-6.2h0m0 9.1h0m.1-5.1h0m.2 3.2h0m.1-2.9h0m.1-1.3h0m.1 4.4h0m0-5.9h0m0 4.1h0m0 5.9h0m.1-3.3h0m.1-7h0m.1 12.3h0m.2-2.4h0m0-8.3h0m0 6.8h0m.1 1.3h0m0-6.8h0m0-1.8h0m0 1.9h0m.1 1.2h0m.2-4h0m.1 8.5h0m.1-6.6h0m.1 5.4h0m0-.3h0m.1-6.3h0m0 3.2h0m0 4.5h0m.1-9.5h0m0 10.8h0m0-2.1h0m.2-1.9h0m.1 .3h0m.1-.9h0m0-4.5h0m.1 3.3h0m0-4.1h0m.1 13.1h0m.1-10.6h0m.3-5.3h0m0 10.6h0m.1-4.6h0m0 5.8h0m.3-5.3h0m.1-2.5h0m.2 3.6h0m0-5.3h0m.1 3.9h0m0 1.3h0m.1-1.4h0m.5-1.8h0m0 4h0m0-4.8h0m0-2.2h0m.1 4.7h0m0 1.5h0m.2-.3h0m.1 2.7h0m.1-3.8h0m0-5.5h0m0 6.9h0m.1-1.2h0m0 5.2h0m.3-5.6h0m.1 .6h0m.2 .6h0m.1-5.7h0m0-2.5h0m.1 9.8h0m.1 2.3h0m.2-4.7h0m.2 2h0m0 0h0m.1-.9h0m0-1.7h0m.2 3.5h0m0-2.9h0m.1 1.5h0m0 .5h0m.1-5.7h0m0-.2h0m0 6.1h0m.2 4.5h0m0-2.5h0m0-6.3h0m0 2.6h0m0 .8h0m.2 3.2h0m0-3.5h0m.3-2.6h0m0-.8h0m0 3h0m.1 3.6h0m.2-3.4h0m.1 4.7h0m.1-6h0m0 8.8h0m.1-5.6h0m.3-5.2h0m.3 2.5h0m.1 4.9h0m0-2.9h0m.1-5.3h0m.2 2.8h0m.1-1.3h0m0 4h0m0-2.5h0m0 3.2h0m.3-4.1h0m.3-1.9h0m.1 .3h0m0-4.7h0m0 14.2h0m0-6.2h0m.1 3.9h0m.3-5.3h0m0-.4h0m0 2.6h0m.1-.8h0m0-2.6h0m.2-4.6h0m0 4.9h0m0-1.8h0m.1 .7h0m0-1.8h0m.3 5.7h0m0-2.4h0m.1-6h0m.1 3.3h0m0 3.5h0m.1-3.6h0m0-1.4h0m.1-2h0m.2-.4h0m.2 3.8h0m.1 4.6h0m0-6.2h0m.1 4.6h0m.2-4.8h0m.4 6.8h0m.1-5.3h0m.3 3.2h0m.3 3.2h0m0-2.4h0m.3-5.6h0m0 8.5h0m.1 1h0m0-1h0m.1-2.1h0m.3 0h0m0 .3h0m.2-1.7h0m0 6.4h0m.1 1.2h0m.1 .7h0m0-11.8h0m.1 5.9h0m.3 .9h0m.1-1h0m0-.2h0m.1 2.5h0m.2-6.2h0m.1 7.5h0m0 .7h0m0 .5h0m.1-8.7h0m0 2.5h0m.1 3h0m0-1.4h0m.2-5.3h0m.1 5.9h0m.2-6.6h0m.1 4.3h0m.9-4.6h0m.2-.3h0m.1 4h0m.1 5h0m0-2.4h0m.1-5.4h0m0 2.4h0m.2 9h0m0-10.2h0m.1 4.1h0m.2 4.8h0m.1-5.8h0m0-5.3h0m.1 11.1h0m.1-1.7h0m0-4.7h0m.2-3.1h0m.2 3.9h0m.1 3.1h0m0 2.5h0m.1-8.5h0m.2 0h0m.2 6.1h0m.4-.4h0m0-3.6h0m.2 6.8h0m.1-.4h0m.1-3h0m.5 1.4h0m.1-1.5h0m.2 5.3h0m.1 .8h0m.2-3.5h0m.2 10.3h0m0-7.7h0m.2-2.2h0m.2 4.5h0m.1 .6h0m0 5.9h0m.1-8.5h0m0 2.4h0m.1 2.2h0m0 1.9h0m.2-1.2h0m.1-1.1h0m0 3.3h0m.1 1.9h0m0-8.6h0m.1 7.9h0m.2-5.3h0m0-1.8h0m.1 4.9h0m.2-5.6h0m.2 3.6h0m0-.3h0m.1-1.1h0m.1 5.7h0m0-1h0m.1 1.3h0m0-10.2h0m.1 8.7h0m0-5.7h0m.2 4.2h0m0-6.8h0m.1 5.2h0m.1-3.9h0m0 1.7h0m.1 6.7h0m.1 3.4h0m.1-1.9h0m0-6.7h0m0 2.1h0m0-.9h0m0 2.7h0m.1 .7h0m.2 2.3h0m.2-5.2h0m0 .6h0m.4 1.4h0m.1-1.2h0m0 1.4h0m.4 3.4h0m0-3.6h0m.1 5.3h0m.1-3.1h0m.1-5.4h0m0-.9h0m.1 10.5h0m.1-12.6h0m.3 4.1h0m.1 .1h0m0 .8h0m.4 4.1h0m0 5.8h0m.2-11.9h0m0 1h0m0 6.2h0m.2 2.3h0m.1-9.3h0m.1 7.8h0m0-2h0m.1-1.2h0m.1-1.1h0m.1 5.6h0m0-3.1h0m.1 4.6h0m.3-1.4h0m0-2.1h0m.2-4h0m.1-2.1h0m.2-1.4h0m.1 6.3h0m.2 4h0m.1-4.5h0m.1 1.1h0m.1-5.4h0m0 5.4h0m.4 3.1h0m0-8.1h0m.3-1.7h0m0 7.9h0m.1-5.8h0m.3 3.7h0m.2 .8h0m0 5.9h0m.4-5.2h0m0-.8h0m0-3h0m0 6.2h0m.3-10.8h0m.3 6h0m.2 3.6h0m0-.6h0m.1-11.4h0m0 7.5h0m.2-3.3h0m0 .3h0m0-2.4h0m.1 6.7h0m0-3h0m.1-7.4h0m0 4h0m0-3.4h0m.2-.3h0m0 4h0m.1-4.1h0m.2 3.6h0m0-1.5h0m.1-1.1h0m.1-3.3h0m0-.7h0m0 8.8h0m.2-7.9h0m.2 2.1h0m.1-7.3h0m0 6.4h0m.3-3.2h0m0 1.3h0m.1 .9h0m.3 .5h0m.1-4.1h0m.3 4h0m0-9.6h0m.1 5.6h0m0-2.9h0m0 .5h0m.1-3.6h0m0 11.2h0m.2-13.5h0m0 7.8h0m0-2.4h0m.1 4.3h0m.2-2.9h0m.1 .4h0m0 1.3h0m.2-5.5h0m0-1.1h0m.1 .8h0m.2 7.6h0m.1-5.4h0m.1-1.8h0m.1 3.1h0m0 1.1h0m0-9.2h0m0 5h0m.1 .7h0m0 4h0m.1-6.7h0m.1 8.3h0m.2-9h0m0-.6h0m0 7.4h0m.1-2.3h0m.1-1.1h0m.2-.4h0m.1-6.6h0m0 5.6h0m.4-6.7h0m.1 2.1h0m.1-3.1h0m0 7.5h0m.1-1.6h0m.2 1h0m0-1.7h0m.1-.9h0m.3-.1h0m.1 .6h0m0-5.4h0m.2-.2h0m0-1.9h0m.2 2.7h0m.1 4.4h0m.1-5.7h0m0 13.2h0m0-5.9h0m0-7.3h0m.2 6.4h0m0-2h0m0-3.6h0m.2 7h0m.2-5.8h0m.1-.3h0m.1-3h0m.4 8.6h0m0-.4h0m0 3.3h0m.1-9.6h0m.5 7.9h0m.1 3.3h0m0-1.5h0m.1-6.5h0m.3 7.4h0m.1 .8h0m0 1h0m.2 1h0m.2-4h0m0 5.9h0m.2-11.6h0m.1 5.2h0m.1 6.2h0m.2-6.1h0m.1 4.5h0m.1-.1h0m.2-7.9h0m.1 2.3h0m0-.1h0m.1 6.4h0m.1-2.6h0m0 7.3h0m.3-9.7h0m.1 4.9h0m.1-1.9h0m0-.6h0m.1 4.1h0m0-5.5h0m0 6.3h0m.1-3.6h0m.2-.8h0m.2-1h0m0 3.5h0m.1-.7h0m.2 2.1h0m.1-.7h0m.1-1.4h0m0-1.5h0m.1 .8h0m0 2.7h0m.1-1.6h0m0 6.5h0m0-4.1h0m.1 .7h0m0-6.4h0m.2 5.8h0m.1-4.2h0m.2 0h0m0 .6h0m.5 5.6h0m.1-4.6h0m.2 8.7h0m0-12.4h0m.1 1.1h0m0 3.8h0m0 1.1h0m.1 1.9h0m.1-2.1h0m0 4.9h0m0-7.2h0m.3 8.6h0m.1-6.5h0m0-3.5h0m0 4.4h0m0-1.4h0m.1-.8h0m.4 1.2h0m0 3.2h0m.1-1.1h0m0 .8h0m0-.9h0m.2 .8h0m.1-5.4h0m0 1.7h0m.1-2.6h0m.2-.2h0m0-.3h0m.1 1.7h0m.2 8.4h0m0-10.6h0m0 1h0m.1 0h0m.1 7.2h0m.1 3.7h0m.1-11.2h0m.1 3h0m.1 1.5h0m0-1.4h0m.1-.9h0m.1-3.6h0m0 1.7h0m.1 3.7h0m.1-2.3h0m.1 1.4h0m0-4.7h0m0-2.8h0m0 5.4h0m.1 5.9h0m.1-8.2h0m.1 3.1h0m0-8.6h0m.1 3h0m0-1.6h0m0 6.4h0m0-6.6h0m.3 8.3h0m0 1.2h0m.2-7.6h0m.3-4h0m0 13.2h0m0-8.8h0m0 5.1h0m.3-3.4h0m0-3.9h0m.1-4.6h0m0 .2h0m.1 8.9h0m.2-1.8h0m0-4.7h0m.4 2.5h0m0-4.4h0m0-4.8h0m0 6.7h0m.1-.4h0m.2-5.4h0m.3 .2h0m.2 1.2h0m.3 10.2h0m.1-8.7h0m0 5.2h0m.2-.1h0m.1-2.3h0m0 6.5h0m.1-2.7h0m0-3.7h0m.1-.1h0m.1 3.5h0m.1 7.1h0m0 2.2h0m.1-13.3h0m.2 7.3h0m0 1.5h0m.1-2.9h0m.1 4h0m0-3h0m.1-1.5h0m.1-1h0m0 1.9h0m.1 3.9h0m.1 5.5h0m.3-3.1h0m.1-1.9h0m0 8.6h0m.2-3.4h0m0-8.8h0m.1 8.5h0m0-7.9h0m.2 9.4h0m.2-4.4h0m.2 6.9h0m.1 4.1h0m.1-2.5h0m.1-6.9h0m.1 10.2h0m0-3.9h0m.1-.3h0m.1 5.4h0m0-6.5h0m.1-2.3h0m0 5.4h0m.1-1.2h0m.2-2.7h0m.1 5.9h0m.1-.9h0m0-2.5h0m.4 .1h0m.1-1.2h0m0-1.6h0m.2 2.2h0m.3-4.9h0m0 11.7h0m.1-.4h0m.1-6.1h0m.1 1.9h0m.3-1.9h0m0 4.5h0m.1-5.7h0m0 3.3h0m.3 2.1h0m.2 1.9h0m.2-5h0m0 1h0m.1-.8h0m0 2.3h0m.1 2.4h0m0 3.9h0m.1 .3h0m0-9.2h0m.3 12.5h0m.1-12h0m.1 1.1h0m0 7.1h0m.5-1h0m.3-.6h0m.4 6.5h0m0-10.3h0m.2 3.1h0m.1-2.9h0m0 10.1h0m.1-4.4h0m0 1.6h0m.3 1h0m0-5.3h0m0-.5h0m0-2.5h0m.1 6.6h0m.1-1.8h0m0 4.4h0m.1-7.6h0m0 7.4h0m.1-3.7h0m.1 4.2h0m0-5.1h0m.3-1.7h0m0 6.1h0m.1-8.1h0m.1 4.6h0m0 2.9h0m0-6.7h0m0-.6h0m.1-2.4h0m0 9h0m.1-.9h0m.1-8.5h0m0 9h0m.3-10.5h0m.1 8h0m.1 .6h0m0-8.1h0m.3 9.9h0m0-4.5h0m.1 0h0m.2 1.2h0m0 1.8h0m.2 0h0m0 3.1h0m.1-10.5h0m0 4.7h0m.3-8.3h0m.3-1.2h0m.1 10.3h0m.1-2.2h0m.2-2.1h0m0-5h0m.1 .1h0m.1 3.7h0m0 3h0m0-.4h0m.1-.7h0m.1-2.5h0m.2-.4h0m0-4.7h0m.3 8.4h0m.1-5.7h0m0-.2h0m0-3.9h0m.3 2h0m0-2.5h0m.1 1.9h0m.1-1.4h0m.1 4.5h0m0-1.3h0m.1-4.6h0m0-.1h0m.1 5.1h0m.2 2.9h0m.1-.3h0m.2-6.1h0m0-3.1h0m0 8.4h0m.1-2.8h0m0-.2h0m.2-1h0m0-5.1h0m.1 6.8h0m.2-9.4h0m.1 9.5h0m.1-9.9h0m0 10.6h0m.1-2.9h0m.1-.2h0m.1-12h0m.3 9.8h0m0-.9h0m0 .1h0m.1-1.6h0m0-5.9h0m.1 .1h0m0 4.6h0m.1-6.5h0m0 9h0m.3 2.4h0m0-6.4h0m.2-.4h0m.1-3h0m0 6h0m.1-1.7h0m0 2.6h0m0-10h0m.2 6.3h0m.4 2.3h0m.1-12.7h0m.1 4.5h0m.1 3.9h0m.1-4.1h0m0 7.9h0m.1-12.3h0m0 7h0m.1-1.7h0m0-5.3h0m.2 6.3h0m0 1.6h0m.2 0h0m.1-2.8h0m.1 4.1h0m.1-6.1h0m0 .2h0m0 5.8h0m.1-4.4h0m0 2.8h0m.1-1.6h0m0 1.9h0m.5 1.2h0m.2-8.5h0m.1 5.7h0m.1-.1h0m.2-4.8h0m.1-2h0m.1 .4h0m0-5.1h0m.1 14.9h0m0-1.9h0m.1-2h0m.1-1.6h0m0-2.4h0m.1-1.3h0m.1-3.6h0m0 12.4h0m0-6.9h0m0 .6h0m0 4.9h0m0-3.1h0m0-1.1h0m.6 3.9h0m0 .7h0m0-2.3h0m0-3.5h0m0-1.9h0m.2 5.1h0m0-4.5h0m0-5.6h0m0 9.2h0m.1 .9h0m.1-2h0m.1-5.9h0m0 6.1h0m.2-.3h0m0-.5h0m.2 5.1h0m.1-7.3h0m.1 .5h0m.1 .6h0m0 7.6h0m0-7.3h0m.1-1.3h0m.1 4.9h0m.2-4h0m0-.2h0m.1 2.8h0m0-.9h0m.1-6.9h0m.1 6.4h0m.3-8.1h0m.2 6h0m.1 3.3h0m.4-3.4h0m0 4.1h0m0-7.4h0m.1 6.8h0m.2 2.8h0m.1-1.5h0m.2-3.4h0m.1 1.2h0m0 9.7h0m0-7.8h0m.1-1.8h0m.1 5.7h0m0-5.6h0m0 1.2h0m.2-3.8h0m.2 7.4h0m0-7.6h0m.2 7.6h0m0-9.4h0m.1 13h0m.3-2.2h0m.1-2.5h0m.1 .1h0m.1-4h0m.1 2.9h0m0-2.1h0m.1-1.9h0m.3 7.4h0m.1-.8h0m.2-3.7h0m.1 2.6h0m0 5.7h0m0-6.6h0m.1-2.9h0m.2 6h0m.3-.1h0m0 2.5h0m0 1h0m.2-7.7h0m0 1.5h0m.1-6.4h0m0 8.3h0m.1 5.7h0m.1 2.6h0m.3 8.6h0m0-.3h0m0-11.6h0m.1 2.3h0m0 0h0m.4 11h0m0-11.5h0m0 4.7h0m0 5.5h0m.1-3.5h0m.1 4.8h0m.1 .5h0m.2-5.6h0m0-1.6h0m.3 .5h0m.1 6.3h0m0-8.1h0m.1 4.7h0m.1-9.2h0m0 8.5h0m.1-1.9h0m.4-3.1h0m.1 8.4h0m.1-2.4h0m.2 2.4h0m0-4.9h0m0 7.5h0m.1-9.9h0m.1 1.2h0m0 5.6h0m.1-1h0m.4 1.2h0m.1-7.1h0m0 7.3h0m.1-1h0m0-5.1h0m0-.5h0m.1 .6h0m.1-3.2h0m0 10.2h0m.1-8.3h0m0 2.6h0m.2-3.4h0m.2-5.5h0m.3 1.9h0m0 11.8h0m.1-11h0m0 3.9h0m0 .1h0m.1 .8h0m.1-.2h0m.2-.1h0m0 3.5h0m0-4.8h0m.1 1.8h0m0-6.7h0m0 8h0m.1-9.5h0m0 10h0m.1-6.5h0m0 .1h0m.1 .5h0m.2-1.6h0m.2 1.7h0m0 5.1h0m.2-9.3h0m.1 4.7h0m0 .2h0m0 1h0m0-3.3h0m.3-.4h0m.2 2.7h0m0 1.6h0m.2-4.6h0m.1-.2h0m0 .4h0m.1 .8h0m0 2.4h0m.1-5.6h0m.3 3.5h0m0 .4h0m.1-1.7h0m.1 9.9h0m.1-1.7h0m.1-11h0m.1 9.1h0m.1-5.1h0m.2 .6h0m0 2h0m.1 .6h0m.1 4.3h0m.1-4.4h0m.1 .8h0m.1 4.4h0m.2-8.7h0m0 2.1h0m.1 .9h0m.3 2.2h0m.1-2.9h0m.1 6.3h0m0-1.7h0m.1-8.4h0m.2 1.4h0m.1 8.5h0m.2 .4h0m.3-2.8h0m0 2h0m.1-7h0m0 2h0m0-3.9h0m.1-.5h0m.2 9.2h0m0-2.6h0m.1 3.8h0m.1-13h0m0 9.3h0m0 1.7h0m0-4.1h0m.2-5h0m0 5.6h0m0-5.6h0m.1-1.5h0m0 4.3h0m.7-1.3h0m.2-.8h0m0 5.1h0m.2-9.9h0m0 3.2h0m.1 6.6h0m0-5.3h0m0-4.4h0m.2-2.7h0m.2 1.5h0m.2 5.7h0m0-3.8h0m.4 2.1h0m0-4h0m0 1.4h0m0 0h0m0-.9h0m.1 8h0m0-10.8h0m.2 11.9h0m0-7.9h0m.3-5h0m.1 11.6h0m.5-3.6h0m0 3.6h0m.1 2.4h0m0 1.3h0m.1-7.6h0m0 5.1h0m.3-3.7h0m.1-4.9h0m.1 10.2h0m.4-2.6h0m.2-8.7h0m.1 4.4h0m.4-1.3h0m.2 6.2h0m0-2h0m.1-.1h0m.1-6.9h0m.1 6.5h0m.1-3.8h0m0 7h0m.1-4.2h0m0 4.6h0m.1-8.9h0m.1 6.4h0m0 4.8h0m.1-5.4h0m0 3.3h0m.1-3.3h0m.1-3h0m0 8.5h0m.2-1.3h0m0-3.9h0m0-.6h0m.2-1h0m.4 1.7h0m0 1.9h0m0 5.9h0m.2 .3h0m.1-4h0m0 2.8h0m0 2.1h0m0-10h0m.1 11.9h0m0-11.3h0m.2 3.5h0m.1 7.6h0m0-.8h0m.1-6.6h0m0 5.6h0m.2 3.2h0m0-4.3h0m.1 .1h0m.1-3.1h0m.2 2.9h0m.2 3.8h0m0-3.2h0m.1-1.1h0m0 3.6h0m0-.7h0m0-.6h0m0-3.6h0m.2 .8h0m.2 6.3h0m0-1.6h0m.2-2.7h0m.2-1.5h0m.3 8h0m.2 2.4h0m0-4.9h0m.1 3.6h0m.2 1.1h0m.1-.7h0m.1-4.3h0m0 4.3h0m.1-7.2h0m0-.2h0m0 5.6h0m.2-2.1h0m.1 11h0m.1-9.5h0m.1-1.2h0m.2 1.1h0m.1-3.2h0m.1-.9h0m0 11.2h0m.2-9.2h0m.2-1.5h0m0 9.6h0m0-5.1h0m0 5h0m.3 .7h0m0-8.1h0m.1 1.7h0m.1 5.2h0m0-.2h0m.1-1h0m.1-.7h0m.1-2.4h0m0-1.9h0m.1 .1h0m.3-1.8h0m.1 3.6h0m.1 .2h0m.2-8h0m.1 9.6h0m.1-.8h0m0 1.6h0m.3-4.1h0m.1-4.4h0m.1-3.9h0m.2 12.2h0m0 .8h0m.1-10.3h0m0 3h0m.2 1.7h0m0-2.7h0m.1 1.2h0m.1 8.7h0m0-1.4h0m0-11.1h0m0-.6h0m.2 9.7h0m0-7.5h0m0 8h0m.2-8.5h0m0 .5h0m.1-3.3h0m.1 8.1h0m0 5.5h0m0-15.1h0m0 5.9h0m.2-4h0m.3-.6h0m.1-1.1h0m.2 8.1h0m0 3.1h0m.1-6.4h0m.1-5.6h0m.1 13.9h0m.1-10.2h0m.1 6.3h0m0-8.1h0m.1 6.3h0m.1-5.2h0m.1 8h0m.1-9h0m.1 5.2h0m.1 4.6h0m0-12h0m.1 10.2h0m0-.5h0m.2-6.8h0m.2-.9h0m.1-.8h0m.1 5.4h0m.2 2.5h0m.1-8.4h0m0-1.5h0m.4 8.4h0m.1-5.7h0m.1-.5h0m0 .6h0m.2-3.2h0m.1 8.4h0m0-8.7h0m.1 10.2h0m.1-9.3h0m.1-.5h0m0-1.2h0m0-.8h0m0-3.4h0m.1 10.1h0m.1-3.3h0m.1 .9h0m.1 2.5h0m.1 3.8h0m0-5.2h0m0-2.5h0m.3 3.8h0m.2-11.3h0m0 8.1h0m.1-.7h0m0-6.6h0m.1 12.7h0m.1-8.9h0m0 .4h0m.1 2.5h0m.1 5.9h0m0-5h0m.3 2.3h0m0-6.7h0m.1 1.6h0m.2 5.9h0m0-4.3h0m.2 2.1h0m0 6.1h0m0-4.7h0m.2-5.5h0m.1 1.5h0m.1 6.1h0m0-2.7h0m.1-1.2h0m.1 1.9h0m0 2.6h0m0-4.5h0m0 7.2h0m.2-6h0m.1-3.2h0m.4-1.5h0m0 .2h0m.4 3.6h0m0-4.1h0m.2 8.7h0m.1-1h0m0-1.4h0m.1 3.5h0m0-1.8h0m.1 3.6h0m0 1.5h0m.1-6.8h0m.3 10.9h0m.1 1.1h0m.4-8.6h0m.1 1.4h0m.4-.4h0m.1 0h0m0 8.2h0m0 1.5h0m.1-9.8h0m.1 4h0m.2 9.2h0m.1-2.4h0m.1-11.1h0m0 6.3h0m.1 3.7h0m0-1.2h0m0 .9h0m0-4.2h0m.1-5.8h0m0 11h0m.1-4.8h0m.1 0h0m0 3.6h0m.1-3.7h0m.2-5.7h0m.1 8.9h0m.5-8.4h0m.1 2.1h0m0 2.4h0m0-2.7h0m.1-.3h0m0-2.3h0m0 .4h0m.1-1.4h0m0-.4h0m.1 2.7h0m.2-5.7h0m0-1.6h0m.1-.4h0m.1 4.1h0m.1 3.7h0m.1-6h0m.2 8.5h0m.1-5.1h0m0-2.1h0m.3 6h0m.1-5.5h0m0-2h0m.1-.4h0m.1-5.3h0m.1 9.7h0m.2-.9h0m.4-1.2h0m.1 5.7h0m0-4.1h0m.2 1.1h0m.2-9.9h0m.1 4.3h0m.1 1.2h0m.1-2.1h0m0 2.3h0m.3-6.4h0m.1 0h0m0 3h0m.2-1.6h0m.1 3.9h0m0 .3h0m.1-6.2h0m.2 6.5h0m.2-.3h0m.1-7.6h0m.2 2h0m.1-1.8h0m0 2.2h0m.2-1.2h0m.3-1.1h0m0 7.4h0m.2-2h0m.2-3.8h0m.2-1.8h0m0 7h0m.2-1h0m.1-1.1h0m0-2.8h0m.1 5.2h0m0-7.8h0m.1 3.7h0m.1-5.4h0m0 1.6h0m0-.8h0m.1 6h0m.1-10.9h0m0 12.1h0m.2-4.3h0m.1-2.3h0m0-.7h0m.1 1.7h0m0 .2h0m.1-3.3h0m.2 6.8h0m0-6.4h0m0 .3h0m0 1h0m.1 6.3h0m.1-9.5h0m0 5.7h0m0 5.4h0m.1-6.7h0m.1 9.2h0m0-5.9h0m0 5.1h0m.1-4.8h0m.2 0h0m.2 5.4h0m0-9h0m.1 1.2h0m0 0h0m.3-2.3h0m0 4h0m.2-2h0m0 5.7h0m.2 4.8h0m0 .8h0m.1-5h0m.1 .4h0m.3-.2h0m0 2.2h0m.1-4.3h0m0-.1h0m.2 5.3h0m0-1.3h0m0 3.8h0m.3-7.2h0m.1 6.7h0m.1-2h0m.2-3.9h0m0 6.5h0m0-9.8h0m.1 4.8h0m.1-4.6h0m.1 9.4h0m0-4.8h0m.2 1.3h0m.2-4.5h0m.3-3.2h0m0 8h0m.1-6.3h0m0 6.3h0m.4-.2h0m0-6.6h0m.1 6.2h0m.2-5.3h0m.1-2.9h0m0 .2h0m0 4.2h0m.2 4.9h0m.4-4.4h0m.1-2.5h0m.2 10h0m0-2.2h0m0-8.3h0m.1 9.1h0m.4-2.5h0m.2-7h0m0 6.2h0m.2 .3h0m0-1.5h0m.1 4.6h0m0-5.7h0m.1 4.6h0m0-.4h0m.1-2.3h0m.1 4.1h0m0-11.1h0m.3 8.7h0m0-3.9h0m0-2.5h0m.2 7.7h0m.1 3.2h0m.2-10.7h0m0 4.3h0m.1 6.1h0m0-2h0m0 .6h0m.2-4.3h0m.5-4.8h0m0 6.4h0m.1-5h0m.2-6h0m.2 10.3h0m0-4.7h0m.4 4.3h0m.1-5.7h0m.3 3.2h0m.1 2.8h0m.5-6.9h0m0 10.8h0m0-7.7h0m.1-1.1h0m.1 10.3h0m0-7.8h0m.2 4.6h0m.2-5.4h0m.1-2.2h0m.2 2.4h0m0 1.8h0m0 2.1h0m0-.5h0m.1-3.8h0m.2 .1h0m0-1.4h0m.2-2.1h0m.1 5.7h0m.4-2.5h0m0 .8h0m.1-.9h0m0 2h0m.1-2.4h0m.3 1.4h0m.1 5.7h0m0-8.5h0m0 8.5h0m.1-3.3h0m.1 .5h0m.2-.4h0m0 4h0m.1 .9h0m.3-7.1h0m.2 4.4h0m.3-2.8h0m.1 5.2h0m.2-7.3h0m0 9.2h0m.1-10.6h0m0 7.6h0m.2 2.3h0m.1-5.7h0m0-2.6h0m0 6.8h0m.1-5.6h0m0-1.9h0m.1 .9h0m0 6.1h0m.1-7.1h0m0 .3h0m.1 6.9h0m0-9.2h0m.2-1.5h0m.1-.8h0m.4 .7h0m.1 8.9h0m0-5.2h0m0 6.6h0m0-1.3h0m.5-2.5h0m.1 4.5h0m0-.2h0m.1-8.6h0m0 12h0m.1-2h0m.2-6.4h0m.2 2.1h0m.1-4.2h0m0 .9h0m.2 4.4h0m0-4h0m.1 3.9h0m.1-4.7h0m.1 8h0m.3-6.9h0m0 8.9h0m.2-6.2h0m0 5.6h0m.1-7.4h0m.1 6.1h0m0-8h0m0 9h0m.1-.6h0m.1 .6h0m0-2.5h0m0 4.4h0m.1-9h0m.3 1.3h0m.1 2.9h0m.1 4.5h0m.1-8.8h0m0 7.3h0m0 1.8h0m.2-8.1h0m0 5.6h0m.1 1.1h0m0-7.8h0m.1 3.2h0m.2 2.4h0m0-4h0m.1 8.4h0m0-1.4h0m0-5.8h0m0 6.8h0m.1 3.9h0m0-.2h0m.1-8.3h0m0 2.4h0m.2-3h0m0 6.9h0m.2-6.9h0m.1 3.1h0m0 6.5h0m0-1h0m0-2.2h0m.1 4.6h0m.2-2.8h0m0-6.1h0m.1 0h0m.1 6.5h0m0 0h0m.1-.7h0m.2 2.8h0m0-1h0m0 2.2h0m0 .1h0m0 1.5h0m0-.3h0m.1-11.2h0m0 2.5h0m.2 6.5h0m0 1.1h0m0-2.8h0m.1-5.1h0m.3 8.4h0m0-1.5h0m0-.2h0m.1-1h0" stroke="#000" stroke-width="3.7" stroke-linecap="round" fill="none"/>
<line x1="105.5" y1="111" x2="1361.0" y2="111" stroke="#008000" stroke-width="2.08"/>
<line x1="162.0" y1="321.04" x2="162.0" y2="35.5" stroke="#800080" stroke-width="2.083" stroke-dasharray="2.0833 3.4375"/><line x1="849.0" y1="321.04" x2="849.0" y2="35.5" stroke="#800080" stroke-width="2.083" stroke-dasharray="2.0833 3.4375"/><line x1="1060.0" y1="321.04" x2="1060.0" y2="35.5" stroke="#800080" stroke-width="2.083" stroke-dasharray="2.0833 3.4375"/><line x1="1233.0" y1="321.04" x2="1233.0" y2="35.5" stroke="#800080" stroke-width="2.083" stroke-dasharray="2.0833 3.4375"/><line x1="1303.2" y1="321.04" x2="1303.2" y2="35.5" stroke="#800080" stroke-width="2.083" stroke-dasharray="2.0833 3.4375"/>
</g>
<rect x="105.5" y="35.5" width="1380.0" height="286.0" fill="none" stroke="#000" stroke-width="1.1"/>
<line x1="162.5" y1="321.5" x2="162.5" y2="326.9" stroke="#000" stroke-width="1.1"/><text transform="translate(159.14,342.00) scale(1.0524,1)" font-size="14.14" fill="#000">0</text><line x1="345.5" y1="321.5" x2="345.5" y2="326.9" stroke="#000" stroke-width="1.1"/><text transform="translate(327.80,342.00) scale(1.0991,1)" font-size="14.14" fill="#000">2000</text><line x1="527.5" y1="321.5" x2="527.5" y2="326.9" stroke="#000" stroke-width="1.1"/><text transform="translate(511.46,342.00) scale(1.0570,1)" font-size="14.14" fill="#000">4000</text><line x1="710.5" y1="321.5" x2="710.5" y2="326.9" stroke="#000" stroke-width="1.1"/><text transform="translate(692.84,342.00) scale(1.0954,1)" font-size="14.14" fill="#000">6000</text><line x1="893.5" y1="321.5" x2="893.5" y2="326.9" stroke="#000" stroke-width="1.1"/><text transform="translate(875.86,342.00) scale(1.0856,1)" font-size="14.14" fill="#000">8000</text><line x1="1075.5" y1="321.5" x2="1075.5" y2="326.9" stroke="#000" stroke-width="1.1"/><text transform="translate(1054.42,342.00) scale(1.0566,1)" font-size="14.14" fill="#000">10000</text><line x1="1258.5" y1="321.5" x2="1258.5" y2="326.9" stroke="#000" stroke-width="1.1"/><text transform="translate(1237.08,342.00) scale(1.0567,1)" font-size="14.14" fill="#000">12000</text><line x1="1440.5" y1="321.5" x2="1440.5" y2="326.9" stroke="#000" stroke-width="1.1"/><text transform="translate(1419.36,342.00) scale(1.0706,1)" font-size="14.14" fill="#000">14000</text>
<line x1="100.1" y1="42.5" x2="105.5" y2="42.5" stroke="#000" stroke-width="1.1"/><text transform="translate(74.25,47.70) scale(1.0304,1)" font-size="14.14" fill="#000">9.1</text>
<line x1="100.1" y1="88.5" x2="105.5" y2="88.5" stroke="#000" stroke-width="1.1"/><text transform="translate(74.26,93.70) scale(1.0221,1)" font-size="14.14" fill="#000">9.0</text>
<line x1="100.1" y1="133.5" x2="105.5" y2="133.5" stroke="#000" stroke-width="1.1"/><text transform="translate(72.69,138.70) scale(1.1066,1)" font-size="14.14" fill="#000">8.9</text>
<line x1="100.1" y1="179.5" x2="105.5" y2="179.5" stroke="#000" stroke-width="1.1"/><text transform="translate(72.69,184.70) scale(1.1035,1)" font-size="14.14" fill="#000">8.8</text>
<line x1="100.1" y1="225.5" x2="105.5" y2="225.5" stroke="#000" stroke-width="1.1"/><text transform="translate(72.70,230.70) scale(1.1068,1)" font-size="14.14" fill="#000">8.7</text>
<line x1="100.1" y1="270.5" x2="105.5" y2="270.5" stroke="#000" stroke-width="1.1"/><text transform="translate(72.69,275.70) scale(1.1072,1)" font-size="14.14" fill="#000">8.6</text>
<line x1="100.1" y1="316.5" x2="105.5" y2="316.5" stroke="#000" stroke-width="1.1"/><text transform="translate(72.71,321.70) scale(1.1034,1)" font-size="14.14" fill="#000">8.5</text>
<text transform="translate(704.96,27.00) scale(1.0528,1)" font-size="16.97" fill="#000">AGASC ID 249049760</text>
<text transform="translate(483.42,312.00) scale(1.1087,1)" font-size="14.14" fill="#000">60926</text>
<text transform="translate(933.15,292.00) scale(1.0663,1)" font-size="14.14" fill="#000">42785</text>
<text transform="translate(1125.16,272.00) scale(1.0712,1)" font-size="14.14" fill="#000">42781</text>
<text transform="translate(1246.73,312.00) scale(1.0607,1)" font-size="14.14" fill="#000">42065</text>
<rect x="1361.3" y="42.5" width="117.40000000000009" height="27.0" rx="2.8" fill="#fff" fill-opacity="0.8" stroke="#ccc" stroke-width="1.1"/>
<line x1="1366.1" y1="53.9" x2="1396" y2="53.9" stroke="#008000" stroke-width="2.08"/>
<text transform="translate(1406.77,58.60) scale(1.0848,1)" font-size="14.14" fill="#000">mag</text>
<text transform="translate(1437.22,60.80) scale(0.9010,1)" font-size="10.89" font-style="italic" fill="#000">AGASC</text>
<rect x="1348.3" y="247.3" width="130.4000000000001" height="67.0" rx="2.8" fill="#fff" fill-opacity="0.8" stroke="#ccc" stroke-width="1.1"/>
<circle cx="1367.5" cy="260.3" r="2" fill="#f00"/>
<circle cx="1367.5" cy="281.4" r="2" fill="#ffa500"/>
<circle cx="1367.5" cy="302.4" r="2" fill="#000"/>
<text transform="translate(1392.25,263.70) scale(1.0793,1)" font-size="14.14" fill="#000">not OK</text>
<text transform="translate(1392.17,284.80) scale(1.1276,1)" font-size="14.14" fill="#000">Highlighted</text>
<text transform="translate(1393.59,305.80) scale(0.9093,1)" font-size="14.14" fill="#000">OK</text>
<g clip-path="url(#c2)">
<path d="M168.9 514.6h0m.4-6.4h0m1.1 3.9h0m1-1.7h0m3-3.3h0m2 7.9h0m2.2 1.3h0m25.9 46h0m45.2 .5h0m4.8-.6h0m31.8 2.1h0m28.2-1h0m6.8 1.2h0m7.9-47h0m5 49.7h0m23.3-51.9h0m7.8 1.9h0m3 47.3h0m28.4-53h0m0 3h0m6.8 47.9h0m9-47.1h0m5 47.1h0m8.9 2h0m5.1-3h0m10-48.1h0m9 49.1h0m8.5-47.4h0m3.5-6.5h0m1 7.8h0m10.9 47.1h0m2 193.6h0m3.1-246.7h0m5 2.1h0m2 50h0m26-46.1h0m9-22.8h0m19.8 71.9h0m0-3h0m8.5-47.9h0m1.7-.1h0m4 52h0m3-50h0m14-2h0m52 48h0m7 1h0m27 1h0m23.5-1.9h0m1 23.5h0m5.5-24.6h0m9 2h0m1 3h0m5-50.1h0m3-5h0m25.5 124.7h0m45.5-3h0m18-117h0m1-1h0m5.4 199h0m9.4-201h0m2.2 2.3h0m3 2.2h0m3 44.5h0m3 68h0m7-113.7h0m5 0h0m6 137.7h0m3-138.6h0m1.4 310.9h0m59.4-274.8h0m6.1-83.2h0m6.1 72h0m80.4 235.8h0m17.5-208.9h0m1.9-26.9h0m3.6 188h0m3.5-72.8h0m11 345.2h0m7-98h0m6.9-443.5h0m1.3 3.2h0m.3 2.4h0m1 2.4h0m6.5 409.3h0m.5-71.7h0m.5-347.5h0m51.6-24.8h0m100.3 110.8h0m.7-1.8h0m5 1.8h0m.8-1.8h0m30.7-85.5h0m0 11h0m0-5.6h0m0-8.1h0m31.1 13.1h0m22.8 91.3h0" stroke="#ffa500" stroke-width="3.7" stroke-linecap="round" fill="none"/>
<path d="M169.2 517.6h0m.2 5.4h0m0 8.2h0m.1 5.6h0m.2 10.7h0m0-25.3h0m0 18.4h0m0 .5h0m.1 .4h0m0-16.9h0m0-4.6h0m.2 9.7h0m.2 10.2h0m0-17.3h0m0 3.4h0m0 18.3h0m.1-21.9h0m0 24.2h0m.1-26.6h0m0 22.2h0m0 3.3h0m0-12.6h0m.1 4.5h0m.1 7h0m0-26h0m0 10.2h0m0 18.7h0m.1-14.4h0m0 10.4h0m.1-8.2h0m0-8.7h0m0 13.2h0m.1 5.8h0m0-5.1h0m0 3.8h0m.1 3.2h0m0-16.6h0m0 .8h0m.1 13h0m.3-7.8h0m0-4.8h0m0 1.9h0m.1-4.4h0m.2-2h0m.1 14.9h0m.1 3.7h0m.1 2h0m.4-.8h0m.1-15.3h0m.1-5.7h0m0 6.5h0m0-13.7h0m0 26.3h0m.2-9.2h0m0-2.7h0m0 14.5h0m0-17h0m.1 10.7h0m0-13.6h0m0 8.6h0m.2 6.9h0m.1-16.8h0m0 18.1h0m0-12h0m.1 9.2h0m.1 5.8h0m.1-18.3h0m.2 6.8h0m.3-17h0m.3 22.5h0m0-6.3h0m.2-.7h0m.1 2.8h0m.3-1.1h0m.1-4.7h0m0-12.2h0m0 23.5h0m.4-8.9h0m0-3.2h0m0-7.2h0m.1 13.5h0m.1-1.8h0m0 9.2h0m.2 2.5h0m.1-20.4h0m.1 11.8h0m.2 4.9h0m0 0h0m.1-7h0m.2 6.6h0m.1 .9h0m0-12.9h0m.1-1.8h0m.1 6h0m0-.7h0m0 12.1h0m.1-1.4h0m.1-5.6h0m0-8.5h0m.1-5.3h0m.2 15.7h0m.1-3.5h0m0-6.3h0m0 12h0m.1 2.8h0m.1 1.4h0m.3-13.2h0m.2 12.2h0m0 .4h0m.1-21.6h0m0 7.7h0m.1 12.7h0m.2-1.9h0m.2-4.2h0m0-5.8h0m.4 11.5h0m.1-15.8h0m0 18.5h0m.1-6.6h0m.1-2.4h0m.1-5h0m.1-8h0m.1 16.3h0m.1-12.4h0m0 7.6h0m.1 10.8h0m0-1.1h0m.1-21.3h0m0 4.2h0m.2 11.8h0m0-.1h0m0-7h0m.1-1.8h0m0 1h0m.2 6.6h0m0 10.7h0m.1-2.8h0m.1-9.9h0m0-9.2h0m.1 17.7h0m0 5.5h0m.3-22.9h0m0 6.6h0m0 6.6h0m.1-10h0m0 .1h0m.1 11h0m0-7.7h0m0-5.4h0m0 5.4h0m.2-10.6h0m.1 5.2h0m.2 22.7h0m.1-23h0m.1 4.4h0m0-2.1h0m0-7.6h0m.1 9.3h0m0 7.1h0m.1-18.4h0m.1 22.8h0m.1-20.2h0m.1 7.6h0m0-.3h0m0-.5h0m0 12.4h0m0-4h0m.2 6.7h0m0-2.3h0m.2-14.9h0m0 17h0m0-2.8h0m.1-11.9h0m.1 19.2h0m.1-10.4h0m.2 10.5h0m0-19.6h0m.2 2.4h0m0 5.8h0m.2-17.8h0m0 22.2h0m.1-11.8h0m.1 11.7h0m.1 8.5h0m0 1.6h0m.3-18.7h0m0 4.6h0m.1-16.9h0m.3 13h0m0 10.1h0m.2-7.7h0m.3 2.3h0m0 9.1h0m.1 1h0m.1-7.2h0m0-1.3h0m0-2.2h0m.2-6.3h0m.1 12.5h0m.1-6.1h0m0 3h0m.1-12.1h0m0 .2h0m0-.1h0m.1 10.2h0m0-4h0m.1-7.2h0m.2 24.4h0m.1-20.4h0m.1 0h0m0 1.9h0m.3 15.4h0m0-10h0m0 6.6h0m.1-18.4h0m0 15.9h0m.2-1.7h0m0-21.4h0m0 10.1h0m.1 4.2h0m.1-8.5h0m.1 15.5h0m0-4h0m.2-6.1h0m0-6.9h0m.1 4.2h0m.2-1.8h0m.4-9.9h0m0-2.5h0m.2 30.6h0m.1-17h0m.2-12.2h0m.3 11.3h0m.1 18.2h0m0-9.6h0m.1-.9h0m.2-2.5h0m0-6.2h0m.1 11.6h0m.1-9.1h0m.2 15.2h0m.1 .6h0m.1-18.6h0m0-9.8h0m.2 12.1h0m.1 5.5h0m0-11.1h0m.1 5.7h0m.1 6.1h0m0-.1h0m.2-2.5h0m0 16.8h0m0-.9h0m.1-4.6h0m0 3.4h0m.1-18.3h0m0 3.1h0m0-7.9h0m.1 8h0m0-5.8h0m0 .9h0m.2 8.1h0m.1-14.3h0m.1 11.9h0m0 15h0m.1-20.3h0m0-2.2h0m0 14.9h0m.2-9.4h0m0-2.6h0m.1 10h0m0-17.9h0m0 9.4h0m.1-6h0m.1 17.4h0m0-4.2h0m.1 3h0m0 6.6h0m0-8.7h0m.1-5.1h0m.1-11.8h0m.2 22h0m.1 2.8h0m0-13.3h0m.1 7.2h0m0-12.8h0m.1 13.5h0m0-7.7h0m0-6.3h0m.2 15.1h0m.1-16.8h0m.1 4.9h0m0-5.7h0m.1 12.4h0m.1 8.5h0m.1-11.7h0m0 1.2h0m.1-7.4h0m.3 17.2h0m0-.7h0m0 2.1h0m.2-12.2h0m.2 1.3h0m0-9.3h0m0 8.4h0m0-6h0m.1 10.5h0m.1 4.8h0m.1-17.7h0m.1 15.1h0m.2 1h0m.2-16.2h0m0 .1h0m.1 19h0m.1-7.1h0m0-7.2h0m.1-7.3h0m0 20.3h0m0-10.7h0m.1-3.6h0m.1 17.9h0m0-10.4h0m.1 9.1h0m.1-.7h0m0-29.6h0m.1 26.1h0m0-6.9h0m.1-7.4h0m0 5.9h0m0 14.7h0m.1-22.4h0m.1 5.3h0m.1 3.9h0m.1 9.9h0m0-10.8h0m.2 3.4h0m.1-11.7h0m0 16.5h0m0-15.8h0m.1 12.8h0m.2-12.4h0m0-1.7h0m.1 5.5h0m.1 1.9h0m.2 11.9h0m.1-19.3h0m0 15.9h0m.2-16.6h0m.3 3.9h0m.2 4.1h0m0 .2h0m.1-.9h0m.1-1.7h0m.1 8.7h0m.1-8.9h0m0 13h0m.1-2.5h0m.1 1.4h0m0-3.8h0m.1 4h0m0-17.6h0m.1 24.7h0m.2-8.1h0m.2 4.2h0m0-16.7h0m.1 14.1h0m.4-24.2h0m.1 24.4h0m0-3.3h0m.1-4.2h0m0-4.2h0m.1-.6h0m.1 8.1h0m.2-14.1h0m0 12h0m.1 7.7h0m0-21.5h0m.1 32.2h0m.1-29.2h0m.1 20.7h0m0-7.8h0m.2-3.3h0m0-3.8h0m.1 15.2h0m.1-12h0m0-2h0m0 1h0m.1-7.9h0m.1 .6h0m.2-4.3h0m.2-.1h0m.1 18.6h0m0-7.4h0m.1-1.2h0m.1-1.8h0m.2-.5h0m.1 8.3h0m.1 6.9h0m.1-8h0m.1 9.8h0m.2-15.7h0m0 10.1h0m0-.2h0m.1 .6h0m0-1.4h0m.2-13.8h0m.2 7.7h0m0 2.3h0m.1 3.7h0m.3 .9h0m.1-4.9h0m.1 0h0m.1-4.2h0m0 15.5h0m0 1h0m0-24.6h0m.1 4.4h0m0 9.3h0m.1 5.3h0m0-3.2h0m.2-5.6h0m.2-3.9h0m.1 14.7h0m.1-15.6h0m0 12.7h0m0-2.3h0m.2 12.8h0m.2-21.5h0m0-1.9h0m0 19.5h0m.1-25.5h0m.1 9.4h0m0-8.3h0m.2 15.6h0m.1 7.1h0m.1-9.6h0m0-7.1h0m.2 3.6h0m.1 12.4h0m0 3.2h0m0-21.9h0m0 13.8h0m0-2.1h0m.2-11.5h0m0 10.2h0m.2 6.3h0m.1-19.6h0m.1 18h0m0-19.7h0m.1 14.7h0m.1 4.8h0m0-13.3h0m0 11.2h0m0 .2h0m.2-11.5h0m0 14h0m.2-11.9h0m.1-3.3h0m0 15.6h0m.1-7.4h0m.1-13.5h0m.1 23.2h0m.3-16h0m.1 21.1h0m.4-17.8h0m0 12.3h0m0-15.9h0m.2 13.7h0m.2-5.5h0m0 3h0m0-1.3h0m.1 6.1h0m0-19.5h0m.5 15.5h0m.1 1.9h0m.2 1.1h0m0-13.1h0m.1 4.6h0m.1 11.9h0m0-8.3h0m.1-11.5h0m0 10.7h0m.1 6.4h0m0-5h0m.1 6.9h0m.2-3.5h0m.1-17h0m.2 15h0m.2 .7h0m0 4.9h0m.1 1.6h0m.1-2.4h0m0-9.2h0m.1-7.2h0m.1-4.2h0m0 5.4h0m.1 16.9h0m.1 1.5h0m.1-18.7h0m0-13.2h0m.3 16.5h0m.1 14.1h0m0-10.1h0m0-3.5h0m.1-12.2h0m0 22.1h0m.1-6.2h0m.2 3h0m0-10.6h0m.1 8.7h0m.1-7.8h0m0-12.4h0m.1 22.7h0m.1-11.4h0m.1 13.6h0m.1-4.3h0m0-10h0m0 6.3h0m.3-3h0m0-3h0m.1 2.2h0m0 8.9h0m0-11h0m.1 7.2h0m0 7.4h0m.2-19.4h0m.1 .5h0m0 19.8h0m.1-6.8h0m0 5.5h0m0-18.8h0m.1 6.1h0m0 10.1h0m.1-3.2h0m0-6.7h0m.1 4.6h0m.2-5.8h0m0 2.7h0m0 7.9h0m.1-3.4h0m0 7.8h0m0-13.7h0m.1 2h0m0 2.4h0m0-2.9h0m.1 8h0m0 5.1h0m.1-.5h0m0-6.2h0m.1 5.4h0m0-9.6h0m0 .3h0m0 1.3h0m0 7.8h0m.2-8.3h0m0 14.1h0m.1-7.8h0m.4 3.6h0m.1-18.2h0m.1 .3h0m.1-4.7h0m.1 23.8h0m.1-17.9h0m.1 19.1h0m0-22.2h0m0 11.5h0m.1-4.2h0m.2-.5h0m.1 .9h0m.1 15.2h0m0-15.1h0m.1-1.7h0m.2 1.5h0m.1-1.6h0m0 8h0m0 2.6h0m.1-15.2h0m0 11.5h0m.1-2.8h0m.1-2.4h0m.1-2.7h0m0-6.6h0m.1 23h0m.3-23.8h0m0 10.1h0m0 15.2h0m.4-8.3h0m.5 7.2h0m.1-16.1h0m.1 3.4h0m0-2.1h0m.1 .9h0m0 2.2h0m.2 2.3h0m.1-7h0m.1 5.7h0m.1 15h0m0-10.5h0m.2-10.3h0m0-6.2h0m.4 14.9h0m.1 1.2h0m0-4.4h0m.1-5.3h0m0-6.9h0m0 9.9h0m.2 5.1h0m.2-2h0m0 6.4h0m0-16.5h0m.1 21.7h0m0-2.9h0m0-5.6h0m.1-17.3h0m.1 17.8h0m0 1h0m0-7.1h0m.1 6.6h0m0-9.5h0m.3 3.2h0m0 1.5h0m.1-3.2h0m0-9.7h0m.1 9.5h0m0-.8h0m0-8.3h0m.1 19.7h0m.2 6h0m.1-15.4h0m0 7.8h0m.1-18.3h0m0 9.6h0m0-5.3h0m.2-1.5h0m.1 6.4h0m0-9.2h0m.1 7.5h0m.1 10.7h0m0-5.6h0m.2 6.7h0m.2-9h0m0 4.1h0m.2 5.8h0m0 2.5h0m.1-8.1h0m.2-19.3h0m0 6.9h0m.1-1.8h0m0 4.6h0m.1 2.1h0m0-9.9h0m.1 27.4h0m.1-21.3h0m.1 13.9h0m.2-13h0m.2 16.6h0m0-18.8h0m.1 7.7h0m0 1.5h0m.1-4.7h0m0-.1h0m.1 19.5h0m0-5.9h0m.1-11.3h0m.1 10.5h0m0-19.1h0m.1-.1h0m0 11.5h0m.1-8.5h0m.2 6.7h0m0 7.1h0m0 13.4h0m.2-26.4h0m.1 12.6h0m.1-16.4h0m0 8.6h0m.2-6.6h0m.1 7.9h0m.2-11h0m.1 9.3h0m.2 9.8h0m0-2.1h0m.3-2.9h0m0 7h0m.1-4.8h0m0-7.8h0m.1 .8h0m.3 3.1h0m.2 4h0m0-8.4h0m.1 13.8h0m0-14.4h0m.1-2.8h0m.1 11h0m.1-1.3h0m.1 1.7h0m.2-10.7h0m0-6.5h0m.3 18.7h0m0-10h0m0-6.4h0m.1 5.1h0m.3 1h0m.1-4.1h0m.1 1.6h0m.1 6.9h0m0 2.5h0m0-10.4h0m.1-2h0m0 1.1h0m0 7.1h0m0 10h0m0-16.9h0m.3 4.7h0m.3 17.5h0m.1-9.9h0m.2-22.9h0m0 37.6h0m0-14.8h0m.2-10.7h0m.2 7h0m.1-12.6h0m.2 18.3h0m.1-.2h0m0-22.6h0m.1 17h0m0-15.2h0m0 13.8h0m0-8h0m.5 8.8h0m0 3.5h0m.2-9.1h0m0 5.3h0m.1 8.5h0m0-4.2h0m.1-16h0m.1 24.1h0m.4-6.7h0m.4 .3h0m.1-17h0m.1 18.4h0m0-4.6h0m.1 5.5h0m.1-.7h0m.4-10.4h0m.1 2.9h0m0-8.2h0m.1-7.6h0m.1 14.6h0m.1-.5h0m0 4.5h0m.1-11.3h0m0 5.1h0m.1 17.5h0m0-12.9h0m.1-1.5h0m0-15.1h0m.1 15.3h0m0-6.9h0m.2 26.7h0m.1-14.3h0m0-25.1h0m.1 19.8h0m.4-4.8h0m.2-2.5h0m.1 22.3h0m0-21h0m.1-.6h0m.1 7.6h0m.2-9.8h0m.4 11.3h0m0 8.1h0m.1-21h0m0 15.2h0m.1 7.3h0m0-1.6h0m.1 1h0m0 1.4h0m0-20.5h0m0 12h0m.3-1.6h0m.2 2.4h0m.1 .2h0m0-5.8h0m0 4.9h0m0-6.5h0m.1-8.6h0m.1 22.4h0m.1-5.5h0m.1 2.3h0m0-9.6h0m.1 8.1h0m.1-4.3h0m.1-9h0m.1 6.4h0m0 11.3h0m0 .3h0m.2 .5h0m.1-22.8h0m.3 19.4h0m.2-3.5h0m.1-13h0m0 2.2h0m.1 .4h0m0 10.3h0m.1-3.4h0m.2 6.3h0m.1-16.7h0m.2 11.6h0m.1 4.2h0m0-2.8h0m.2-1.1h0m.1-1.5h0m.1-10.6h0m.1 11.5h0m0 1.8h0m.1 9h0m0-.2h0m.4-19.1h0m0-2.8h0m0 11.5h0m.1-11.2h0m.1 18h0m.2-19.1h0m0 12.1h0m.1-10.6h0m.3 16h0m0-.2h0m.1-2.5h0m.1-10h0m0 9.9h0m.1 7h0m.2-1h0m0-27.4h0m.2 18.2h0m0 9.1h0m.2-9.9h0m.1 7.3h0m.1 2.7h0m0-11h0m.1 1.9h0m.1 3.1h0m0 2h0m0-.2h0m.1-11.5h0m0-6.3h0m.1 6.3h0m0-5.4h0m0 20.3h0m0 7h0m.2-12.4h0m.1-6.2h0m.1 12.9h0m0-.2h0m0-9.5h0m.1-4.1h0m0 16.4h0m0-6.6h0m.2 3.6h0m.1-8.6h0m0-15.3h0m0 24.9h0m.1-7.3h0m0 1.3h0m.2-15.4h0m.1 12.4h0m.1-12.7h0m.1 28.4h0m.1-18.6h0m0 .2h0m0 12.7h0m.1-18.6h0m.3 10h0m0-13.3h0m0 24h0m.1-8.2h0m0-16.2h0m.2 13.5h0m0 9.5h0m.1-17h0m0 10.7h0m.3 4.4h0m0-21.9h0m.1 14.8h0m.1-.8h0m0-3.8h0m.3-3.6h0m.2 7h0m.2-2.2h0m.1-17.4h0m.1 13.6h0m0-.3h0m.1 14.8h0m0-18.1h0m.1 9h0m.2-3h0m.1 1.7h0m.1 7.5h0m0 5.2h0m.1-13.5h0m.1 2.8h0m.1 1h0m.1-9.5h0m.2 2.2h0m.1-4.4h0m0 5.4h0m.1-12.9h0m.1 22h0m0-13.7h0m.1-5.6h0m.1 1h0m.1-.8h0m.1 24.5h0m.1-19.6h0m.1 15.7h0m.1-17.3h0m0 13.4h0m.1 5.5h0m0 .6h0m.2-16.5h0m.3 20h0m.1-16.8h0m.1 2.6h0m.2 4.7h0m.2 10.4h0m0-8.2h0m.1-9.6h0m.1-1.6h0m0 14.7h0m0-.5h0m0-18.2h0m.1 11.7h0m0 3.4h0m0-17.5h0m.1 7.2h0m.4 20.7h0m0-10.4h0m.1 .1h0m0-1.2h0m0-15.8h0m.1 17.6h0m0 1.1h0m.1-16.2h0m.2-5.2h0m0 2.1h0m0 3.8h0m.1 8.9h0m0-5.9h0m.1-8.5h0m0 9h0m.1-6.4h0m0-.2h0m0 12.6h0m.1 7h0m.2-19.9h0m.2 16.2h0m0 1.5h0m0-13.3h0m.1 17h0m0-19.4h0m.1 10.4h0m.2 13h0m0 1.3h0m0-12h0m0-5.7h0m0 .8h0m0-8.3h0m.1-4.8h0m0 11.7h0m0 4.7h0m.1-8.7h0m.1 6.3h0m0 9.4h0m.1-10.9h0m.4-2.7h0m0 4.4h0m0-9.6h0m0-.9h0m.1 19.1h0m.1 4.2h0m0-15.3h0m.1 10.8h0m.2-16.7h0m0-12.7h0m0 26.9h0m.1-13h0m.1 12.9h0m0 2.9h0m.1-11.5h0m0 4.4h0m.1 .1h0m.1-6.7h0m0 17.2h0m.1-14.6h0m.1-2h0m.1 3.2h0m0 4.7h0m0 7.1h0m0-10.5h0m.2 9.2h0m.1-19.2h0m.1 21.8h0m.2-24.2h0m.1 6.9h0m.1 6.9h0m.1-5.6h0m.1-14.4h0m.1 28.5h0m.1-3.2h0m0-12.3h0m0 4.1h0m.1-14.2h0m.1 12.3h0m0-3.9h0m0 5h0m.2 5.2h0m.1-7.1h0m.1 2.5h0m0 8.5h0m.1-10.8h0m0 10.2h0m0-8.1h0m0 19.8h0m.3-2h0m.1-6.1h0m.3-28.5h0m.1 29.7h0m0-8.1h0m0-15.1h0m.1 5.1h0m0 15.4h0m.1-7.4h0m0 10.7h0m.2-26.2h0m.2 21.1h0m0-7.2h0m0 8.1h0m0-16.9h0m.1 17.3h0m.1 6.2h0m0-5.7h0m.2-13.3h0m0 10.9h0m.2 3.6h0m0-2.6h0m.2-10.4h0m.1 15.1h0m0-12.7h0m.2-2.1h0m.2 1.5h0m.2 9.3h0m.1-19.2h0m0 8.4h0m.2 9.8h0m0-8.4h0m.1-4.7h0m.1 18h0m.1-6.7h0m0 7.4h0m.1-.1h0m0-15.5h0m0 1.3h0m.2-10.1h0m.2 13.6h0m.1-7.2h0m.1 17.9h0m.2-22.8h0m.1 2h0m0 6.2h0m.2 2.7h0m.1 5.6h0m0-12.8h0m.1 8h0m0-6.9h0m.1-.1h0m.1 8.4h0m0 14.4h0m0-5.2h0m.1-16.5h0m.1-1.6h0m.2 9h0m.2 3.8h0m0 4.2h0m.2-21.6h0m.1 22.2h0m0-20h0m.1 15.5h0m0 4h0m.2-16.4h0m.1 1.1h0m0 9.6h0m0 1.8h0m.2-13.9h0m0 15.4h0m0-17.2h0m.1 11.7h0m0-12.1h0m0 3.9h0m.2-8.3h0m0 27.7h0m.1-20h0m.1 21.8h0m0-21.6h0m.2 .7h0m.1-2.2h0m.2-11.1h0m.1 11.5h0m.1 21.8h0m0-8.2h0m.1 7.5h0m.1-4.2h0m0 4.5h0m0-22.4h0m.1 13.5h0m.1-11.7h0m.1 14.8h0m0-4.9h0m.5-11.2h0m.1 8.1h0m0 10.9h0m.1-6.5h0m.1-6.2h0m.1 3.6h0m.1 1.1h0m0 4.3h0m0-10.8h0m.1-8.2h0m.1-8.2h0m0 24.2h0m0 5.7h0m.1-4.9h0m.1 3.7h0m0-9h0m.1 2.4h0m.2-18.9h0m0 17.3h0m.2 12.5h0m.1-3.5h0m0-16.4h0m.2 8.3h0m.1 9.9h0m0-19.1h0m0 4.2h0m0 9h0m0 2.7h0m.2 11.7h0m.1-12.6h0m0 5.3h0m.4-13.7h0m0-2.2h0m.1 4.8h0m.1-7.2h0m.1 4.8h0m.1-9.6h0m.2 7.8h0m.1-2.7h0m0 21h0m0-18.8h0m0 8.2h0m0-12.3h0m.2 13.5h0m0-11.6h0m0-5.3h0m.1 1.6h0m0 13.4h0m0 2h0m.1-2.7h0m.1-2.9h0m0-3.4h0m.1-3.4h0m.1 13.3h0m0 1.1h0m.1-6.9h0m.4-7.8h0m0 2.8h0m.1-3.5h0m0 10.3h0m0-1h0m.3 5.6h0m0-16.1h0m.1 13.8h0m0-3.7h0m.2 5.5h0m0-8h0m.2-10.9h0m0 18.7h0m0-24.8h0m.1 19.2h0m.1-3.6h0m.1 11h0m0-1.5h0m0-13.6h0m.1 11.2h0m0 7.8h0m.1-4.7h0m0 11h0m.1-10.2h0m.2-11.3h0m.2 11.1h0m.1 4.5h0m.1-9h0m0-12.1h0m0 10.7h0m.1-2.2h0m0 7.1h0m.1-9.1h0m0 14.2h0m0-11.7h0m.1 2.1h0m0-19.2h0m0 27.3h0m.2-8.9h0m0-19.3h0m0 22.7h0m.2 7.1h0m0-21h0m.2 2.4h0m0 12h0m.1-8.4h0m0 8.2h0m.1-9.6h0m0 6.3h0m0-3.8h0m0 12.7h0m.4-3h0m0-21.2h0m0 3.3h0m.1 6.7h0m0-.8h0m.1 .7h0m.1 9.7h0m0-1.4h0m.1-16.2h0m.3 17.4h0m.1-5.8h0m0 .6h0m.4 5.1h0m.1-4.6h0m.1-14.8h0m.1 18.2h0m.1-13h0m0 7.6h0m0 6.6h0m0-4.4h0m.1-6.6h0m0-12.2h0m.1 9h0m.1 2.9h0m0-17.3h0m.1 21.8h0m0-9.4h0m.1 14.8h0m0 4.1h0m0-13.3h0m.2 4h0m.1 .9h0m.1-13.5h0m0 6h0m.1-2.4h0m0 9.2h0m.2-13.4h0m0 19.5h0m.2-6.4h0m0-9.4h0m.1-12.8h0m0 20.9h0m.2-6.1h0m.1 13.8h0m0-8.3h0m.1 9.4h0m.1-11.1h0m.2-4.1h0m.1-1.2h0m0 14h0m.1-12.2h0m.2 23.3h0m.1-26h0m.1 11.6h0m.1-9.4h0m0 9h0m0 7.7h0m.1-9h0m0 2h0m.1 3.9h0m0 6.3h0m.2-22.5h0m.1-2.4h0m.3 33h0m.1-27.7h0m.1 14.6h0m.1-1.6h0m0-6.9h0m0 14h0m.1-7.8h0m0-22.3h0m0 23h0m.1-12.8h0m0 16.2h0m.1 8.6h0m0-25h0m0 25.2h0m0-14.1h0m.1 11.6h0m0-27.9h0m0 7.7h0m.1-7.2h0m.1 3.8h0m0-8.3h0m.1 17.2h0m0 6.4h0m0-16.1h0m.1-1.2h0m0-1.9h0m0 10.7h0m.1-4.7h0m.1-7h0m0 15.1h0m0 4.3h0m.1-15.9h0m0 6.8h0m0 10.9h0m.1-1.9h0m0-9.9h0m0 12.5h0m.4-5.9h0m.1-3.5h0m.1 7.2h0m.3-6.8h0m0-1.3h0m.1-2.1h0m0-3.1h0m.1 15.2h0m.1-23.7h0m0 4.6h0m0 4.4h0m0-7.8h0m.3 8.8h0m.1-4.9h0m0 .6h0m0 7.1h0m0-2.2h0m.1 13.7h0m0-16.4h0m.1 8.2h0m0-3.2h0m.1 3.3h0m0-11.1h0m.1-8.1h0m0 13.1h0m.2-11.7h0m.1 20.1h0m.2-4.8h0m0 12.8h0m.1-2.7h0m0-4h0m0-8.1h0m0-7h0m.1 13.3h0m.1-3.7h0m0 3.3h0m0-10.5h0m0 12.9h0m0-6.8h0m.1 14.1h0m.1-6.5h0m0-4.7h0m.1-.2h0m0 10.9h0m.1-31.6h0m.2 20.2h0m0-7.6h0m.1-1.4h0m0 10.4h0m.1-12h0m.1 3h0m0 6.6h0m.1 13h0m.2-11h0m.1 1h0m.4 2h0m.1 7.7h0m.1-21.9h0m.2 11.4h0m.2-8.8h0m.3 13.4h0m.1-1.2h0m0-2.3h0m0-20.9h0m.1 17.5h0m.3-.4h0m.1 .5h0m0-1.5h0m.1 2.8h0m0-4.5h0m0 13.3h0m.1-6.3h0m0 8.1h0m0-5.8h0m.1-14.4h0m.1 14.6h0m.2-5.4h0m0 11.9h0m0-15.9h0m.2-9.7h0m0 14.1h0m0 9.6h0m.1-16.5h0m0-5h0m0 5.3h0m.1 18h0m.2-14.8h0m.1-9.4h0m.1 10.5h0m.2-2.6h0m0 15.2h0m.4 1h0m0-22.6h0m.3 19.2h0m0 2.4h0m0-8.2h0m.1 17h0m.2-20.5h0m0 12.1h0m.4-12.3h0m0 4.7h0m.1-10.1h0m0 5.1h0m0-4.2h0m.1-6.9h0m0 8.9h0m0 13.8h0m.3 .7h0m.1-14.4h0m0 0h0m0 3.2h0m.4-5.8h0m0 3.9h0m.1 8.7h0m.1 1.5h0m.1-16.6h0m0 23.7h0m.1-36h0m.1 31.2h0m0-20.5h0m.1 2.9h0m0-1.1h0m0-1h0m.1 4.7h0m.1 4.3h0m0-3.3h0m.1-12.1h0m.2 14.3h0m0-5.3h0m0-1.1h0m.1-5h0m.1 10.2h0m.3-.9h0m0 8.9h0m0-1.4h0m0-10.5h0m.5-5.2h0m0 16.4h0m.2-10.7h0m0 12.3h0m0-16.8h0m.1 1.4h0m0-2.5h0m.2 18.5h0m.2-24.2h0m0 27.1h0m.2 1.1h0m0-9.7h0m0 .9h0m.1 8.2h0m0-3.3h0m0-21.2h0m0 19.1h0m.1-11.8h0m.1 18.9h0m.2-10.6h0m.1-11.2h0m.2 5.9h0m0 4.4h0m.1-5.4h0m.1-2.1h0m0-1.2h0m.1 4.4h0m.3 14.4h0m0-5.9h0m.1-12h0m0-5.6h0m.2 16.5h0m.2-7.2h0m0 12.5h0m.1-1.3h0m.2 3.3h0m.1-16.1h0m.2-6h0m.1 26.2h0m.1-10.4h0m.3-7.3h0m0-1.7h0m.1-4.8h0m.3-2.6h0m0 15.3h0m.1-3.6h0m.1-10.9h0m0 2.4h0m.1 18.9h0m.2-16.3h0m.1-5.3h0m.4 9.7h0m.1 10.3h0m.1 0h0m0-2.3h0m.1-24.6h0m.3 28.2h0m.1-9.6h0m.1 1.2h0m.2 9.3h0m.2-17.7h0m.2 .8h0m.1-2.2h0m0-2.2h0m.1 .9h0m.1 8.4h0m0 5.3h0m.1-10.9h0m.1 .8h0m.2 20.5h0m0-5.8h0m.1 3.2h0m0-9.4h0m0 6.9h0m.2-7.5h0m0-12.4h0m.1-3.8h0m.2 3.7h0m.2 18.4h0m.2-4.1h0m.2-1.8h0m0-6.1h0m0 4h0m.1 10.7h0m.1-18.2h0m.1-3h0m0 18.6h0m.1-12.1h0m0 9.4h0m.1-17.5h0m.1 14.8h0m.3-10.7h0m.2 13.2h0m0 6.1h0m0-11.1h0m0 11.1h0m.1-31.4h0m.1 16h0m.1-8.5h0m.1 14.3h0m.1 3.1h0m.1-16.1h0m0 11.3h0m0-9.1h0m.2-2.5h0m.1 17.7h0m.1-15.2h0m.1 11.6h0m.1 3.3h0m.2 1.1h0m.1-5h0m0-11.7h0m.1 13.4h0m0-6.5h0m.1-2.9h0m0 4h0m.1-13.3h0m.2 27.7h0m.1-12.5h0m.2-4.8h0m0 1.9h0m.1-.5h0m0 .1h0m.1-8.2h0m0 4.3h0m.2-8.3h0m0-1.1h0m.2 13.7h0m.1 4h0m0 5.1h0m.1-3.5h0m0-3.9h0m0-7.4h0m0 3.1h0m.1 6h0m0-.1h0m0-8.3h0m.2 16.9h0m0 .2h0m.2-7.4h0m0 2.5h0m0-.6h0m0-2.9h0m0-1.4h0m0-5.6h0m.1 5.2h0m.2-1h0m.2 14.9h0m0-.3h0m.1-18.6h0m.1 .9h0m0 5.2h0m0-8.8h0m.1 5.5h0m0 4.7h0m.1-15.1h0m0 24.5h0m0-19.4h0m0 13.2h0m.2-6.6h0m0 17.7h0m.1-24.4h0m0 .8h0m.1 2.4h0m0 11.5h0m.1-9.6h0m0-2.3h0m0-4.2h0m.1 7.2h0m0 14.8h0m.1-8.2h0m.1 7.9h0m0-4.7h0m0-17.4h0m.2 5.8h0m0 8.6h0m.1 9.4h0m.1-18h0m0 4.8h0m0-2.3h0m.1-.4h0m.1 1.7h0m.3 5.2h0m0-7.1h0m.2 7.5h0m0-.7h0m.1-6.5h0m0 15h0m.1-23.1h0m0 6.9h0m0 16.6h0m.1-1.4h0m0-17.5h0m0 1.1h0m.1 3h0m0-.6h0m.1-11.8h0m0 13.7h0m0 1.8h0m.1 3.8h0m0-11.6h0m.6 14.4h0m0 1.6h0m.1 10.5h0m0-25h0m.3 16.8h0m0-3.5h0m.2-21.8h0m0 20.3h0m.2-7.1h0m.2-10.1h0m.1 23h0m.1-1.1h0m.2-20.1h0m.1 3.2h0m.2 5.6h0m.1 1.4h0m0 7.5h0m.1-6.7h0m.2-4.8h0m.1 .8h0m0 3.7h0m0-9.4h0m0 13.4h0m.1-1.2h0m.1-.1h0m0-6.8h0m0 9.9h0m.1-6.3h0m0-12.8h0m.3 3.8h0m.1-2.9h0m0-3.2h0m.1-7.9h0m0 8.7h0m.1 23.1h0m0-1.3h0m.1-16.7h0m.1 9.8h0m0-5.9h0m.1 4.9h0m.2-6.1h0m.1 6.4h0m0-12.5h0m0 15.3h0m0-14.7h0m.1 6.3h0m.1-2.3h0m0-1.1h0m.1 9.9h0m.1-11.5h0m0 2.3h0m.1-10.3h0m0 24.5h0m0-13.3h0m.1 5.3h0m.2-11.9h0m0 5.9h0m.3 12.5h0m0-8.2h0m.2 1.8h0m0 7.3h0m.2-8h0m0 14h0m0-24.9h0m0 22.9h0m.1-6.4h0m.5-9.8h0m.1-3.7h0m0-4.5h0m.1 19.4h0m.1-16.9h0m0 6.5h0m0 3.6h0m0-2.2h0m.1 11.8h0m.3-11.6h0m0-1.7h0m.1-10.6h0m.2 14.3h0m0-12.4h0m0 9.9h0m.2 3.1h0m0-2.2h0m.1 5.3h0m.2 3.4h0m0-7.6h0m0 3.7h0m0-10.6h0m.1-4.2h0m.2 17.5h0m.2-14h0m.1 22.7h0m0-23.7h0m.1 12.8h0m.3 5.7h0m.3-12.2h0m0 2.7h0m.1 21.2h0m0-15.4h0m0-14.5h0m.1-1.1h0m0 20.2h0m0-12.8h0m0 10.3h0m.1 10.6h0m.2-11.3h0m0-17.5h0m0 10h0m.1 5.8h0m0-15.7h0m.1 25.2h0m0-18.1h0m.4 12.7h0m0-.4h0m.1-11h0m.2-3.6h0m0 9.3h0m.1-12.2h0m0 10.6h0m.1-3.1h0m0-6.5h0m.1 3.3h0m0-3.1h0m.2 4.1h0m0-.5h0m0 6.2h0m0-1.7h0m.2 6.3h0m0-.8h0m.1-13.2h0m.5 26.8h0m0-18.1h0m.1 1.3h0m.1-6.5h0m.1-8.3h0m0 9.7h0m0-5h0m.2 19.2h0m0-6.9h0m.3-17.4h0m0 18.1h0m.2-14.9h0m.1 16.1h0m.1-2.2h0m.1 15.1h0m0-19h0m.1 10h0m0-15.2h0m0 9.7h0m0-4.1h0m.1 .6h0m.1 .9h0m0 11.8h0m.1-16.9h0m0 8.9h0m.1-7h0m0 7.8h0m0-14h0m0-7.7h0m0 13h0m.1-1.9h0m0 2.6h0m0 2.3h0m.1-3.1h0m0 7.5h0m0 8.5h0m0-11.3h0m0 1h0m0-2.8h0m.1-7.1h0m0 3h0m0-4.5h0m0 20.5h0m.1-15.1h0m0-.9h0m.1 5.1h0m.2 2.4h0m.1-13.9h0m.1-1.1h0m.1 16.4h0m.1-6.2h0m0-3.5h0m0 .2h0m.2 2.9h0m.4-5.2h0m.2 15.9h0m0-21.5h0m0 13.5h0m.1-14.8h0m.1 24.5h0m.1-25.3h0m.2 21.5h0m.1-25.4h0m0 7h0m.1 20.4h0m0-15.8h0m.1-2.2h0m.1 4.6h0m0 9.2h0m.1-9.9h0m.1-4h0m.1 14h0m0-10.3h0m.1-9.3h0m0 10.1h0m.1 13h0m0-8.3h0m.1 10.2h0m0-23h0m0 10.4h0m0 4.5h0m.2-4.3h0m.1-11.9h0m.2 23h0m.2-18.1h0m0 7.2h0m.1 21.4h0m0-21.9h0m.1-12.7h0m0 14.8h0m.1 14.4h0m.1-21.6h0m.1 13h0m0 2h0m.1-11.4h0m.1 7.1h0m0 4.1h0m.1-3.1h0m.1-13.8h0m.1 .2h0m.1 4.3h0m0 7.8h0m0-16.5h0m.1 10.8h0m.1 18.7h0m0-23.6h0m.2 7.7h0m.1-1.8h0m.1 3.9h0m.1 3h0m.1-20.4h0m0 18.4h0m.2 4.5h0m0-6.4h0m.1-11h0m0-1h0m.1 12.9h0m.1 4.6h0m.3 .1h0m.1-7.2h0m.1 15.3h0m.1-31h0m.1 17.6h0m0-8.1h0m.2 10.2h0m0-14.4h0m0 13.7h0m.2 8h0m0-13.7h0m0-7.1h0m.1 3.9h0m0-2.3h0m.2 3.6h0m0 7.1h0m.2-13.4h0m0 14h0m0 9.6h0m.5-6.7h0m0 10.9h0m.1-15.2h0m0-7.6h0m.1 10.5h0m0-5.2h0m0-9h0m0 15.1h0m.1-5.9h0m.1-12.2h0m.1-1.7h0m0-.7h0m0 .6h0m.1-3.3h0m0 20.1h0m.1-7.9h0m.1 12.4h0m0 1.8h0m.1 4.1h0m.1-25.1h0m.1 6.9h0m0-1.6h0m0-2h0m.1-2.2h0m0-2.7h0m0 27.5h0m.1-7.5h0m.1-13.9h0m.2 .6h0m.2 10.9h0m0-4.5h0m0 12.8h0m0-31.2h0m.2 30h0m.3-14h0m0 .4h0m.2-6.2h0m.1 17.5h0m0-12h0m.1 2.9h0m0-.4h0m0-4.2h0m.1-3.8h0m.1 5.1h0m.1 2.8h0m0-.9h0m.1-1.1h0m.1-5.7h0m0 3.2h0m.2 4.9h0m0-1.8h0m0-14h0m0 18.7h0m0-7.5h0m.1 13.6h0m.1-19.8h0m0 14.8h0m.2-5.6h0m0 .4h0m0 6.8h0m.1-8.8h0m0 8.5h0m.2 3.7h0m.1-11.9h0m0 12.4h0m.1-23.9h0m0 7h0m.1 6.7h0m0 10.4h0m.1-2.4h0m0-4.3h0m0-13.7h0m.1 9.8h0m0 8.4h0m.1 6.5h0m0-15.3h0m.1-.9h0m.1 3.7h0m0 9h0m0-12.6h0m.2 .4h0m.1-6.7h0m.1-2.6h0m0 6.5h0m0 4.1h0m0-8.6h0m.1-3.5h0m0 .1h0m0 19.4h0m.1-21.4h0m0-1h0m.2 11.4h0m0 .5h0m.2-.1h0m0 11.4h0m.1-17.1h0m0 17.8h0m0-14.9h0m.1-8.5h0m.1 2.7h0m.2 27.8h0m0-21.4h0m.1 13.8h0m0-2.7h0m.1-7.9h0m.1 4.4h0m0-.9h0m0 2.6h0m0-12.7h0m.2-2.5h0m0 3.8h0m.1 1.7h0m0 5.1h0m.1-4.9h0m.1 19.9h0m0-14h0m.2 9.8h0m0-15.8h0m0 13.5h0m.1-4.2h0m.1-12.7h0m0 6.9h0m.2 3h0m0 2.8h0m.1 .7h0m0 1.6h0m.2-9.3h0m0 6.4h0m0-1.1h0m.1 4.9h0m.1-4.1h0m0 10.6h0m.1-24.8h0m0 15.7h0m0 1.2h0m.1-8.4h0m.2-10.4h0m.1 8.7h0m.1 3.5h0m.1-7.1h0m0 13.6h0m0-5.3h0m.2-2.5h0m0-1.5h0m.1 4.3h0m.1-6.3h0m.1 14.3h0m.1-18.1h0m0 8.9h0m.1 .4h0m0-1h0m.1 19.9h0m.2-11.6h0m0-11.8h0m.2 15h0m.1-11.7h0m0-16.3h0m.3 24.4h0m0 8.7h0m.2-17.2h0m0 19.2h0m.1-25.5h0m.3 8.9h0m0-4.2h0m.1 13.2h0m.1-4.7h0m.2-8.7h0m.1 14.1h0m0-.3h0m.1-4.9h0m.1-4h0m.1-16.5h0m0 33.3h0m.1-8h0m.1-9.2h0m0-.9h0m.1 8.3h0m0-6h0m0 7.5h0m0-2.7h0m.1-10.7h0m0 5.3h0m0-12.8h0m0 15.4h0m0-6.7h0m.1 17.8h0m.2-17.2h0m0 7.9h0m0 8.9h0m.2-5.4h0m0-9.7h0m0-14h0m.1 5.9h0m0 16.4h0m.2-15.3h0m.1 7.2h0m0 2.1h0m.1 .9h0m.1-3.1h0m0 6.1h0m.1 9.6h0m0-13h0m.1 15.3h0m.1-20.6h0m.1 11.4h0m.1 3.2h0m.1-11h0m0-12.7h0m0 6.6h0m.1-1.5h0m0 16.7h0m.1 1.4h0m.1-11.7h0m0-1.2h0m0-3.8h0m0-9.4h0m.1 9.5h0m0 3.2h0m.1-4.8h0m.1 6.8h0m.1-12.9h0m.2 8.2h0m.1 2.3h0m0-6.1h0m.1 16.4h0m0-24.3h0m.1 20.4h0m0 4.8h0m.2-.5h0m0-12.2h0m.2 5.1h0m.1-13.3h0m.1 18.2h0m.1 9.3h0m0-16.2h0m.1-7.6h0m0 21.3h0m.1-23.3h0m.3 18.1h0m0-19.6h0m.1 19.6h0m0-6.3h0m0 3.4h0m.1-2.4h0m0-3.2h0m.1 1.6h0m0-.8h0m0 11.3h0m.1-11.9h0m.3-7.2h0m0 3.4h0m0 4.1h0m0 2.1h0m.1 11.3h0m.1-9.6h0m0-3.7h0m.3 6.4h0m.2-4.4h0m0-14.9h0m.2 4.6h0m.1 9.7h0m0-8.2h0m.2 9.6h0m.1 14.9h0m.2-19.9h0m.1 2h0m0-10.5h0m.2 9.6h0m0 13.7h0m0-5.3h0m0 2.7h0m.1 6.5h0m0-7.7h0m0-22h0m.1 29.7h0m.3-6.3h0m.1-9.3h0m.1-4.5h0m.1 10.4h0m0-7.6h0m.2 4.8h0m.2-11.5h0m.2-9.5h0m0 18.3h0m0-4.5h0m.1-5h0m.1 16.9h0m.2 .7h0m.1-1.8h0m0 4.4h0m0-18.6h0m.1 4.6h0m.1 13h0m0-25.4h0m0 16.8h0m0-.8h0m.2-.1h0m0-6.8h0m0 16h0m0-2.2h0m.2-2h0m0-19.4h0m0 18.1h0m0-18.4h0m.1-2.7h0m0 8.5h0m0 13h0m0-5.7h0m.1 8.1h0m0-13.9h0m0-3.3h0m.2 11.9h0m.1 2.6h0m0 2.8h0m0 3.4h0m0-6.3h0m0 1.6h0m.1 10.3h0m.2-27h0m.2 8.5h0m0-1.2h0m0 15.4h0m0-15.2h0m.1-.5h0m.3-2.4h0m.2 20.5h0m0-10.7h0m.1 4.9h0m0-3.1h0m.1-12.9h0m0 10.6h0m0 6.2h0m0-23h0m.1 18.1h0m.3-4.9h0m.1 3.6h0m0-1.4h0m.1-7.1h0m.1 4.4h0m0 7.7h0m0-21.7h0m0 22.3h0m.2 3h0m.1-8.8h0m0-3.3h0m0-5h0m.2-6.8h0m0 17.5h0m.1-2.2h0m0-3.1h0m0-.9h0m.1 12.9h0m.1-15.7h0m.1 13.5h0m.1-1.2h0m.1 1.9h0m0 3h0m.1-16.6h0m0 8.9h0m.1 1h0m0 7h0m.1-15.9h0m.2 15.4h0m.2 3h0m0-29.3h0m0 13h0m0 9.1h0m0-4.2h0m.1-2.5h0m0 5.7h0m.2-5.1h0m0-2.3h0m0 1.6h0m.1 3.3h0m.1-1.9h0m0 2.2h0m.2 5.3h0m.2-18.6h0m0 12.1h0m0 1.8h0m0-15.3h0m.2 11.4h0m0-5.2h0m0 8h0m.1 5.9h0m.1-8.6h0m.2 9.1h0m.1-13.6h0m0 12.2h0m.1-2.2h0m.1-7.2h0m.1 12.7h0m0-8.4h0m0-5.2h0m.1 2.6h0m0 4.4h0m.1 2.6h0m.2-16.8h0m0-3.5h0m0 22.3h0m.1 3.7h0m.1-17h0m0 17.9h0m0-7.8h0m.2-13.1h0m0 1.3h0m.1 18.9h0m.2-2.8h0m0-10.7h0m0 7.6h0m0-14.3h0m.1-4.6h0m.2 20.1h0m.1-23.1h0m.2 19h0m.3 5.8h0m.1-.9h0m0-10h0m0 13.7h0m.1-10.9h0m.2-10.2h0m0 9.4h0m.1 7.9h0m.1-9.2h0m.2 3h0m0-4.7h0m.1 2.2h0m0-4.8h0m.2 11.9h0m.1 4.1h0m0-21.2h0m0-7.7h0m0 25.2h0m.1-12.4h0m.1-6.3h0m0 13.7h0m0-1.6h0m.1 8.1h0m0-6.5h0m0-9h0m0 15.4h0m.1-11.9h0m0 9.3h0m.1-18.1h0m.2 26.3h0m0-22.2h0m.1-.8h0m0 14.7h0m.1 4.7h0m.1-13.6h0m.1 5.8h0m0-11.3h0m0 13.2h0m.4 6.7h0m.2-3h0m.1-18.6h0m0 17.6h0m.2-14.8h0m0 15.1h0m.1-13.6h0m.1 12.1h0m0-3.6h0m.1 1.7h0m0 13.7h0m.1-19.3h0m.1 19.4h0m.2-22.8h0m0 .4h0m0-9.9h0m.1 3h0m.1 9.6h0m0 9.9h0m.2-13.1h0m.1-8.3h0m.1 3.9h0m0 3.3h0m.1-1.4h0m.3 5.6h0m0-4.6h0m.1-6.7h0m.2 17.3h0m.1 .4h0m.1 6.1h0m.1-18.4h0m.1-7.9h0m.2 15.8h0m0-8.1h0m.1 9.9h0m0-12.9h0m0 2.4h0m.1 15.1h0m0-5.5h0m0-6.3h0m.1 15.1h0m0-8.1h0m.1-2.3h0m.1 2.4h0m.1 13.9h0m.1-21.7h0m.1 19.2h0m0-26.5h0m0 25.4h0m.2-6.5h0m.3-14.9h0m.3 12.2h0m.2 3.3h0m.2-11.3h0m.1-.3h0m.2 4.5h0m0 14.8h0m0-28.2h0m.1 22.7h0m0-5.4h0m.1 .8h0m.3-1.5h0m0-13.1h0m.2-.7h0m0 9.9h0m.1-4.6h0m.1 6.5h0m.2-11.8h0m.1 13.7h0m.2 12.5h0m.1-9.6h0m0-7.6h0m.1-.7h0m.1-5.1h0m.1 6.5h0m.1 10.6h0m0-13.6h0m.1-1.9h0m.1 4.9h0m0 6.4h0m0-1.1h0m.1-19.2h0m.2 15.9h0m0-.5h0m.1-8.7h0m.2-10.5h0m.3 14h0m.1-1.8h0m0 15.8h0m.2-3.4h0m0-10.3h0m.1 11.5h0m0-10.9h0m.1-8.5h0m.1 5.9h0m0 7.2h0m.2-12.6h0m.2 13.3h0m.2 8.9h0m0-4.6h0m0 2.9h0m0-11.5h0m.1 12.4h0m0-.3h0m0-25.6h0m.1 6.7h0m0 13h0m0-12.7h0m.2-11.8h0m0 7h0m0 7.1h0m.1 13h0m0 1.5h0m0-2.7h0m.3-13.5h0m0 8.7h0m.2 6.3h0m0-12.1h0m.2-9.3h0m.1 22.4h0m0 3.6h0m0-18.2h0m.1-1h0m0 10.7h0m0-16.3h0m.1 21.5h0m0-25.1h0m0-1.8h0m0 10.3h0m.2 14.7h0m0-18.1h0m.1 18.9h0m0-6.9h0m.2-15.5h0m.1 19.1h0m.1-12.4h0m.2-2h0m.1 12.4h0m.1 .2h0m0 4h0m0-3.2h0m0-11.7h0m.2 10.9h0m0 2.3h0m.2-17.8h0m.3 6.6h0m.1 6.5h0m0 12.4h0m.2-25h0m0 15.9h0m.1-13.9h0m.2 15.9h0m.1-4h0m0 .4h0m0-4.2h0m.1 11.3h0m0-15.6h0m.2 13.8h0m.2-2.9h0m0-3.4h0m0-6.7h0m.1-1.4h0m0 6.2h0m.2 2.9h0m0-7h0m.1 5.1h0m0 12.5h0m0-28.9h0m0 27.7h0m.1-5.3h0m0-11.5h0m.1 4.2h0m.2-4.6h0m.3-4.5h0m0 6.9h0m.2 3.7h0m.5 2.4h0m0-13.8h0m.4 11h0m.2-8.9h0m.1 19.2h0m0-25.8h0m.1 10.1h0m.1 4.8h0m.1-1.7h0m0 5.5h0m.1 8.6h0m0-22.5h0m0 9.7h0m.3 5.1h0m0 9h0m.1-11.2h0m.3 7.6h0m0-14.6h0m0 19.9h0m.1-32.9h0m0 25.2h0m0-3.6h0m.1-5.4h0m0-9.5h0m.3 17.7h0m.3-15.7h0m0 19.4h0m0-20.7h0m0 33h0m.1-28.5h0m.2 9.8h0m.1 1.2h0m.2-7.9h0m.2 14.7h0m0-.2h0m.1-8.8h0m.1-7.9h0m0 1.8h0m.1 4.5h0m0 6.1h0m.4-4.5h0m0 2.5h0m.1-8.7h0m.2 11.9h0m.5-2.2h0m.1-20.7h0m.1-4h0m.2 13.4h0m.1-.6h0m.2 13.6h0m.2-9.1h0m.1 10.6h0m0 .5h0m.1-.7h0m.1-15.1h0m.1 6.7h0m0-.3h0m.1-.8h0m.2 20.1h0m.1-33.6h0m.1 9h0m0-2.2h0m.2 7h0m0 6.7h0m.1-3.8h0m0-9.2h0m.2-4h0m.3 13.3h0m0-7.4h0m.1-1.6h0m.2 5.7h0m0 7.1h0m0 1.5h0m.3-19.2h0m.1 15.9h0m0-6.1h0m.2 1.9h0m.3-8.1h0m0 3.4h0m0 5h0m0-4.1h0m.1-1.9h0m.2 3.2h0m0-8.2h0m.1 7.4h0m.2 7.8h0m0-14.5h0m0 16.1h0m.1-1h0m.3 1.5h0m0-11.5h0m.1-5.6h0m.1 8.8h0m.3-14.2h0m0 9.5h0m.1 22h0m0-11.2h0m.3 1.4h0m0 4h0m0 1.8h0m.1-6.8h0m0 1.5h0m.1-7.8h0m.1 6.8h0m0-5h0m0-11.2h0m.2 8.5h0m0-4.6h0m.1 12.6h0m.2-3.3h0m0-9.8h0m.1 15.6h0m.3-19.9h0m0 10.1h0m0-6.7h0m.2 10.3h0m0-4.1h0m.1 .4h0m.1-2.3h0m0-8.5h0m0 25.5h0m.1-23h0m0 27.3h0m0-12.6h0m.1-8.4h0m.1-2h0m0 9.3h0m0-21.4h0m.2 9.3h0m.1-3.2h0m0 1.5h0m0 10.4h0m.1 1.5h0m.1-2.1h0m.1-9.2h0m0 7.7h0m0-3.2h0m.1 8.3h0m.1-15.2h0m.1 3.9h0m.2 10.7h0m0 8.6h0m.1-5.6h0m0-17.9h0m.1 18.4h0m.1-10.9h0m0-9.1h0m0 10.6h0m.3 8.4h0m0-21.5h0m.2 9.5h0m.1-1.4h0m0 20h0m0-10.2h0m0-2h0m0 8.3h0m.2-12h0m0 15.7h0m.1-19.1h0m.1 2h0m0 13.2h0m.2-2h0m.1 1.8h0m.2 3.7h0m0-13.8h0m.1 13.6h0m.1-15.3h0m0 16.8h0m.1-15.6h0m0 16.6h0m0-7.8h0m.1-3.9h0m0 9.4h0m.1-12.7h0m0 3.7h0m.1 2.6h0m.1 8.6h0m.1 .9h0m0-20.3h0m.2 7.5h0m.1 6.8h0m.1-17.5h0m.3 4.8h0m.2 9.8h0m0-12.3h0m.1 5.2h0m.1-3.1h0m.1-5.3h0m.1 18.9h0m0 6.3h0m.1-7.7h0m0-.9h0m0-6.6h0m.1 9.8h0m.1 6.2h0m0-28.5h0m.2 12.5h0m0-16h0m.1 22.6h0m0 2.7h0m.2-13.2h0m.1 6.7h0m0-14.6h0m.2-2.5h0m.1 21.8h0m.2 3.6h0m0-20.3h0m0 .7h0m.1 9.2h0m0 .3h0m.2 4.8h0m.1-2.5h0m0-1.4h0m.2 5h0m.2-19.8h0m0 5.9h0m.1 10.5h0m.1-16.8h0m0 22.8h0m0-10.2h0m0 1.3h0m.1 15.9h0m.1-7.9h0m0-16.5h0m0 9.1h0m0-8.1h0m.1 6.9h0m.2 2.2h0m0-4.7h0m.1-15h0m.1 15.3h0m.1-10h0m.1 16.6h0m.1 9.4h0m.1-10.8h0m.1-11.3h0m0 21h0m0-11.4h0m.1-6.3h0m.5-5.7h0m0 14.9h0m0-11.2h0m.1-.9h0m.4 1.5h0m0 8.8h0m.1 7.5h0m0 1.1h0m.1 .4h0m0-19h0m.2 1.2h0m0 5.5h0m0 2.6h0m.3-13.2h0m0 10.8h0m.1-13.1h0m0 20.4h0m0-3.7h0m.2-8.4h0m0-5h0m.2 2h0m.2 5h0m.1 6.4h0m.1-15.3h0m0 5.5h0m0 22.7h0m0-23.1h0m0-2.4h0m.1 19.1h0m.1 2h0m0-5.9h0m0 4.3h0m.2-14.8h0m0-.3h0m0-6.4h0m.3 7.9h0m.1 8h0m.1-12.9h0m0 13.9h0m.1-14.1h0m0 14.2h0m.2-6.6h0m0 1.1h0m.1-1.2h0m0-4.2h0m0 5.3h0m.1 1.3h0m.1 13.8h0m0-12.7h0m0 7.9h0m.1-2.6h0m0-8h0m0-11.7h0m.1 6.3h0m.1 9.9h0m.1-2.5h0m.1 1.7h0m.1 7.2h0m.1 1.1h0m.1 .4h0m.1-16.9h0m.1 1.1h0m.2-11.3h0m.1 29.4h0m0-9.9h0m.3-14.3h0m.1 17h0m.1-13.5h0m.2-2.8h0m0 11h0m.1-10.4h0m.1-1.1h0m.3-8.9h0m.1 19.2h0m.3-1h0m.2 11.1h0m0-11.1h0m.2-4.4h0m0 14.1h0m.1 6.2h0m.1-19.4h0m.1-10.6h0m.3 26.5h0m0-10.5h0m0 6h0m.2-16.9h0m0 20.8h0m.2-16.9h0m.1-5.5h0m.2 17.8h0m0-8.6h0m.1-2.5h0m.1 5.6h0m0-5.6h0m.1-.1h0m0 18.7h0m0-20.9h0m.1 4.6h0m.2 14.1h0m0-17h0m.1 2.1h0m.1-11.4h0m.1 12.2h0m.1-.9h0m0-15.4h0m.1 15.9h0m0 2.5h0m.1 10.7h0m0-6.1h0m0-8.9h0m.2 16.1h0m0-12.1h0m.2-9.9h0m0 3.2h0m0 7.2h0m0 5.3h0m0-14.7h0m.1 11.3h0m0 3h0m.1 .4h0m0-4.2h0m.1-9.5h0m.3 2.1h0m.2 17.6h0m0-5.6h0m.1 5.7h0m0-16.5h0m0 12.2h0m0-7.2h0m0-11.1h0m.4 29.6h0m.1-20h0m0 7.9h0m0 2.2h0m.1-21h0m.1 21h0m0-22.3h0m0 15.2h0m.3-7.2h0m.1 8.6h0m0-25h0m.1 29.3h0m0-12.8h0m.1 2.3h0m.2 11.4h0m0-10.7h0m.1 12.2h0m0-12.6h0m0 3.3h0m0 4.9h0m.1-11.1h0m.2 13.3h0m0 1.5h0m0-14.7h0m.1 2.9h0m.3-5.8h0m0 21.8h0m0-11.1h0m.1-6.6h0m.1-8.5h0m.2 22.5h0m.1-6.8h0m.1-7.9h0m.1 15.3h0m0-5.1h0m.1-10.2h0m0 14.2h0m.3-4.3h0m0-5.2h0m.1-4h0m.1 6.9h0m0 0h0m0 0h0m.2-12h0m0 18.3h0m0-16.4h0m.1-.7h0m.3-.2h0m0 2.5h0m0 12.3h0m.2-19.2h0m0 21.3h0m.1-2.5h0m0-8.5h0m.2 .6h0m0-14.1h0m.1 1.7h0m.1 5.2h0m0 10.8h0m.1 0h0m.1-9.7h0m.1 9.4h0m0 12.3h0m0-13.2h0m.1 .3h0m0-7.6h0m.2-7.3h0m0 17h0m0 7.7h0m.2-14.4h0m.2 19.3h0m.1-4.4h0m0-26.5h0m.1 26.2h0m0-6.5h0m0-17.3h0m0 9.4h0m.1 2.1h0m0 8.3h0m0-7.2h0m0 .7h0m.1 4.9h0m0-22.6h0m.1 18.3h0m0-7.9h0m.2 20.7h0m.1 .3h0m0-3.7h0m0-12.9h0m.1 13h0m.2-17.3h0m.1 5.4h0m0-.1h0m.1 8.1h0m.1-15.1h0m.2-8.5h0m0 21.9h0m.1-10.4h0m.1 15.3h0m0-11.1h0m.3-.6h0m0 11.1h0m.1-10.1h0m0-.1h0m.1 19.5h0m0-32.2h0m.2 21.8h0m0-8h0m.1 .7h0m0 12h0m0-20.8h0m.1 .3h0m.1-.7h0m0 11.7h0m0-3.4h0m.1-.4h0m0-6h0m.1-1.4h0m0 25.8h0m.1-19h0m0-2.7h0m.1-.5h0m0-8.3h0m.2 15.9h0m0-8.2h0m0-7.9h0m.3 18.8h0m.1-7h0m.1 6.4h0m0 4.6h0m.1-12.5h0m0-6.4h0m0 7.5h0m0 15.3h0m.3-17.4h0m.1-3.3h0m0 17.5h0m.1-7.6h0m.1-3.9h0m.1-2.5h0m0 13.5h0m0 .3h0m.1 .8h0m.2-4.1h0m0-27h0m0 5.4h0m.1 12.1h0m.1-19h0m.1 10.4h0m0 8.1h0m.1-10.7h0m.2 12.5h0m.3 10.7h0m0-24.9h0m.1 10h0m0 9.5h0m.1-5.1h0m0 8.5h0m.4-12.2h0m.1 17.1h0m0-23.1h0m.2 17.4h0m.1 1.3h0m.1-16.1h0m.2 14.5h0m.1-18.6h0m0 20.2h0m0-1.4h0m.2-15.3h0m0 14.3h0m.1 .6h0m.1 1.4h0m0-4.8h0m0 17.1h0m.3-23.4h0m.2 4.6h0m0 4.5h0m0-3.9h0m0-2.3h0m.2-1.3h0m0 5.7h0m.2 5.4h0m.1-7.7h0m.1 3.8h0m0-22.8h0m.1 24.2h0m.2-.1h0m.1 6.5h0m0-.3h0m0-15.1h0m.1-3.5h0m0 1.9h0m0 .2h0m.2 17.8h0m.1-11.4h0m.2 .1h0m.1 6.7h0m.1-12.5h0m0-3.7h0m0 16.3h0m0-16.2h0m0 13.9h0m0-10h0m.1 3.8h0m0 .9h0m0-1.6h0m.1-12.8h0m.1 26.3h0m.1-12.6h0m0-8h0m.1 16.1h0m.4-.2h0m0-14.2h0m.1 14h0m0-20.8h0m.2 2.4h0m0 19.7h0m.2-15.5h0m0 5.2h0m.1-5.5h0m.2-3.6h0m.1 15.1h0m.1-11.5h0m0 2h0m0 6.1h0m.1 13.4h0m.1-9.1h0m.1-19.6h0m0 5.4h0m0-8.6h0m.1 4.4h0m.2 20.9h0m.2-27.3h0m.1 3.5h0m.1 .2h0m.1 17.4h0m.1-12.5h0m0-1.4h0m0 11.8h0m.1 13.8h0m.1-7.4h0m.1-8.7h0m0-14.9h0m0 24.7h0m.1 1.2h0m.1-8.7h0m.2 1.7h0m0-3h0m.1-2.9h0m0 .6h0m.1-10.8h0m0 4.5h0m.1 21.5h0m0-27.4h0m.1 16.1h0m0-.8h0m.1 16h0m.3-5.6h0m0-16.2h0m0 7.1h0m.1-14.3h0m.1-3.7h0m.1 11.3h0m0 2.9h0m.1 11.6h0m.1-17.8h0m0 5.1h0m.1 8h0m0 6.4h0m0-16.2h0m0 3h0m.1-10.6h0m0-3.1h0m.1 26.5h0m0-9.6h0m.1-9.4h0m0-5h0m.1 15.4h0m0 10.8h0m.2-2.4h0m.1-.7h0m0 .5h0m.2-2.2h0m0-21.1h0m.1 11.4h0m.2-10.9h0m0 7.1h0m0 2.3h0m.2 11.7h0m.1-11.6h0m0-7.8h0m0 1.5h0m0 15.3h0m.1-3.2h0m0-18.4h0m.1 31.2h0m.1-4.8h0m0-10.9h0m.3-13.4h0m.1 3.4h0m.1 2.3h0m.2 11.1h0m0 4h0m.1-3.4h0m.1 4.4h0m.1-1.1h0m.1-15.9h0m.2 1.8h0m.2-.4h0m0-10.1h0m0 14.8h0m0 9.8h0m.1-2.7h0m0-6.7h0m0-3.5h0m.1 9.5h0m.2 2h0m.1-10.3h0m.1-2.9h0m.2 17.9h0m0-24.6h0m.1-.5h0m0 .2h0m.1 15.6h0m0 .5h0m0 .2h0m.1-.5h0m.1-.5h0m0 10.7h0m.1 1.9h0m.1-17.9h0m0 10.9h0m.4-19.9h0m.1 16.7h0m0-13.2h0m0 19.6h0m0-22.9h0m0 9.9h0m.1-9.6h0m0 23.3h0m.1-16.1h0m0 12.7h0m0-11.7h0m.2 19.2h0m0-25.3h0m.1-.6h0m0 4.1h0m0 8.2h0m.1 5.3h0m0-12.2h0m0 11.1h0m.2-20.2h0m0 22.9h0m.1 2.6h0m.3 3.5h0m.1-9.9h0m.1-.3h0m0-4h0m.1 .4h0m.1-3.1h0m.2 3.7h0m0 4.5h0m0-20.2h0m.1 9.2h0m.1 16.6h0m0-16.2h0m.1 4.5h0m0 9.4h0m0 1.5h0m.4-4.6h0m.1-2.6h0m.2 3.7h0m0-.5h0m.1-14.3h0m0 8.8h0m0-13.2h0m.1 14.9h0m.1 4.8h0m.3-16.7h0m.1 8.4h0m0-8.2h0m.2 13.7h0m0 2.2h0m.1-3.6h0m.1 4.5h0m0-13h0m.1-1.4h0m0 3.7h0m0-3.8h0m.1 1.7h0m0 5.9h0m.3-4.9h0m.1 .3h0m0 11.1h0m.2-11.6h0m0 7h0m0-4.3h0m.1 7h0m.1-8.9h0m.2 1.2h0m.1-2.5h0m.2 3.8h0m0 8.4h0m.1-20.6h0m.2 25h0m0-3.5h0m0-13.6h0m.1-.4h0m.2 17.1h0m0-3.1h0m.1-15.1h0m0 14.5h0m.1-24.2h0m0 13.4h0m.1 2.3h0m0 12.5h0m.1-4.4h0m0-18.1h0m.1 11.3h0m.1-3.9h0m0 5.2h0m.1 10.9h0m0-11.1h0m.2-1.2h0m0 1.6h0m.2 .7h0m0 9.1h0m0-8.6h0m.1-13.2h0m.2 13.2h0m.3-.7h0m.1-12.7h0m.1 20.3h0m0 .2h0m.1-22.7h0m0 9.4h0m0 1.8h0m0-1.7h0m.2-6.7h0m.4 2h0m.2 11.3h0m0-12.6h0m.1 18.1h0m0-7.5h0m0 16.3h0m.1-23.9h0m0 18.3h0m.1-22.5h0m.1 8.3h0m.2-4.4h0m.1 9.7h0m0-12h0m.1 12.4h0m.1 .4h0m0 5.1h0m.1-12.1h0m0-1.3h0m0 6.6h0m.1 .4h0m0-16.3h0m0 21.6h0m.1-2.6h0m0 2.8h0m0-17.2h0m.3-.7h0m.2 4.3h0m.1 13.2h0m0-16.3h0m.1-1.3h0m0 4.2h0m0-3.8h0m.1 19.7h0m.1-8.2h0m.1-.9h0m.1-5.9h0m.1-7.3h0m.1 4h0m0 4.3h0m0-6.2h0m.1 4.2h0m0 9.9h0m.1-18.8h0m0 3.9h0m.1 5.7h0m0 19.2h0m.1-8h0m.1-4.8h0m0-9.7h0m0 17.5h0m0-14.3h0m0-6.9h0m.1 6.9h0m0-7.3h0m.1 9.4h0m.2 13.3h0m.1-26.3h0m.1 28.7h0m.1-2.1h0m.1-10.4h0m.1 6.2h0m.1-4.2h0m.1 7.3h0m.1 1.8h0m0 2.9h0m.1-7.3h0m0 5.5h0m.2-22.5h0m.1 27.4h0m0-10.7h0m0-5h0m.1-9.2h0m.3 20.5h0m.1-12.6h0m0 5.2h0m.1 12.9h0m.1-15.7h0m0 .7h0m.1-9h0m.1 4.9h0m.2-5.9h0m0 18.8h0m.1-15.1h0m0 10.2h0m0-7.6h0m.1-4.4h0m.1 10h0m.1 .8h0m.2 15.2h0m.3-25.2h0m.1 15.8h0m0-27h0m0 15.7h0m.2-2.9h0m0 5.9h0m.1-12.4h0m.1 14.1h0m.1-13.5h0m0 13.9h0m.1-11.2h0m.1-1.1h0m.1 1.4h0m.1 15.6h0m.1-1.5h0m.2-15h0m.1 18.4h0m0-14.4h0m.1-15.6h0m0 25.2h0m.1 2.1h0m.2-.8h0m.1-8.5h0m.2 8.7h0m0 3.4h0m.3 1h0m0-10.5h0m0-3.3h0m.3 5.1h0m0-8.2h0m0-4.7h0m.1-4.8h0m.4-.8h0m.1 4.6h0m0 6.2h0m.1 .4h0m0 15.9h0m.1-5.5h0m0 3h0m.1-14.4h0m.1 4.5h0m0-3.4h0m.1-11.8h0m.1 18.6h0m0-10.4h0m.3 13.6h0m0 5.7h0m0-21h0m0 13.8h0m.3-17h0m.1 16.2h0m.1 10h0m0-7.7h0m.1 1.9h0m0 2.6h0m0-18h0m0 20.2h0m.2-24h0m0-2.3h0m0 2.1h0m0 11.9h0m.1-8.7h0m0 14.9h0m.1-12h0m0-12.3h0m.1 28.8h0m.4 .2h0m0-.8h0m0 1.9h0m.1-26h0m0 11.7h0m0-10.4h0m0 12.5h0m.1-5.2h0m0 7.1h0m.1-3.5h0m.1-8.2h0m.1 13.2h0m.2-17.6h0m.1 13.5h0m.1 1.7h0m.2-.8h0m.1-10.8h0m.1 2.8h0m.2 6.5h0m.1 5.9h0m.1-16.3h0m0 5.7h0m.1 5h0m.2 13.6h0m.1-18.1h0m.1 7.7h0m0-12.7h0m0 12.3h0m.2 10.8h0m.1-24h0m0 13.9h0m.1-5.6h0m.3 10.6h0m0-14.7h0m.1 13.5h0m0-8.5h0m0-2.4h0m.1 5.8h0m0-13.8h0m0 10.1h0m.1-8.2h0m.3 6.1h0m.1-8.4h0m0 0h0m.1 13.9h0m.8-2.1h0m.1 8.3h0m0-20h0m.1 6.9h0m.1-3.5h0m0 13.7h0m.2-7.9h0m0 10.3h0m.3 7.1h0m0-8.2h0m0-25.9h0m.2 12.4h0m.2 27.1h0m0-21.2h0m.1 3.7h0m0-5h0m.1 12.7h0m.1-1.2h0m0-21.7h0m.1 3.7h0m.1 9.3h0m0 5.3h0m.1-17.6h0m0 17.1h0m0-5.9h0m.1-10.7h0m.2 16.6h0m0 7.8h0m.5-15.7h0m0-11.7h0m.1 8.2h0m.2 13.2h0m0-16.6h0m.1 6.1h0m.3 4.4h0m0-15.5h0m0 16.9h0m.1-14.2h0m0 12.8h0m.2-8.8h0m0 7.8h0m.1 3.9h0m0-9.4h0m0 3.5h0m0 6.1h0m.1-19.7h0m.2 21.6h0m0-25.3h0m.1 22.1h0m.1-8.9h0m0 12.1h0m.1 2.8h0m0 .8h0m0-8.5h0m.2-6.9h0m.1 14.1h0m0 .8h0m.1-10.5h0m.1 11.2h0m0-13.1h0m0 2.1h0m.1 9.4h0m0-12.1h0m0 4.4h0m.1-1h0m0-3.3h0m0 .1h0m.2 13.4h0m0 3.6h0m0-19.1h0m.1 8.1h0m.1 2.8h0m.1-18.6h0m.3 2.1h0m0 12.3h0m0-10.3h0m.1 12.5h0m.1-4.6h0m0 1.5h0m.1-4.5h0m0 13h0m.1-9.2h0m.2 3h0m0-7.5h0m.1 4.7h0m.1 10.3h0m.4 .6h0m.1-18.3h0m.2 16.4h0m.1-16.2h0m0 19.3h0m.1-20.3h0m0 6.5h0m0 1.6h0m.2-8.2h0m0 20.5h0m.3-22.4h0m.1 1.8h0m0-.9h0m0 4.9h0m.1 23.5h0m0-11.4h0m.1 2.8h0m.1-27.8h0m0 25h0m0-20.8h0m0 5.7h0m0-4.4h0m.3 7.4h0m0-8.5h0m.1 13.9h0m0 8.5h0m.1-19.2h0m0 5.5h0m.1 4.7h0m.1 5.5h0m0 3.7h0m.1-8.5h0m.2 14.6h0m0-24.3h0m.1 13.3h0m0-7.6h0m0 5.1h0m.1 7.7h0m.1 1.7h0m.1-.7h0m.1-18.8h0m.4-1.1h0m0 3.1h0m.1 16.4h0m.1-12h0m.1 15.8h0m0-18.3h0m0 9.8h0m.1-17.8h0m.1 8.1h0m.1-13.2h0m0 25.1h0m.5-17.4h0m0 20.7h0m.1-22.2h0m.1 1.9h0m0 17.7h0m.1-12.9h0m0-12.3h0m.1 8.5h0m.1 6h0m0-4.5h0m.1 3.9h0m0-18.8h0m0 24h0m.1-1.6h0m0 5.3h0m.2-1.9h0m.1-3.1h0m0 .4h0m0-9.6h0m.1 14.6h0m.2-6.1h0m0-5.7h0m.1-2.2h0m0-1.7h0m.1 6.1h0m.1-4.1h0m.2 8.8h0m.2 5h0m.1-6.5h0m0-11.3h0m.1 9.2h0m0 13.4h0m.2-22h0m.2 1.4h0m.1 22.9h0m0-4.7h0m.1-10.6h0m.1 8.9h0m0-15.4h0m.1-2.8h0m.1 11.7h0m0-19h0m0 19h0m.4-7.3h0m.2 12h0m0-19.6h0m.2 26h0m0-27.8h0m.2 22.4h0m0-7.7h0m0 5.7h0m.2-8.2h0m.1 15.9h0m0-8.2h0m0 9.9h0m.1-20.6h0m0-2.6h0m.1 15.8h0m0-10.8h0m.1 5.4h0m0-.7h0m0 11.1h0m.2-18.9h0m.1 16.3h0m0-3.3h0m.1 4h0m.1-9.4h0m0 13.9h0m.1-10.3h0m.1 2.2h0m.1-16.3h0m0 16.6h0m.1-4h0m.4 1.6h0m.1-6h0m.1-3.4h0m0 7.9h0m0-9.2h0m.2 4.4h0m.1-12.3h0m.2 16.5h0m0 3.4h0m.1-.1h0m0 4.9h0m.1-8.5h0m.3-3.7h0m0-12.4h0m0 16.4h0m.1-1.4h0m0-9.6h0m0 10.6h0m0-6.2h0m.2 0h0m.1 17.1h0m.1-11.3h0m.1-10.4h0m.3 1.8h0m.2 17.8h0m.1-1.7h0m.2-1.9h0m.1-12.2h0m.1-5.4h0m0 10.1h0m.1 .8h0m.1 4.4h0m0 8.3h0m0-20.2h0m.3 17h0m.1-25.8h0m0 28.5h0m.1-15.1h0m.2 5.3h0m0-1.4h0m0 9.2h0m.2-15.1h0m.2-3.5h0m.2-1.2h0m0 5.5h0m0 6.3h0m0 8.5h0m.2-5.1h0m0-17.2h0m0 14.6h0m.1-22.7h0m0 31.3h0m0-13.4h0m.1-3.7h0m.1 16.7h0m.3-7.2h0m0-8.9h0m.1 6.2h0m0-9.2h0m.1 5.8h0m0-18.1h0m.1 19.2h0m0-11.4h0m.1 16.7h0m0-7.1h0m0-5h0m.1-.2h0m.2 21.3h0m.1-8.9h0m.1-9.9h0m.1 1.6h0m0-6.3h0m.1 10.3h0m0 5.5h0m.1-5.2h0m.1 17.8h0m.1-7.7h0m0-20.3h0m.1 25h0m.1-17.8h0m.1-3h0m0 1.5h0m.2 13h0m0-23h0m.1 20.7h0m0-13.8h0m.1 2.8h0m0 4.2h0m0 11.1h0m.1-8.8h0m.1 8.5h0m.1-.9h0m.1 .2h0m.3-3.4h0m.4-6.9h0m.1 15.8h0m.2-9.9h0m.2-4.1h0m.2-2.8h0m.2 10.7h0m.1-12.2h0m0-6.4h0m.2-4.5h0m.1 4.4h0m0 26.6h0m.2-32.1h0m0 13h0m0 11.2h0m.1-9.8h0m.1 3h0m.1 5.5h0m0-18.9h0m0 4.1h0m.3 12.1h0m.1-23h0m0 10.2h0m0 15h0m.2-9.2h0m.2-.8h0m0 3.2h0m0-1.1h0m.1-5.9h0m.1 2.3h0m.1-8.4h0m0 23.9h0m.2-19.2h0m.1 5h0m0 3.5h0m.1-1.4h0m.1 9.9h0m0-1.1h0m.1-7.8h0m.1-.4h0m.1 2.9h0m.1 5.9h0m0-23.4h0m0-.3h0m.2 22.9h0m.1 .4h0m0-5.2h0m.2 2.1h0m0-4.9h0m.1-2.3h0m0-7h0m.1 17.4h0m0-18.5h0m0 4.8h0m.1-.6h0m.1 .1h0m.4-5.9h0m.1 21.6h0m0-1.3h0m.2-5.8h0m.2 2.7h0m0-8.9h0m.1 13.9h0m0-9.8h0m.1-4.4h0m.1 10.9h0m0-2h0m0-17h0m0-7.1h0m.1 16.4h0m0 5.7h0m.3-.5h0m.1-1.8h0m0-6.7h0m.2 1.4h0m0 14.1h0m.2-2.3h0m0-.4h0m.1-15.6h0m.1 15.9h0m0-19.8h0m.1 9.4h0m0-10.6h0m.2 26.2h0m0-8.7h0m0-3.9h0m.1 4.3h0m.2-3.5h0m0 0h0m0-10.9h0m.1 15h0m0 .4h0m.1 4h0m0-23.9h0m0 16.8h0m.1 1.3h0m0 5.3h0m0 6.2h0m.1-7.7h0m0-18.7h0m.1 16.8h0m.2-8.6h0m.1-14.8h0m.1 27.6h0m0 1.1h0m.1-6.4h0m.1-15.3h0m0 11.6h0m0-7h0m.1 7.4h0m.2-3h0m0 1h0m.1 .4h0m0 .6h0m.2 9.1h0m0-1.1h0m.1-5.4h0m0 6.3h0m.4-19.6h0m0 .2h0m.1 1.5h0m.1 16.5h0m.1-10.9h0m.2-2.9h0m.2 7.4h0m0 4.8h0m.1-15h0m0 .3h0m0 13.8h0m.1-10.4h0m0-3h0m.1 4.5h0m.1-16.4h0m.1 10.4h0m0 11.6h0m.2-3.9h0m0-.7h0m.1-3.2h0m.2 7.7h0m.1 1.8h0m0 2.7h0m.2 6.7h0m0-3.4h0m0 3.1h0m.1-21.1h0m0 18.2h0m.1 1.3h0m.1-16h0m0 8.8h0m0-11.7h0m.1 14.9h0m0-13.4h0m0 9.5h0m.1 6.5h0m0-13.4h0m0 10h0m.3-9.7h0m.1-8.3h0m.1 6.4h0m.1-5h0m0 5.6h0m.2-1.8h0m.1 16.2h0m.1 .5h0m0 1.8h0m.4-3.7h0m0 2.9h0m0-2.3h0m.1 3.9h0m.1 8.1h0m0-29.3h0m.1 13.4h0m.1 3.8h0m0-17.6h0m0 10.7h0m.1 5.9h0m.1-2.4h0m0-2.6h0m0-7.7h0m.1-6.7h0m0 12h0m.1 12.9h0m.3-31.9h0m0 31.6h0m.1-9h0m.1-11.3h0m0 5.4h0m.1-4.8h0m.2 19.9h0m0-12.8h0m.1 13.7h0m.3-21.8h0m0 .7h0m.1-.1h0m.2 22.9h0m.1-29.2h0m.3 18.7h0m.1-14.1h0m0 17.1h0m.1-11.3h0m.1-9.8h0m.5 4.6h0m0-.4h0m0 12.6h0m0 .8h0m.1 10.6h0m.1-27.5h0m0 10.2h0m.1-10h0m0 28.3h0m.2-19.8h0m.1 10.5h0m0-14.8h0m.1-1.1h0m0 18.7h0m.1-18.8h0m.1 5.4h0m.1 2.7h0m.2-.9h0m0-15.7h0m.2 9.7h0m.1 9.7h0m.1 2.2h0m.1 4.5h0m.1-3.2h0m0-9.2h0m0-2.3h0m.2 14.5h0m0 1.6h0m0-16.3h0m.1 16.8h0m.1-8h0m0-1h0m.1-11.2h0m.1 1.8h0m.2-4.4h0m0 5.3h0m.2-1.2h0m0 17.6h0m.1-23.4h0m.3 19.2h0m.2-17.1h0m.1 8.7h0m.1 .9h0m0 13.2h0m0-23.1h0m0 24.4h0m.1-9.2h0m0-12.3h0m.1 6.7h0m0-.7h0m.1-.4h0m0-8.3h0m0 14h0m0-8.1h0m.1 .5h0m.2 4.2h0m0-13.4h0m.1 20.5h0m0 1.2h0m.1-12.5h0m.1-12.2h0m.1 11.7h0m.1 2.4h0m0 7.9h0m.1 6.7h0m0-15.4h0m.1-2.8h0m0-2.1h0m.1 16.9h0m0-15.1h0m.1-4.3h0m.1 18.2h0m0-.8h0m.2 14.1h0m0-31h0m.1 14.1h0m.1 4.6h0m0-14.8h0m.1 12.2h0m.2 .8h0m0-13.3h0m0-2.3h0m.1 8.3h0m0 13.1h0m.3-22.3h0m0 12.4h0m.1 12.5h0m0-9.6h0m0 1.7h0m.1-1.5h0m.1-12h0m0-2h0m0 14.8h0m.1 2.4h0m0-19.2h0m0 9.7h0m.3 8.4h0m.1-16.3h0m0 3h0m0 11.3h0m.2-19.3h0m.1 14.4h0m0-.3h0m0-1.3h0m.1 6.1h0m.1-3h0m0-1.2h0m.1 4.6h0m0 6h0m0-23.2h0m.1 18.9h0m.1-9h0m.1-1.9h0m.2-4.4h0m.1 10.5h0m0-10.9h0m0 7.7h0m0 11.5h0m.1-.3h0m.1-18.9h0m.1 2.4h0m.1 6.9h0m0-21.5h0m.1 9.3h0m0 12.4h0m.2 3.6h0m0-13.3h0m0 6.2h0m.2-8.4h0m.1 7h0m.1-4.1h0m.2-9.2h0m0 17.5h0m.1-11.4h0m.1 22.6h0m0-3.7h0m0-7h0m0 10.1h0m.1-9.3h0m0-.4h0m.1-8.4h0m.1-10.7h0m.1 19.4h0m.1 .3h0m0-11.1h0m.3 20.4h0m0-2.1h0m.2-1.9h0m.1-8.1h0m.1 20.6h0m.1-25.5h0m.1 14.7h0m0-14.6h0m.2 5h0m.1-9h0m.2 19.5h0m.1-22.3h0m.1 19h0m0-21h0m0 29h0m0-5.7h0m.2 4.9h0m.1-13.5h0m.1 6.1h0m.1-12.5h0m0 12.5h0m.1 2.7h0m.2-9.8h0m0-6.7h0m0-6h0m.1 18.1h0m0-2.8h0m.1-2.1h0m.1 3.8h0m0 1.3h0m0-8.7h0m.3 7.5h0m0 3.9h0m0-14h0m0 .2h0m0 9h0m.1 14.9h0m.2-15.1h0m.3 1.6h0m0 1.5h0m0-8.1h0m.4 1h0m0-8.2h0m0 5.3h0m.1 .8h0m0 6.4h0m.2 17.8h0m0-33.4h0m.2 11h0m.1 10.2h0m0-8.6h0m0-10.2h0m.1 3.3h0m.1 14.2h0m.1-1h0m.2-2.5h0m.1 11.3h0m0-19.8h0m.2-10.4h0m.2 26.1h0m.1-3.4h0m0-1.4h0m0 4.4h0m.1-16.5h0m.1 8.5h0m.1 5.2h0m.1 2.6h0m.1 2.8h0m0 1.1h0m.2-24.7h0m.1 11.5h0m0-6.5h0m.1 7h0m0-1.3h0m.1 5h0m0 .5h0m0-19.9h0m0 18.8h0m.1 4.3h0m.1-12.7h0m0-.2h0m0-6h0m.2 18.5h0m0-14.3h0m0 3.8h0m.1 15.1h0m0-16.5h0m.2 8.4h0m0 6.9h0m0-11.7h0m0 10.5h0m0-13h0m.2-5.9h0m.1 1.8h0m0-4.5h0m0 5.7h0m0 18.6h0m.2 1.5h0m0-6.1h0m.1 3.1h0m.1-.6h0m0-2.4h0m0-10.1h0m.1 7.9h0m0 3.9h0m.1-19.4h0m0 20.9h0m.2-7.2h0m0 5.2h0m.2-21.7h0m.1 12.8h0m.2 6.2h0m.1 .6h0m0-3.8h0m0-10.8h0m.3-8.2h0m.2 17.9h0m.3 2.5h0m0-13.1h0m.5 18.9h0m.1-19.6h0m.1 20.8h0m.2-8.7h0m.1-3.4h0m.1 2.7h0m0-2.5h0m.1-10.6h0m.1 30h0m0-9.4h0m.1-15.3h0m.2 7.5h0m.7-10.4h0m0 2.6h0m.1 8.3h0m.1-12.6h0m0 22.9h0m0-20.1h0m.1 15.8h0m.2-10.9h0m.2 11.5h0m.1-9.9h0m0 5h0m0 7.1h0m.1-4.8h0m0-15.1h0m.1 5.4h0m0 3.8h0m0 10.8h0m0-13.4h0m.1-10.8h0m.1 23.1h0m0 4.9h0m0-20.3h0m0 4.9h0m.4-.9h0m.1 9.2h0m0-4.6h0m.2-4.6h0m0-9.5h0m0 10.7h0m.1 3.7h0m.1 2.1h0m0-5.3h0m0 12.7h0m.4-21.1h0m0 0h0m.1 9h0m0 12.8h0m.1-21.4h0m0 17.3h0m0-17.3h0m0 2.1h0m.1 12.4h0m.1-18.2h0m0 15.9h0m.1-11.7h0m.1-5.7h0m0 6.5h0m.1-2.4h0m.1-2.6h0m0 18.6h0m.2-19.1h0m.1-2.9h0m0 6.9h0m0 4.9h0m.1 12.7h0m0-5.3h0m0-10.3h0m0 12h0m.4-.5h0m0 1h0m.1-7.3h0m0 7.7h0m0 6.5h0m0-15.3h0m0 18.5h0m.1-4h0m0-8.5h0m.1 3.9h0m0-15.6h0m.1 3.3h0m0 .5h0m.1 .1h0m0-12.6h0m0 33.1h0m.1-22.4h0m0 0h0m.1-2.2h0m.2 4.8h0m0 9.5h0m.1-6.3h0m.1 6.8h0m.1 .9h0m.2 1.9h0m0-13.1h0m.1 6.3h0m0-1.4h0m.1-3.8h0m0 13h0m.1-5.5h0m0-1.1h0m.3-1.3h0m.1-21.2h0m.1 8.6h0m0 21.9h0m.1-14h0m.1 7.3h0m.1-3.4h0m.2 4.7h0m.2 11.6h0m0-10h0m0-16.2h0m0 11.5h0m0-15.1h0m0 17.5h0m.3-3.1h0m.1 5.9h0m.1-6.3h0m.1-5.8h0m0-9.7h0m.2 6.7h0m0 19h0m0-24.9h0m0 33.1h0m.2-9.3h0m0-2.4h0m.3-7.1h0m0-3h0m.1 7.4h0m0 4.8h0m.1-14.3h0m.2 2.2h0m.1 3.3h0m.1 5.4h0m.1-14.5h0m.2 5.5h0m0 7.8h0m0-8.5h0m.3 14.9h0m.1-1.8h0m.1-14.7h0m0 4.9h0m.1-12.8h0m.1 7h0m0 3.7h0m.2-5h0m.1 5.7h0m0 1.8h0m0-8.7h0m0 9.5h0m.2-9h0m.1-3.4h0m0 19.4h0m.1-7.6h0m0-8.9h0m0-11.1h0m.1 9.1h0m.3 14.6h0m.1-2.3h0m.1-1.1h0m.2-15.4h0m.3 22.8h0m.2-2.2h0m0-10.3h0m.3-8.5h0m0 14.2h0m0 5.2h0m0-14.1h0m.1 6.8h0m.1-10.9h0m0 9h0m.2 15.1h0m0-8.9h0m.2-1.9h0m.2-14.5h0m0 14.8h0m0-5.8h0m.3-5.7h0m.2 3.9h0m.2 4.2h0m.1-2.2h0m.1-.5h0m.1-10.6h0m0 19.3h0m.1-15.9h0m0 10h0m.1 7.8h0m.1-6.4h0m0-2h0m.1 14.9h0m0-24.4h0m0 13.4h0m.1-5.7h0m.1-7.2h0m.1 16.4h0m.1-5.7h0m0-11.4h0m.3-4.7h0m.1 3h0m0-1.9h0m0 5.3h0m.2 21h0m0-8.5h0m0-1.6h0m.1-3.3h0m.1-10h0m0 13.8h0m.2 1.7h0m0-7.6h0m.2-3.8h0m.1 9.4h0m.1-3.6h0m.3 12h0m.3-12.3h0m.1-.6h0m0 14.8h0m.1-22.3h0m0-4.1h0m.2 6.8h0m.1 11.1h0m0 2.8h0m.1 9h0m0-7.6h0m0-21.4h0m.1-.1h0m0 11.8h0m.2-14.5h0m0 26.8h0m0-18h0m.2 10.1h0m.2 1.2h0m0 4h0m0-4.8h0m0 2.3h0m0-9.3h0m.1-2.9h0m.3-1.9h0m0 11.6h0m0-15.1h0m.1 6.6h0m.2 10.4h0m.1 1.5h0m0-18.7h0m.1 16.7h0m0-15.8h0m.1 10.1h0m0 2h0m.1 5.2h0m0-18h0m0-5.2h0m.1 27.8h0m0-2.3h0m.1-2.8h0m0-4.1h0m0 5.9h0m.1 .5h0m.1-5.6h0m0 6.2h0m0-2.4h0m.1 5.8h0m0-14.2h0m0-5.3h0m.1 9.8h0m0-3h0m.2-2.7h0m0-1.7h0m.1 20.4h0m0-11.4h0m.2 8.2h0m.1 8.3h0m.1-22.8h0m0-12.8h0m0 11.2h0m0 15.1h0m.2-18.4h0m0 15.7h0m.1-1.1h0m0-20.2h0m0 12.7h0m.2-6.4h0m0 11.6h0m.3 10.1h0m0-6.1h0m0-12.3h0m.1 7.7h0m0-8.7h0m.1-1.7h0m.1-2.8h0m0 10.8h0m0 .4h0m.2 1.7h0m0 1.9h0m0-9.2h0m0 16.5h0m.2 1.3h0m.2-8.7h0m.1-7h0m0-4.4h0m0 2.4h0m0-5.9h0m0-1.6h0m0 11.5h0m.1 7.9h0m.1-11.4h0m0-2.8h0m0-.7h0m.1 13.6h0m0-.6h0m.1-3.7h0m0-3.7h0m0-9.2h0m.1 2.9h0m.2 10.5h0m0-17.7h0m.1 20.1h0m0-17.5h0m.1 5.2h0m.2 15.4h0m.1-11.6h0m.1-1.1h0m0 10.1h0m0 .8h0m.1-17.1h0m0 10.7h0m.1 5.8h0m.3-5.8h0m0-4.4h0m0 6.8h0m0 5.9h0m0-2.4h0m0-11.2h0m.1 12.3h0m.2 3.1h0m0-2.5h0m.1-15.6h0m.2 7.3h0m.1 .7h0m.1 0h0m0-7.9h0m0 5.2h0m.1-6.5h0m0 4.9h0m0 1.2h0m.3-9h0m.1 7.6h0m0 1.4h0m.1-11.1h0m0 6h0m.1-4.4h0m0 18.7h0m.1-1h0m.1-6.5h0m.1-5h0m.1 7h0m0-7.4h0m.1 3.8h0m0 8h0m0 3.1h0m0-23.8h0m.1 18.8h0m.1-10.4h0m0 2.9h0m0 7.1h0m.1-8.9h0m.1 2h0m0 12.1h0m0-3.6h0m.2-2.4h0m0-12.9h0m.2 17.6h0m.1 5.6h0m.1-7.3h0m.1-8.8h0m.1-1.1h0m0 3.9h0m.1-1.8h0m.1-7.9h0m0 14.2h0m.1 3.7h0m0-9.9h0m.1 8.8h0m.2 .8h0m.1-11.1h0m.1 7.4h0m.1-14.2h0m.1-2.2h0m0 17.9h0m0-4.4h0m0-2.8h0m.1 3.2h0m0 .4h0m0-18h0m0 20.6h0m0 1h0m.1-6.1h0m0 7.3h0m.1-6.5h0m0-.8h0m.1-.4h0m0-8.5h0m0 15.4h0m.1-15.2h0m0 12.8h0m0-8h0m.1 7.8h0m.1 2.5h0m.1 2.9h0m.2-.4h0m.2-10.2h0m0 .8h0m0-4.6h0m.1 3.3h0m0-8h0m0 6.2h0m0 5.2h0m.1 2.1h0m.1 2.7h0m.1-2.7h0m0-5.4h0m.4 10.1h0m.1 5.1h0m.1-22.8h0m.1 21.4h0m0-23.6h0m.3 5.1h0m0 5.6h0m0-20.5h0m.1 25.7h0m.1 16.3h0m.2-21.1h0m.1-9.4h0m0-1.8h0m.1 9.1h0m.1 2.7h0m0 9.1h0m.1-8.4h0m.1 11.4h0m.1-2.6h0m0-18.8h0m.3 15.1h0m0 9.4h0m.2-31.2h0m.1 28.1h0m.3-3.6h0m.2-12.6h0m.2 5.7h0m.2-2.6h0m.1 10h0m.2 2.1h0m0-9.1h0m.1-1.3h0m.1-3.5h0m.1-8.4h0m.1 20.1h0m.1-14h0m0-5h0m0 9.4h0m.1-10h0m0 19.4h0m.4-2.3h0m.1 2.1h0m.1-.5h0m.1-10.5h0m0-1.9h0m0-4.9h0m.1 8.8h0m0-6.9h0m0-3.8h0m0 20.6h0m.2-16.8h0m.1 17h0m.1-27h0m0 29.2h0m.1-14.7h0m0-4.1h0m0-4.5h0m.1 15.9h0m0-2.1h0m.1-15h0m.4 3.2h0m0 9.9h0m.1 7h0m0-22.4h0m.1 13.6h0m0-3.9h0m.1 19.7h0m.1-2.1h0m0-18.6h0m.1 24.1h0m0-14.8h0m0-.6h0m.1 7.8h0m0-22.8h0m.1 26.3h0m.1-3h0m.2-17.7h0m0 17.1h0m.2-12.7h0m.1 8.1h0m0 7.9h0m.1-21.8h0m0-4.8h0m0 17.6h0m.5-14.5h0m0 15.8h0m0-19.8h0m.1 31.4h0m.2-32.5h0m.2 15h0m.1 1h0m0-1.7h0m.2 7.8h0m0-2.2h0m0 3.2h0m.1-19.5h0m.1 2.7h0m.1-7.5h0m0 19.3h0m0-.6h0m0 11.5h0m.1-.9h0m0-21.1h0m.1 18.3h0m0-12.5h0m0 2.2h0m.2-3.3h0m.1 2.4h0m.1 11.7h0m.1-21.8h0m.1 25.3h0m0-13.8h0m.1-4h0m.1 11.2h0m0-7.3h0m0-5.8h0m.1-8.6h0m0 7h0m.1-6.1h0m.2 5.8h0m.1 16.2h0m0-20.9h0m.4 7h0m.1-1.7h0m.2 8.3h0m0 6.7h0m.1-12.5h0m.1 9.8h0m.2-10.5h0m.4 11.5h0m.1-2.9h0m.2-2h0m.1-21.1h0m0 31.2h0m0-25.4h0m0 9.6h0m.2-3.5h0m0 20.7h0m0-7.3h0m.2-12.2h0m.1 10.1h0m.1-8.3h0m.1-3.1h0m0 7.6h0m.1-8.7h0m.1 12.2h0m.1 .3h0m0-10.1h0m.2-4.1h0m0 .2h0m.1 16.6h0m0-2.5h0m.1-8.3h0m.1-2.2h0m.1 19.1h0m.1-5.3h0m.1-10.8h0m.1-4.7h0m0-7.5h0m.2 18.8h0m.1-3.1h0m0 3.1h0m.1 10.9h0m0-1.6h0m0-15.8h0m0-6.4h0m.1-5.2h0m.1 18.3h0m.1-10.6h0m.1 4.2h0m0-17.4h0m.3 33h0m0-15.7h0m0 15.4h0m.1-16.1h0m.1-1.4h0m0 6.4h0m0 4.2h0m.1 .7h0m.2-9.3h0m0 1h0m.1 12.8h0m0-8.8h0m.1 4.7h0m.2-1.5h0m.2-1.1h0m.1-2.1h0m0 .4h0m.1 5.3h0m0-9h0m.1 .7h0m.1 15.2h0m0-10.1h0m.1 5.6h0m.1-8.4h0m0-3.8h0m.2 7.6h0m0-1.5h0m0-11.7h0m.1-3.2h0m.1 6.3h0m0-12.8h0m.2 26.2h0m0-4.4h0m.1-4.4h0m0-7.2h0m0 9.8h0m0-7.8h0m.1 16.5h0m0-8.3h0m.2 5.5h0m0-1.1h0m.2-8.3h0m.1 13.9h0m0-21.9h0m.1 12h0m.1 3.5h0m.2 10.8h0m.1-21.8h0m.1 17.4h0m0-22.8h0m.1 5.7h0m0 12h0m.1-15.9h0m.2-3.7h0m0-2.9h0m.2 26.7h0m0 4.7h0m.2-20.1h0m0 11.6h0m.1-3.5h0m0 4h0m.2-9.7h0m0 .5h0m.1-12.3h0m.1 25.8h0m0-8.4h0m.1 3.6h0m0-15.5h0m.2 5.3h0m.1 6.1h0m.2-12.8h0m.1 19.7h0m.1 1.2h0m0-16.1h0m.1-1.8h0m0 12.2h0m.2-.4h0m0 4.5h0m0-10.9h0m.1-7.9h0m.2 16.3h0m.3-.2h0m.1-21.6h0m.2 8h0m.3-10.9h0m0 9.8h0m0-4.8h0m.1 7.5h0m0 15.8h0m.1-32.6h0m.1 22h0m0-7.2h0m0-3.7h0m0 17h0m.1-4h0m.1 5.1h0m.2-6.8h0m.1-20.7h0m.2 15.3h0m.2 2.9h0m.2-19.2h0m.2 29.1h0m.1-.6h0m0-1.7h0m0 5.7h0m.1-7.8h0m.1-1.2h0m0-6h0m0-6.8h0m.2 20.8h0m0-18.5h0m.1 7.2h0m.3-7.5h0m0 15.1h0m.1-3.7h0m0-4.7h0m.3 2.6h0m.1-3.6h0m.3 .3h0m0-7h0m0 19h0m.2-14.2h0m.1 5h0m0-4.5h0m0-7.1h0m.1-.1h0m0 8.6h0m.3 9.6h0m.1-28.7h0m.2 25.9h0m0-14.3h0m0 5.4h0m.1-4.7h0m.1 11h0m.1-4h0m.2 4.1h0m.3 3h0m.2 4.6h0m0-13.8h0m0 15.2h0m.1-22.9h0m.1 26.4h0m0-18.2h0m.1 4.5h0m0 14.9h0m.1-22.4h0m.1 7.1h0m.1-18.3h0m0 13.6h0m.2 8h0m.1 3.5h0m0-5.3h0m.1-3.7h0m.1 3.6h0m0-6.6h0m0-2.6h0m.1 23.3h0m0-7.5h0m0-2.7h0m0-3.3h0m.1-13.1h0m0-.8h0m0 26.8h0m0-7.4h0m.1-17.3h0m.1 .9h0m.1 9.7h0m0 17.2h0m.1-25.3h0m0 5.6h0m0-7.8h0m.2 15.1h0m.1-.9h0m.1-25.5h0m.2 15h0m0 11.2h0m0 3.6h0m0-10.5h0m.1-4.7h0m0 5.1h0m.2 7.4h0m0-.3h0m.1-8.3h0m0 14.5h0m.3 1.5h0m0-4.3h0m.1-13.6h0m0-1.3h0m.4 1.6h0m.2 5.3h0m.1-11.7h0m.1 16.2h0m.2-4.7h0m0-2.2h0m0-.9h0m.2 7.7h0m0-3.7h0m.1 1h0m.1-11h0m0 6.5h0m0-6.9h0m.2 8.7h0m0 3.7h0m0-15.2h0m.1 11.2h0m0 6.5h0m.1-4.4h0m.1 4.2h0m0-1.5h0m0-.6h0m.1-2.9h0m0-9.4h0m0 12.2h0m0-10.1h0m.1 15.4h0m.3-11.5h0m0-11.8h0m0 6.6h0m.3-7.1h0m0 21.3h0m0-5.6h0m.1-14h0m0 9.2h0m.1 10h0m0 12.2h0m.1-29.7h0m.2 15h0m0-6.8h0m.2 6.6h0m.1-9.1h0m.1 3.5h0m.1 20.8h0m.2-17.8h0m.2 8.9h0m.1-3.2h0m0-9.9h0m0 1.7h0m0-7.5h0m.1-7.8h0m.1 2.8h0m.2 14.7h0m.1-10.8h0m0 3.2h0m0 15.8h0m.1-1.1h0m.1-18.9h0m0-3.6h0m.2 .3h0m0 22.4h0m0-14.4h0m.1 4.5h0m0-1.9h0m0 3.3h0m.1-8.7h0m.2 2.4h0m.1 12.2h0m0-.2h0m.1 12.7h0m.1-16.4h0m.1-9.9h0m0 7.2h0m0 4.3h0m0 5.5h0m.3 .7h0m0-21.9h0m.1 15.6h0m0-6.7h0m.2 5.8h0m.1-9.9h0m.1 10.1h0m0-14.4h0m0-1.1h0m0 4.3h0m.1 15.3h0m.1-7.1h0m.1-8h0m0 4.7h0m.1 4h0m.2-6.4h0m0 12.6h0m.1 7.6h0m0-17.6h0m.2-5.9h0m.1 .7h0m.2 15.8h0m.1-3.1h0m.1 8.6h0m0-26.4h0m.1 17.5h0m.1-.1h0m0-4.6h0m.1-21h0m0 26.7h0m.1-1.5h0m.1-23.6h0m0 20.7h0m.3-1.3h0m.1-.6h0m.1 12.1h0m0-11.2h0m.1 12h0m0-27.8h0m.1-2.1h0m.1 6.6h0m.3 2h0m.2-1.1h0m0 26.6h0m.1-27.9h0m.1 16.1h0m.1 1.1h0m0-3.3h0m.1-12.9h0m.1 21.3h0m0-18.8h0m.1 17.3h0m.2-9.1h0m0-10.4h0m.1 3h0m0-1.3h0m.1 5h0m.1-4.6h0m.1 9.5h0m.1-7.8h0m.1 1.7h0m0 1.5h0m.1-8.6h0m.1-4.1h0m.4 31.7h0m.1-22.3h0m0-6.9h0m.2 9.5h0m0 2.4h0m0-8.8h0m.1 7h0m0 10.8h0m0-19.8h0m.1-2.1h0m.1 23.2h0m.1-22.3h0m0 8.9h0m.2-5.9h0m.1 11.6h0m.1-17.4h0m0 6.5h0m.1-1.1h0m0 9.2h0m.1-.6h0m.2-1h0m0-8.6h0m.4 5.8h0m0 5.5h0m.1 16.8h0m.1-21.9h0m.1 15.4h0m.1-20.2h0m.1 7.9h0m0 10.9h0m0-17.2h0m.1 7.2h0m.2-2.1h0m.1-5.7h0m.1 13.6h0m.2-15.7h0m.4 2.2h0m0-7.6h0m.3 26.8h0m0 2.1h0m.2-22.9h0m0 2.8h0m0-4.3h0m.1 8.4h0m0-4.9h0m0 7.5h0m.1 .7h0m.1 5.8h0m0-15.8h0m.1 2.7h0m.2-5.7h0m0 15.2h0m.2 3.1h0m0-11h0m.1 9.3h0m.1 2.4h0m0 2.4h0m.1-5.3h0m.2-13.6h0m0 13.5h0m.1-11.9h0m0 10.8h0m0-7.5h0m.1 5.9h0m0 12.1h0m.2-9.4h0m.1-10.9h0m.1 18.3h0m.2-4h0m.1-6.6h0m.1-4.2h0m.1 4.4h0m.1 11.9h0m0-15.6h0m0 11.6h0m.1 6.2h0m.1 .2h0m.2-6.6h0m0 2.5h0m.2-3.6h0m0-4.9h0m.1-8h0m.2-5.2h0m0-2h0m.1 11.2h0m0 10.5h0m0-8.8h0m.2-7h0m.1-1h0m.1 17.6h0m0-10.7h0m.1-7.7h0m.3 1.7h0m.1-1.6h0m0 1.5h0m0 6.5h0m.1 7.6h0m0-12.1h0m.1 14.1h0m0-4.8h0m0-10.7h0m.2 6.8h0m0 3.4h0m0-13.6h0m.2 8h0m0 9.5h0m.1-17.4h0m0 9.8h0m0-12.1h0m.2 20.4h0m.2-3.5h0m.1-21h0m.1 18.7h0m0-9.4h0m.1-4.5h0m0 7.6h0m0 6.3h0m.1-10.9h0m0-1.7h0m0 6.1h0m0 8h0m.1-.3h0m.2 1.8h0m0 11h0m.2-17.2h0m.3 19h0m0-13.2h0m.1 9.8h0m0-23.5h0m.1 4.8h0m0 13.1h0m.3-10.9h0m0 11.6h0m.1 1.9h0m0-18.8h0m0-6h0m0 22.7h0m.1-25.8h0m.1 16.8h0m0 10.9h0m.1-10.5h0m.3 6.9h0m.1 .3h0m0 .5h0m0-3.6h0m.1-10.5h0m.3 17.9h0m.1-23.7h0m0 8.8h0m.1 7.5h0m.5-11.3h0m.1 .7h0m0 15.6h0m.1-30.4h0m.1 21h0m.1-13.6h0m0 22.7h0m.1-5.4h0m.1-5.9h0m0 7.5h0m.2-12.6h0m.1 18.2h0m.4-.3h0m.1-6.7h0m0 7.6h0m.1-15.9h0m.1-7.1h0m.1 2.5h0m.1 4.2h0m0 8.3h0m.2 3.6h0m0 13.7h0m0-28.7h0m.1 4h0m0 18.2h0m.1-3.7h0m.1-2.3h0m.1-6.5h0m.2 3.6h0m0 7.9h0m.1-7.2h0m.1-5.7h0m.2 9.6h0m0-11.6h0m0 8.5h0m.4-13.1h0m0 10.6h0m.2-15.3h0m0 13.9h0m.1 6.5h0m.1-7.3h0m.1-11.9h0m0 15.7h0m.1 5.3h0m0-26.9h0m.2 20.5h0m0-7.9h0m.3 6.3h0m0-4.5h0m.1-8h0m.1 17.3h0m0 2.2h0m.1-14.8h0m.1 11.1h0m0-14.5h0m.1 18.5h0m.2-25.8h0m0 28.8h0m.1-3.7h0m0-12.7h0m.2 7.1h0m.1 6.7h0m0-2.3h0m.1-1.6h0m.4-2.7h0m0 2h0m.3-2.7h0m0-12.8h0m.1-.4h0m.2 18.3h0m0-.6h0m.2 1.3h0m0-22.7h0m0 15.2h0m.1 8.5h0m0-23.2h0m0 19.6h0m0-12.3h0m.2-2.4h0m0 6.2h0m.1 14.5h0m.5-18.9h0m.1 3.4h0m0 6.5h0m.2 7.6h0m.1-2.9h0m0 2.9h0m.1-9.7h0m0 2.4h0m.1-2.3h0m0 7.1h0m.3 2.2h0m.1-4.3h0m0-17.6h0m.1 18.8h0m0 .1h0m.1-13.2h0m0-.6h0m.2-8.5h0m.1 16h0m.1 4.5h0m.3 6.6h0m0-21.2h0m.1 5.3h0m0 6.1h0m.1 6.4h0m.1-22.1h0m0 23h0m0-8.8h0m.1-7h0m.1-2.7h0m0 5.3h0m.5 .5h0m0 5.1h0m0-12.5h0m.1 18.9h0m0-15.1h0m.2 2.2h0m0-.2h0m.3 5h0m0 8.6h0m.1-17.7h0m.1 24.1h0m0-14.8h0m.4 14.8h0m.1-13.5h0m.1 6.5h0m.1-14.3h0m0 18.4h0m0-15.1h0m0 .4h0m0 8.4h0m.1 1.4h0m.1-12.8h0m0 18.7h0m.1-3.9h0m0-.8h0m.1-.6h0m0-2.1h0m.1-3h0m.1-5.8h0m.1 15.9h0m0-15.1h0m.1 10.5h0m0 7.8h0m.2-19.3h0m.2 4.9h0m.1 5.2h0m0-4h0m.4 5.8h0m.1-1.6h0m0 7.6h0m.1-9.6h0m.1 2.5h0m0-18.7h0m0 23.4h0m.1 5.5h0m0-16.1h0m.1 1.6h0m0-6.6h0m.1 .9h0m.1 10.9h0m.2-19.3h0m.1 2.2h0m0 8.1h0m.5 7.8h0m.1 .5h0m0-21.9h0m.3 24.8h0m0-21.9h0m0 .3h0m.1 18.1h0m0-11h0m.1 2h0m.2 8.2h0m0 .2h0m0 0h0m.1-2.5h0m.1-13.2h0m.1 7.2h0m0 8.3h0m.1-7.1h0m0 2.2h0m.1-13.5h0m0 10.3h0m0 2.3h0m0 7.7h0m.3-4.3h0m0-6.1h0m.4 18.5h0m.1-14.5h0m0-21.3h0m0 2.8h0m.2 1.1h0m0 16.1h0m.2-10.2h0m0 27.2h0m.2-30.5h0m0 14.8h0m.1 3.8h0m0-7.5h0m.1-1.8h0m0 10.9h0m.1-5.1h0m0 3.6h0m.1-9.4h0m.2 3.2h0m.1-8.3h0m.3 13.3h0m.1-23.1h0m0 14.7h0m.2 15h0m0-15.6h0m.1 3.9h0m0-5.7h0m0 16.9h0m0-5.9h0m.2-5.3h0m.2 4.7h0m0-16.7h0m.1 5.4h0m0 6.4h0m.2-19.8h0m.1 28h0m.1-10.7h0m.3-10.9h0m.3 31h0m0-9.9h0m0-14.7h0m.1 15.3h0m.1-5h0m0-.6h0m.1 6.4h0m.2 2.6h0m0-21.4h0m.2 18.1h0m0-6.6h0m.1-1.3h0m.1 15.4h0m.1-20.7h0m.2 19.6h0m0-23.4h0m0 21.5h0m.1-16.3h0m.5 2.6h0m.1-5.1h0m0 8.7h0m0-6.3h0m0-5.3h0m.2 8.6h0m.1 8.9h0m.1-18.1h0m.1 .2h0m.2 21.4h0m0-22.9h0m.1 13.7h0m0-3.2h0m0 9.7h0m.1-2.6h0m0 3.3h0m0-32.2h0m.1 35.3h0m.1-9.2h0m.1 7.9h0m0-21.1h0m0 1.3h0m.1 11.1h0m.1 10.1h0m.2-24.9h0m.1 10.2h0m.1-3.3h0m0 6.5h0m.1 10.5h0m0 1.1h0m.1-14.3h0m0 2.4h0m.1 13.1h0m.2-.7h0m0-12h0m.3 11.7h0m0-22.4h0m.3 13.3h0m0-1.1h0m0-12.8h0m.1 20.3h0m0-9.8h0m0 5h0m.1 7h0m.1-20.3h0m.2 2.7h0m.2 4h0m.1 11.4h0m.1-7.7h0m0-2.5h0m.1 15.1h0m.1-4.4h0m0-1.7h0m.1 2.4h0m0-6.3h0m.1-4.6h0m0-10.5h0m0 11.4h0m.2 8.3h0m.1-13.5h0m0 19.1h0m.2-22.8h0m.2 .9h0m.1 8.7h0m.1 7.9h0m.1-7.6h0m.2-10.4h0m.2-3.4h0m0 9.7h0m.5-10.8h0m.1 7.5h0m0 7.2h0m.1 6.6h0m0-3.4h0m.1-13.8h0m.2-6h0m0 29.7h0m.1-5.1h0m.1-13.4h0m0 2.5h0m.1 8.4h0m.1-19.6h0m0 13.8h0m.2-7.5h0m.2-6.3h0m.2 27.4h0m.1-3.3h0m0-18.3h0m0-4.1h0m0 14.3h0m.2 9.1h0m0-20.4h0m.1 9h0m.1-9h0m0 11.4h0m.1-6.8h0m.1 12.9h0m.6-23.8h0m0 15.8h0m.1 4.2h0m0-12.5h0m.1 .9h0m0 6.2h0m.1-2.5h0m.1 11.6h0m.1-21.5h0m0-.4h0m0 2h0m.2-1.2h0m0 27.6h0m.1-13.2h0m0 3.9h0m.1-10.2h0m.1 14.2h0m.1-4.3h0m0-16.3h0m.1 21.4h0m.1-6.1h0m.1-16.2h0m0 5.9h0m0 11.9h0m.2-3.7h0m.1-20.4h0m.2 20.7h0m0-9.2h0m0 12.3h0m.2-19.5h0m.1 20.4h0m.3-11.7h0m0-13.5h0m0 12.6h0m.1 14h0m.1-10.1h0m.1 5.7h0m0 .4h0m.2-10.5h0m0 8.8h0m0-14h0m.1-2.6h0m.1 4.2h0m.1 23.3h0m0-23.6h0m0 17.6h0m.1-21.1h0m.1 3.7h0m0 9h0m0 4.1h0m.1-5.6h0m.3-6.4h0m0 16.1h0m.2-6.9h0m0-14.1h0m.1 12.2h0m0-10.4h0m.1 18.3h0m0 3.5h0m.1-23.7h0m.1 19.1h0m0-.1h0m.1-19.9h0m.1 16.6h0m0 .5h0m.1-1.2h0m0 5.7h0m0-15.7h0m0 8.4h0m.3 4.9h0m.1 .4h0m0-14.1h0m0 8.2h0m.1-16.9h0m.1 19.5h0m.1-11.2h0m0 11.1h0m0-8.8h0m.3-1.3h0m0-11h0m0 18.1h0m.2 2.7h0m0 4.7h0m0-9.6h0m.1-1.5h0m.3 8.8h0m0 4.4h0m.1-15.5h0m.2 3.1h0m0 14.6h0m.1-25.8h0m.2 13.8h0m0 9.5h0m.1-19.5h0m0-6.5h0m0 1.8h0m.1 12.7h0m.1-4.9h0m0 .5h0m.1 9h0m.1-13.4h0m0-.1h0m.1 7.1h0m0 1.4h0m.3 4.8h0m.1-4.1h0m.2-3.3h0m.1-1.4h0m0-2.2h0m.1 11.1h0m.1 3.6h0m0-7.4h0m.1 6.7h0m.3-13.9h0m.1 9.5h0m0-13.3h0m.1 18.4h0m.1 6.2h0m.2-2.9h0m.1-14.3h0m.1-6.2h0m.1 4h0m.1 12.7h0m.1-3.6h0m0 9h0m.1-17.8h0m.1-3.1h0m.1-3.3h0m.1 12.4h0m.2 3.6h0m.3-6.5h0m.1 12.2h0m.2-9.5h0m.1-7.6h0m.1 11h0m0-5.6h0m0-3.8h0m.2-8.6h0m.1 22.9h0m.1 2.9h0m.1-10.4h0m0 10.9h0m.1-12.1h0m0 6.1h0m0-16.2h0m.1 15.3h0m.1-6.5h0m.1 6.7h0m.3-4h0m0-5.7h0m.1-.9h0m0-.7h0m.1 16.1h0m.1-10.2h0m0 4.4h0m0 11.6h0m.1-12.9h0m0-5.6h0m0 .4h0m0 7h0m.1 6.4h0m.1-16.6h0m.2 10.9h0m0 7.2h0m.2-8.8h0m.1-4.3h0m.1 5.4h0m0 5.7h0m0-6.7h0m.1-4h0m.3-2.6h0m0 6.5h0m.2 4.9h0m0-2h0m0-11.9h0m.1-3.1h0m0 7.2h0m.1-8.2h0m.2 15.4h0m.1-7.4h0m.2 14.7h0m.2-22.9h0m.1 21.6h0m.1-10h0m0-4.7h0m0-.9h0m.1 9.8h0m.1-15.6h0m.2 13.9h0m.1-3.6h0m0-18h0m0 18.9h0m0-3.6h0m0 10.3h0m.1-13.4h0m.1-7.7h0m0 9.4h0m.1-2.7h0m0-4.1h0m0 11.6h0m.1-10.4h0m0 0h0m.1 2.1h0m.1 16.6h0m.1-8.6h0m0 5h0m.1-3.9h0m0-3h0m.1-11.3h0m0 2.1h0m.1 24.1h0m0-19.9h0m0 11.9h0m.2-5.7h0m0 5.8h0m0-5.6h0m.2-8.8h0m.2 8.6h0m0 6.9h0m.1-3.3h0m0 6h0m0-19.1h0m.1 7.6h0m.1 15.3h0m0-19.5h0m0-.6h0m.1 2.4h0m.1 11.6h0m.1-20.5h0m0 9.4h0m.1 1h0m0-.4h0m.1-15.5h0m0 10.9h0m.1 10.9h0m.1 3.2h0m0-6.8h0m0 1h0m0-4.5h0m0 10.4h0m0-6.2h0m.2-16.5h0m0 14.5h0m0 7.1h0m0-13.6h0m.1 2.4h0m.1 15.1h0m.1 6.9h0m.1-31.1h0m0 12.8h0m0-9.1h0m.2 7.3h0m.1-5.7h0m0-1.7h0m0 4.3h0m.1 9.3h0m0 7h0m0 8.5h0m.3-4.5h0m0-14.7h0m.1 10.3h0m0-9.8h0m0-.2h0m.1-8.8h0m0 16.5h0m.2-13.5h0m0 5.8h0m.1 2.3h0m.2 7.2h0m.2-6.3h0m0-2.1h0m0 6.2h0m.2-14.1h0m0 9.9h0m.1 7h0m0-17.7h0m.3 3.9h0m0 14.2h0m.6-2.9h0m0-7.5h0m.1-7.7h0m.1 11.4h0m.1-11.4h0m0 13.4h0m0-7.5h0m.1-2.4h0m.1 16h0m0-20.5h0m0 2.6h0m0 2.1h0m.1 11.2h0m.1 2h0m0-16.4h0m0 11.7h0m.1-5.4h0m.1 6h0m0 6.8h0m0-21.2h0m.1 18.6h0m0-2.8h0m.2-13.1h0m.1 7.6h0m.1 7.1h0m.1-12.1h0m0 23.3h0m0-19.6h0m.1-2.1h0m.1 15h0m.2-21.2h0m.1 20.2h0m.1-26.2h0m0 2.7h0m.1 6.7h0m0 6.4h0m.1-.3h0m0 3.5h0m0-23.4h0m.1 22h0m0 5.6h0m.2-13.8h0m0 4.6h0m.1 10.7h0m0-25.1h0m.2 12.1h0m.2 7.4h0m0 4h0m.1-11.8h0m0-10.5h0m.1 21.8h0m.1-9h0m0-5.6h0m.2-8h0m.1 12.5h0m0-9.5h0m.1 6.4h0m.1 18.5h0m0-11.1h0m.2 7.2h0m.1-14.1h0m0 4.1h0m.3 6.2h0m.1-15.8h0m0 23.7h0m.1 2.1h0m0-9.2h0m0 6.6h0m0-4h0m0-13.9h0m.1 11.8h0m.1-19.2h0m0 23.7h0m.1-14h0m0-.6h0m0-6.3h0m0-.9h0m.1 12.2h0m0 9.9h0m0-8.7h0m0-11.6h0m.1-2h0m0 .1h0m0 3.9h0m.4 15.4h0m0 3.3h0m.2-29h0m0 5.3h0m.1 6h0m.1-5.1h0m.1 10.8h0m.1 8.2h0m.2-6.9h0m.2-9h0m0 7h0m.3 8.7h0m0-1.1h0m0 1.2h0m.1 4.7h0m.1-14h0m0 8h0m0 9.7h0m.1-1.5h0m0-17.2h0m.2 11.8h0m0-11h0m0-17.3h0m.1 14.8h0m.1-1.5h0m.2-1.1h0m0 8.1h0m.1-3.7h0m0 3.6h0m0 5h0m.2-2.2h0m.1 2.1h0m0-.3h0m0-12.6h0m.1 1.5h0m.1 14.7h0m.1-4.6h0m.3-8.8h0m0 5.4h0m.2 8.3h0m.1-2.4h0m.1-12h0m.1 8.5h0m0 6.4h0m0-6.7h0m0-10.7h0m0 25.7h0m0-13.8h0m0 3.9h0m.1-10.3h0m0 9.2h0m0-10.6h0m.1 5h0m.2-3.6h0m.1-1.2h0m.1 18.2h0m.1-29.2h0m.1 8.2h0m0-6.4h0m.1 22.4h0m.1-20.2h0m.2 5.5h0m0 3.6h0m.1 11.5h0m.1 2h0m0-6.9h0m.1-7.5h0m0 20.3h0m0-8.7h0m.4-7.9h0m.4 .2h0m.1-8.7h0m0 11.6h0m.1-9.2h0m0 12.3h0m.1 4.5h0m0-28.9h0m.2 16.4h0m.1 1.9h0m0 4.9h0m.2 3.2h0m0-12.6h0m.1-6.9h0m0 12.3h0m.1 8.3h0m.1-8.6h0m.1-10.6h0m0 18.8h0m.1-1.4h0m.1-8.3h0m0 13.3h0m.1-9.4h0m.1 3.4h0m.1 10.4h0m.1-17.1h0m.1 4h0m.1-6.2h0m0 11.8h0m0-11.8h0m0 5.6h0m.1-11.1h0m0 17.6h0m.1-8.7h0m.2-15.5h0m0 22.3h0m0-15.6h0m0 10.4h0m.1-.6h0m0-6h0m0-6.6h0m.1 13.5h0m.1-13.4h0m.1 6.6h0m0 5.4h0m.1-8.7h0m.1 23.5h0m0-3.8h0m0 2.3h0m.1-14.9h0m.1-2.9h0m0-4.7h0m.1 3.3h0m0 10.7h0m0-11.5h0m.1 7.2h0m0-11.9h0m.1 16.5h0m0-7.1h0m.1 1.9h0m0-10.7h0m.1 6.5h0m.2-3h0m.1 8.7h0m.1-16.9h0m0 8h0m0-4.2h0m.1-9.1h0m0 10.5h0m.1 9.7h0m0 5.5h0m0-6.6h0m.1-13.5h0m0 16h0m0 4.1h0m.1 8.4h0m.2-21.9h0m.1-8.6h0m.1 26h0m0 1.9h0m.1-18.2h0m0-2.7h0m.1-1.1h0m.1 13.2h0m0-13.7h0m0-1.8h0m.1 22.7h0m.3-2.2h0m.1-11.5h0m.1-4.6h0m0 16.3h0m0-27.2h0m.2 13.4h0m0 18h0m.1-18.4h0m0 18.6h0m0-24.3h0m.1 10h0m.3 1.7h0m0 4.7h0m0-5.5h0m0 6.1h0m.4-17.7h0m.1 8.7h0m0-8.3h0m.1 16h0m0-16.4h0m0-.8h0m.1 24.9h0m0-17.8h0m.1 20.6h0m.1-18.6h0m0-2.9h0m.1 13.3h0m.1-2.7h0m.1 4.3h0m.1 3.1h0m0-3.8h0m.1 .3h0m.1-10.8h0m.1-3.7h0m0 4.6h0m.2-17.2h0m.1 10.2h0m0 5.4h0m.1-8.3h0m0 17.2h0m.1-22.3h0m0 20.3h0m0 2.2h0m0-20.2h0m.2 5.2h0m0 10.3h0m.1-5.2h0m0 13.2h0m0 .2h0m.1-18.8h0m.1-3.2h0m.1 5.8h0m.3-5.1h0m.1 13.5h0m0-9.7h0m0-4h0m.1 7.8h0m.1-4h0m0 9.7h0m.2 7.4h0m0-18.9h0m.3 11h0m.2 .8h0m0-9.8h0m0-4.2h0m.1 13.5h0m0-11.4h0m0 3.9h0m.1 15.8h0m.1-14.7h0m.1-3.6h0m.1-.4h0m.2-.5h0m.1 12.9h0m.2-2.1h0m0-6.2h0m0-7.3h0m.1 18.3h0m0 2.9h0m.1 3.1h0m0-24.2h0m.1 9.5h0m0 4.3h0m.1-1.7h0m0-8h0m0-7.2h0m.1 24.8h0m.2-18.6h0m0 6h0m.1-1.9h0m.4 7.6h0m0 2.5h0m.3-18.1h0m0 13.1h0m.1-16.8h0m0 7.4h0m.1 12.1h0m.1-3.7h0m0 13.3h0m.2-13.5h0m.2-15.1h0m.1-3.1h0m.1 22.7h0m.1 5.7h0m0-7.8h0m.1-5.6h0m0-9.1h0m0-5.2h0m0 24.6h0m.2-14.6h0m.1 14.6h0m0-13.4h0m.1 5.3h0m0-3h0m.1 20.4h0m.1 1.4h0m.2-34.3h0m0 18.4h0m.1-14.3h0m.1-2.1h0m.2 26.9h0m.2-11.2h0m.1-2.8h0m.1 10.2h0m.2-3.1h0m.1 1h0m.1-7.3h0m0 8.2h0m0 7.3h0m.1-30.9h0m0 12.9h0m.2 7.3h0m0-4.9h0m.3 .7h0m0-5.1h0m.1 15.8h0m.1-15.5h0m0-7.5h0m.1 17h0m.1-14.2h0m.1 18h0m0 2.1h0m.1-15.8h0m.1 8.4h0m0 0h0m0 1.4h0m.1-7.4h0m.1-10.7h0m0 4.4h0m.1 7.4h0m0 5.4h0m0-5.9h0m.2 .1h0m.1 11h0m0 2.5h0m.4 .9h0m.1-11.4h0m0-8.7h0m0 2.4h0m.2 11.4h0m0 5.1h0m.2-9.4h0m.1 8.6h0m.2-6.9h0m.2-20.6h0m0 6.6h0m0 8.3h0m0-6.3h0m.3-.5h0m0 11.5h0m.1 8.9h0m.2-.9h0m0-8.6h0m.2-15.3h0m.1 12.8h0m0-9.6h0m.1 10.1h0m.2 12.8h0m0-15.9h0m.1 14.5h0m0-8.7h0m.2 12.3h0m.1-1.5h0m.1-12.7h0m.3 3.2h0m0-20.7h0m.2 21.1h0m0-12.4h0m0 10.1h0m.1 2.7h0m0-18.2h0m.1 26.2h0m0-12.5h0m0-8.7h0m0 6h0m.1-3.6h0m.1 4.2h0m0 8.4h0m0-7.5h0m.3-15.3h0m.1 1.2h0m.1 7.2h0m0 20.5h0m0-18.8h0m.1-3h0m.1-3.9h0m0 1.8h0m.1 23h0m.1-17.3h0m.1 13.5h0m.1-10.6h0m.1 7.2h0m.1 10.3h0m.1-12.8h0m0 8.1h0m.3-12.6h0m.2 17.9h0m.1-23.5h0m.1 9.7h0m0-10.6h0m.3 4h0m.1 10.5h0m.1 8.8h0m.1-18.3h0m.1 15.1h0m.2-11.4h0m.1 1.3h0m.1 3.2h0m.2 10.3h0m0-9.5h0m.2-3.3h0m.2-13.5h0m.1 9.2h0m.4-2.8h0m.4 18.2h0m.1-22.3h0m.4 8.3h0m0-7.6h0m.1 7h0m.2 11.9h0m.1-4.9h0m.1-.1h0m.1-14.3h0m.2 22.8h0m.1-2.8h0m0-10.5h0m.1 8.3h0m.4-10.2h0m.1 7.3h0m.1 4.4h0m0-1.1h0m.1-11.5h0m0 2h0m0 15.9h0m0-18.1h0m.3-5.6h0m.3 14.1h0m0-19.6h0m0 14.7h0m0-6.7h0m.1 12.7h0m.1 1.1h0m.3 10.8h0m.1-31.7h0m.1 29.3h0m.1-25.3h0m0 18.2h0m0-7h0m.1-.5h0m0 10.2h0m.1-5.1h0m0 1.8h0m.3-8.6h0m0-12.4h0m.1 5.7h0m.3 13.7h0m.1-2.3h0m.2-5.2h0m.1 6h0m0-9.5h0m.1-5.2h0m0 12.9h0m0 1.3h0m.1-8.4h0m.1-8.8h0m0 4.5h0m.3-3.4h0m0 5.4h0m0 5.9h0m0-6.9h0m.1 5.3h0m0 9.5h0m0 4.4h0m0-18.2h0m.1-.4h0m.1-1.3h0m.1 21.8h0m0-9h0m.2-6.4h0m0 5.7h0m.1 3.5h0m0-17.8h0m0 21.3h0m.1 0h0m.3-16.2h0m0-7.2h0m0 8.1h0m.1 1.3h0m0 3.7h0m.1-12.1h0m0 8.5h0m0 4.6h0m.1-4.1h0m.1 12h0m.2-1.5h0m0-.9h0m.1-17.9h0m0-2.1h0m0 21.4h0m0-13.3h0m.3-3.3h0m.1-2.1h0m.3-1.6h0m0 5.1h0m0 6.7h0m.2-1.8h0m0-5.4h0m0-13.9h0m.1 4.5h0m.1 22.3h0m.1 11.7h0m0-26.2h0m.1-3.5h0m0 8.7h0m0 1.8h0m.1-7h0m0 17.3h0m.1-11.5h0m.1-7.5h0m0 4.6h0m.1 8.4h0m0 9.3h0m0-12.6h0m0-3.3h0m.1-3.5h0m.2 19.2h0m.1-13.5h0m.2-7.1h0m.2 8h0m0 1h0m.3 4.4h0m0-17.3h0m.1 15.9h0m0-6.4h0m.1 7.5h0m.1-8.7h0m0-5.4h0m0 12.1h0m.2-.7h0m0-19.5h0m.1 11.8h0m0-2.4h0m.1-2.6h0m.2 .2h0m0 5.6h0m.1-5.9h0m.1 5.6h0m0-13h0m.1 13.5h0m.1 13.2h0m.1 2.3h0m0-11.3h0m.1-7h0m0 10.4h0m0 5.4h0m0-7.2h0m.2-1.8h0m0-7.4h0m0 4.6h0m.2 12.1h0m0-14.4h0m0 10.8h0m.2-19h0m0 13.4h0m.2 11.3h0m.1-11.3h0m0 2.6h0m.1-16.3h0m0 10.9h0m.5 9.4h0m.4 9.2h0m.1-22.8h0m0-5h0m.2-1.5h0m0 25.4h0m0-12.3h0m0-5.6h0m0 1.7h0m0-2h0m.1 .6h0m.1 2.4h0m0 22.6h0m.1-5.4h0m.1-6.9h0m0 2.2h0m.1-17h0m.1 21.3h0m0-7.5h0m.1 3.7h0m.1-1.4h0m.1-10.1h0m.2 .6h0m.1 10.3h0m0 13.1h0m.1-22.1h0m.1-8.3h0m.1 11.5h0m.3-8.4h0m0 .1h0m.1 4.8h0m0 9.9h0m.1-16h0m0 16.8h0m.1-12.4h0m.1-10.3h0m.1 7.5h0m0 2.7h0m.2 3.9h0m0 3.3h0m.1-.2h0m.2-5.6h0m0 4.2h0m.1-2.4h0m.2 2.5h0m.1-4.2h0m0 8.3h0m.2-7.9h0m.1 2.7h0m0-7.2h0m0 12h0m.1 5h0m0-13.7h0m.1-2.3h0m.1 16.7h0m0-15.5h0m.1-8h0m.1 22.8h0m.1-6.3h0m.1-4.1h0m0-12.1h0m.2 20.4h0m.2-14.7h0m0 .9h0m0 17.1h0m.1-27.9h0m.3 18.4h0m0-6.1h0m.2 8.4h0m.1-10.1h0m.1 21.1h0m.1-8h0m0-2.5h0m.1 8.3h0m.1-28.4h0m0 25.3h0m0-17.9h0m.1-6.1h0m0 7.1h0m.1 2h0m0 6.1h0m.1 5.5h0m.2-.8h0m.1 1.3h0m.1-4.8h0m0-5.7h0m.2 5.7h0m0-8.1h0m.1 14.2h0m0-9.9h0m.1 2.9h0m0-7.5h0m.1-7.6h0m.2 12h0m.1 8.4h0m0-18.3h0m.3 24.9h0m.1-5.1h0m0-1h0m0-13.8h0m.2-6.5h0m0-1.2h0m0 5.9h0m0 2.5h0m.1-7h0m.1 8.9h0m.1-13.8h0m.3 20.8h0m0 3.2h0m0-19.2h0m.1 14.8h0m.3 4h0m0-11.8h0m.1 3.1h0m.1 12.6h0m.1-21.4h0m.1 13.1h0m.2 7.4h0m.1-8.3h0m0 3h0m.4 8.7h0m.1-6.7h0m.1-10.6h0m.2 12.1h0m.1-19.2h0m.1 17h0m0-14.9h0m0 8.5h0m.1-10.1h0m0 13h0m.3-8.9h0m.2 2.1h0m.1-8.1h0m0 4h0m0 10.5h0m.1 3.2h0m0-12.2h0m0 1.7h0m0 0h0m0 .3h0m.1 13.6h0m0 4.5h0m.1-2.4h0m0-19.7h0m0 13.3h0m.2-10h0m0 4.7h0m0 3.3h0m.1-16.8h0m0 19.4h0m.1 8.8h0m.1-21.6h0m0 8.3h0m.1 2.5h0m0-6.2h0m0-5h0m.1 5.6h0m0 7.8h0m.1-11.5h0m0 17.1h0m0-8.8h0m.3-5.8h0m.1-3.9h0m0 9.2h0m0-11h0m.3 18.3h0m0-11.7h0m.1-9.1h0m0 25.1h0m.1-9.8h0m.4-10.9h0m.2-3.8h0m0 11.3h0m.1-8.3h0m0 17.4h0m0-12.1h0m.1 8.7h0m.1-19.9h0m0 24.2h0m0-22.1h0m.1 15.3h0m.1-20.8h0m.1 9.8h0m0 17.6h0m0-8.7h0m0-3.5h0m.1 7.3h0m0-8.8h0m.1 5.1h0m0 4.4h0m.2-.7h0m0-8.9h0m.1-4.1h0m0 8.5h0m0-9.7h0m.2 22.5h0m.2-25.5h0m0 12.5h0m.1 8.1h0m.1-5.2h0m.2 1.4h0m.1-12.4h0m0 .3h0m.1 9.9h0m.1 3.6h0m.1-9.1h0m0 18.5h0m.1-13.5h0m.1 11.3h0m.2-27.6h0m0 8.2h0m0 11.2h0m.1 13h0m0-12.9h0m.2 10.2h0m0-21.1h0m.1 6.7h0m.2 7.2h0m.1 1.3h0m.1-26.5h0m0 30h0m.1-10.1h0m.1-4.2h0m0 .1h0m.1-16.5h0m.2 9.5h0m0 2h0m0 .1h0m.5-13.1h0m.1 26.1h0m.2-16.4h0m.1 .4h0m.3 3.5h0m0-6.2h0m.1 15.5h0m.1-2.1h0m0-17.9h0m.1 13.7h0m.1 7.5h0m0-5.8h0m.2-.4h0m.1 8.5h0m0 5.3h0m0-8.5h0m.1-15h0m0 10.8h0m.1 6.1h0m.1 3.1h0m.6-11h0m0 2.8h0m.1 18.4h0m0-19.8h0m.1 4.6h0m0 6.2h0m.1-19.3h0m0 14.4h0m.1-11.5h0m.1 17.2h0m.1-7.8h0m.1 9.2h0m0-8.5h0m.3-11.2h0m.1 15.4h0m0 1.9h0m0 7.7h0m.1-3.9h0m0-11.6h0m.1-9.7h0m.1 19.4h0m.2-18h0m.2 15.3h0m.2-3.5h0m.1 15h0m.1-24.4h0m0 11.8h0m0-5.3h0m.2-3.7h0m0-.2h0m.1-2.7h0m.1 14.1h0m.1-5.6h0m.3-1.7h0m0 2.2h0m.1-12.8h0m0 19.6h0m.1-6.7h0m.1 5.9h0m0-16.6h0m.1 8.2h0m.1-15.3h0m0 7.4h0m.1-5h0m0 8h0m.2 1.8h0m.1 1.7h0m0 11.6h0m.1 1.8h0m.2-3.7h0m0-.2h0m.1-28.1h0m0 8.6h0m.2 7.1h0m0-1.3h0m.2 5.2h0m.2 .1h0m.1 3.6h0m0-10.6h0m.1 9.5h0m.1 10.8h0m.2-22.7h0m.1-.1h0m0 24.7h0m.1-8.5h0m0-.3h0m.1-19.2h0m.2 2.3h0m.1 7.7h0m0-5.9h0m0 12.4h0m.1 8.7h0m0-19.7h0m0-12.9h0m0 14.7h0m0-3.4h0m0 .2h0m.2 25.4h0m0-27.6h0m.2 21.9h0m.1-2.2h0m.4 2h0m.1-8.7h0m.2-8.6h0m0 8.8h0m.1-3.6h0m.1-.8h0m.1-10.1h0m.1 11.8h0m0-7.7h0m0 7.4h0m.1-5.2h0m.1 2h0m.1-8.1h0m0 15.3h0m.1-8.5h0m0 5h0m0 11.2h0m.1-5.9h0m.1-9.1h0m.1 13.5h0m0-20.4h0m.1 11.1h0m.2-1.5h0m.1-1.8h0m0 2.8h0m.3 11.2h0m0-10.7h0m.1 .6h0m.2-4h0m.2 11.6h0m.1 .2h0m0-.8h0m0-3.8h0m.1 7.2h0m.2-18.1h0m0 13.5h0m.2-11.9h0m.1-4.9h0m.1 14h0m.1-.6h0m.1-5.7h0m.1 5.2h0m0-4.9h0m.1 1.4h0m.3 4.9h0m0-9.3h0m.1 12h0m0 9h0m.1-17.6h0m0-6.1h0m.1 18.9h0m0-14.1h0m.2 10.5h0m0-16.3h0m0 2.3h0m.1 9.2h0m0-5.7h0m0 12.4h0m.2-2.8h0m0-5.2h0m.1-20.1h0m.2 23.6h0m0 2.4h0m.1-14.7h0m0-4.3h0m0 13.2h0m.1-8.4h0m0 7.9h0m.1-7.3h0m0-3.1h0m0 2h0m.1 2.7h0m0-.5h0m0 2.7h0m.2 8.8h0m0-5.7h0m.1 6.4h0m0-14.3h0m0 4.9h0m.1 10.1h0m.1-4h0m0-.4h0m.2 4h0m0 1.6h0m.2-14.6h0m.2-1.6h0m.1 14.9h0m0-7.2h0m.2 5.7h0m.1-4.5h0m0 1.7h0m.1-10.4h0m.3 10.5h0m0-12.8h0m.2 4h0m0 3.6h0m0 .9h0m0 3.9h0m0-8h0m.2 14.8h0m.1-12.3h0m.1 2.5h0m.1-.6h0m0-11.1h0m0 13.8h0m.1 13.3h0m.2-12.2h0m0-9.6h0m0 10.1h0m0-3h0m0-6.4h0m.3 10.3h0m.2-2h0m0-10.2h0m0 8.1h0m.1 1.4h0m0-2.7h0m0 1.2h0m.1 6.3h0m0-12.9h0m.2-4.6h0m0-2.8h0m.1 9.7h0m0 5.7h0m.1-2.1h0m.1 10.6h0m.1-21.5h0m.2 18.8h0m0-6.1h0m0-6.1h0m.1 13h0m.1-15.2h0m.1 7.3h0m0 2.4h0m.1-14.1h0m0 11.8h0m.1-.3h0m0-18.8h0m.2 14.9h0m.2 9.7h0m.1 .6h0m0-17.9h0m.1 6h0m0 1.2h0m.2 12.4h0m0-8.5h0m.1 7h0m0-21.4h0m.1 1.7h0m0 7.7h0m.1 15.3h0m0-26.9h0m0 22h0m.1 1.2h0m.1-20.5h0m.1 21.5h0m.1-16.4h0m.1 16.6h0m.1-9h0m.1-12.8h0m0 10.5h0m.2-8.3h0m.1 1.6h0m0 18.3h0m0-13.9h0m.2 21.7h0m.1-3.5h0m.1 2.5h0m0-7h0m0 .1h0m.2-18.1h0m.1 16.5h0m.2-10.2h0m.2 8.4h0m.1-12.6h0m.2 6.1h0m.1-16.1h0m0 21.2h0m.1 8.3h0m0-10.9h0m.3-9.9h0m0 15.4h0m.1-24.7h0m0 24.9h0m.2-6.5h0m.1-2.4h0m0 14.1h0m.1-3.8h0m.1-19.3h0m.3 18.2h0m0 5.8h0m0-1.7h0m.2-22.7h0m.2 10.3h0m.1 9.3h0m0 .5h0m0 2.3h0m.1-11.7h0m.1-6.9h0m.1 19.1h0m0-26h0m.1 22.4h0m.1-17.6h0m.2-1.4h0m.1 17.1h0m0 7.5h0m.2-24h0m0 17.7h0m0-17.5h0m0 14.5h0m.1 2.1h0m0-15.7h0m0 13h0m0-5.6h0m.1-9.6h0m.1-9.4h0m.1 15.1h0m.1-1.4h0m.1 10.7h0m.1 6.8h0m.1-10.5h0m0 2.1h0m.1-2.1h0m0 4.9h0m.1-.4h0m.2-.6h0m.2 2.7h0m0-11h0m.1-.1h0m0 2.7h0m0 4.6h0m.1-3.8h0m0 5.2h0m0 4.1h0m.1-2.4h0m.1 6.5h0m0-12.6h0m0-10h0m.1 5.1h0m0 4.5h0m.1 2.6h0m.2 12.3h0m0-6.9h0m.1-13.7h0m0-8.7h0m.1 4.9h0m.4 18.2h0m.1 2.5h0m0-7.9h0m0 8.6h0m.2-12.8h0m0 14.7h0m.1-16.2h0m.1 1.3h0m0 .5h0m.2-4.9h0m0 8.6h0m.1-5.1h0m0-.8h0m.1 7h0m.1-15h0m.1 4.2h0m0 .3h0m.2 5.2h0m0-8.8h0m.1 19.6h0m.1-1.6h0m.1-6h0m.1-5.9h0m0 15.1h0m.2-19.4h0m0 5.5h0m.2 1.1h0m.1 6.9h0m.1 6.9h0m.2-27.7h0m.2 21h0m0-12.1h0m.1 6h0m.3-13.3h0m.3 15.4h0m.1-12.2h0m.2 8.4h0m0-3.6h0m.1 2.7h0m.1-5h0m0 8.6h0m.1 2h0m0-6.1h0m.1 19.2h0m.1-14.3h0m.2-1.6h0m0-16.9h0m.1 16.5h0m.1 4.5h0m.1-10.5h0m.1-3.6h0m0 10.1h0m.3 1.4h0m.1 6.6h0m.2-2.9h0m0 4.1h0m0-2.7h0m0-14.6h0m.1 17.9h0m0-20.7h0m.2-.3h0m.3 5.6h0m.1-4.4h0m0-1h0m0 18.6h0m0-5.8h0m0-6.1h0m.1 11.5h0m.1-12.2h0m.1 10.5h0m.1 6.5h0m0-9.2h0m.1-8.9h0m0 8.1h0m.1-8.3h0m.4-4.7h0m0 5.1h0m0 18h0m.1 6.1h0m.1-23.1h0m.1 20h0m0-9.4h0m.2-9.8h0m0 13.1h0m.1-19.7h0m0-2.1h0m.1 9.3h0m0 4.1h0m0-1.5h0m.1 10.1h0m0-4.7h0m0-1.1h0m0-2.9h0m.1 .7h0m0 5.1h0m.2-12.3h0m.3-4.6h0m.3 17.7h0m.1 2.4h0m0 1.5h0m.1-11.3h0m0 8.8h0m.1-10.7h0m.1-9.9h0m.2 22.8h0m.1 2.3h0m0-22.1h0m.1 18h0m0-15.2h0m.2-1.5h0m.1 12.8h0m.1-15.6h0m.1 3h0m.1-.7h0m.1-1.6h0m.1 19.4h0m0-.4h0m0-4.1h0m0-15.9h0m.5 6.3h0m.2 13.7h0m.1 5.5h0m.2-4.4h0m0-20.3h0m0-1.1h0m.1 12.8h0m0-8h0m0-1.2h0m.2 2.6h0m0-2.4h0m.1 17.6h0m.4-12h0m0 5.9h0m0 8h0m.2-18.3h0m.2 9.9h0m.2-6.2h0m.2 3.4h0m0 4.8h0m0-6.1h0m.2 11.6h0m.1-29.1h0m0 5.5h0m.1 23.4h0m.2-1.2h0m.1-5.7h0m0 1h0m.1-3.1h0m0 5.3h0m.2-1.4h0m.3-5.6h0m0 3.8h0m.3-2.7h0m.2-12.3h0m.2 9.3h0m0-6.9h0m.1 5.5h0m0 5.9h0m0 8.7h0m.1 5.1h0m0-21h0m.1-6.5h0m.1 7.3h0m0 5h0m.1 3.6h0m.1-8.4h0m0 10.9h0m.1-2.6h0m.1-7.1h0m0-15.2h0m0 5.3h0m.1 14.6h0m0 18.6h0m0-18.7h0m.1 10.6h0m.1-3.2h0m.1 1.5h0m0-20.6h0m0 4.8h0m.1-8.2h0m.1-.4h0m.1 17.3h0m0-.4h0m.3 7.3h0m.2-15.5h0m.2 3.2h0m.1 13.4h0m0-2.2h0m0-12.9h0m0 4.6h0m.2 1h0m.1-7.6h0m.1-7.5h0m.2 15.9h0m.3-2.5h0m.1-5.5h0m.4 8.2h0m0 3.8h0m.2-12.2h0m0-9.5h0m.1 2.2h0m.1-1.8h0m.1 21.6h0m.1-9.3h0m0-.1h0m.1 18.1h0m0-14h0m.1-13.6h0m.1 18.8h0m.1-9.5h0m0-.3h0m.1-8h0m0 23.7h0m.1-8.7h0m0-13.2h0m.2 10.8h0m0 9.3h0m0-8.5h0m0 .8h0m.1-8.3h0m.1 4h0m.1-10.4h0m0 3.1h0m0 18.2h0m.2 2.1h0m.2-13.9h0m0 6.6h0m0-12.9h0m.1 2.9h0m0 1.8h0m0-2.4h0m0 4.7h0m.1 5.3h0m0 1.9h0m0-10.7h0m.1 10.1h0m0 3.5h0m.1 2.9h0m0 4.3h0m.4-27.4h0m.3 2.8h0m0 13.2h0m.3-15.9h0m0 8.5h0m0 2.8h0m.1-8.7h0m.1 12.7h0m0 .4h0m.2-13.7h0m0 13.6h0m.1 2.6h0m.3-11.1h0m.1-2.4h0m0 9.4h0m.2-1.6h0m0-6.6h0m0-7.3h0m.1 29.7h0m0-30.8h0m0 2.6h0m.2 26.5h0m.4-4.9h0m.1-17.1h0m.1-3.9h0m0 11.7h0m.3 8.2h0m.1-14.4h0m.1 14.6h0m0-19.1h0m0 9.6h0m.1-.1h0m.2 8.2h0m0-20h0m0 26.8h0m.3-11.5h0m.1 10.4h0m0-2.1h0m0 1.7h0m0-2.8h0m.1-19.6h0m0 8.5h0m.1-4.1h0m.2 10.5h0m.1-11.6h0m.2 6.8h0m.4-6.6h0m.2 15.9h0m0-7h0m.2-6.4h0m0 6.9h0m0-1.1h0m.1-7.7h0m0 1.9h0m.1 5h0m0-3.1h0m.1 6.7h0m0-11h0m0-.9h0m.2-3.1h0m.2-13.4h0m.2 16.8h0m.1-15.4h0m.1 30h0m.1-9.6h0m0 7.3h0m.1-18.5h0m0 18.4h0m.1-5.3h0m.4 12.4h0m.1-25.4h0m0 3.1h0m.1 22h0m.3-9.1h0m.1 1.8h0m.1-9.6h0m0 9.6h0m.2-5.5h0m.1-3.2h0m0 10.1h0m.2 3.4h0m.3-11h0m.1 10.7h0m0-1.8h0m0-3h0m.1-11.5h0m0 11.2h0m.2-4.3h0m0 16.1h0m.2-8h0m.1-15h0m.1-4.9h0m0 14.4h0m0-15.2h0m.1 19.6h0m0-3.5h0m.1 1.5h0m0-13.8h0m.1 16.7h0m0 3.6h0m.2-22h0m.1 27.1h0m0-5.6h0m.1-23.8h0m0 18.5h0m0-8.2h0m0 4h0m.2 3h0m.2 3.6h0m0-18.9h0m0 15.1h0m.2-7.6h0m.1-1.5h0m0 7.3h0m.1-1h0m.1-10.1h0m.4 3.4h0m.1 5.2h0m.1-5.3h0m.2-4.7h0m0-5h0m.3-7.4h0m.1 12.2h0m.1 12.4h0m.1-.3h0m.1 13.3h0m0-12.9h0m.1 6h0m0-22.1h0m.4 24.8h0m.3-10.7h0m0 13.6h0m.1-25.5h0m0 19.3h0m0-17h0m.2 18.3h0m.2-2.1h0m0-17.3h0m.1 6.8h0m0-9.9h0m.1 20.9h0m.1-7.7h0m0-16.5h0m0 25.2h0m0 1.5h0m.3 4.1h0m0-19.7h0m0 .9h0m.1-1.2h0m.1-4.8h0m0 3.8h0m.1-13.1h0m.2 28.7h0m.1-2.5h0m.1-.5h0m0-4.9h0m0 6.1h0m.1 1.3h0m.1 5.7h0m.1-7.7h0m.2-19.5h0m0 7.3h0m.1 9.2h0m0-6.8h0m0 5.6h0m.1-1.7h0m0 4.3h0m.1-10.1h0m.2-5h0m.1-3.9h0m.1-.2h0m0 18.9h0m.2 1.8h0m0 .9h0m.1-.2h0m.2-9h0m.1-21.2h0m.1 27.7h0m0-1h0m0-13h0m.1 14.9h0m.2-18h0m.1-5.1h0m.2 28.7h0m.3-17.5h0m0 4h0m.2-9.1h0m.1 13.6h0m0-2.9h0m0-9.6h0m.2 3.1h0m.1 1h0m0-3.4h0m.1 22.5h0m0-2.7h0m.1-28.1h0m0 22h0m.1-8.7h0m.1-4.3h0m0 17.3h0m0-2.1h0m0-1.3h0m0-5.5h0m.1-10h0m.1 6h0m.1 11.9h0m0-19.6h0m0 1.9h0m.1 20.4h0m0-20.4h0m.2 24.7h0m.2-11h0m.1 3.6h0m0-22.4h0m.2 9.8h0m.1 6.4h0m.1-2.9h0m.2 .8h0m0-4.8h0m.1-4.6h0m.1 .2h0m0 0h0m.1 19.5h0m.1 1.5h0m0 .4h0m.1-8.5h0m.1-1.9h0m0 1.6h0m.1-6.4h0m.1-5.1h0m.1 3.2h0m0 5.9h0m0-11.1h0m0 14.3h0m.1-4.2h0m.1 8h0m0-.1h0m.4-21h0m.1 8.8h0m.2 13.4h0m.1-7.2h0m.1 3.9h0m.3-5.6h0m0-1h0m0 15.2h0m.1-20.7h0m.1-14.5h0m0 21.4h0m0-11.8h0m0 14.6h0m.1-2.1h0m0 2.8h0m0 .2h0m.1-.3h0m0 .5h0m.1-7.5h0m.1-9.9h0m0 23.3h0m0-20.5h0m.2 25.6h0m.2-13.9h0m.1-16.7h0m0 23.4h0m.1-27.4h0m.2 17.9h0m.2 5.7h0m0-7.2h0m.1-1.3h0m0 14.8h0m.1-11h0m.2 .5h0m.1 6.6h0m0-17.2h0m.2 9.8h0m.1 12h0m.1-7.1h0m0-19.8h0m.2 16.8h0m.3-7.7h0m0-.5h0m0 15.7h0m.1-12h0m0 11.6h0m.3-17.5h0m.1 .1h0m0 8h0m0-3.2h0m.3 6.4h0m0-1.7h0m0-3.1h0m.2 5.3h0m.2-.7h0m.3-8.9h0m.1 12.4h0m0 3.4h0m.1 2.7h0m.2-14.8h0m.1-.4h0m.2 4.7h0m.1 8.7h0m0-6.3h0m.3 .5h0m0 8.3h0m0-20.4h0m.1-13.3h0m0 25.4h0m.1 5.2h0m.1 1.4h0m.1-13.8h0m.1 14h0m0 .4h0m.1-9.5h0m0-9.3h0m.1 11.5h0m0-7.4h0m.3 11.4h0m.2 .9h0m.1-11.9h0m0-4.9h0m.1 17.5h0m0-10.9h0m0-13.8h0m.1 16.5h0m.1 10.4h0m.1-1.5h0m0-1.1h0m0-10h0m.1 7.7h0m0-17.6h0m.1 15.5h0m0-11.9h0m0 18.9h0m0-1.9h0m.1-11.6h0m.1 10.4h0m0 .9h0m.1-4.4h0m.2-13.3h0m.1 13.9h0m0-9h0m.1 6h0m.1-13.8h0m.2 12.6h0m0-13.9h0m.1 5h0m0-4.6h0m.3 3.6h0m.1-.2h0m.1 21.8h0m0-8.5h0m0 0h0m.1 1.9h0m.2-5.2h0m.1 2.4h0m0 9.3h0m.1-17h0m.1 2h0m0-9.4h0m.3 8.5h0m.1-2.1h0m.1-6h0m.2-1.1h0m0-7.9h0m.3 6.9h0m.1 22.8h0m.1-17.7h0m0 15.1h0m.1-22.2h0m.2 10.7h0m0 7.6h0m.1-9.4h0m.1 1.4h0m0-11.2h0m0 10.8h0m.1-1h0m0 14.1h0m0-2.6h0m.1-18.2h0m.2 10h0m.2 5h0m.3-5.6h0m0 15.5h0m0-22h0m0 2.2h0m.1 14.2h0m.1-5.5h0m.1 1.6h0m0-4.5h0m.1 5.6h0m.1 3.7h0m.1-2.7h0m0-2.8h0m.1-.6h0m0 10.7h0m.2 2.4h0m0-11h0m.1 1.4h0m0-13h0m.1-7h0m0 26.1h0m0-13h0m.1 10.2h0m.2-14.6h0m.1 7.7h0m0 10.4h0m.1-11.5h0m.1-3.8h0m.1 1.5h0m0-6.7h0m.2 10.3h0m.3 6.7h0m0-12.1h0m.2 6.3h0m0 4.8h0m.1-8.3h0m0 21.4h0m.1-21.7h0m.1-2h0m.2 17.3h0m.3-11.2h0m0 6.1h0m.2 10.4h0m0-29h0m0 4.1h0m.1-6.9h0m.2 2.9h0m.2 19.9h0m0-3.1h0m0-14.3h0m.1 5.4h0m.1-4h0m.1 21.7h0m0-22.6h0m0 .6h0m.2 5.2h0m.1 13.8h0m.1-9.9h0m0-6.5h0m0 15.1h0m0 .2h0m.1-13.7h0m.2 7.2h0m.1-1.4h0m0 9.6h0m.3-4.4h0m.1 3h0m.1 8.8h0m.3-16.5h0m.1 5.5h0m0-2.3h0m.1-6.9h0m.1-2h0m0-5.7h0m.1-2.6h0m.1 8.8h0m.1 6.5h0m0 10.4h0m0-2.6h0m0-23.3h0m0-5.3h0m.1 20h0m0-6h0m.1 10.3h0m.1-10.2h0m0-15.7h0m0 21.9h0m0-10.6h0m.2 15.5h0m.2 4.4h0m.1-23.2h0m.1 17.9h0m0 6.2h0m.1-2.8h0m.1-15.4h0m.1 6.6h0m0 8.8h0m.1-20h0m.1 4.4h0m.1 11.1h0m.1 2.9h0m.2-13.6h0m0-9.7h0m0 7.8h0m.1-5.6h0m.1 15.4h0m0 7.5h0m.5-13.5h0m0 11.2h0m.1-17.2h0m0 13.8h0m0-2.7h0m.1 .2h0m0 1.3h0m.2 2h0m0-24.1h0m.1 15.8h0m0 16.6h0m.1-36.1h0m0 20.2h0m0-5.2h0m.1 13.9h0m.2-17.2h0m0-1.4h0m0 17.6h0m0-5.8h0m.1 15.8h0m.1-13.9h0m0-5.5h0m.1 12.1h0m.2-21.2h0m.1 5.4h0m0 5.5h0m.1-2.5h0m0 9.5h0m0-17.3h0m.1-2.1h0m.1 4.4h0m0 .6h0m.1 12.2h0m.3 11.7h0m0-15h0m.1 .1h0m0 .7h0m0 3.4h0m.4-7.8h0m.1 16.5h0m.1-15.1h0m.1 .7h0m.1 1.1h0m.2-6.6h0m.4 11.2h0m0-3.8h0m0-1.7h0m0 9.7h0m.2-16.9h0m0 9.2h0m.1-1.1h0m.1-13.8h0m0 8h0m.2 1.6h0m0-15.3h0m0 15.6h0m.1 9.8h0m0-9.5h0m0-7.7h0m.1 4.1h0m0 10.7h0m.1-4.1h0m.1-2.8h0m0-11.7h0m.2-1.5h0m0 34.5h0m.1-24.6h0m.1 14.9h0m.2-15.1h0m0 3.2h0m.1-3.9h0m.1 .2h0m.2 .8h0m.1 5h0m.1-16h0m0 4.7h0m.1 1.8h0m.3 17h0m0-14.7h0m.2 1.1h0m.1 4.9h0m0-2.9h0m.1 10.5h0m.1-7.7h0m0 8h0m0-7.7h0m0 2.9h0m.2-5.6h0m0-2.2h0m0 5.6h0m.2 2.7h0m0 1.3h0m.1-14.1h0m.1 9.6h0m.2-10.2h0m0 1.8h0m.1 6.8h0m.4 8.4h0m.2-15.5h0m.2 6h0m0 3.5h0m.1 6.4h0m.2 3.1h0m.1-15.7h0m0 6.3h0m0-4.1h0m0-1.5h0m0 13.1h0m.1-18.9h0m0 1.4h0m0 6h0m0 6.2h0m.3 2.9h0m0-8.2h0m.2 11.3h0m0-2.9h0m0-14.5h0m.1 19.2h0m.1-10h0m0-1.6h0m.1-9.1h0m.2 7.2h0m.1 10.7h0m.5-.1h0m0-3.5h0m.3-14.2h0m.2 5.6h0m0 20.7h0m.2 .7h0m0-22.8h0m0 7.6h0m.1-5.3h0m.1 6.2h0m.1-18.9h0m.1 24.6h0m.1-18.2h0m.1 1.5h0m.2 .4h0m0 3.3h0m.3 17.4h0m.2 2h0m0-18.6h0m0 6.2h0m.1 1.7h0m.1-4.5h0m.1 17.1h0m.1-35.6h0m.2 25.7h0m0-4.1h0m0-17.9h0m.1 4.1h0m.2 24.1h0m6-42.8h0m0-15.3h0m.1-2.5h0m.1 9.3h0m.5-10.1h0m.2 18.2h0m.1-22.6h0m.1 25.4h0m0-10.7h0m.1 .5h0m0-11.2h0m.1 17.7h0m.1-2.4h0m.2 6.8h0m.3-23.8h0m.3 26.3h0m.1-9.4h0m.1 6.1h0m0-3.6h0m.1 .1h0m.2-13.9h0m.1 26.3h0m0-1h0m.4-16.7h0m.1-8.7h0m0 4.3h0m.1-4.2h0m0 17.2h0m.2-7.3h0m.1-3.2h0m.1 5.8h0m.1-7.3h0m.2 15.3h0m.1-11.6h0m.1-.1h0m.1 13.4h0m0 1h0m.1-16.7h0m0-4.2h0m0 5.3h0m.5-6.4h0m0 24h0m.1-11.2h0m0 1.2h0m.1-11.5h0m0 23.3h0m.1-13.7h0m.1 7.9h0m0-21h0m.2 .2h0m.1 16.9h0m.1 6.2h0m.1-14.1h0m.1-7.8h0m0 13.8h0m0 1.3h0m.1-6.7h0m0-7.3h0m0 13.7h0m0-11h0m0 12.1h0m.2 4.9h0m0-4.6h0m.1 16h0m0-24.3h0m0-1.6h0m.1 1.3h0m.1 1.2h0m0 20h0m.2-17.3h0m.1 8.6h0m0-8.2h0m.1 9.3h0m0-8.3h0m0-.2h0m.1 .1h0m.2-8.1h0m0-1.6h0m0 15h0m.1-12.9h0m.1 17.4h0m.5-6.3h0m0 15.1h0m0-9h0m.1-2.2h0m0-10.1h0m.1-5.9h0m0 23.3h0m.4-8.5h0m.2-11.3h0m.2 21.7h0m.1 5.1h0m.1-21.7h0m0 13.4h0m.3-15.9h0m.1 3.5h0m0 9.9h0m.1-15.7h0m.1 21.3h0m.1-24h0m0 .9h0m.1-5h0m0 16.7h0m.1-6h0m0-4.1h0m.2-3.8h0m.3 19.5h0m.1-19.8h0m.1 13.8h0m0-.6h0m0-9.9h0m0-12h0m.2 7.1h0m.1 5.4h0m.1 4.6h0m.2-1h0m.1-21.1h0m0 28.2h0m.3-27.6h0m.1 5.9h0m.2 .3h0m0 23.4h0m0-28.3h0m.1 17.7h0m.1 1.3h0m.4-7.6h0m.1 3.1h0m0-1.4h0m0 12.9h0m0-4.8h0m.1 9.9h0m0-24.3h0m.1 .6h0m0 3.9h0m.1 24.2h0m.1-9.3h0m.2-1.9h0m.1-17.9h0m0 8.9h0m.5 16.9h0m.1-10.6h0m.3-2.9h0m.2 7.4h0m0-7.1h0m.1 .2h0m0-6.2h0m.1 8.1h0m.2 14.5h0m0-6.1h0m0-13.8h0m.1 14.9h0m.2-7.1h0m.1 1.7h0m.1-6.8h0m.3 9.2h0m.3-10h0m.1 11.5h0m0-8.5h0m0-15.5h0m.1 14.3h0m.2 2.7h0m0 9.2h0m.1-3.8h0m.2-6h0m.3-4.4h0m.2-1.7h0m.3 7.3h0m.1-10.2h0m0 2.4h0m0 24.2h0m.2-23.4h0m.1-6.8h0m.1 5.9h0m0-4.3h0m0 13.1h0m.2-10.8h0m0 .1h0m.2-9.2h0m.2 13.7h0m0 2.1h0m.1 7.5h0m.1-28.3h0m0 22.7h0m.2 6.4h0m0-.7h0m.1 1.7h0m.3-19.5h0m0 8.3h0m0-12.9h0m.1 29.2h0m0-23.8h0m.1 20.9h0m.1-6.2h0m0-10.3h0m.1 6.6h0m.2-3.2h0m0-6.4h0m.2 9.9h0m0 1.4h0m.1-1h0m.1-14h0m0 1.7h0m.3 5.9h0m0-16.4h0m.2 17.4h0m0-3.7h0m0 1.1h0m0-.1h0m.1 1.8h0m.1 5h0m.2-2.6h0m.1-4.2h0m.1 6.8h0m0-14h0m.1 15.5h0m.2 11.4h0m0-2.4h0m.1-25.9h0m0 13.3h0m.1 8.6h0m.1-16h0m0 8.1h0m.1 13.6h0m.3-15.4h0m.1-2.9h0m.1 28.1h0m.2-22.5h0m0 3.9h0m.1-.3h0m.2 2h0m0 5.9h0m.1-14.8h0m.2 18h0m0 9h0m.4-22.5h0m.1 11.1h0m0-18h0m0 19h0m.1-15.3h0m.1 8.2h0m.2-1.3h0m0 5.1h0m.1-5.1h0m0 14.5h0m.2-21.4h0m0-6.1h0m0 22.5h0m.1-20.7h0m.3 7.3h0m.2-15.2h0m0 26.2h0m.1 2.8h0m0-14.3h0m0 1.1h0m0 16.5h0m.1-5.1h0m0-6.5h0m.1-9.5h0m0 11.5h0m0-12.4h0m.1 17.1h0m.3 5.2h0m.2-17.6h0m.3 8.4h0m.2-5.3h0m.2-12.7h0m0-7.9h0m0 14.5h0m0 16.2h0m.1-2.3h0m.3-19.9h0m.2-1.5h0m0-1h0m.1-1.3h0m.3 10.7h0m0 6.2h0m.1-8.1h0m0 3.5h0m.1-18.9h0m.3 8.5h0m.1-2.6h0m.3 4.4h0m.1 10.3h0m.2 9.9h0m0-6.6h0m0 2.5h0m.1-8h0m.1 2.7h0m.1 1.7h0m.1-6.2h0m.1 5.4h0m.2-7.6h0m.3 19h0m0 6.4h0m0-21.9h0m.2 5.4h0m0 5.4h0m.5-3.3h0m0 2.3h0m0-2h0m.1 1.9h0m0-.6h0m0 8.6h0m.1-12.9h0m.2 5.6h0m0-14.7h0m.3 16.7h0m.1 6.2h0m.1-8.7h0m.1 .5h0m.1-5h0m0 1.4h0m0 7.2h0m.1-7.5h0m0 5.8h0m.2 8.1h0m.1-15.6h0m0 19h0m.5-7.6h0m.1-4.8h0m.1 1h0m.1-7.5h0m0-22.1h0m.1 19.7h0m.3-7.4h0m.3-1.5h0m.1 10.4h0m.3 .8h0m0-10.9h0m0 19.1h0m.2-2.2h0m.1-18.5h0m.2 20.2h0m.1-12.7h0m.3 .9h0m0 6.7h0m0 2.7h0m.2-4.4h0m0-22.4h0m.1 27.3h0m.1-8.8h0m.1-16.1h0m0 23.6h0m.1-9.9h0m0-.6h0m.2 1.8h0m.1 1.6h0m.1 9.7h0m.1-25.5h0m.3-2.2h0m.2 6.6h0m0-14.2h0m.1 6.6h0m0 9h0m.3 10h0m.1-4.7h0m.2-8.7h0m.1 6.6h0m.1 12.8h0m.2-3.7h0m.1 2.8h0m.1-2.8h0m.1-14.5h0m.1 12.5h0m.2-11.6h0m.2-10.5h0m0 11.3h0m.1 3.9h0m.1 8.5h0m.2-7.5h0m0 2.8h0m0-1.4h0m.1 3.9h0m0-3h0m.2-21.6h0m0 9h0m0 3.6h0m.3 7.7h0m.1 7.2h0m0-12.8h0m.1-8h0m.1 16.9h0m.1-11.2h0m.1 4.9h0m0 1.6h0m.1 6.7h0m.1-6.4h0m0-9.1h0m.2 12.8h0m.2 2.8h0m.1-3h0m.3 2.7h0m0-.9h0m.1-1.6h0m.1-6.5h0m.1-11.3h0m.1 4.7h0m0 4.8h0m0 7.5h0m.4-5.8h0m.1-11.8h0m.1 6.6h0m.1 17.4h0m0-20.1h0m.1-18.3h0m0 28.1h0m0-25.3h0m.1 21.4h0m0-6.1h0m0 5.5h0m.1-22.6h0m0 6h0m.1 16.6h0m0 6.5h0m.1-26.7h0m.1 12.3h0m0-.9h0m.1-10.8h0m.1 4.7h0m0 6.3h0m0-6.1h0m.1-1.7h0m.1 15.8h0m.1-11.4h0m.1 12.4h0m.4-13.9h0m.1-1.3h0m.1 5h0m.2 6.3h0m.1 .8h0m0-9.9h0m.1-12h0m0 6.8h0m.2-3.3h0m0 8.8h0m.1 15.3h0m.1-15.7h0m.1 4.2h0m.2-14.5h0m.1 26.3h0m0-8.3h0m.2 8.7h0m.1-21.8h0m.1-4.7h0m.3 2.9h0m.3 17.4h0m0-17.2h0m0 23.7h0m0-23.7h0m.2 12.6h0m.2-5.4h0m0 3h0m0 11.2h0m0-16.8h0m0 7.6h0m.2 10.2h0m.1-13.9h0m.2 14.4h0m.1-9.3h0m.1 22.3h0m0-19.2h0m.2 2.7h0m.2-2.9h0m0 10.4h0m0-11.7h0m.1 11.7h0m.1-14.7h0m0 17.6h0m.2-4.5h0m.1-9.6h0m0 10.4h0m.2 6.9h0m.1-9.6h0m0 11.6h0m.2-18.5h0m.2 15.9h0m.3-29.1h0m.1 15.9h0m.3 7.8h0m.4-3.9h0m.1-2.1h0m0-9.6h0m.2 15.2h0m0-6.8h0m.1 11.7h0m.2-2h0m0-3.3h0m.3-11.9h0m0 15.8h0m.1-1.1h0m0 .3h0m0-9.2h0m.2-10.6h0m.4 22.2h0m0-10.5h0m.1 14h0m.1 4.7h0m.2-17.9h0m0 13.1h0m.3-10.8h0m0 .9h0m0 5.1h0m.1-7.2h0m.2 8.2h0m.1-2.6h0m0-10.5h0m.1 23h0m0-10.5h0m.3-12.7h0m.2 14.2h0m0-3.2h0m.2 9.3h0m.1-20.6h0m.4 2.4h0m.3-4.4h0m0 .1h0m.1 15.8h0m.1-8.8h0m0-2.4h0m.1 6.1h0m.2 2.9h0m.2-25.6h0m.1 22.2h0m0-.4h0m.1-.5h0m.1-16.4h0m0 11.9h0m.1-7.3h0m0-3.5h0m.1 8.8h0m.1-2.9h0m.1 3.9h0m.1 7.3h0m0-18.2h0m0 9.8h0m0 1.9h0m.3 2.4h0m0 10.5h0m0-32.5h0m0 8h0m.2 11.5h0m.1-1h0m.1 .5h0m.1 .7h0m.2-12.2h0m0 26.9h0m0-21.4h0m.2 12.1h0m.1-4.7h0m.1 9.6h0m0-1h0m.3 1.3h0m.1-5.6h0m0-7.2h0m.1 16.3h0m.1-5.3h0m.2 3.9h0m0 10.2h0m.1-24.8h0m.1 .6h0m0 17.2h0m.1-14.3h0m.1 21.1h0m.3 5.2h0m0-3.7h0m.1 2.9h0m.2-12.4h0m.2 1h0m0 17.4h0m.1-10.2h0m.1-7.1h0m0 4.1h0m.4 16.6h0m.2-26.4h0m0 3.9h0m.1-2.4h0m.1 7.9h0m.1 16.4h0m.2-14.4h0m0 2.7h0m.1-8.7h0m0 2.1h0m.1 2.5h0m.1 14.1h0m0-1.5h0m.2-19.6h0m.1-5.7h0m0 9.9h0m.2 7.3h0m.2-10.6h0m0-3.3h0m.3 18.1h0m.3 .6h0m.1 1.5h0m0-13.4h0m.3 1.5h0m0 7.1h0m.1-9.5h0m.2 12.8h0m.2-20.3h0m38.5 1.7h0m.1 1h0m0 12.2h0m0 .3h0m0-15.1h0m.1 5.5h0m.2-5.3h0m.1 2.9h0m.1-5.9h0m.1-.8h0m.2-.2h0m0-9.2h0m0 15.4h0m.2 11.9h0m.1-29h0m.2 2.8h0m0 3.8h0m0-4.1h0m.1-7.8h0m.1 6.9h0m.1-6.5h0m.3 7h0m.3-6.4h0m.1-11.2h0m.2 12.4h0m.1 17.5h0m.1-2.7h0m0-7.5h0m0 15.8h0m.3-27.1h0m.3 26.4h0m.1-16.9h0m.1 13.5h0m.1 1.1h0m.1-13.5h0m.1-18.1h0m.4 22.9h0m.2-.4h0m.1-5h0m.3 16.2h0m.3-6.2h0m0-5.5h0m0-.7h0m.1-16.2h0m.3 11h0m.1-2.8h0m.1-6.3h0m0 23.9h0m.2-7.9h0m.2 .8h0m0-5.7h0m0-3.3h0m.2 12.7h0m.1-1.7h0m.1-12.9h0m.3 7.2h0m0 13.1h0m.1-6h0m0-23h0m.1 12.7h0m0 3.9h0m.1-3.1h0m0 8.5h0m.3-25.1h0m.1 29.2h0m.1-3.3h0m.1-17.3h0m0 32.4h0m.1-39h0m0 17.2h0m.1 9.8h0m.1-5.2h0m.2-12.8h0m.1 14.9h0m.1-4.4h0m.3 6.5h0m0 4.6h0m.2-9.5h0m.1 .6h0m.1-18.4h0m.1 14.4h0m0 8.2h0m.2 2.2h0m.1-17.1h0m0 19.5h0m0-10.6h0m.1-3.2h0m.3 14.6h0m0-23.4h0m0 10.3h0m.1-9h0m.1 12.4h0m.2-13h0m0 25.5h0m.1-15.8h0m.4-8.4h0m.1 8.9h0m.1 18.1h0m.1-28.8h0m.6-3h0m0 23.1h0m.1-11.3h0m.2 12.8h0m0-5h0m.2-7h0m.1 5.7h0m.1-6.7h0m.2 12.3h0m.4-8.7h0m0-6.6h0m.1 2.2h0m0 16.4h0m.2-16.2h0m0 6.9h0m.4 13.8h0m0-6.4h0m.1-.5h0m0-3.5h0m0-17.1h0m.2-1.9h0m.4 27.4h0m.4 1.6h0m.1-26.3h0m.2 9.4h0m.2 15.3h0m.1-20.3h0m.2 13.2h0m0 8.7h0m.1 4.5h0m.1-26.2h0m.1 31.6h0m.2-13.3h0m.1-7.8h0m.3-8.7h0m0 17.3h0m.1 8.6h0m.3-16.5h0m0 16.2h0m.2-10.5h0m0-6.6h0m.3 6.2h0m.1-5.9h0m.1 6.9h0m0 0h0m.1-1.7h0m0-8.2h0m0 14.6h0m.1-15.5h0m0 2.5h0m.1 5.2h0m.4 22.2h0m0-30.3h0m.1 8.8h0m0 .3h0m.2 1.6h0m0-3.4h0m0 4.8h0m.2-.2h0m.3-17.9h0m0 4h0m0 16.3h0m.2-19h0m.1-6.6h0m0 17.4h0m0-6h0m.1 10.7h0m0 1.9h0m.1-20.8h0m.1-6.3h0m.1 8.6h0m0 16.7h0m0-12h0m0 .5h0m.2-5h0m0 2.5h0m.2 4.4h0m0 12.4h0m0-8.4h0m.2-12h0m0 20.2h0m.1-12.6h0m.2-22.5h0m.1 31.2h0m0-2.6h0m.2 9.3h0m.1-9.2h0m0-8.8h0m0 16.6h0m.1-14.5h0m0-2.3h0m.1 13.5h0m0-21.8h0m0 16h0m0-18.4h0m.1 1.9h0m.1 30.4h0m0-28.6h0m.1-2.9h0m.1 8.7h0m.2 5.3h0m.1 5.1h0m.1-6.9h0m0 4.4h0m.1 7.3h0m.1-17.6h0m.1-2.1h0m0-4.4h0m.1 9.7h0m.1-3.9h0m.1-3.8h0m0 11.8h0m.1 16.3h0m.1-19.6h0m.1-.2h0m.2 15.2h0m.2-13.3h0m.1 1.7h0m.1-1.5h0m.1 19.2h0m0-18.3h0m0 .2h0m.4-7.9h0m.1 1.7h0m.1 9.7h0m.3-3.5h0m0 8.9h0m.2-3.4h0m0 1.9h0m.1-8.1h0m.2 4.9h0m.1-17.4h0m.2 25.1h0m0 2.4h0m0-12.9h0m0-.8h0m0 7.2h0m.1-1.1h0m.2-.9h0m0-8.3h0m.2-.9h0m0 18.9h0m.4-10h0m0-9.4h0m.1-.2h0m.2-9.2h0m0 5.3h0m0 21h0m.1 10.3h0m.1-10.2h0m0 4.1h0m0-13h0m.2 7.3h0m.2-2.5h0m.4-3.3h0m0-7.6h0m.1 2.2h0m0-9.1h0m.1 10.5h0m.1 9.7h0m0-17.3h0m.3 16.8h0m.2-10.8h0m0-1.9h0m.1 16.8h0m0-6.1h0m.5-2.8h0m.1-2.4h0m0 1.6h0m.3-11.5h0m.1 8.8h0m0-5.3h0m.4 6.6h0m.4-3.4h0m.2 7h0m0 6.5h0m0-3.4h0m.1-8.3h0m.1-12.5h0m.1 2.1h0m0 7.7h0m0-1.9h0m0-4.5h0m.1 17.6h0m.1-8.6h0m.2 4.7h0m0-8.2h0m.2-.6h0m.1 8.1h0m.1-20.6h0m.1 24.1h0m.1-9h0m.2-14h0m0 16.1h0m0 3.4h0m.6-3.8h0m.3-11.1h0m.2 8.5h0m0 12.5h0m0-18.3h0m.1 15.6h0m.1-21.5h0m0 11.6h0m.1 7.8h0m.1-9.2h0m.1-.7h0m.1 7.3h0m0-1.8h0m.1 13h0m0-20h0m.1 6.4h0m.2 6.9h0m0-2.5h0m0-5.2h0m.1 4.7h0m.2-6.4h0m0-12h0m0 25.8h0m0-4.5h0m.2-13.5h0m.2 7.3h0m.1-5.6h0m0 8.8h0m.1-10.8h0m.1-2.4h0m.1 2.4h0m.2 18.1h0m.1-3.5h0m.2-13.8h0m.1 16.6h0m.1-6.3h0m0-6.6h0m.2 8.9h0m.3-6h0m0-10.9h0m.1 18.1h0m0 2.6h0m.3-6h0m.1-3.8h0m.1 14.4h0m0-26.5h0m.2 10.6h0m.1-5.1h0m0-3.9h0m.1 10.1h0m.2-8.7h0m.1 16.4h0m.1-27.3h0m.1 5.3h0m.1 19h0m.2-15.3h0m.1 7.3h0m0-8.1h0m.1 12h0m.2-10.8h0m.1-10.6h0m.2 15.2h0m0 2.3h0m0-6.5h0m.1 3.3h0m0-12.8h0m.1-6.3h0m0 12.3h0m.1-3.6h0m0-14.7h0m.1 10.4h0m0 2.9h0m.1 6.2h0m0-9.5h0m.2 20.7h0m0-3.6h0m0-20.1h0m0 9.2h0m.3 8.9h0m.1-6.7h0m0-2.2h0m.4 22.8h0m0-34.1h0m0 1.6h0m.1 22.2h0m.1-1.2h0m0-4.5h0m.3 4.7h0m0-7.1h0m0 .2h0m.1-.4h0m0 19.8h0m.2-30.1h0m0 29.5h0m0-5.8h0m.1-7.2h0m.1 8.3h0m0 5.4h0m.1-4.9h0m.1-12.4h0m.1-.7h0m0-6.7h0m.3 18.8h0m.2 14h0m.1-23.1h0m.2 8.5h0m.1-3.8h0m0 2h0m0 6.3h0m.1 2.9h0m0 3.1h0m0-6.5h0m.1-8.7h0m0-2.5h0m.1 7.7h0m.1 8.8h0m0-8.8h0m0-2.2h0m.1 0h0m0 .7h0m.2 3.1h0m0-2.6h0m.1 4.7h0m0 10.4h0m.1-20.1h0m.1 16.9h0m.1-18.7h0m.1 7.7h0m.1-11.9h0m.1 10.8h0m0-10.3h0m.2 22.6h0m0-20.8h0m.1 3.1h0m0 14.2h0m.2-14.8h0m.1 1.4h0m.1 9.7h0m0 5h0m.1-21h0m.2 6.3h0m.1 6.7h0m.1-6.1h0m.1 13.9h0m.1-21.1h0m.1 21.3h0m.1-6.3h0m0 7.9h0m0-25.6h0m.1 22.6h0m0-17.8h0m.2 13.2h0m0-12.6h0m.2 20.2h0m0-1.7h0m.1-5.5h0m0 7.2h0m0-8.2h0m.1-7.2h0m.4-5.8h0m.1 24.3h0m0-2.4h0m.5-5.7h0m.2 6.4h0m.2-10h0m0-2.6h0m.2-7.7h0m0 10.1h0m.3 3.1h0m.1 6.8h0m0-19.1h0m.1 10.3h0m.1-.9h0m.1-1h0m.2-3.7h0m0 11.2h0m.1-4.5h0m.2-6.6h0m0 5.3h0m0-.3h0m.2 7.2h0m0-16.1h0m.2 19h0m.2-20.6h0m.1 18.8h0m.1-20.3h0m0 23.9h0m0-6.2h0m0-17.5h0m.7 12.9h0m.1 5.3h0m0-25.6h0m.4 27h0m0-.8h0m.1-4.7h0m.1 9.5h0m.1-33.3h0m0 5h0m.3 12.6h0m.2 7.6h0m0-9h0m.1-3.1h0m0-2.4h0m.1-3.8h0m.2 15.4h0m.1-16.5h0m0 12.9h0m.2-8.7h0m.1-8.2h0m.2 27.9h0m0-18.7h0m.2 9.3h0m0-11.8h0m.1-9.1h0m0 15.4h0m.1-13.1h0m.1 25.1h0m0-19.6h0m.3 10.2h0m.1-8.7h0m.1 5.4h0m0-1h0m0 5.8h0m.1-14.4h0m.2 16.6h0m.1-2.1h0m0 8.4h0m.1-12.4h0m0-3.7h0m.1-8.1h0m0 17.1h0m.1 1.7h0m0 8.7h0m0-11.6h0m.2-.8h0m.1 .5h0m0 8.6h0m0-18.9h0m.2-.2h0m.2 2.4h0m.6 2.5h0m.3-3.7h0m.1-1.9h0m0-.4h0m.1-4.3h0m0 23.1h0m.3-1.1h0m.2-21h0m0 25.8h0m.2-7.4h0m.1-3.4h0m0-15.1h0m.1 23.4h0m.1-13.4h0m.6 18.3h0m.1-4.9h0m.1-6.2h0m0 12.6h0m.1-25h0m.1 12h0m.1-10.2h0m.1-1.2h0m0 1.4h0m.2 7.4h0m0 1.4h0m0 11.1h0m.1-2.6h0m0-1.1h0m0-9.4h0m.1-3.5h0m.3 15.8h0m0-23.7h0m.1 20.9h0m.1-5.6h0m0 4.8h0m.6-1.8h0m0-15.3h0m.1-2.6h0m0 14.6h0m0 .2h0m0 3.9h0m.1-13.8h0m.3-4.3h0m.1-12.1h0m0 17.6h0m0 12.7h0m.4 3.5h0m.2-19.8h0m.2 1.7h0m0 17.9h0m.1 .4h0m.2-18h0m.2-2.8h0m0-9.7h0m.1 20.3h0m.3-20.1h0m.1 30.2h0m.1-1h0m.2-5.5h0m0 4.6h0m.2-27.1h0m0 13h0m0 1.1h0m.1-1.3h0m.1 2.9h0m.2-5h0m.1-2.5h0m.1 11.6h0m.1 7.5h0m.1-11.6h0m.1 5.6h0m0 11h0m0-10.2h0m0-10.9h0m.4 17.5h0m.1-1.7h0m0 0h0m.2-10.5h0m0-5.1h0m.1 11.1h0m0-4.9h0m.1 14.8h0m0-7.1h0m.1-7.7h0m.1-.6h0m0-8.4h0m.3-2.3h0m.2 19.6h0m0-4.5h0m.2 6.8h0m.2-4.3h0m0-9.9h0m.1 8.8h0m0 2.4h0m.1 5.2h0m0-10.1h0m.2-12.5h0m0 4.4h0m.1-8h0m0 15.7h0m.3-2.8h0m0-6.3h0m.4-.5h0m.1-.8h0m0 5h0m0 6.7h0m0-19.6h0m.1 4.3h0m.4 13.8h0m0-17.3h0m0 9.6h0m.1-16.3h0m0 6.5h0m.2 10.4h0m.1 11.6h0m0-14.2h0m.2 13.3h0m.1 6.7h0m.1-32.2h0m.1 15.9h0m0-7.7h0m0 .1h0m.1-3.9h0m0 19.8h0m.1 3.8h0m.1-23h0m.1 5.1h0m0-2.6h0m0-1.8h0m.2 30.1h0m.1-17.4h0m.1-15.4h0m0 18.3h0m.2 2.7h0m.1-12.8h0m0 3.8h0m0-9.9h0m0 21.7h0m0-15.8h0m0-1.7h0m.1 16.3h0m.1-18.3h0m.1 10.4h0m0 13.7h0m0-31.9h0m.2 23h0m0-.7h0m.1-7.2h0m.2 14.6h0m.1-23.8h0m.2 22.7h0m0 0h0m.1-19.3h0m.1 14.2h0m.1 5.7h0m.1-.9h0m.1-16.2h0m0 13.5h0m0-4.4h0m.1-10.9h0m.1 15.6h0m.1-5.6h0m0 .6h0m.1-19.3h0m0 16.7h0m.1-8h0m.2-10.7h0m.1 20.7h0m0-17.1h0m0 11h0m.1 .9h0m.2-2.4h0m.1-5.8h0m0 11.3h0m.1-11.8h0m.5 11h0m.2-7.6h0m0 15.8h0m.1-12.1h0m.3-7.4h0m.3 7.2h0m.2 21h0m.2-9.6h0m.3-7h0m.2 14.8h0m0 6.1h0m0-4.3h0m.1-21.9h0m.2 24h0m.1-9.8h0m.3-10.9h0m0-3.8h0m.2-.6h0m.2-5.3h0m.1 19.6h0m0 5.5h0m.1-20.6h0m0 6.9h0m.1-3.2h0m.1 1.2h0m0 5.7h0m.1-10.2h0m0 .7h0m.1-4.9h0m.2-4.3h0m0 18.3h0m.4-20.8h0m.2 1.4h0m.1 9.7h0m0 4h0m0-8.6h0m.1 14.6h0m.2-22.8h0m.1 12.8h0m.2 8.5h0m0-13.9h0m0 10.3h0m.1 8.5h0m.3-13.9h0m.1-16.9h0m.1 6.7h0m.2 5.6h0m.1 14.2h0m0-2.1h0m0-10.7h0m0 9.9h0m.2-29h0m0-1.2h0m.1 21.4h0m0-1.4h0m.1-4.8h0m.2-7.8h0m.2 10.9h0m0 .8h0m.1-8.1h0m.1 2.2h0m0-3.4h0m.1 26.1h0m.2-23h0m0 28.2h0m0-7.7h0m.1-6.7h0m.3-15h0m0 29.9h0m.1-12.6h0m.2 2.5h0m0-24h0m.1 31.3h0m0-14.1h0m.2 16.9h0m0-23.4h0m.1 3.6h0m0 5.2h0m0-19.1h0m.1 22.6h0m0 11h0m0-18.4h0m.1 14.4h0m.4-29.5h0m.3 24.8h0m.1-18.5h0m.1-3.8h0m0 8.2h0m.2 16.2h0m0-6.8h0m.1-2.4h0m0-3.2h0m.1 8.1h0m.1-10.1h0m.1-11.9h0m0 22.6h0m.3-5.2h0m0-6.4h0m.2-5.9h0m.1 20h0m0-5.4h0m.1-6h0m.1-6.9h0m.1 12h0m.6 8.6h0m.1-26.7h0m.3 23.9h0m0 5.1h0m.1-29.6h0m.1 1.3h0m0 6.1h0m.2 19.3h0m.1-1.9h0m.3-23.2h0m.1 1h0m.1-7.9h0m.1 23.6h0m.2 33.6h0m.3-35.3h0m.2 11.2h0m0-23.4h0m.1-5.5h0m.3 16.4h0m0 4.6h0m.1-1.3h0m.1-1.1h0m.1-9.6h0m.1-6.9h0m0 27.7h0m.1-7.8h0m.4-10h0m0-2.3h0m0 4.2h0m.1-4.5h0m.2 18.6h0m.1 1.1h0m0-16.3h0m.1 11.1h0m0-.3h0m.1-9.1h0m.5-15.3h0m0 9.3h0m.1-.6h0m0-2.6h0m0 13.2h0m.3-11.6h0m.2-9.3h0m.1 25h0m.1-19.4h0m0 6.3h0m.1 41.6h0m.1-50.4h0m.3 15.2h0m.1-19.8h0m.1 12.7h0m0-2h0m.3-9.8h0m0 20.2h0m.1-6.2h0m0 4.6h0m.2 1h0m.2-17h0m0 18.2h0m.1-4h0m.3-1h0m.3 .4h0m0-6.2h0m.1 5.8h0m.4-3.5h0m.2 2h0m0 16.8h0m.1-32h0m.1 6.6h0m.1-.4h0m.2 18.5h0m0-11.9h0m.2-4.2h0m.1-6h0m.1 12.3h0m0-4.9h0m.1 4.8h0m0-.2h0m0-1.2h0m0 5.8h0m.1 .7h0m0-3.2h0m0-3.8h0m0-.8h0m.1 10.9h0m.3-12.9h0m.2-6.3h0m.2 11.3h0m0 5.3h0m0-6.5h0m.5-19.3h0m0 17.6h0m.2 11.4h0m0 .4h0m0-1.2h0m.1-6.2h0m.1-11.6h0m.1 16h0m.2-8.8h0m.1 3.4h0m.1 7.4h0m.2 .5h0m0-5.2h0m0 2.1h0m.1-17h0m.2 12.3h0m.1-17.2h0m.5 52.6h0m.2-52.1h0m.3 .7h0m.1 20.5h0m.1-3.5h0m.1 2.8h0m0-11.4h0m0-10.8h0m.1 23h0m0-1.7h0m.2 3.2h0m.1-26.2h0m.1 6.8h0m.1-3.6h0m0 14.1h0m.1-1.4h0m.1-4.6h0m0-7.9h0m.2 13.9h0m.1 5.5h0m0-19.7h0m.1 7.3h0m0 15.6h0m0-21.6h0m.1 3.2h0m0 15.9h0m0-8.1h0m.1-10.4h0m.2-5.9h0m.1 16.2h0m0 1.6h0m.3-5.7h0m.2 5h0m.1-4.6h0m0-4.9h0m.1 .1h0m.1 24.6h0m.3-2.7h0m0-15.6h0m.1-8.7h0m0 5.6h0m.3-2.1h0m0-10.2h0m.4 24.7h0m0-12.1h0m.3-2.3h0m.1 11.9h0m.1-3.5h0m0-4.5h0m.1 14.2h0m.1-23.5h0m.1 6.2h0m0 11.1h0m.1 9.8h0m0-26.3h0m0 4.5h0m.1-.2h0m.3-1h0m.1 18h0m0-19.9h0m.2-4.9h0m0 29.2h0m0-11h0m.1 5.4h0m0-10.9h0m0-7.4h0m0 17.3h0m0 2h0m.4-10.2h0m0-11.6h0m.1 7.5h0m3 13.4h0m0-1.9h0m.4-2.3h0m.2 6.1h0m.1 .6h0m.2-14.2h0m.1 5.6h0m.2-3.4h0m.1 11.8h0m0-23.2h0m.1 5.7h0m0 6.9h0m0 13.9h0m.1 13.7h0m.1-33.5h0m0 5.9h0m.1-7.3h0m0 4.1h0m.1 16.6h0m0-11.4h0m.1-9.8h0m.2-1.4h0m.5 6.6h0m.1-2.7h0m.5-14.8h0m.1 4h0m.2-1.3h0m0 38h0m0-20.1h0m.3-29.8h0m0 14.3h0m.1 11.1h0m0-5.9h0m0-.8h0m.1-10.6h0m.2 12.1h0m0-5.9h0m.1 13.5h0m.3-11.3h0m0 6h0m.1-24h0m.4 16h0m.3-12.7h0m0-12.5h0m.1 27.4h0m0-22.5h0m0 22.8h0m.2-15.4h0m.1 10h0m.1-.9h0m0 4h0m.1-8.7h0m.2 2.8h0m0-6.1h0m.1-5.5h0m0 26.1h0m.2-19.2h0m0 8.3h0m.2-8.5h0m.1 7.1h0m0-3.8h0m0-10.6h0m0 26.4h0m.2 4.6h0m.1-20.7h0m0 10.7h0m.1-16.9h0m0 18.6h0m.1-9.7h0m0-4.6h0m0-.9h0m.2-5.5h0m0 12.4h0m.1-22.4h0m.2 9.9h0m.1 7h0m.1 3h0m0-3.1h0m.2 18.9h0m.2-10.3h0m.1-4.6h0m.1-4.7h0m0-3.4h0m0-.2h0m.3 24.2h0m.2-31.8h0m0 24h0m.1-18.1h0m0 7.2h0m0-1h0m.2 18.8h0m.2 6.7h0m0-19.8h0m.1-3.3h0m0 3.1h0m.2-4.1h0m.3 5h0m.1-12.2h0m0 17.6h0m.5-23.5h0m0 4.4h0m.2 11.8h0m.1 5.3h0m.2-16h0m.1 14.1h0m0-14h0m.1 9.4h0m.2-3.9h0m.1-2.9h0m0 1.1h0m.2 7.6h0m.1-16.3h0m0 28.4h0m.1-8.1h0m.4-16.6h0m.6 1h0m.3 14.6h0m.1 5.4h0m0-12.3h0m0 8.6h0m.1 3h0m.1-6.1h0m0 12.9h0m.3-10.2h0m0 10.2h0m.1-17.1h0m.2 19h0m0-7.6h0m0-7h0m0 24.6h0m.6-18.3h0m.2 .7h0m0-.2h0m.1 5.2h0m.2-5.6h0m.1 8.8h0m0-1.4h0m0 11.7h0m.3-3.5h0m0-11.3h0m0 9.8h0m.1-14.6h0m0 25.5h0m.2 3.8h0m.3-4.4h0m.1-5.9h0m.1 .3h0m.1 2.8h0m.1-13.2h0m.1 16.8h0m.1 1.4h0m.1 .1h0m.1 12.8h0m0-27.7h0m.1 15.1h0m.1 5.7h0m.2 2.4h0m.1-7.9h0m0 8.6h0m0-19.8h0m.1 18.5h0m0-12.5h0m.3-3.8h0m.1 10.8h0m.1 4.8h0m.2-11.1h0m.3 7.4h0m.1-1.1h0m.1-3.6h0m.1 16.6h0m.1-13.9h0m.1 8.4h0m.1 1.9h0m.1 1.7h0m0 1.1h0m.4 10.5h0m.3-6.3h0m.2-12.9h0m.1 12.4h0m.1-1.9h0m.3-2.1h0m.1 0h0m0-7.9h0m.1 10.8h0m.1 3.2h0m.2-8.5h0m.3-.9h0m0-16.1h0m0 15.1h0m.1 13h0m.1-2.6h0m.2-17.2h0m.1 2.4h0m.1-15.4h0m.1 11.1h0m.2-9.8h0m0 18.9h0m.1-18.7h0m0 1.7h0m0-.8h0m0-3.2h0m0 1.9h0m.1-2.4h0m0 15.1h0m.1-9.6h0m0 6.9h0m0 2.5h0m.1 .7h0m.1 8.6h0m.4-23.4h0m0 22.3h0m0-4.2h0m0-1.9h0m0 .1h0m.1-15.7h0m0-.9h0m.1 14.1h0m0-1.8h0m0-14.9h0m.1 5.3h0m.2 1.5h0m.2 4.7h0m.1-12.8h0m0-11.7h0m0 20.6h0m.1-16.9h0m0 11.3h0m.1 4.8h0m.4-19.3h0m.4 10h0m0 9.6h0m.2-.4h0m.2-11.1h0m.2-11.1h0m0-4.7h0m0 20.9h0m.1-20.5h0m0 7.9h0m.1-7.4h0m0 13.5h0m0-14h0m.1 15.8h0m0-25.6h0m.2 26.9h0m0-26.4h0m.1 20.2h0m.2-4.7h0m0 15.2h0m.1-11.4h0m0-19.1h0m.1 9.9h0m.1 5h0m0-2h0m.3 14.6h0m.2-15h0m0 5.5h0m.1-1h0m.2-18.3h0m.2 27h0m0-13.3h0m.1-12.3h0m0 15.6h0m0-7.3h0m.1 14.3h0m.2-20.8h0m.1 2.1h0m0 7.3h0m.1 6.7h0m.1-8.3h0m.1-4.7h0m0 16.5h0m0-10h0m0 12.1h0m.2 2.8h0m0-5.8h0m.2-.2h0m.1-18.4h0m.6 16.1h0m.2-7h0m0-10.5h0m.1 27.2h0m0-10.3h0m.1-12.1h0m.1 .7h0m.2 17.4h0m0-1.5h0m.1-9.6h0m0 11.5h0m.1-6.4h0m0-5.5h0m.1 3.9h0m.2-20.7h0m.1 10h0m0-3.4h0m.2 6.9h0m0 11.4h0m.1-2.6h0m.7 1.1h0m.1-6.1h0m0-11.9h0m0 14.8h0m.2-19.5h0m0 15.3h0m.1-2.5h0m.3-7h0m.1 3.2h0m.5 22.6h0m0-14.1h0m0 .7h0m.1 6h0m.1-.4h0m.1-18.5h0m.1-.8h0m.2 17h0m.1-11.6h0m0 .3h0m.1 18.7h0m.1-21.5h0m0 23.5h0m.1-15h0m.1-2.8h0m.1 19.9h0m.2-3.6h0m0-1.8h0m.1 6.7h0m.1-17.3h0m.1-8h0m.1 1.4h0m0 7.2h0m0 13.9h0m.1-28.2h0m0 24.6h0m.3-11.5h0m0-9.9h0m.2-16.1h0m.1 16.5h0m.3 15.6h0m.2-21h0m.1-.8h0m.1 8.2h0m0 .3h0m0 6.3h0m.1 9.5h0m.1-14.2h0m.1-10.4h0m.2 17.7h0m.2 1.2h0m.1 1.3h0m0-12.7h0m.2-3.9h0m.1 2h0m.3 2.5h0m0-7.3h0m.1 5.1h0m.1-4.4h0m.1 9.2h0m.1 .4h0m.2-3h0m0 5.4h0m.1 6.6h0m0-8.2h0m.2-10.3h0m.2-1.1h0m.1 6.1h0m.1 .5h0m.1-4h0m.1-3.6h0m.1 7.8h0m0 13.8h0m.1-18.2h0m0-9h0m.1 10.6h0m.2-6.7h0m0 12.2h0m.1-14.7h0m0 22.5h0m0-5.8h0m.1-16h0m.1 7.3h0m0-7.3h0m.2-1.8h0m.1 22.2h0m.1-26.6h0m.1 3.7h0m0-7.5h0m.2 10.5h0m.2 17.1h0m.2-21.7h0m.1 12.9h0m.1 5.3h0m0-11.5h0m.1 13.3h0m.3-8.5h0m0-11.7h0m0 12h0m.1 2.8h0m.1 2.7h0m0-10.3h0m0-10h0m.2 17.3h0m.2-7.9h0m0 6.9h0m.1-12.1h0m.1 21.2h0m0-11.5h0m0 8.2h0m0-19.9h0m.1 9.7h0m.1-11.8h0m0 8.2h0m0 11.5h0m.1-.3h0m.1-23.1h0m.1 22.8h0m0-5.1h0m.1-2.5h0m.3 10.1h0m.1-13.4h0m0 1.4h0m.1 1.2h0m0 6.3h0m.2-3.1h0m.1-1.9h0m0 6.3h0m.1-7.6h0m0-7.7h0m0 23.1h0m0-13h0m.1 11.1h0m.1-6.4h0m.1-10.3h0m0 14.8h0m.1 6.6h0m0-20.6h0m0 15.2h0m.1 6.3h0m.2-22.8h0m.1 8.4h0m0-2h0m.1-13.9h0m.1 11.2h0m0-6.3h0m.2 18.5h0m0-20h0m0 17.7h0m.1 7.5h0m0-4.2h0m0 1.5h0m0-14.7h0m.1 10.5h0m.3-8.1h0m.2 9.8h0m0-2.8h0m0-16.7h0m.1-8h0m.2 16.8h0m0-9.8h0m0 14.5h0m.1-7.5h0m0-7.9h0m.1 12.2h0m0-7.4h0m.1 13.7h0m.2 4.9h0m0 9.9h0m0-29h0m.1 .1h0m0 21.8h0m.1-10.6h0m0 7.7h0m.1-4.1h0m.1-15.8h0m.1 14h0m0-1.3h0m0 3.7h0m.1-6.2h0m0-7.3h0m.1 19.8h0m0-11.6h0m0 10.6h0m.1-10.4h0m.1-16h0m0 5.3h0m.3 25.1h0m0-9.9h0m0-9.4h0m.2 19.5h0m.1-8.8h0m0-.8h0m.1-5.1h0m.1 .8h0m.1 .2h0m.5 15.2h0m0-8.5h0m.1 12.1h0m0-14.7h0m0 23.1h0m.1-18.1h0m.1 6.6h0m.1 8.7h0m.1-9.2h0m0 2.5h0m.1-5.1h0m.1 33.5h0m0-20.1h0m.1-2.8h0m.3-3.5h0m.1 23.7h0m.1-26.5h0m0 3.4h0m.1 15.6h0m.1 5.1h0m.1-12.4h0m.5 18.5h0m0-14.1h0m.4-7.7h0m0 14.5h0m.1-10.4h0m0 13.8h0m.1 5.4h0m0 .4h0m.1-1h0m.1 2.6h0m.1 .2h0m0-16.7h0m.2 1.9h0m.1-2.1h0m0 20.4h0m.1-14.4h0m.1 2.4h0m.4 1.5h0m.1 7.8h0m0 10.8h0m.1 3.8h0m.2-10.2h0m.2-1.3h0m.1-4.9h0m.1 8.3h0m.6 2.8h0m0-3.9h0m0 4.4h0m.2 8.5h0m0-3.6h0m0-14.2h0m.1 6h0m.4 0h0m.1-.2h0m.3-14.3h0m.1 11.5h0m.3 4.6h0m.2-24.7h0m0 30.4h0m0-17h0m.1-11h0m0 13.5h0m.1 7.2h0m.1 8.4h0m.2-28.5h0m0 .9h0m.1 14.3h0m0-16.7h0m.1 21.8h0m.1-29h0m.1 11.1h0m.1 11.1h0m0-8.5h0m0 4.1h0m.1 11.7h0m.2-13.7h0m0 15.6h0m.1-10.9h0m0 2.9h0m.4-9h0m.1 .8h0m.1 0h0m.1 2.8h0m0-5.4h0m0-12.6h0m.1 9.7h0m.1 3.3h0m.3-7.6h0m0 1.7h0m.1 .6h0m.2-5.7h0m.1-12.8h0m0 17.7h0m.1 5.7h0m.4-10.6h0m.1 6.3h0m.2-27.2h0m0 4.4h0m.1-5.9h0m.2-4.6h0m.1 30.8h0m0-12.2h0m.1 5.1h0m.3-4.2h0m.2-.9h0m.1 4.5h0m.1-16.7h0m.2-9.2h0m0 23.3h0m0-20.2h0m.2 5.5h0m0 11.4h0m.4-13.9h0m.1 8.4h0m0-8.3h0m.1-16.2h0m.2 11.3h0m.3 8.5h0m0 12.9h0m.2-15.3h0m.2 2.8h0m.1-1.2h0m.1-7.6h0m0 18.6h0m.1-10.5h0m.1 18.6h0m0-8.4h0m0-4.7h0m0 .2h0m0-17.2h0m0 10.7h0m.1-13.7h0m.1 21.8h0m.3-11.8h0m0 20h0m.1-17.9h0m.2-7.5h0m.1 2.4h0m0 21.9h0m0-30.1h0m0 30.9h0m.1-25.5h0m0 10.1h0m.2 12.1h0m.2-12.2h0m0 9.6h0m0-6.9h0m0-11.2h0m.1 2.6h0m.1 9.9h0m0-8.4h0m0 10.1h0m0-15.7h0m.2 1h0m0 18.6h0m.3 1.5h0m.1-12.5h0m0 2.7h0m0-16.4h0m.1 3.1h0m.1 20.3h0m0-7.7h0m.3-3.8h0m.2-6.3h0m.4 17.7h0m.3-1.2h0m.1-13.1h0m.1 2.9h0m0-2.9h0m.1-3h0m0-.2h0m.2-1.7h0m.1 8.3h0m0-8.5h0m0 6.3h0m.1 1.9h0m.2 12.1h0m.1-8.7h0m.1-1.6h0m.1 7.2h0m0-21.8h0m.2 27.8h0m0-17.1h0m.2-2.9h0m.2 14.9h0m0-5.3h0m.1-7.8h0m.1-9h0m.1-.7h0m.1 19.9h0m.1-1.1h0m.1-3.7h0m0-.1h0m.4 3.5h0m0 9.5h0m0-17.5h0m0-.8h0m.1 5.7h0m.2-.4h0m0 7.4h0m.2-18.3h0m.1 18h0m.1 5.3h0m.1-13.5h0m.1-3.6h0m.2 22.8h0m.1-17h0m.1 9.5h0m.2-.8h0m0-8.6h0m0-5.9h0m.1-3.6h0m0 4.2h0m.1 12.5h0m0-17.3h0m0 4.7h0m.1-2.8h0m0 7.3h0m0 4.8h0m.1 9.1h0m0-8.7h0m0 9.1h0m.3-8.3h0m0-17h0m.1 3.4h0m.1-.3h0m.1 2.8h0m.1 6.5h0m.1-11.8h0m.1 10.8h0m0-7.4h0m.1-1.4h0m0 14.8h0m.2-7h0m.1-3.3h0m0 19h0m0-19.9h0m0 14.2h0m0-13h0m.2 14.4h0m0-9.6h0m.1-12.2h0m.2 7.7h0m0 3.4h0m.2-10.3h0m.2 21.5h0m.1-14h0m.2 9.9h0m.2-10.6h0m0-5.2h0m.1-2.5h0m.1 8.5h0m.5-6.6h0m0 2h0m0-8.3h0m.1 17.8h0m.1-.5h0m.1-8h0m.1-6.2h0m.1 15.6h0m0 10.9h0m.5-14.4h0m0-2.7h0m.2-6.3h0m.3 16.5h0m.1 1.1h0m0-5.9h0m.1-14.6h0m.1 26.4h0m0 1.1h0m.1-2.9h0m.1-5.8h0m0 14.3h0m0-17h0m0-.7h0m.2-17.7h0m.2 22.4h0m0 .6h0m0-13.9h0m.1 .1h0m.2-5.1h0m0 19.3h0m0 1.1h0m.2-18.6h0m.2-1.4h0m0-3.4h0m0 26.7h0m.1-32.1h0m.1 20.8h0m.2 12.3h0m0-26.1h0m.4 25.9h0m0-12.4h0m.3-19.6h0m.1 17.2h0m.1 18.2h0m0-13.6h0m0 10.5h0m.1-24.6h0m.3 12.3h0m0-6.8h0m.1 11.5h0m0-14h0m0 7h0m0-7.3h0m.1-5.5h0m0-1.1h0m.2 20.1h0m.3-9.5h0m.1 22h0m.1-16.8h0m.1-1.7h0m.1 6.7h0m.3-2h0m0-11.9h0m.1 .3h0m0 5.5h0m0 19.3h0m0-15.3h0m.1-16.5h0m0 21.3h0m.1-14.2h0m.1-4.7h0m0 29h0m.1 8.4h0m0-18.3h0m.1 5.1h0m.1-21h0m.2 7.9h0m0 2.8h0m.1 16.3h0m.2-23.6h0m0 17.3h0m0-9.1h0m.1 5.6h0m.1-15.6h0m0 1.3h0m.2 11.6h0m.1-11.5h0m.1-5.8h0m.1 3.4h0m0 17.3h0m.1-21.4h0m.1 8.1h0m0-6.4h0m.1 2.9h0m0 .9h0m.1-10h0m0 3.2h0m0 17.7h0m.1-6h0m.1 8.6h0m.1-15.1h0m.2 14.1h0m.1-23h0m.1 17h0m.1-8.7h0m.1 2.6h0m.1-11.8h0m0 11.6h0m.2 12.6h0m.2-21.3h0m0 10.6h0m.2 4.6h0m.1-5.4h0m.3 12.1h0m.1-7.2h0m0-7.9h0m0 1.1h0m.2 3.4h0m0 3.8h0m.1 15.1h0m.1-13.4h0m.2 4.8h0m.1-8.7h0m.1-13.7h0m.1 16.9h0m0 6.4h0m0 2.1h0m0-19.1h0m.1 16.9h0m.2-14.7h0m0 21.5h0m.1-12.1h0m.2 7.6h0m.1-6.8h0m.1-3.1h0m.1 10.5h0m0-14.3h0m0 9.8h0m0 14.2h0m.1-7.9h0m.1-16.6h0m.1 29.3h0m.2-5.7h0m0-19.8h0m0 16.1h0m.1 3.2h0m0-16.2h0m0-4.5h0m0 4.7h0m.1 2.8h0m.2-9.5h0m.1 20.4h0m.1-15.8h0m.1 12.8h0m0-.7h0m.1-15h0m0 7.5h0m0 10.9h0m.1-22.8h0m0 25.8h0m0-5h0m.2-4.5h0m.1 .9h0m.1-2.3h0m0-10.7h0m.1 7.8h0m0-9.7h0m.1 31.1h0m.1-25.1h0m.3-12.7h0m0 25.3h0m.1-11.1h0m0 13.8h0m.3-12.6h0m.1-5.8h0m.2 8.5h0m0-12.6h0m.1 9.2h0m0 3.2h0m.1-3.4h0m.5-4.2h0m0 9.4h0m0-11.5h0m0-5.2h0m.1 11.3h0m0 3.6h0m.2-.7h0m.1 6.4h0m.1-9.2h0m0-13.1h0m0 16.5h0m.1-2.8h0m0 12.3h0m.3-13.3h0m.1 1.5h0m.2 1.5h0m.1-13.7h0m0-5.9h0m.1 23.4h0m.1 5.4h0m.2-11.1h0m.2 4.7h0m0-.1h0m.1-2h0m0-4.1h0m.2 8.4h0m0-6.9h0m.1 3.5h0m0 1.1h0m.1-13.5h0m0-.5h0m0 14.6h0m.2 10.8h0m0-6.1h0m0-15.1h0m0 6.2h0m0 1.9h0m.2 7.7h0m0-8.2h0m.3-6.3h0m0-2h0m0 7.2h0m.1 8.5h0m.2-8h0m.1 11.1h0m.1-14.3h0m0 21h0m.1-13.3h0m.3-12.3h0m.3 5.9h0m.1 11.6h0m0-6.8h0m.1-12.7h0m.2 6.6h0m.1-3h0m0 9.6h0m0-6h0m0 7.5h0m.3-9.7h0m.3-4.4h0m.1 .6h0m0-11.3h0m0 34h0m0-14.8h0m.1 9.2h0m.3-12.6h0m0-.9h0m0 6.2h0m.1-2h0m0-6.1h0m.2-11h0m0 11.6h0m0-4.2h0m.1 1.6h0m0-4.3h0m.3 13.6h0m0-5.6h0m.1-14.4h0m.1 8h0m0 8.2h0m.1-8.5h0m0-3.3h0m.1-4.8h0m.2-1.1h0m.2 9h0m.1 11.2h0m0-14.9h0m.1 11.1h0m.2-11.5h0m.4 16.3h0m.1-12.8h0m.3 7.7h0m.3 7.7h0m0-5.9h0m.3-13.2h0m0 20.1h0m.1 2.6h0m0-2.5h0m.1-4.9h0m.3-.1h0m0 .8h0m.2-4.2h0m0 15.3h0m.1 2.8h0m.1 1.7h0m0-28h0m.1 14.1h0m.3 1.9h0m.1-2.3h0m0-.3h0m.1 5.9h0m.2-15h0m.1 18.2h0m0 1.4h0m0 1.2h0m.1-20.6h0m0 5.9h0m.1 7.2h0m0-3.4h0m.2-12.6h0m.1 14h0m.2-15.7h0m.1 10.3h0m.9-10.9h0m.2-.8h0m.1 9.4h0m.1 12.1h0m0-5.8h0m.1-12.8h0m0 5.8h0m.2 21.3h0m0-24.3h0m.1 9.9h0m.2 11.5h0m.1-14h0m0-12.6h0m.1 26.4h0m.1-4h0m0-11.2h0m.2-7.5h0m.2 9.3h0m.1 7.6h0m0 6h0m.1-20.5h0m.2 0h0m.2 14.6h0m.4-.9h0m0-8.5h0m.2 16.1h0m.1-.9h0m.1-7.1h0m.5 3.3h0m.1-3.6h0m.2 12.6h0m.1 1.9h0m.2-8.3h0m.2 24.6h0m0-18.4h0m.2-5.2h0m.2 10.6h0m.1 1.5h0m0 14.1h0m.1-20.2h0m0 5.6h0m.1 5.3h0m0 4.6h0m.2-2.9h0m.1-2.7h0m0 7.8h0m.1 4.6h0m0-20.4h0m.1 18.9h0m.2-12.9h0m0-4.2h0m.1 11.8h0m.2-13.5h0m.2 8.8h0m0-.9h0m.1-2.5h0m.1 13.4h0m0-2.2h0m.1 3h0m0-24.2h0m.1 20.7h0m0-13.7h0m.2 10h0m0-16.2h0m.1 12.4h0m.1-9.1h0m0 3.8h0m.1 16h0m.1 8.2h0m.1-4.5h0m0-16h0m0 4.9h0m0-2.1h0m0 6.5h0m.1 1.8h0m.2 5.3h0m.2-12.3h0m0 1.3h0m.4 3.3h0m.1-2.9h0m0 3.5h0m.4 8.1h0m0-8.5h0m.1 12.6h0m.1-7.4h0m.1-12.9h0m0-2.1h0m.1 25h0m.1-30.1h0m.3 9.8h0m.1 .3h0m0 1.8h0m.4 9.8h0m0 13.9h0m.2-28.4h0m0 2.3h0m0 14.8h0m.2 5.5h0m.1-22.1h0m.1 18.6h0m0-4.9h0m.1-2.8h0m.1-2.5h0m.1 13.4h0m0-7.5h0m.1 11.1h0m.3-3.5h0m0-4.9h0m.2-9.7h0m.1-4.9h0m.2-3.4h0m.1 15h0m.2 9.7h0m.1-10.8h0m.1 2.6h0m.1-13h0m0 13.1h0m.4 7.2h0m0-19.2h0m.3-4.2h0m0 18.9h0m.1-13.7h0m.3 8.6h0m.2 2.2h0m0 14h0m.4-12.4h0m0-2.1h0m0-7h0m0 14.6h0m.3-25.8h0m.3 14.5h0m.2 8.6h0m0-1.4h0m.1-27.3h0m0 18h0m.2-8h0m0 .7h0m0-5.6h0m.1 15.9h0m0-7.1h0m.1-17.6h0m0 9.4h0m0-8.1h0m.2-.7h0m0 9.5h0m.1-9.8h0m.2 8.6h0m0-3.4h0m.1-2.7h0m.1-8h0m0-1.5h0m0 21h0m.2-18.9h0m.2 4.9h0m.1-17.5h0m0 15.4h0m.3-7.7h0m0 3.3h0m.1 2.1h0m.3 1.2h0m.1-9.9h0m.3 9.5h0m0-22.8h0m.1 13.3h0m0-7h0m0 1.3h0m.1-8.7h0m0 26.8h0m.2-32.1h0m0 18.6h0m0-5.7h0m.1 10.1h0m.2-6.8h0m.1 1h0m0 3.1h0m.2-13.2h0m0-2.7h0m.1 2h0m.2 18h0m.1-12.9h0m.1-4.3h0m.1 7.6h0m0 2.5h0m0-22h0m0 11.9h0m.1 1.8h0m0 9.6h0m.1-16.2h0m.1 20h0m.2-21.5h0m0-1.4h0m0 17.5h0m.1-5.5h0m.1-2.5h0m.2-.9h0m.1-15.9h0m0 13.5h0m.4-16.2h0m.1 5.2h0m.1-7.3h0m0 17.7h0m.1-3.8h0m.2 2.4h0m0-4h0m.1-2.3h0m.3-.2h0m.1 1.4h0m0-12.8h0m.2-.6h0m0-4.3h0m.2 6.2h0m.1 10.8h0m.1-13.7h0m0 31.4h0m0-14.1h0m0-17.3h0m.2 15.3h0m0-4.8h0m0-8.7h0m.2 16.8h0m.2-13.9h0m.1-.8h0m.1-7h0m.4 20.6h0m0-1.1h0m0 8h0m.1-22.9h0m.5 18.7h0m.1 7.9h0m0-3.7h0m.1-15.4h0m.3 17.8h0m.1 1.8h0m0 2.4h0m.2 2.4h0m.2-9.6h0m0 14.1h0m.2-27.7h0m.1 12.4h0m.1 14.9h0m.2-14.6h0m.1 10.8h0m.1-.3h0m.2-18.9h0m.1 5.5h0m0-.3h0m.1 15.2h0m.1-6.1h0m0 17.4h0m.3-23.2h0m.1 11.9h0m.1-4.6h0m0-1.4h0m.1 9.7h0m0-13.1h0m0 14.9h0m.1-8.5h0m.2-1.9h0m.2-2.4h0m0 8.5h0m.1-1.7h0m.2 5h0m.1-1.8h0m.1-3.2h0m0-3.6h0m.1 1.9h0m0 6.5h0m.1-3.8h0m0 15.3h0m0-9.8h0m.1 1.8h0m0-15.2h0m.2 13.8h0m.1-10h0m.2-.1h0m0 1.5h0m.5 13.4h0m.1-11.1h0m.2 20.9h0m0-29.6h0m.1 2.5h0m0 9.2h0m0 2.6h0m.1 4.6h0m.1-5.2h0m0 11.7h0m0-17.2h0m.3 20.5h0m.1-15.4h0m0-8.3h0m0 10.5h0m0-3.4h0m.1-1.9h0m.4 2.8h0m0 7.6h0m.1-2.4h0m0 1.8h0m0-2.2h0m.2 1.9h0m.1-13h0m0 4.2h0m.1-6.1h0m.2-.6h0m0-.7h0m.1 4.1h0m.2 20h0m0-25.2h0m0 2.4h0m.1-.2h0m.1 17.3h0m.1 8.9h0m.1-26.8h0m.1 7.1h0m.1 3.7h0m0-3.4h0m.1-2.2h0m.1-8.5h0m0 3.9h0m.1 8.8h0m.1-5.3h0m.1 3.2h0m0-11.1h0m0-6.6h0m0 12.8h0m.1 14h0m.1-19.7h0m.1 7.5h0m0-20.4h0m.1 7.2h0m0-3.8h0m0 15.1h0m0-15.8h0m.3 20h0m0 2.9h0m.2-18.2h0m.3-9.5h0m0 31.5h0m0-21h0m0 12h0m.3-8h0m0-9.4h0m.1-10.8h0m0 .3h0m.1 21.2h0m.2-4.3h0m0-11.1h0m.4 6h0m0-10.6h0m0-11.4h0m0 16h0m.1-1.1h0m.2-12.9h0m.3 .5h0m.2 2.8h0m.3 24.4h0m.1-20.8h0m0 12.4h0m.2-.1h0m.1-5.4h0m0 15.5h0m.1-6.5h0m0-8.9h0m.1-.2h0m.1 8.4h0m.1 16.9h0m0 5.4h0m.1-31.9h0m.2 17.4h0m0 3.7h0m.1-7h0m.1 9.6h0m0-7.3h0m.1-3.5h0m.1-2.3h0m0 4.5h0m.1 9.3h0m.1 13.2h0m.3-7.6h0m.1-4.4h0m0 20.5h0m.2-8.2h0m0-20.9h0m.1 20.3h0m0-18.8h0m.2 22.5h0m.2-10.6h0m.2 16.5h0m.1 9.7h0m.1-6h0m.1-16.3h0m.1 24.3h0m0-9.4h0m.1-.7h0m.1 13h0m0-15.6h0m.1-5.4h0m0 12.8h0m.1-3h0m.2-6.3h0m.1 14h0m.1-2.2h0m0-5.8h0m.4 .2h0m.1-2.8h0m0-3.9h0m.2 5.1h0m.3-11.7h0m0 28.2h0m.1-.9h0m.1-14.8h0m.1 4.7h0m.3-4.6h0m0 10.8h0m.1-13.7h0m0 7.9h0m.3 5h0m.2 4.6h0m.2-12h0m0 2.4h0m.1-1.9h0m0 5.5h0m.1 5.8h0m0 9.2h0m.1 .7h0m0-21.9h0m.3 29.9h0m.1-28.7h0m.1 2.7h0m0 16.9h0m.5-2.5h0m.3-1.4h0m.4 15.7h0m0-24.8h0m.2 7.5h0m.1-7h0m0 24.3h0m.1-10.7h0m0 3.8h0m.3 2.3h0m0-12.6h0m0-1h0m0-6h0m.1 15.6h0m.1-4.1h0m0 10.4h0m.1-18.2h0m0 17.6h0m.1-8.6h0m.1 9.8h0m0-12h0m.3-4.2h0m0 14.5h0m.1-19.2h0m.1 10.9h0m0 6.9h0m0-16h0m0-1.3h0m.1-5.8h0m0 21.6h0m.1-2.1h0m.1-20.4h0m0 21.6h0m.3-25.3h0m.1 19.2h0m.1 1.3h0m0-19.2h0m.3 23.7h0m0-10.8h0m.1-.1h0m.2 3h0m0 4.3h0m.2-.1h0m0 7.5h0m.1-25.2h0m0 11.3h0m.3-19.9h0m.3-2.8h0m.1 24.7h0m.1-5.4h0m.2-4.9h0m0-12.1h0m.1 .5h0m.1 8.8h0m0 7.1h0m0-.9h0m.1-1.8h0m.1-6h0m.2-.9h0m0-11.3h0m.3 20.1h0m.1-13.7h0m0-.3h0m0-9.4h0m.3 4.9h0m0-6.1h0m.1 4.5h0m.1-3.2h0m.1 10.7h0m0-3.2h0m.1-10.9h0m0-.1h0m.1 12h0m.2 7h0m.1-.7h0m.2-14.6h0m0-7.5h0m0 20.2h0m.1-6.7h0m0-.5h0m.2-2.4h0m0-12.2h0m.1 16.2h0m.2-22.4h0m.1 22.6h0m.1-23.6h0m0 25.3h0m.1-6.9h0m.1-.4h0m.1-28.8h0m.3 23.6h0m0-2.2h0m0 .2h0m.1-3.8h0m0-14.1h0m.1 .2h0m0 11h0m.1-15.5h0m0 21.5h0m.3 5.7h0m0-15.3h0m.2-1h0m.1-7.2h0m0 14.3h0m.1-4.1h0m0 6.3h0m0-23.8h0m.2 14.9h0m.4 5.5h0m.1-30.3h0m.1 10.8h0m.1 9.3h0m.1-9.7h0m0 18.9h0m.1-29.5h0m0 16.8h0m.1-4.1h0m0-12.7h0m.2 15h0m0 4h0m.2-.1h0m.1-6.7h0m.1 9.8h0m.1-14.6h0m0 .6h0m0 13.9h0m.1-10.5h0m0 6.6h0m.1-4h0m0 4.6h0m.5 2.8h0m.2-20.2h0m.1 13.6h0m.1-.2h0m.2-11.5h0m.1-4.7h0m.1 1h0m0-12.2h0m.1 35.6h0m0-4.7h0m.1-4.7h0m.1-3.8h0m0-5.7h0m.1-3.1h0m.1-8.6h0m0 29.6h0m0-16.4h0m0 1.3h0m0 11.8h0m0-7.5h0m0-2.6h0m.6 9.3h0m0 1.6h0m0-5.5h0m0-8.2h0m0-4.6h0m.2 12.2h0m0-10.7h0m0-13.5h0m0 22.1h0m.1 2.1h0m.1-4.9h0m.1-14h0m0 14.5h0m.2-.6h0m0-1.1h0m.2 12.1h0m.1-17.6h0m.1 1.3h0m.1 1.5h0m0 18.1h0m0-17.6h0m.1-2.9h0m.1 11.8h0m.2-9.8h0m0-.4h0m.1 6.8h0m0-2.3h0m.1-16.5h0m.1 15.3h0m.3-19.3h0m.2 14.2h0m.1 7.9h0m.4-8.1h0m0 9.9h0m0-17.7h0m.1 16.2h0m.2 6.7h0m.1-3.6h0m.2-8.2h0m.1 3.1h0m0 23.2h0m0-18.6h0m.1-4.5h0m.1 13.6h0m0-13.4h0m0 2.9h0m.2-8.9h0m.2 17.6h0m0-18.2h0m.2 18.2h0m0-22.5h0m.1 31.1h0m.3-5.3h0m.1-5.9h0m.1 .2h0m.1-9.6h0m.1 6.9h0m0-5h0m.1-4.4h0m.3 17.6h0m.1-2.1h0m.2-8.6h0m.1 6.1h0m0 13.6h0m0-15.7h0m.1-6.9h0m.2 14.3h0m.3-.3h0m0 5.9h0m0 2.4h0m.2-18.3h0m0 3.5h0m.1-15.3h0m0 19.9h0m.1 13.7h0m.1 6.1h0m.3 20.7h0m0-.7h0m0-27.8h0m.1 5.4h0m0 .1h0m.4 26.2h0m0-27.5h0m0 11.3h0m0 13.1h0m.1-8.3h0m.1 11.4h0m.1 1.3h0m.2-13.3h0m0-4h0m.3 1.2h0m.1 15.1h0m0-19.4h0m.1 11.3h0m.1-22.1h0m0 20.3h0m.1-4.4h0m.4-7.5h0m.1 20.1h0m.1-5.8h0m.2 5.9h0m0-11.7h0m0 17.7h0m.1-23.6h0m.1 3h0m0 13.4h0m.1-2.6h0m.4 3h0m.1-16.8h0m0 17.2h0m.1-2.2h0m0-12.3h0m0-1.2h0m.1 1.4h0m.1-7.7h0m0 24.6h0m.1-20h0m0 6.3h0m.2-8.1h0m.2-13.3h0m.3 4.6h0m0 28.2h0m.1-26.3h0m0 9.3h0m0 .4h0m.1 1.9h0m.1-.6h0m.2-.2h0m0 8.4h0m0-11.5h0m.1 4.4h0m0-16.2h0m0 19.2h0m.1-22.7h0m0 23.9h0m.1-15.4h0m0 .1h0m.1 1.3h0m.2-3.8h0m.2 4h0m0 12.2h0m.2-22.3h0m.1 11.2h0m0 .6h0m0 2.3h0m0-8h0m.3-.7h0m.2 6.3h0m0 3.8h0m.2-11h0m.1-.5h0m0 1.1h0m.1 1.9h0m0 5.6h0m.1-13.4h0m.3 8.5h0m0 .8h0m.1-4h0m.1 23.6h0m.1-4.1h0m.1-26.2h0m.1 21.9h0m.1-12.2h0m.2 1.4h0m0 4.7h0m.1 1.5h0m.1 10.2h0m.1-10.4h0m.1 1.7h0m.1 10.7h0m.2-20.8h0m0 4.9h0m.1 2.3h0m.3 5.2h0m.1-6.9h0m.1 15.1h0m0-4.3h0m.1-19.9h0m.2 3.4h0m.1 20.1h0m.2 1h0m.3-6.7h0m0 4.9h0m.1-16.9h0m0 4.8h0m0-9.3h0m.1-1h0m.2 22h0m0-6.3h0m.1 9.1h0m.1-31.1h0m0 22.1h0m0 4.2h0m0-9.7h0m.2-12h0m0 13.3h0m0-13.4h0m.1-3.5h0m0 10.3h0m.7-3.1h0m.2-2h0m0 12.1h0m.2-23.6h0m0 7.7h0m.1 15.6h0m0-12.6h0m0-10.5h0m.2-6.5h0m.2 3.7h0m.2 13.6h0m0-9.2h0m.4 5.1h0m0-9.5h0m0 3.5h0m0-.2h0m0-2.2h0m.1 19.2h0m0-25.8h0m.2 28.4h0m0-18.8h0m.3-12h0m.1 27.7h0m.5-8.5h0m0 8.7h0m.1 5.6h0m0 3h0m.1-18h0m0 12.2h0m.3-8.9h0m.1-11.7h0m.1 24.3h0m.4-6.2h0m.2-20.7h0m.1 10.6h0m.4-3.4h0m.2 14.9h0m0-4.8h0m.1-.3h0m.1-16.3h0m.1 15.6h0m.1-9.3h0m0 16.8h0m.1-9.9h0m0 10.9h0m.1-21.4h0m.1 15.5h0m0 11.3h0m.1-12.7h0m0 7.7h0m.1-7.8h0m.1-7.2h0m0 20.2h0m.2-3h0m0-9.3h0m0-1.4h0m.2-2.4h0m.4 4.1h0m0 4.5h0m0 14h0m.2 .7h0m.1-9.4h0m0 6.6h0m0 4.9h0m0-23.8h0m.1 28.5h0m0-27h0m.2 8.2h0m.1 18.3h0m0-1.9h0m.1-15.7h0m0 13.3h0m.2 7.6h0m0-10.3h0m.1 .3h0m.1-7.4h0m.2 7h0m.2 8.9h0m0-7.5h0m.1-2.7h0m0 8.6h0m0-1.6h0m0-1.6h0m0-8.4h0m.2 1.9h0m.2 14.9h0m0-3.7h0m.2-6.5h0m.2-3.5h0m.3 18.9h0m.2 5.8h0m0-11.6h0m.1 8.5h0m.2 2.6h0m.1-1.7h0m.1-10h0m0 10h0m.1-17h0m0-.5h0m0 13.4h0m.2-5.1h0m.1 26.2h0m.1-22.6h0m.1-2.9h0m.2 2.6h0m.1-7.6h0m.1-2.1h0m0 26.6h0m.2-21.8h0m.2-3.6h0m0 22.9h0m0-12.3h0m0 12h0m.3 1.7h0m0-19.3h0m.1 4h0m.1 12.4h0m0-.4h0m.1-2.5h0m.1-1.6h0m.1-5.7h0m0-4.7h0m.1 .4h0m.3-4.4h0m.1 8.6h0m.1 .7h0m.2-19.3h0m.1 23.1h0m.1-2h0m0 3.7h0m.3-9.6h0m.1-10.7h0m.1-9.2h0m.2 29.1h0m0 1.9h0m.1-24.7h0m0 7.3h0m.2 4.1h0m0-6.6h0m.1 2.9h0m.1 20.8h0m0-3.2h0m0-26.7h0m0-1.3h0m.2 23.2h0m0-17.9h0m0 19.1h0m.2-20.4h0m0 1.3h0m.1-7.9h0m.1 19.4h0m0 12.9h0m0-36h0m0 14.1h0m.2-9.4h0m.3-1.6h0m.1-2.6h0m.2 19.5h0m0 7.2h0m.1-15.2h0m.1-13.3h0m.1 33.2h0m.1-24.4h0m.1 15.1h0m0-19.5h0m.1 15.1h0m.1-12.5h0m.1 19.3h0m.1-21.7h0m.1 12.4h0m.1 11.1h0m0-28.7h0m.1 24.3h0m0-1.2h0m.2-16h0m.2-2.4h0m.1-1.9h0m.1 13h0m.2 5.9h0m.1-20h0m0-3.5h0m.4 19.9h0m.1-13.5h0m.1-1.1h0m0 1.4h0m.2-7.7h0m.1 20.1h0m0-20.9h0m.1 24.4h0m.1-22.2h0m.1-1.2h0m0-2.9h0m0-1.8h0m0-8.2h0m.1 24.1h0m.1-7.8h0m.1 2h0m.1 6h0m.1 9.1h0m0-12.5h0m0-5.8h0m.3 8.9h0m.2-26.8h0m0 19.2h0m.1-1.6h0m0-15.9h0m.1 30.5h0m.1-21.4h0m0 1h0m.1 6h0m.1 14.2h0m0-12h0m.3 5.6h0m0-16.2h0m.1 4h0m.2 13.9h0m0-10.2h0m.2 5h0m0 14.7h0m0-11.3h0m.2-13h0m.1 3.5h0m.1 14.5h0m0-6.5h0m.1-2.8h0m.1 4.5h0m0 6.2h0m0-10.7h0m0 17.3h0m.2-14.5h0m.1-7.5h0m.4-3.6h0m0 .5h0m.4 8.4h0m0-9.7h0m.2 20.9h0m.1-2.4h0m0-3.5h0m.1 8.5h0m0-4.4h0m.1 8.5h0m0 3.6h0m.1-16.2h0m.3 26.1h0m.1 2.6h0m.4-20.6h0m.1 3.4h0m.4-.9h0m.1-.1h0m0 19.7h0m0 3.6h0m.1-23.4h0m.1 9.5h0m.2 22.1h0m.1-5.9h0m.1-26.5h0m0 15h0m.1 8.8h0m0-2.7h0m0 2h0m0-9.9h0m.1-13.8h0m0 26.1h0m.1-11.4h0m.1 0h0m0 8.6h0m.1-8.9h0m.2-13.6h0m.1 21.2h0m.5-19.8h0m.1 4.8h0m0 5.9h0m0-6.6h0m.1-.7h0m0-5.3h0m0 .7h0m.1-3.2h0m0-1h0m.1 6.4h0m.2-13.6h0m0-3.9h0m.1-.9h0m.1 9.9h0m.1 8.8h0m.1-14.3h0m.2 20.3h0m.1-12.3h0m0-4.8h0m.3 14.1h0m.1-13h0m0-4.9h0m.1-.8h0m.1-12.9h0m.1 23.3h0m.2-2.1h0m.4-3h0m.1 13.8h0m0-9.9h0m.2 2.7h0m.2-23.7h0m.1 10.4h0m.1 2.7h0m.1-4.9h0m0 5.5h0m.3-15.5h0m.1 .1h0m0 7.2h0m.2-3.8h0m.1 9.3h0m0 .7h0m.1-14.8h0m.2 15.5h0m.2-.6h0m.1-18.3h0m.2 4.7h0m.1-4.3h0m0 5.4h0m.2-2.9h0m.3-2.7h0m0 17.7h0m.2-4.7h0m.2-9h0m.2-4.5h0m0 16.9h0m.2-2.5h0m.1-2.5h0m0-6.7h0m.1 12.4h0m0-18.8h0m.1 9h0m.1-13h0m0 3.8h0m0-1.8h0m.1 14.2h0m.1-25.9h0m0 28.8h0m.2-10.2h0m.1-5.4h0m0-1.7h0m.1 4.1h0m0 .3h0m.1-7.7h0m.2 16.1h0m0-15.2h0m0 .7h0m0 2.3h0m.1 15.1h0m.1-22.6h0m0 13.6h0m0 12.9h0m.1-16.2h0m.1 22.1h0m0-14.1h0m0 12.1h0m.1-11.4h0m.2 0h0m.2 12.8h0m0-21.4h0m.1 2.9h0m0-.1h0m.3-5.4h0m0 9.6h0m.2-4.8h0m0 13.6h0m.2 11.5h0m0 2h0m.1-12.1h0m.1 1h0m.3-.5h0m0 5.2h0m.1-10.3h0m0-.1h0m.2 12.6h0m0-3.1h0m0 9.1h0m.3-17.3h0m.1 16.1h0m.1-4.7h0m.2-9.5h0m0 15.5h0m0-23.4h0m.1 11.6h0m.1-10.9h0m.1 22.4h0m0-11.6h0m.2 3.2h0m.2-10.7h0m.3-7.7h0m0 19h0m.1-14.9h0m0 15h0m.4-.5h0m0-15.8h0m.1 15h0m.2-12.9h0m.1-6.7h0m0 .2h0m0 10.3h0m.2 11.7h0m.4-10.7h0m.1-5.9h0m.2 24h0m0-5.4h0m0-19.7h0m.1 21.7h0m.4-6h0m.2-16.7h0m0 14.7h0m.2 .8h0m0-3.7h0m.1 11.1h0m0-13.6h0m.1 11.1h0m0-1.2h0m.1-5.4h0m.1 9.8h0m0-26.6h0m.3 20.9h0m0-9.3h0m0-6.1h0m.2 18.6h0m.1 7.6h0m.2-25.7h0m0 10.4h0m.1 14.5h0m0-4.9h0m0 1.6h0m.2-10.2h0m.5-11.6h0m0 15.2h0m.1-11.8h0m.2-14.3h0m.2 24.6h0m0-11.2h0m.4 10.3h0m.1-13.6h0m.3 7.6h0m.1 6.6h0m.5-16.4h0m0 25.6h0m0-18.2h0m.1-2.7h0m.1 24.6h0m0-18.5h0m.2 10.8h0m.2-12.8h0m.1-5.2h0m.2 5.6h0m0 4.4h0m0 5h0m0-1.2h0m.1-9.2h0m.2 .2h0m0-3.3h0m.2-4.8h0m.1 13.4h0m.4-5.8h0m0 1.9h0m.1-2.2h0m0 4.8h0m.1-5.7h0m.3 3.2h0m.1 13.8h0m0-20.4h0m0 20.2h0m.1-7.9h0m.1 1.3h0m.2-1h0m0 9.6h0m.1 2.2h0m.3-17h0m.2 10.4h0m.3-6.5h0m.1 12.2h0m.2-17.4h0m0 22h0m.1-25.4h0m0 18.3h0m.2 5.5h0m.1-13.7h0m0-6.1h0m0 16.2h0m.1-13.3h0m0-4.6h0m.1 2.2h0m0 14.6h0m.1-17.1h0m0 .8h0m.1 16.4h0m0-21.9h0m.2-3.7h0m.1-1.8h0m.4 1.5h0m.1 21.3h0m0-12.2h0m0 15.8h0m0-3.4h0m.5-5.8h0m.1 10.7h0m0-.4h0m.1-20.6h0m0 28.7h0m.1-4.9h0m.2-15.2h0m.2 4.9h0m.1-10h0m0 2.2h0m.2 10.6h0m0-9.6h0m.1 9.2h0m.1-11h0m.1 19.1h0m.3-16.6h0m0 21.2h0m.2-14.8h0m0 13.5h0m.1-17.7h0m.1 14.4h0m0-19.1h0m0 21.7h0m.1-1.4h0m.1 1.2h0m0-5.9h0m0 10.5h0m.1-21.4h0m.3 3h0m.1 7h0m.1 10.9h0m.1-21.1h0m0 17.4h0m0 4.3h0m.2-19.3h0m0 13.2h0m.1 2.7h0m0-18.6h0m.1 7.6h0m.2 5.7h0m0-9.6h0m.1 20.1h0m0-3.2h0m0-14h0m0 16.4h0m.1 9.3h0m0-.5h0m.1-19.9h0m0 5.9h0m.2-7.3h0m0 16.4h0m.2-16.3h0m.1 7.2h0m0 15.7h0m0-2.5h0m0-5.3h0m.1 11.1h0m.2-6.6h0m0-14.6h0m.1-.1h0m.1 15.6h0m0-.1h0m.1-1.6h0m.2 6.6h0m0-2.3h0m0 5.2h0m0 .2h0m0 3.7h0m0-.8h0m.1-26.7h0m0 6h0m.2 15.5h0m0 2.5h0m0-6.6h0m.1-12.2h0m.3 20h0m0-3.5h0m0-.4h0m.1-2.4h0" stroke="#000" stroke-width="3.7" stroke-linecap="round" fill="none"/>
<path d="M473.6 661h4.8l-2.4 4.6zM799.1 661h4.8l-2.4 4.6zM842.1 661h4.8l-2.4 4.6zM994.1 661h4.8l-2.4 4.6zM1017.1 661h4.8l-2.4 4.6zM1032.0 661h4.8l-2.4 4.6zM1039.0 661h4.8l-2.4 4.6zM1054.6 661h4.8l-2.4 4.6zM1055.1 661h4.8l-2.4 4.6z" fill="#ffa500" stroke="#ffa500" stroke-width="0.7" stroke-linejoin="round"/>
<rect x="105.5" y="499.0" width="1255.5" height="48.700000000000045" fill="#f00" fill-opacity="0.1"/>
<rect x="162.0" y="530.2" width="687.0" height="18.59999999999991" fill="#ffa500" fill-opacity="0.12"/>
<rect x="849.0" y="488.8" width="211.0" height="26.099999999999966" fill="#ffa500" fill-opacity="0.12"/>
<rect x="1060.0" y="467.2" width="173.0" height="39.69999999999999" fill="#ffa500" fill-opacity="0.12"/>
<rect x="1233.0" y="496.5" width="70.20000000000005" height="31.5" fill="#ffa500" fill-opacity="0.12"/>
<line x1="160.6" y1="539.5" x2="850.4" y2="539.5" stroke="#ffa500" stroke-width="2.9"/>
<line x1="847.6" y1="502.5" x2="1061.4" y2="502.5" stroke="#ffa500" stroke-width="2.9"/>
<line x1="1058.6" y1="487.5" x2="1234.4" y2="487.5" stroke="#ffa500" stroke-width="2.9"/>
<line x1="1231.6" y1="512.5" x2="1304.6000000000001" y2="512.5" stroke="#ffa500" stroke-width="2.9"/>
<line x1="105.5" y1="523" x2="1361.0" y2="523" stroke="#f00" stroke-width="2.08"/>
<line x1="162.0" y1="666.0" x2="162.0" y2="380.5" stroke="#800080" stroke-width="2.083" stroke-dasharray="2.0833 3.4375"/><line x1="849.0" y1="666.0" x2="849.0" y2="380.5" stroke="#800080" stroke-width="2.083" stroke-dasharray="2.0833 3.4375"/><line x1="1060.0" y1="666.0" x2="1060.0" y2="380.5" stroke="#800080" stroke-width="2.083" stroke-dasharray="2.0833 3.4375"/><line x1="1233.0" y1="666.0" x2="1233.0" y2="380.5" stroke="#800080" stroke-width="2.083" stroke-dasharray="2.0833 3.4375"/><line x1="1303.2" y1="666.0" x2="1303.2" y2="380.5" stroke="#800080" stroke-width="2.083" stroke-dasharray="2.0833 3.4375"/>
</g>
<rect x="105.5" y="380.5" width="1380.0" height="286.0" fill="none" stroke="#000" stroke-width="1.1"/>
<line x1="162.5" y1="666.5" x2="162.5" y2="671.9" stroke="#000" stroke-width="1.1"/><text transform="translate(159.14,687.00) scale(1.0524,1)" font-size="14.14" fill="#000">0</text><line x1="345.5" y1="666.5" x2="345.5" y2="671.9" stroke="#000" stroke-width="1.1"/><text transform="translate(327.80,687.00) scale(1.0991,1)" font-size="14.14" fill="#000">2000</text><line x1="527.5" y1="666.5" x2="527.5" y2="671.9" stroke="#000" stroke-width="1.1"/><text transform="translate(511.46,687.00) scale(1.0570,1)" font-size="14.14" fill="#000">4000</text><line x1="710.5" y1="666.5" x2="710.5" y2="671.9" stroke="#000" stroke-width="1.1"/><text transform="translate(692.84,687.00) scale(1.0954,1)" font-size="14.14" fill="#000">6000</text><line x1="893.5" y1="666.5" x2="893.5" y2="671.9" stroke="#000" stroke-width="1.1"/><text transform="translate(875.86,687.00) scale(1.0856,1)" font-size="14.14" fill="#000">8000</text><line x1="1075.5" y1="666.5" x2="1075.5" y2="671.9" stroke="#000" stroke-width="1.1"/><text transform="translate(1054.42,687.00) scale(1.0566,1)" font-size="14.14" fill="#000">10000</text><line x1="1258.5" y1="666.5" x2="1258.5" y2="671.9" stroke="#000" stroke-width="1.1"/><text transform="translate(1237.08,687.00) scale(1.0567,1)" font-size="14.14" fill="#000">12000</text><line x1="1440.5" y1="666.5" x2="1440.5" y2="671.9" stroke="#000" stroke-width="1.1"/><text transform="translate(1419.36,687.00) scale(1.0706,1)" font-size="14.14" fill="#000">14000</text>
<line x1="100.1" y1="391.5" x2="105.5" y2="391.5" stroke="#000" stroke-width="1.1"/><text transform="translate(65.18,396.70) scale(1.0597,1)" font-size="14.14" fill="#000">9.10</text>
<line x1="100.1" y1="445.5" x2="105.5" y2="445.5" stroke="#000" stroke-width="1.1"/><text transform="translate(65.64,450.70) scale(1.0394,1)" font-size="14.14" fill="#000">9.05</text>
<line x1="100.1" y1="500.5" x2="105.5" y2="500.5" stroke="#000" stroke-width="1.1"/><text transform="translate(65.18,505.70) scale(1.0597,1)" font-size="14.14" fill="#000">9.00</text>
<line x1="100.1" y1="555.5" x2="105.5" y2="555.5" stroke="#000" stroke-width="1.1"/><text transform="translate(63.88,560.70) scale(1.1027,1)" font-size="14.14" fill="#000">8.95</text>
<line x1="100.1" y1="609.5" x2="105.5" y2="609.5" stroke="#000" stroke-width="1.1"/><text transform="translate(63.68,614.70) scale(1.1130,1)" font-size="14.14" fill="#000">8.90</text>
<line x1="100.1" y1="664.5" x2="105.5" y2="664.5" stroke="#000" stroke-width="1.1"/><text transform="translate(63.88,669.70) scale(1.1027,1)" font-size="14.14" fill="#000">8.85</text>
<text transform="translate(706.68,372.00) scale(1.1155,1)" font-size="16.97" fill="#000">Magnitude Estimates</text>
<text transform="translate(483.42,657.00) scale(1.1087,1)" font-size="14.14" fill="#000">60926</text>
<text transform="translate(933.15,637.00) scale(1.0663,1)" font-size="14.14" fill="#000">42785</text>
<text transform="translate(1125.16,617.00) scale(1.0712,1)" font-size="14.14" fill="#000">42781</text>
<text transform="translate(1246.73,657.00) scale(1.0607,1)" font-size="14.14" fill="#000">42065</text>
<rect x="1365.4" y="387.5" width="113.29999999999995" height="48.10000000000002" rx="2.8" fill="#fff" fill-opacity="0.8" stroke="#ccc" stroke-width="1.1"/>
<line x1="1369" y1="399.5" x2="1400" y2="399.5" stroke="#ffa500" stroke-width="3.2"/>
<line x1="1369" y1="422" x2="1399.5" y2="422" stroke="#f00" stroke-width="2.08"/>
<text transform="translate(1409.93,403.80) scale(1.0758,1)" font-size="14.14" fill="#000">mag</text>
<text transform="translate(1439.90,406.10) scale(0.9294,1)" font-size="10.89" font-style="italic" fill="#000">OBSID</text>
<text transform="translate(1409.11,426.70) scale(1.0773,1)" font-size="14.14" fill="#000">mag</text>
<rect x="1348.3" y="613.3" width="130.4000000000001" height="45.90000000000009" rx="2.8" fill="#fff" fill-opacity="0.8" stroke="#ccc" stroke-width="1.1"/>
<circle cx="1367.5" cy="626.3" r="2" fill="#ffa500"/>
<circle cx="1367.5" cy="647.3" r="2" fill="#000"/>
<text transform="translate(1392.17,629.50) scale(1.1276,1)" font-size="14.14" fill="#000">Highlighted</text>
<text transform="translate(1393.59,650.70) scale(0.9093,1)" font-size="14.14" fill="#000">OK</text>
<g clip-path="url(#c3)">
<line x1="162.0" y1="1011.04" x2="162.0" y2="955.2" stroke="#800080" stroke-width="2.083" stroke-dasharray="2.0833 3.4375"/>
<line x1="162.0" y1="954.0" x2="162.0" y2="725.5" stroke="#800080" stroke-width="2.083" stroke-dasharray="2.0833 3.4375"/>
<line x1="849.0" y1="1011.04" x2="849.0" y2="955.2" stroke="#800080" stroke-width="2.083" stroke-dasharray="2.0833 3.4375"/>
<line x1="849.0" y1="954.0" x2="849.0" y2="725.5" stroke="#800080" stroke-width="2.083" stroke-dasharray="2.0833 3.4375"/>
<line x1="1060.0" y1="1011.04" x2="1060.0" y2="955.2" stroke="#800080" stroke-width="2.083" stroke-dasharray="2.0833 3.4375"/>
<line x1="1060.0" y1="954.0" x2="1060.0" y2="725.5" stroke="#800080" stroke-width="2.083" stroke-dasharray="2.0833 3.4375"/>
<line x1="1233.0" y1="1011.04" x2="1233.0" y2="955.2" stroke="#800080" stroke-width="2.083" stroke-dasharray="2.0833 3.4375"/>
<line x1="1233.0" y1="954.0" x2="1233.0" y2="725.5" stroke="#800080" stroke-width="2.083" stroke-dasharray="2.0833 3.4375"/>
<line x1="1303.2" y1="1011.04" x2="1303.2" y2="955.2" stroke="#800080" stroke-width="2.083" stroke-dasharray="2.0833 3.4375"/>
<line x1="1303.2" y1="954.0" x2="1303.2" y2="725.5" stroke="#800080" stroke-width="2.083" stroke-dasharray="2.0833 3.4375"/>
<rect x="161.4" y="762.0" width="8.5" height="3" rx="0.8" fill="#000"/>
<rect x="847.9" y="762.0" width="9.1" height="3" rx="0.8" fill="#000"/>
<rect x="915.2" y="762.0" width="42.9" height="3" rx="0.8" fill="#000"/>
<rect x="1059.1" y="762.0" width="8.6" height="3" rx="0.8" fill="#000"/>
<rect x="1232.0" y="762.0" width="6.0" height="3" rx="0.8" fill="#000"/>
<path d="M780.5 840.4h0M816.5 840.4h0M994.2 840.4h0M1014 840.4h0M1018.4 840.4h0M1020.5 840.4h0M1024.4 840.4h0M1028.8 840.4h0M1041.2 840.4h0M1043.3 840.4h0M1047.2 840.4h0M1053.2 840.4h0M1060.4 840.4h0M1150.2 840.4h0M588 878.3h0M780.5 878.3h0M816.5 878.3h0M994.2 878.3h0M1014 878.3h0M1018.4 878.3h0M1020.5 878.3h0M1024.4 878.3h0M1028.8 878.3h0M1041.2 878.3h0M1043.3 878.3h0M1047.2 878.3h0M1053.2 878.3h0M1060.4 878.3h0M1150.2 878.3h0" stroke="#000" stroke-width="3" stroke-linecap="round" fill="none"/>
<path d="M168.6 998.6h0m0 .4h0m0 0h0m.4 .6h0m0 .1h0m.1 0h0m.8 1.2h0m.3 .8h0m.1-.2h0m.1 .2h0m.1 .1h0m.3 .4h0m.5 1h0m.1-.1h0m.2-.2h0m.1 .3h0m.2-.3h0m.2-.1h0m.2 1.6h0m.1-2.3h0m0 .5h0m.2-.9h0m.2 1.1h0m0 .2h0m.2 .2h0m.3 0h0m.4 .9h0m.4 .5h0m.2-.8h0m.2-.7h0m.2 1h0m.3-1.2h0m.2-.2h0m.2-.9h0m.3 1.2h0m.1 0h0m.7-1h0m.1 .8h0m.1-.4h0m.1 .4h0m.2-.8h0m.1 1.4h0m.1 .2h0m.3-1.6h0m.2 .9h0m.2-.8h0m0 .3h0m.6 .2h0m.1 .9h0m.3-.5h0m.5 .7h0m.4-.3h0m0 .7h0m.1-.7h0m.6-.3h0m0 1.6h0m.2-.3h0m.1-.3h0m0 .3h0m0-.1h0m.8-.2h0m.1 .3h0m0-1.6h0m0 .6h0m.1 1h0m.1 .4h0m.4-.6h0m.2 0h0m0-.7h0m.5-.2h0m.1 1.5h0m.3-1h0m.1 1h0m.3-.6h0m0 .1h0m.1-1h0m0-.1h0m.2 1.1h0m0-.5h0m.3-.4h0m.1 .4h0m.1-1.1h0m.3 .7h0m.7 .8h0m.3 .2h0m.2-.6h0m.1-.1h0m.4 .4h0m.2-.7h0m.4 .3h0m.3-.5h0m.2 .3h0m.7-1.1h0m0-.3h0m.1 .4h0m0 1.6h0m0-.7h0m.4-.8h0m.3 1h0m.2 .1h0m.6-.5h0m.3-.4h0m.3 1.7h0m0-2.3h0m.3 1.2h0m.3-.5h0m0-.2h0m.2 1.3h0m0-2.6h0m.3 .9h0m.2 1.9h0m0-1.8h0m.1-.1h0m.2 1.2h0m.3-.8h0m.2 1.4h0m.2-.3h0m0-1.3h0m0 .5h0m.1-.3h0m.1 1.3h0m.1-.9h0m.1 .3h0m.2-.1h0m0-.2h0m0 .4h0m.2 .2h0m.4-1.1h0m.5 .9h0m.2-1.2h0m0 1.6h0m.1-.6h0m.4 .6h0m.1 .5h0m0-.9h0m.1 .5h0m.3-.5h0m.2 1h0m.4-.2h0m.1 .1h0m0-1.2h0m.1 .6h0m0 .2h0m.2 .1h0m.1 .1h0m.2 .8h0m.3-.5h0m.1-.5h0m.6 .6h0m.1 .4h0m.1-.5h0m.5 .3h0m1.2 1.2h0m0-1.1h0m.3-.9h0m0 1.1h0m.2-.3h0m.3 .3h0m.1-.4h0m.2-.2h0m.1 .5h0m.1-.6h0m.4 .3h0m.2-.9h0m0 .6h0m.1-.7h0m0 .7h0m.4-.4h0m.4-.4h0m.2 .2h0m.1-.7h0m.1 .4h0m.1 1.2h0m.2-2.1h0m.3-.1h0m.2 .3h0m.3 1.1h0m.2-1.3h0m.5 1.1h0m0 .5h0m.6-1.9h0m.1 1.8h0m.1-.7h0m.3-.9h0m.1 .8h0m.1 .7h0m.6-.6h0m.3-.3h0m0 2h0m.1-3.5h0m0 1.7h0m.2-.1h0m.5 .6h0m0-.2h0m.9-1.1h0m0 1.1h0m.1-1.2h0m.2 .3h0m.1 .5h0m.1 .6h0m0-.5h0m.3 .6h0m0 .1h0m.7-.8h0m0-.8h0m.1 1h0m.3-1.9h0m.3 1.3h0m0-.1h0m.3-.8h0m.1 1.1h0m0 .8h0m.1-1.6h0m.1 .9h0m1 0h0m.2-.9h0m.1 .4h0m.2 .2h0m.1-1h0m.1 .7h0m.1 .1h0m.3 1h0m.1-1.5h0m0 .9h0m0 1h0m.4-.6h0m.2-.2h0m.2-.7h0m0 0h0m.2-.5h0m.3 .6h0m0 1.3h0m.9-1.4h0m.6-.6h0m.3 2.1h0m.4-.4h0m.4-.1h0m0-.1h0m.2-.3h0m.2 .4h0m.1 .1h0m.4-.7h0m.2 .3h0m.4-.3h0m.2-.3h0m.2 .1h0m.1 1.2h0m.3-1.2h0m0-.6h0m.4 .7h0m.2 .3h0m.4-.8h0m.3 1.6h0m.3-1.5h0m0 .5h0m.2 .2h0m.4-.7h0m0 .6h0m.3-.3h0m.1 .4h0m.1 .1h0m.1-.6h0m0-1.4h0m.4 1.1h0m1 .7h0m.1-.3h0m.2 .3h0m.1-.3h0m.2 .1h0m.1-1h0m.8 .7h0m.2 .5h0m0-.8h0m.2-.3h0m0 2h0m.3-.4h0m.2-1.9h0m0 1.9h0m.2-.8h0m0 1.3h0m0-1.2h0m.1-.3h0m.1 1.7h0m.1-1h0m.1-.5h0m.3 .2h0m.5 .1h0m.2 2h0m.4-1.2h0m.2-.7h0m0 .5h0m.3 .6h0m0-.7h0m.4-.6h0m0-.9h0m.1 1h0m0 .9h0m0 0h0m.2-1.4h0m.3 .7h0m.3-.9h0m0 1h0m.2-.8h0m.2 .5h0m.2-.5h0m0-.1h0m.1 .5h0m.2-.3h0m.1-1.4h0m.2-.6h0m.3 2.3h0m0-1.5h0m.1 .3h0m1.1-.6h0m.7-.1h0m.2-.2h0m.1 .1h0m.1 .6h0m.1 0h0m.4-.5h0m.5 .7h0m.2-1h0m0 .3h0m.2-.2h0m.1 .5h0m.6 .4h0m.1-1.8h0m.2 1.9h0m.1 .7h0m.1-.9h0m.1 1.3h0m.3 0h0m0-.2h0m.6 .2h0m.5-1.9h0m.5 1.7h0m0 .1h0m.1-.5h0m.1 .8h0m.3-.2h0m.5 1h0m.6 .3h0m0-.9h0m.2-.6h0m0 1.3h0m.1-1.2h0m.1 1.6h0m.1-.9h0m0 .5h0m0 .6h0m.1-.5h0m.1 .3h0m.3-.1h0m.4 .2h0m.1-1h0m.8 2.6h0m.4-2.8h0m.4 1.5h0m.1 0h0m.3 .9h0m.4-1h0m.1 1.1h0m.2-.1h0m.1-.9h0m0 .9h0m.3-.7h0m.4 .2h0m.3-.2h0m.3-.8h0m0 1h0m.1 .2h0m.2-1.4h0m.2-.2h0m.2 1h0m.2-1h0m.4 .3h0m.7-.3h0m.2-.2h0m.4-.5h0m0 .8h0m.1-1.3h0m0 .5h0m.5 0h0m.2 .6h0m.1-1.2h0m0 1.2h0m.2-.3h0m.1 .4h0m.4-.2h0m.2 .1h0m.1-.8h0m.5 .7h0m.2-.2h0m0 .5h0m.2 .8h0m.4-.1h0m.2-.8h0m.2 .9h0m.4 .1h0m.8 .3h0m0-1.2h0m.1-.6h0m0 .9h0m1 .1h0m.2 .6h0m.1-1h0m.9 .7h0m.2-.8h0m.1 1.8h0m.2-1.9h0m.1-.2h0m.5 .3h0m0-.6h0m.4 1.4h0m.2-.9h0m.6 1.2h0m.1-.9h0m.2-.1h0m.2-.3h0m.1 1.9h0m.2-1.1h0m.1-.2h0m.1 .6h0m.2-.2h0m0-.2h0m.2 .5h0m0 1.2h0m.4-1.5h0m.1-.1h0m.2 .5h0m0-.5h0m.8-.9h0m0-.1h0m.5 1.2h0m0-1h0m.4 .5h0m.2 .5h0m.3-.1h0m.1-1.1h0m0 .8h0m.1-.5h0m0 1h0m.2-1.3h0m.1 .2h0m.2-1h0m0 1.8h0m.5-1h0m.1-.5h0m.1 .9h0m0 1.3h0m.1-1.6h0m0-.2h0m.3 .3h0m.3 .3h0m.9 .4h0m.3-2.2h0m0 1.8h0m.2 .6h0m.1-.6h0m.5 .2h0m.1 .2h0m0 .1h0m.1-.8h0m.5-.6h0m0 .7h0m.1-.2h0m0-.3h0m0-.3h0m.1 1.1h0m0-1.1h0m.3-1.1h0m.1 1.2h0m.4-.1h0m0 0h0m.1-1h0m0 .4h0m.1 1.4h0m.1-.8h0m0-.4h0m.2 .5h0m0-.2h0m.2-.2h0m.2-.8h0m.2 1.5h0m.2-.7h0m.3-.6h0m0 .1h0m.2 0h0m.1 .2h0m.1-.9h0m.2 1.1h0m.1 .4h0m.3-1.2h0m.1-.1h0m.8 .3h0m.4-.1h0m.1-.1h0m0-1h0m.1 1.2h0m.3-.3h0m.1-.1h0m.3-.7h0m.2 1.6h0m.4-.4h0m.3 .8h0m.1-.1h0m.1 .4h0m0-1.2h0m.1 .9h0m.2-1h0m.1-.2h0m0-.1h0m0 .5h0m.1 2.3h0m0-2.4h0m.1 1h0m.2 .3h0m.1-.5h0m0-1h0m0 1.7h0m.1-.6h0m.1-1.6h0m0 2h0m.5-1.2h0m.2 1.5h0m0-.1h0m.1-.5h0m.1-.1h0m.2 0h0m.2 1.1h0m.1-.3h0m0-.4h0m0-.5h0m.6 .8h0m.2-1.4h0m.2 1.6h0m.5-.8h0m.2 1h0m.3-.1h0m.2-.6h0m.1 .2h0m.4-1h0m.4 1.9h0m.2-.6h0m.1 0h0m.4-.6h0m.1 .2h0m0-.3h0m0 0h0m.3 1h0m0-.3h0m.2-1.5h0m.1 .9h0m0-.5h0m0 .8h0m.1-.2h0m.2-.7h0m.2 .8h0m.1-1.3h0m.2 1.2h0m.1-1h0m0 1h0m.1-1.3h0m.3 .5h0m0 1.7h0m0-.5h0m.3-1h0m.3-1.5h0m.2 1.9h0m.3 .5h0m.2-.6h0m.1-.5h0m0 1.3h0m.1-1.4h0m.2 1.6h0m.3-1.3h0m.5 .5h0m.3-.1h0m0 .2h0m0-.4h0m.2-.2h0m.8 .2h0m.1 .5h0m0 .5h0m.4-.8h0m.3-.3h0m0 .1h0m.2 .2h0m.1-.9h0m.1 1.8h0m0-.2h0m.3-.7h0m.4 .1h0m.1 0h0m0 .2h0m.1-.2h0m.4 .6h0m.1 0h0m.1-.9h0m.1-.1h0m0 .3h0m.4 .2h0m.6 .6h0m.2 .8h0m.1-1.5h0m.1 .9h0m0-.1h0m.1 .5h0m.6-.4h0m.2-.6h0m1 1.2h0m.3-.6h0m.1-.5h0m.1 .5h0m.1 1.2h0m.6-1.4h0m.2-.5h0m.1 1h0m0 0h0m.1-.2h0m.4-.2h0m.2 .7h0m0 .4h0m.1-.3h0m0-.7h0m.3-.6h0m.1 1.2h0m.2-.3h0m.2-.7h0m.4 .6h0m.2 .4h0m.3 .9h0m.3-1.8h0m.4 .6h0m.4-1.1h0m0 .3h0m.2 .1h0m.1 .5h0m.2 .1h0m.1 .1h0m0-.9h0m.2 .4h0m.1 1.6h0m.2-1.7h0m.2 0h0m.6-.6h0m.3 .7h0m.2-.1h0m.1 .8h0m.2 .1h0m0-.8h0m.6 .5h0m.2 .1h0m.2 .4h0m.6-.9h0m.2-.2h0m.3-.1h0m.1 .5h0m0-.2h0m0 1h0m.1 0h0m.2-1.1h0m.2-.1h0m.3 0h0m.2 .2h0m0 0h0m.5 .6h0m0-.3h0m.1-1.7h0m.2 1.5h0m.2-.5h0m.3 .9h0m.1-.9h0m.3 .2h0m.3-.4h0m.1 .5h0m.2-.5h0m.1-2.1h0m.1 1.3h0m0 .5h0m.3-1.1h0m.3 1.4h0m.1 .1h0m0 .1h0m.3 .8h0m.2 .4h0m.3-.2h0m.1-1.5h0m0 .6h0m.8 .3h0m.1 .3h0m0-1.2h0m0 0h0m.1-.5h0m.2 1.6h0m.3-1h0m.2 .6h0m0 .6h0m0 1.2h0m.1-2h0m.3 1.3h0m.6-.4h0m0-.7h0m.2 .5h0m.1 1h0m.2-1.5h0m0 1.3h0m.1-.7h0m.1 1.1h0m0-2.1h0m.1 1.6h0m.5-.8h0m0-.1h0m0-.1h0m.2 1.6h0m.4-.4h0m.7-1.5h0m.1 1.2h0m.3-.8h0m.1 0h0m.6 1.1h0m.1-1h0m.1 .3h0m.3-.4h0m0 .6h0m.1-.2h0m.1-.2h0m.1-.3h0m0 .2h0m.3-.4h0m0 .7h0m.3-.3h0m.2 .7h0m0 .6h0m.2-.6h0m.3-1.4h0m0 1.5h0m.1-1.3h0m.3 1.1h0m.1-.1h0m0-1.1h0m0 .3h0m0 .7h0m.1-.6h0m.1 .5h0m0 .3h0m.2-.7h0m.2-1h0m.1 .1h0m0 1.2h0m.3 .2h0m.2-.7h0m.1 .5h0m0-.7h0m0 .2h0m.2 0h0m.1 .5h0m0-.7h0m.1-.5h0m.3 .2h0m0 .7h0m.1 .6h0m0-1.7h0m.4 .6h0m.2-.4h0m.4-.7h0m.1 .6h0m0-1.6h0m.1-.4h0m.3 2.6h0m.3-.5h0m.1-.3h0m.1 0h0m.1-.4h0m0 .7h0m.5-.2h0m0-1.2h0m0 .6h0m.3 1.4h0m0-.9h0m.4 0h0m.1-.7h0m.1-.7h0m.3 .7h0m.1-.6h0m0 .5h0m.4 .3h0m.2-1.6h0m.3 1.5h0m0-.4h0m.3 .5h0m.3-.3h0m.1 .1h0m.1-.7h0m.2 1.1h0m.4-1h0m.1 1.5h0m.2-.5h0m.3 1.2h0m.4-2.1h0m0 .5h0m.1 0h0m.2 .9h0m.6-.3h0m.3 1.3h0m.2-2.2h0m0 1.8h0m.2-2.1h0m.2 1.6h0m.2 1h0m1-1h0m.2-1.6h0m.2 .4h0m.2 1.3h0m0-1.3h0m.2-1h0m.1-.1h0m.2 1.4h0m.1-.5h0m.1 .3h0m.1 .3h0m.3 .2h0m.1-.3h0m.4 .8h0m.1-2h0m.1 1.6h0m0 0h0m.1-.4h0m.8 .6h0m.3-.6h0m.2-.1h0m.8 1.1h0m.1-.3h0m.2 .4h0m.4-.4h0m.2 .2h0m.5-.3h0m0-.9h0m.1 1.7h0m.3 .3h0m.1-.1h0m.6-1.1h0m.1-.2h0m0 2.4h0m.4-1.9h0m0 .8h0m.4-.7h0m.1 1.4h0m.2-.3h0m.2-.3h0m.1-1.4h0m.2 .3h0m.1 1.3h0m0-.1h0m0 .5h0m.2-1.9h0m.3 1.9h0m.6-1.1h0m.3 .2h0m.1 1h0m.5-1.6h0m.1 .9h0m0 0h0m.2-.1h0m0-.5h0m1 .5h0m.1-.3h0m.2-.8h0m.4 .8h0m.6 .5h0m0-.2h0m.4-.4h0m.3-.1h0m.2-.3h0m.3 .4h0m.2 .7h0m.6-1.6h0m.1 1.6h0m0 .8h0m.1-1.4h0m.4-.6h0m.2 0h0m.2 .5h0m.1 1.1h0m.1-1.1h0m.1-1.6h0m.7 .8h0m0 1.3h0m.3-1.5h0m.1 .6h0m.2-1h0m.3 1.3h0m.2-.2h0m0 0h0m.8-.1h0m.4-.2h0m.2 .3h0m.1 .3h0m.1-1h0m.1 .2h0m1 .5h0m.1-.3h0m.2 0h0m.6 .3h0m.2-.8h0m.1 2.1h0m0-2h0m0-.2h0m.2 .5h0m.4 .3h0m.2-.5h0m0-.7h0m.2 .3h0m.3 1.6h0m0-1.3h0m.1-.1h0m.1 .1h0m.2 0h0m.1 .3h0m0 .7h0m.1-1h0m.2-.4h0m.1 1.9h0m.1-.5h0m.1 .3h0m.4-.1h0m.3-.1h0m.2-.5h0m.1 .2h0m0 .7h0m0-.8h0m0 .3h0m.2-.7h0m.6 1.1h0m.1 .5h0m.4-1.4h0m.2 .4h0m.4-.3h0m0 .1h0m.6-.1h0m0-.4h0m.3 1.3h0m.5-1.7h0m.3 1h0m.1-.7h0m0-.5h0m.1 .7h0m.2 .7h0m0-.3h0m.7-1.3h0m.1 .2h0m.1 0h0m.1-.1h0m0 .8h0m.2 .8h0m.3-1.4h0m.2 .2h0m.2 .8h0m.1-.2h0m.6 0h0m.6-1.3h0m.2 1.2h0m0-.1h0m.1 .1h0m.9 .7h0m.2-.7h0m.4 .8h0m0-.6h0m0 .4h0m.2-.9h0m.1 .9h0m.1 1.1h0m.3-1.5h0m.4 1.2h0m0-.2h0m.1-.9h0m0-.1h0m.8 1h0m.6-1.3h0m.3-.6h0m.1 2h0m0-.3h0m.1-.8h0m0 1.6h0m.4 .2h0m.3-.7h0m.2-.9h0m1 .7h0m.1-.2h0m.4-1h0m0-.2h0m.3 1.1h0m.5-.3h0m.5-.7h0m.1 .9h0m.3 .6h0m.1-1.5h0m.3 .4h0m.1-.5h0m0-.5h0m.2 1.3h0m.3-.1h0m.1-.7h0m.1-.2h0m.2-1.5h0m.2 2.4h0m.2 .1h0m.1-1.1h0m.1 1.1h0m.2-1.2h0m.1 1.3h0m0-.2h0m.5 0h0m0-.4h0m.3 1.8h0m0-2.1h0m.2 .8h0m.2 .3h0m.3-.1h0m.2 1.4h0m0-1.9h0m.1 .8h0m.2-.1h0m.2 .2h0m.3 1.3h0m.5-.7h0m0 .8h0m.2-.1h0m.3-.6h0m.2 .1h0m0 1.3h0m0-1.4h0m.1 .9h0m.8-.6h0m.1-.2h0m.1 1.6h0m.2-1.2h0m0 .2h0m.1 .5h0m.1-1.2h0m.3-.3h0m0 .1h0m.6 0h0m.1 .6h0m0-.4h0m.4 .2h0m.1 .3h0m.2-1.2h0m0-.5h0m.1 1.8h0m.3-2.1h0m.5 .6h0m.6-.5h0m.3-.3h0m.6 1.2h0m.1-1.5h0m0 1.2h0m.5-1.8h0m.4 .2h0m.1-.6h0m0 1.6h0m.3-.4h0m0-1.1h0m.3-.5h0m.2 2.3h0m.1 0h0m.1-.7h0m.1-1.1h0m.1 .4h0m.2-.3h0m.6 .9h0m.2-.2h0m.2 .1h0m.1 .4h0m.2-.2h0m1 .6h0m.1-.5h0m0-.4h0m.2 .2h0m0 .7h0m.1-.2h0m.2 .8h0m.5-.5h0m0-.4h0m.2 0h0m.1 .8h0m0 1.3h0m.4-1.5h0m0 .2h0m.3 1.3h0m.3-.2h0m.3-1.4h0m0 0h0m0 .9h0m.2-.6h0m0-.1h0m.3 .5h0m1-.3h0m.1-.4h0m.1 .6h0m.3 0h0m.7 .4h0m.5-1.4h0m.2 0h0m0 1h0m.1-1h0m.2 .7h0m.4 .7h0m.3 .4h0m.1-.4h0m.3-.9h0m.1 .2h0m.1 0h0m.7 0h0m0 1h0m.1-1h0m0 .1h0m.4-.2h0m.5 1.1h0m0-1.2h0m0 1h0m0-1h0m.1 1.2h0m.6-.4h0m0 .2h0m.1-.1h0m.2-1.2h0m.3 .5h0m.1 .7h0m.4-.9h0m.2 1.2h0m.3-.6h0m.1-1h0m.2 .9h0m.3 .4h0m.1-.1h0m.1-.6h0m.3 0h0m.2 .8h0m.2-1.8h0m.1 2.3h0m.3-1h0m0 .2h0m.7-.1h0m.2 .6h0m.1 0h0m.3-1.5h0m.2 .6h0m.2 1.2h0m.3 .5h0m.2-2h0m.6-.9h0m0 1.4h0m0-.1h0m.1 1h0m.3-1.6h0m.4 1h0m0-.1h0m.4-.2h0m.1-.5h0m.6 1.2h0m.9-1.2h0m0 1h0m.2-.2h0m.1 .5h0m.2-.3h0m.3-1.2h0m.1 .6h0m.1 .3h0m.3-.3h0m.1-.3h0m.1 .6h0m.1 .8h0m.2-.8h0m.6-.5h0m.2 .8h0m.1-.6h0m0 .8h0m.2-.2h0m.1 .2h0m.6-1.5h0m.1 2.3h0m0-.4h0m.4-2.2h0m.1 .9h0m.4-.4h0m0 2.1h0m0-.9h0m.2-.9h0m.1 .4h0m.3-.7h0m0-.9h0m.2 .9h0m0 .4h0m0-.3h0m.1-.7h0m0 .8h0m.1-.1h0m.1 0h0m.1 .5h0m.2-.3h0m.4-1h0m.5 .8h0m.2-.2h0m.2 .1h0m.6-.4h0m0 .6h0m.4 0h0m.1-.1h0m.2-.7h0m.3 .5h0m.4 0h0m.1 1.6h0m.2-2.2h0m.2 .6h0m.3 .1h0m.1-.5h0m.2 1.1h0m.4-.7h0m.4 1.4h0m.4-.7h0m.1-.1h0m.3-1.1h0m.1 2.6h0m.1-3.1h0m.3-.2h0m.2 1.1h0m.3 .2h0m.1-.7h0m0 1.6h0m.2-1.5h0m.3 0h0m.2 .9h0m.1-1.4h0m.1 .8h0m0-1h0m.1 2h0m.6-1.2h0m.1 1.3h0m0-.5h0m.2-.6h0m0 1.3h0m.3-.2h0m.2 .6h0m.7-.7h0m.5 .9h0m0 0h0m.3-.7h0m.3 .6h0m.5 1.4h0m.1-.9h0m0-.3h0m0 .2h0m.3 1.2h0m0-1.5h0m0 .7h0m.6 .7h0m.2 .3h0m.2-1.6h0m.3 1.3h0m0-1.9h0m.4 2.7h0m1-1.4h0m.3-.3h0m.6-.6h0m.2 .3h0m.1-.6h0m.4-.7h0m.1 1.1h0m.3 0h0m.1-.2h0m.1 .2h0m.6 .4h0m.5-1.2h0m.4 2h0m.2-1.5h0m0-.1h0m0-.9h0m.3 1h0m.2-.7h0m.1-.2h0m.6 1.5h0m0-.7h0m.4 .4h0m0 .7h0m.3 0h0m.2 .5h0m0-.6h0m.4 .4h0m.6 .1h0m.1 .1h0m.3 .8h0m.5-.5h0m.5-.2h0m0 .1h0m.2-.3h0m0 .8h0m.2-1.8h0m.1 .4h0m0 0h0m.3-.3h0m0 1.6h0m.2-1.2h0m.1-.3h0m.3 .9h0m.6-.8h0m.1 .3h0m.2-.7h0m.4 .1h0m.3 0h0m.1-.3h0m.2 1.8h0m.1-1.9h0m.6 .1h0m.2 .9h0m.1-.3h0m.1 .1h0m.2 0h0m.4-.3h0m0 .5h0m.1-1.1h0m0 1h0m.2-.9h0m0 1.5h0m.1-1.2h0m.3-.3h0m.2 .6h0m.4-1h0m.1 .8h0m0 .7h0m.4-.5h0m0 .8h0m.6-.7h0m.3 .4h0m.3-.1h0m0-1.1h0m.1 1.8h0m.1-1.2h0m.1 .1h0m0 .3h0m0-.5h0m.1 .8h0m.1-1.5h0m.1 1h0m.1-.1h0m0-.5h0m0 .8h0m0 0h0m.3-.3h0m.1 .7h0m.1-.7h0m.2-1h0m.1 1.6h0m.3-.3h0m0-.8h0m.1 .7h0m.4 .9h0m.1-.8h0m0-.1h0m.2 .6h0m0 .1h0m.4-1.3h0m.2-.7h0m.2 .9h0m.1 .8h0m.3-1.7h0m.1 .4h0m0 1.4h0m.8-1.3h0m.2 .6h0m.2-1h0m.2 .6h0m.3 .7h0m.3-.5h0m.1 0h0m.1-.9h0m.2 1.1h0m0-.6h0m.1 .7h0m.3-1.1h0m.3 .5h0m.3-.5h0m.1 0h0m.2 .7h0m.3-.7h0m.2 .8h0m.2-.5h0m.1-.3h0m.2-1h0m.2 1.5h0m.1-.7h0m.2-.3h0m0 .2h0m.2 1.1h0m.1-.9h0m.3 .2h0m.8 .7h0m.2-.5h0m.3 .1h0m.3-.4h0m0-.2h0m.1-.5h0m0-.8h0m.3 1.8h0m.2-.3h0m.1-.1h0m0-.5h0m0 .4h0m.2 .4h0m.5-1.6h0m.3 .1h0m.1 .9h0m0-.6h0m.2 2.3h0m.8-1.2h0m.5-1.3h0m.1 1.6h0m.3-.5h0m.2-.9h0m.1 .6h0m.1 1.1h0m.1-.7h0m.5 1.6h0m.2-.7h0m.1 .1h0m.1-.9h0m.2 .6h0m.1 .2h0m.3-.3h0m.1-1.1h0m.1 1.8h0m.8-.8h0m.2 .6h0m0 .4h0m.1 .2h0m0-.7h0m.3-1.9h0m.1 2.2h0m.2-1.1h0m.1 .7h0m.2-.9h0m0 1h0m.2-.3h0m.1-.8h0m0 .1h0m.1 .6h0m0 .2h0m.1-.9h0m0 1h0m0-.5h0m.2-.4h0m.1 1.2h0m.2-1.3h0m0-.1h0m.3 0h0m.1 1.7h0m.3-1.7h0m.3 .2h0m.1 .6h0m.3-.4h0m0 .2h0m.1-.4h0m.1 1.9h0m0-1h0m.1-.9h0m.1-.2h0m.3 .3h0m.1 .9h0m.2 .3h0m0 1h0m.5-2.7h0m.4 2.6h0m.1-2h0m0 .1h0m.1 1.4h0m0-1.2h0m.1 .3h0m.7 .2h0m.4 .3h0m0 .1h0m.3-.3h0m.3-.2h0m0 1.3h0m.1 .1h0m0-.4h0m.1-.7h0m0 0h0m.1 1.6h0m.3-1.2h0m0-.2h0m.1 .3h0m.2-.7h0m.5 0h0m.2 .5h0m.1-1.4h0m.1 1.3h0m.4-.8h0m.5-.2h0m.1-.7h0m.1 .7h0m.3 .3h0m.2-1.3h0m.3 1.5h0m.2-.4h0m.1 1h0m.1 .1h0m0-.6h0m.1-1.4h0m.1 .5h0m.2-.4h0m.4 1.1h0m.1-.8h0m.2-.4h0m.1 1.2h0m.4-.4h0m0 .1h0m.8-.5h0m.1 .6h0m.1-.2h0m.2-.5h0m.7 .3h0m.2 .7h0m0-.5h0m0-1.1h0m.6 .8h0m.1-.4h0m.1 .3h0m.2 1.3h0m.2-1.4h0m.2-.9h0m.5 1.7h0m0 0h0m.2 .1h0m.5-.4h0m0 .6h0m.1-.2h0m0-1.1h0m.5-.4h0m0 2h0m.3-.1h0m0-.7h0m.4 1.3h0m.2-1.1h0m.1 .1h0m0 0h0m.1-.3h0m.1 .8h0m.2-.8h0m0 2.1h0m.6-1.6h0m0-1.1h0m.1 .6h0m.2 1.2h0m0-.7h0m0-.4h0m.3 .8h0m.2-1.4h0m.1 1.8h0m.4-1h0m.3-1.2h0m.1 1.6h0m.1 0h0m.4-.8h0m.4-.6h0m0 .6h0m.2-1.1h0m.1 1.3h0m0 .2h0m0-.2h0m.3-.2h0m0 0h0m0-.4h0m.3 2h0m.6-.7h0m.3-.6h0m.1-.1h0m.3 0h0m.3-.1h0m.1-.7h0m.2 .8h0m.4 1.1h0m.1-1.6h0m.2 .7h0m.3-1h0m.1 .9h0m.3 .9h0m.1-1.7h0m.2 .7h0m.1-.3h0m0-.8h0m.2 2h0m.5-.3h0m0 .6h0m.1-1.1h0m.8-.3h0m0 .2h0m.2 1.4h0m.1-.8h0m.1-.4h0m.4 1.2h0m.1-.5h0m0-.2h0m.2 .6h0m.2-.3h0m.2-.1h0m.1 1.2h0m.2 0h0m0-.6h0m0-.9h0m.4 1h0m0-1.2h0m.3 0h0m1.3-.2h0m.1 .7h0m.2-.5h0m.1 1.2h0m.2-.7h0m.9-.8h0m.2-.4h0m.1 .4h0m.3-.7h0m.2 .7h0m.1 .2h0m.1 0h0m0-1h0m.3 2.2h0m.4-2h0m.2 .1h0m0-.1h0m.1 1.1h0m.6-1.4h0m.1 1.3h0m.1-.5h0m.4 .2h0m.4-.9h0m0 .7h0m.1-.5h0m.1 0h0m.1 .5h0m.2 .6h0m.2-.9h0m.1 .3h0m.1 0h0m0 .4h0m0-.3h0m.2 .1h0m.2-1.5h0m0 .8h0m.2 .5h0m1.3 .7h0m.3-1.3h0m.1 1.4h0m0-.4h0m.1-.3h0m.1 .2h0m.3 .6h0m0-.9h0m.2-.1h0m.7 .4h0m.2-.8h0m.2 1.3h0m.1-.4h0m.6-.5h0m.6 .4h0m.3 .6h0m.5-.7h0m0-.1h0m.1 .1h0m0 .1h0m.1 0h0m.1-.6h0m1.1-1.2h0m0 .8h0m.5-.3h0m.1 1.1h0m.4 .3h0m.1-1.6h0m.2-.4h0m0 .8h0m.2-.5h0m0 .3h0m.4-1.7h0m.2 2h0m.1-.2h0m0-.1h0m.4 0h0m.3-.5h0m.2-.4h0m.9 .7h0m.1 .8h0m.1 .1h0m.1-.8h0m0 .5h0m.1 .2h0m.2-.9h0m.1 .8h0m.2-.5h0m.4 1.7h0m.2-2.3h0m.5 .7h0m.1 1.8h0m.1-1.7h0m.1-.3h0m.1 .7h0m.2 .8h0m.2-.5h0m0 .1h0m.1-1h0m.5 1.5h0m.2-.5h0m.3 .5h0m.1-1.4h0m0 1.1h0m.1-.2h0m.1 .4h0m.1-.4h0m.1-.4h0m0 2h0m.2-2.4h0m.2 .5h0m.5-.3h0m.8 .1h0m.1 .1h0m0-1h0m.1 1.3h0m.1-1.1h0m.3 1.9h0m.1-1.2h0m.1-.3h0m.4 .3h0m.2 0h0m.1 .4h0m.1-.7h0m.2 .2h0m.4-.2h0m.1 0h0m.2-.2h0m.2 .6h0m.6-.6h0m.1 .1h0m.1-.4h0m.4-.2h0m.2 .4h0m0 .1h0m.1 .3h0m.4 .4h0m.3-1h0m.7 .7h0m.5 1.6h0m.2-1.3h0m.3-.8h0m.5-.3h0m0 2h0m.1-.5h0m.1 1.1h0m.3-1.5h0m.1 .3h0m.1 .3h0m.1-.2h0m.3-.3h0m.2-.3h0m.6 1.1h0m0 .3h0m0 .2h0m.3-1.2h0m.3-.2h0m0 1.9h0m0-1.7h0m.2 .6h0m.3-.1h0m.2 .1h0m.1 .6h0m0-.8h0m.2 1.7h0m.4-1.3h0m.2-1h0m0 1.1h0m.7 .5h0m.4-.5h0m.8-.7h0m.1 .5h0m.1-.7h0m.2 1h0m.2 .6h0m.6-1.2h0m0 .7h0m.1 .2h0m.3-1h0m.8 .9h0m1.3 .2h0m0 .7h0m.2-1.2h0m.1-.9h0m.3 2.5h0m.3-.5h0m.2-1.4h0m.2 .8h0m.4-1h0m.1-.4h0m0-.4h0m.2 1h0m.2 1h0m.3-.1h0m.1-1.4h0m.1 0h0m.1 1.5h0m.4 .4h0m.1-1.7h0m0 .1h0m.1 .5h0m.1 .7h0m.6-.6h0m0 .9h0m0-1.1h0m.2 0h0m.3 1.2h0m0 0h0m.1-1.1h0m.1 .4h0m0 0h0m.1 .9h0m.1-1.3h0m.1 .2h0m.5 1.9h0m.6-1.5h0m.2-.3h0m.1-.3h0m.2 1.6h0m.1-.9h0m.2 .2h0m.1-.4h0m.2 .1h0m.1 .7h0m.5-.3h0m0-.8h0m.1 .4h0m.1-.4h0m0 .2h0m.1 .1h0m0-1.1h0m0 1.3h0m.1-.4h0m0-1.1h0m.1 1.1h0m.3-.3h0m0-.5h0m.5 1h0m.5-.4h0m.1-.4h0m.2 1.2h0m.2-1.5h0m.2-.6h0m0 1.1h0m.2 .5h0m.1-1.6h0m.5 .9h0m.4 .7h0m.1-.3h0m0 .3h0m.2-1h0m.2-1.8h0m.4 .8h0m0 .2h0m.1 .2h0m0 1.3h0m.8 .2h0m.1-1.4h0m1.3 1h0m.1-1.2h0m.3 1h0m.1-.3h0m.1-.3h0m.3 .1h0m.4-.5h0m.2 .3h0m.1 .1h0m.2 .4h0m.2-.5h0m0 .9h0m.3-.5h0m.6-.2h0m.2-.1h0m.1 .2h0m0-.3h0m0 .3h0m.2 .4h0m.4-.6h0m.1 .6h0m.4-.2h0m0-.4h0m0 1h0m.1-1h0m.2 1.2h0m.6-1.3h0m.1 .9h0m.3-.8h0m.7-.3h0m0 0h0m.1 .6h0m.1 .4h0m.4-.5h0m.1 1.5h0m.2-1.1h0m.1-.6h0m0 .8h0m.7 1.1h0m0-2.5h0m.2 2.1h0m.2-1h0m.1 .1h0m0-.5h0m.1 .4h0m0-.5h0m.3 1.5h0m.5-1.1h0m.1-.6h0m.1 .6h0m.3 1h0m.1-.4h0m.6-.7h0m0-1.2h0m.1 1.4h0m.1 .1h0m.3-.1h0m0 .2h0m.1 .1h0m0-.9h0m.1 .9h0m0-1h0m0 1.6h0m.9-1.1h0m0-.4h0m0-.2h0m.1 .9h0m.1-1h0m.7-.2h0m.2 1.1h0m.1-.9h0m.2-.2h0m0 .8h0m.2 .7h0m0-.8h0m.2-.2h0m1-.7h0m.4 .9h0m.1 1.4h0m.1-1.4h0m.1 0h0m.4 1.6h0m.1-1.8h0m.1 .4h0m.3-.5h0m.2 .1h0m.1 .8h0m.2-1.1h0m.3 .3h0m.1 .4h0m.3-.2h0m.1 0h0m0-.4h0m.3-.4h0m.3 .5h0m.1-.1h0m.1 0h0m.5 .1h0m.2-.1h0m.1-.8h0m.3 2.6h0m.7-.9h0m.3-1.1h0m.3-.2h0m.2 1.3h0m.1 .4h0m.6-.7h0m.2 0h0m.1 .4h0m.1 1.1h0m.2-2h0m.4 .3h0m.1 .4h0m.4 1.1h0m0-.4h0m.2 0h0m.2 1.6h0m.3-1.5h0m.3-.9h0m.5 1.2h0m.1 .1h0m.3-.7h0m0-.3h0m0-.1h0m.1 .7h0m0 .4h0m.1-1.1h0m.3 1.2h0m0-.6h0m.1-.2h0m.2 .2h0m.1-.1h0m.1-.1h0m0-.2h0m.2-.5h0m.2 1.4h0m1.1-.9h0m.1 .8h0m.7-.1h0m.1 .6h0m0-.6h0m.3-.1h0m.2-.5h0m.2-.2h0m.2 1.2h0m.2-.2h0m.4 .1h0m.2-.5h0m.1 .6h0m.1 .3h0m.2-.1h0m.1-1h0m.5 .9h0m.3 0h0m.3-1h0m0 1.1h0m0 .5h0m.4-1.4h0m.1 0h0m.1 .3h0m0 0h0m.1-.9h0m.5-.2h0m.2 0h0m.4 .6h0m.1 .1h0m.2-1h0m.2-.7h0m.2 1.2h0m.6-.4h0m.2 0h0m.7-1.1h0m.1 .8h0m.1 .5h0m0-.4h0m.3 1.1h0m.6-1.3h0m.6 .5h0m0 1.4h0m.1-.4h0m.1-1.9h0m0 1h0m.2 0h0m0 0h0m0 .4h0m1.2 .1h0m.1 .9h0m.5-2h0m.1 .9h0m.1-.3h0m.1-.4h0m0 1.2h0m.4-1.5h0m0 .4h0m.1-.1h0m.1-.4h0m.1 .5h0m0 .7h0m.5-.2h0m.2-.2h0m.2-.6h0m.2 0h0m0 .9h0m0 .1h0m.3-.7h0m.1 1.3h0m.2-2.8h0m0 1.7h0m.6-.4h0m.9-.9h0m0 2.3h0m.2-1.5h0m.3 .2h0m.1 1.4h0m.2-1.9h0m.5 .5h0m0-.1h0m.4 .3h0m.2 .3h0m.2 0h0m0 0h0m.2-.7h0m.1-.4h0m0-.3h0m.6 1.2h0m0-.9h0m.4 .9h0m.5-.6h0m.2 .1h0m.3-.1h0m.2 1h0m0-.1h0m.7-1.2h0m.1 1.2h0m.1-1.8h0m0 1.2h0m.6-.1h0m.3 1.6h0m.4-1.4h0m.6-.6h0m.1 0h0m.1 .1h0m.3 .2h0m0 .3h0m0-.5h0m.1-.1h0m0 1.8h0m.1-2.6h0m.1 1.3h0m.6 .2h0m0 .6h0m.5-1.1h0m0 1.2h0m.2-.9h0m.4 .3h0m.1 .2h0m0-.3h0m.5 .1h0m.3-.1h0m.1-1.3h0m.1 1.7h0m0-.4h0m.5 0h0m0-.5h0m.4 1.5h0m.1-.5h0m.1-.5h0m0-.3h0m.3 .7h0m.1-.2h0m0-1.5h0m.9 1.3h0m.2 .4h0m.1-1.4h0m.3 .9h0m.2-.1h0m0 .2h0m.1-.6h0m.2-.2h0m.1-.3h0m.2-.1h0m0 .8h0m.3-.1h0m.1 .8h0m.1-1.2h0m.2 1.1h0m0-.7h0m0 .9h0m.1-.5h0m.1 .4h0m.2 .3h0m.1 .2h0m.1-.2h0m.3 1.3h0m.2-1.5h0m0 0h0m.1-.2h0m.1 2h0m0-1.2h0m.1 .7h0m.1 .3h0m0-1.6h0m1.1 1h0m.1-.4h0m0 .5h0m.4 .1h0m0 .3h0m0-.9h0m.3 .7h0m.4-1h0m.1 1.1h0m.3-.3h0m.5 .1h0m.1 .2h0m.5-.6h0m.2-.8h0m0 .8h0m.4-.5h0m.1 .5h0m0 1.2h0m.2-1.2h0m.4-.4h0m.1-.3h0m0 .1h0m.1 .3h0m.4 .1h0m.4-.6h0m.4-1h0m.2 .6h0m.1-.2h0m.4-.1h0m.1 .8h0m.1 .8h0m0 .2h0m.2-1.8h0m.1 .6h0m.1-.6h0m.1 1.1h0m0 .3h0m0-.8h0m.1 .5h0m0-.9h0m0-.3h0m.1 1.2h0m.1 .4h0m.1-1.7h0m.1 .1h0m.2 .4h0m.2-.8h0m.8 .3h0m.1 .7h0m.1 .4h0m.2-.7h0m.1 0h0m.2-.4h0m.1 .2h0m.1 .7h0m.1-.7h0m.5 .1h0m.4-.3h0m.1 .1h0m.1-.1h0m.2 .7h0m.5 1.5h0m0-.8h0m.1-.9h0m.2-.7h0m.3 .4h0m.1 1h0m.1-.8h0m.1 .9h0m0-.4h0m.2 .4h0m.2-1h0m.1 .3h0m.1 .7h0m.1-.7h0m0 .5h0m.1 .1h0m.6 1h0m0-2.1h0m.3 1.3h0m.6 .1h0m.2 1h0m0-.9h0m.3 .7h0m.1-.2h0m.1 .1h0m0-2h0m.3 2h0m.6-1.3h0m.1 1.2h0m.3-.2h0m.2 0h0m0-1h0m.2 1.7h0m.1-1.2h0m.6-.5h0m.4 .4h0m.5-.5h0m.1 .2h0m.2 .3h0m.2-.8h0m0-.5h0m.2 1.5h0m.2-.2h0m.1-.4h0m.5 .9h0m.1-.7h0m.1-.9h0m.2 .9h0m0 .9h0m.5-1h0m.3-1.1h0m.4-.3h0m.3 1.5h0m.4 .2h0m.2-.7h0m.2 .6h0m.1-1.7h0m.2 .8h0m.2 .3h0m0 0h0m.1-.9h0m.5 2.2h0m0-1.1h0m.1-.1h0m.6-1.1h0m1 1.7h0m0 .3h0m.3-1.1h0m.2-1.3h0m.2 .6h0m.2 1.4h0m.6 .1h0m0-1h0m.4 .5h0m0 0h0m.2-.7h0m.1-.5h0m.1 2h0m.1-2.2h0m.4 1.9h0m.4-2.3h0m.2 1.9h0m0 .1h0m.3-1.1h0m0 1.2h0m.2 .1h0m.4-.7h0m.3 .4h0m.3 0h0m.3-.1h0m.2-.5h0m.1 0h0m0-.1h0m.2 .6h0m.2-.4h0m.2 .3h0m0 .1h0m.4-1.6h0m.4 1.1h0m.2-.2h0m.1-1.1h0m.1 1.5h0m.1-1h0m.1 1.4h0m.4 .3h0m0-1.4h0m0-.1h0m.2 .9h0m.1-1h0m.3 .2h0m0-.2h0m.1 1.2h0m0-.6h0m0-.6h0m.2 .7h0m.1 .2h0m.2-.4h0m.2 .2h0m.2-.3h0m0-.1h0m.1 .4h0m0-.8h0m.1 .9h0m.7 1h0m.1-.9h0m.3-.3h0m.1 1.3h0m.3-1.3h0m.2 .8h0m.2 .2h0m.1-.7h0m.3 .1h0m.7-.1h0m.1-1.7h0m.1 .4h0m.4 .2h0m0 1h0m.1-.1h0m0-.3h0m0 0h0m.3-.6h0m.5 .9h0m0 .3h0m.5-1.1h0m0 .1h0m.2 .2h0m.1-1.1h0m.1 1.3h0m0 .2h0m.3-.7h0m.2 1.1h0m.2 .2h0m0 .1h0m0-.4h0m.3-.4h0m.1 .2h0m0-.1h0m0 .2h0m.1-.8h0m.1 2h0m.2-1.7h0m.3 .3h0m0 .6h0m.1 0h0m.2-.4h0m.3 1.5h0m.5-2.7h0m0 .7h0m.2 .4h0m.5 1h0m.8-.3h0m.1-.6h0m0-.6h0m0 1.4h0m.8-.5h0m.4-1h0m.2 .1h0m.1 1.1h0m.5 0h0m.2-.9h0m.1-.9h0m.3-.6h0m.2 .9h0m0 .4h0m.3 .4h0m.4-.9h0m.4 1h0m.1-.6h0m.3 .2h0m0-.2h0m0-1.6h0m0 1.3h0m0 1.4h0m.1-2.1h0m0 1.6h0m.1-1.5h0m.1-.1h0m.1 1.3h0m0-.3h0m.3-.6h0m.4 .3h0m0-.7h0m.2 .7h0m.1-.5h0m.2 .4h0m.2 2h0m.1-2.1h0m0 .2h0m0-.4h0m.3 0h0m.1-.3h0m.2-.1h0m0 .7h0m.8-1.7h0m.2 1h0m.1 .9h0m0 .1h0m.4-.6h0m.2 .5h0m.1-1.7h0m.1 0h0m0 .3h0m.2 1h0m.9-.1h0m1.4 .1h0m.2 .4h0m.1-.4h0m.2-1.2h0m.1 1.1h0m.9 0h0m0 .9h0m.2-.1h0m.1-.5h0m.2-1.2h0m.2 1.1h0m.3 .1h0m0 .8h0m.2-.8h0m.2-.9h0m0 .8h0m.1 1.3h0m0-.8h0m.9-.3h0m.1 .3h0m.1-.6h0m0-1.2h0m.4 2.2h0m.4-.9h0m0 .2h0m.4 0h0m.2 0h0m0-.2h0m.8 .5h0m.2-.9h0m0-.5h0m.3 .2h0m.1 1.2h0m0-.6h0m0-1.2h0m.2 1.2h0m.3 .5h0m0-.5h0m.1 .4h0m.5-1.1h0m.5 .3h0m.1-.1h0m.1 .2h0m.1-.9h0m.1 .7h0m.7-.3h0m.1 .7h0m0 .2h0m.2 .1h0m0-.5h0m.1 .9h0m.1-.6h0m.2 .6h0m.3-1h0m0-.8h0m.1 1.5h0m.2 .5h0m.2-1h0m.1 .3h0m.1 .2h0m.4 0h0m0-.2h0m.1 2h0m.6-1.4h0m.1 1h0m.3-.9h0m.1 .1h0m0 .3h0m.1-.5h0m.1 .5h0m.3-.6h0m.1 .3h0m0-.2h0m.1-.5h0m.5 0h0m.1 0h0m.2 1.1h0m.3-1.7h0m.1 .8h0m0-.9h0m.1 .7h0m.2 .1h0m0-.8h0m.2-.3h0m.3 0h0m.1 1.1h0m.3-.5h0m0-1.1h0m.6 .2h0m.1 .8h0m.2-.6h0m.3-.1h0m.4-.8h0m0 .1h0m.2 .3h0m.1 .8h0m0-.4h0m.4 1.3h0m.3-2.1h0m.1 0h0m.2 0h0m.1-.6h0m.2 .8h0m.1 .6h0m.2-.8h0m0-.6h0m.1 1.1h0m.2 .1h0m.1-1.5h0m0 3.2h0m0-1.4h0m.1-.8h0m0 .3h0m.5-.9h0m0 1.4h0m0-1.3h0m.1 1.2h0m.8-1.2h0m0 .3h0m.8 .6h0m0-.7h0m.4 .2h0m.1 .1h0m.1-.2h0m0-1.2h0m.1 1.5h0m.1-1.3h0m0 .9h0m.1-.6h0m.2 .9h0m.1 .2h0m0-.3h0m.4 .4h0m0 .1h0m.1 .6h0m.2-1.2h0m.1 .4h0m.1-1h0m.4 .7h0m0 .3h0m.2-.8h0m.1-.6h0m.1 2.3h0m0-1.2h0m.4-.6h0m.1 .5h0m.2-.2h0m0 1h0m.1-.9h0m.1 .1h0m0 .4h0m.4-1h0m0 .5h0m0 0h0m.1-1.3h0m.2 .7h0m.7 .9h0m.4-.3h0m.4-.9h0m0 .7h0m.2 .6h0m0-1.6h0m0 1h0m.1-.4h0m1.1 .4h0m.1-.1h0m.1-.4h0m0 .7h0m1.1 .2h0m.1-.2h0m.1-.1h0m.3 .4h0m.2-.4h0m0 1.6h0m.1-1.3h0m.6 .2h0m0-1.6h0m.1 1.2h0m.1 .2h0m.3 .6h0m.8 .1h0m.3 .2h0m.1-.2h0m.3-.4h0m.1 .1h0m.4 .5h0m.4 .1h0m.2-.3h0m0-1.3h0m.1 1.1h0m.1-.2h0m1.8 .4h0m.7-2.2h0m.4 .1h0m0 .8h0m.1 .6h0m.2-.6h0m.2-.1h0m.6 1.4h0m.3-.8h0m.1 1.3h0m.1-2.1h0m.1-.6h0m0 1.8h0m.3-1.9h0m.1 2.1h0m.4-1.7h0m0 .7h0m.1 .1h0m.1-.3h0m.6-1h0m0 .6h0m0-.8h0m.5 .4h0m0 .3h0m.1-.8h0m.1 .3h0m.7-.7h0m.3 .3h0m.1-.2h0m.1 1h0m.6-.2h0m.2-1.1h0m0 .8h0m.1 .5h0m.1-.6h0m.2-1.3h0m.6 1.2h0m0-.6h0m.1 .4h0m.1 .5h0m0-.8h0m.1 .3h0m0-.6h0m.3 .3h0m1.2 .5h0m0 .3h0m.1 .2h0m0-.4h0m0 1.8h0m0-1h0m.1-1.2h0m.1 .2h0m.1 .1h0m0-.3h0m0 .5h0m.2-.3h0m.1-.6h0m0 0h0m.3 .9h0m0 .2h0m.2-.5h0m.1 .8h0m0 .6h0m0-.4h0m0 .6h0m0-.5h0m.1-2.1h0m.1 1.4h0m.5 .3h0m.2 .6h0m.1-1.6h0m.3 1.2h0m.1-.6h0m0 0h0m.2 .2h0m.3 1h0m.1-.2h0m.2-1.1h0m.1 .2h0m.1 .4h0m.4 .4h0m.2-1.1h0m.2 .2h0m.1 .7h0m.5 .1h0m.1-.1h0m.2 0h0m0 .9h0m.1-.3h0m.1-.6h0m.1-.5h0m.5 1.1h0m.2-1.2h0m.4 .3h0m.1 .9h0m.1 .5h0m0-.5h0m.2-1.1h0m.4 1h0m0-1.1h0m.1 .2h0m.3 1.1h0m.1-.1h0m.4 .1h0m0-.1h0m.2-.1h0m.1-1.1h0m.2 1.9h0m.4-1.3h0m.2 .9h0m.1-1.3h0m.3 1.4h0m.2-1.4h0m.1 .6h0m.3-1.2h0m.1 .4h0m.1 .9h0m0-1.2h0m0 2.1h0m.2-.3h0m.1-1.3h0m0-.4h0m.1 1.7h0m.4-1.3h0m.1 .6h0m0-.3h0m0-1.1h0m.2 1.6h0m.3 .1h0m.1-.8h0m0 .1h0m.1-1h0m.1 .1h0m.1-.3h0m.1 .3h0m0 .6h0m.5-.3h0m0 .1h0m.3-.2h0m.1 .3h0m.3 .9h0m.5-1.7h0m.1 .7h0m.1 .2h0m.1-.1h0m.2 .1h0m0 0h0m.1 .6h0m.4-.6h0m.2 .5h0m.4 0h0m.1-.7h0m.8-1.1h0m.1 1.1h0m.2-.5h0m0 .5h0m.8-.5h0m.2 .9h0m.9-.7h0m.8-1.9h0m0 2.3h0m.1-.1h0m.1-.5h0m0-.2h0m0-.7h0m.2 1.9h0m.2-.8h0m.3-.4h0m.1 1.1h0m.1-.7h0m.1-.1h0m.1 0h0m.5 .5h0m.1-1.2h0m0 1h0m.1-.6h0m.1-.3h0m.1 .2h0m.6 0h0m.3-.6h0m.5 1.5h0m.2-.8h0m.1 .2h0m.3-1.6h0m.2 1.3h0m.1 .3h0m.2 .6h0m0-1.1h0m0-.3h0m0 .8h0m.1-.9h0m0 .7h0m.2 0h0m.1-.7h0m0 .3h0m.8 1.3h0m.1-1.7h0m.1-.1h0m.1 .5h0m.3-.2h0m.1 1.5h0m.3-.1h0m0-.1h0m.1-.6h0m.1 .3h0m.1-1.5h0m.1 .6h0m.1-1h0m.1 1.1h0m.2 .3h0m.3 .8h0m.2-.5h0m.3-.1h0m.1 1.8h0m.2-1.2h0m.1-.1h0m.1 .5h0m.4-.5h0m.1-.1h0m.2-1.1h0m.2 1.1h0m.3-.5h0m.3-.7h0m.2 1.3h0m0-1.5h0m.3 1h0m0-.2h0m.1-.5h0m.3-.3h0m.5 .3h0m0-.4h0m.1 1h0m.2-1.1h0m.4-1.5h0m.6 1.9h0m.5 .4h0m0-2h0m.1 1.2h0m.6-1.3h0m0 0h0m.1-.2h0m.1 .1h0m.4 .4h0m.2 .3h0m.1-.7h0m0 1.1h0m.3-.7h0m.1 .2h0m.2-1.7h0m.4 .4h0m.2 .3h0m.1 .1h0m.2 .4h0m.6-.8h0m.5 1.3h0m.2-.1h0m.1 .5h0m.2 .3h0m.4 0h0m.1-.7h0m.2-.1h0m.1 .4h0m.2 .9h0m.2-.2h0m0 .3h0m1.1 .7h0m.1-1.2h0m.1-.3h0m.3-.3h0m.5 .8h0m.1 .1h0m.2-.6h0m.2 .8h0m0-.4h0m.1 0h0m.2 .2h0m.2 .1h0m.1 .2h0m0-.6h0m.5-.4h0m0-.2h0m.1 .1h0m.3 .5h0m.3 .1h0m0 0h0m.1 2.2h0m.4-1.5h0m0-.8h0m.3 .5h0m0-.2h0m.3 1.1h0m.3-1.6h0m.2 1.1h0m.2-.4h0m.4 .3h0m.2-.2h0m.3-.1h0m.3-.2h0m.2-.5h0m.1 .3h0m.5 .8h0m.2-.3h0m0-1.1h0m.1 .6h0m.3 .5h0m.1-1.5h0m0 .3h0m.1-.6h0m0 .7h0m.1 .9h0m.4-1.5h0m.6-1.1h0m.3 1.6h0m.3-.3h0m0 1.2h0m.2-1.1h0m0-.2h0m0-.7h0m.6 .8h0m.1-.3h0m0-.1h0m.1-.2h0m0 .4h0m.6-1h0m0 .1h0m0 .5h0m.3-1h0m.1 2h0m.2 .3h0m.1-.4h0m0-.3h0m.2 .4h0m.3 0h0m.1-1.1h0m.2 .4h0m.3-.2h0m.1 .8h0m0-1.1h0m.3 .6h0m.4 0h0m.1 .3h0m.3-.8h0m.2 .5h0m.1 .9h0m.2-.2h0m.3-.8h0m0-.4h0m.1 1.5h0m0-1h0m.2-.3h0m0-.1h0m.5-1h0m0 2.3h0m.3-.9h0m.2 .3h0m.1 .2h0m0-1.5h0m.1 .2h0m.1-.2h0m.3 .6h0m.2-.5h0m.1 1.3h0m.1-1h0m.1-.1h0m0 1h0m.5-.4h0m.2-.6h0m0 .3h0m.2-.5h0m.3 .3h0m.6-.1h0m.2-.2h0m.1 .5h0m0-.1h0m.2 .4h0m.1 .5h0m0-.6h0m.2 .2h0m0-.3h0m.1 .8h0m0-1.8h0m.1 .9h0m0-.3h0m.4 .8h0m0-1h0m0 1.4h0m.2-1.3h0m.3-.8h0m.2 1.3h0m.3-.5h0m.6 .4h0m.1 .6h0m.1-1h0m.1 .1h0m.3 .3h0m.2 .5h0m.2-.5h0m.2 .1h0m.1-.3h0m.5-.2h0m.1 1.4h0m.1-1h0m.1 .8h0m.1 0h0m.1-1h0m.1 .3h0m.1 .1h0m.1 .9h0m.3-.8h0m.1 0h0m.7 .2h0m.2-.4h0m.3 0h0m.1-.6h0m0 1.7h0m.1-.5h0m.4-.3h0m.2 .8h0m.5-.4h0m.1-.1h0m.4-.3h0m.3 .4h0m.1 .1h0m.2-1.1h0m.1 .8h0m.1-.1h0m0-.2h0m.1 0h0m.4 1h0m.2-1h0m1.3 .6h0m.1 0h0m.1 .8h0m0-.4h0m.1-.5h0m0 .8h0m.3-.3h0m.2-1h0m0-.4h0m0 1.1h0m.1 .1h0m0 .2h0m.2-.1h0m0 .2h0m.2-.1h0m.1 .1h0m.5-.2h0m.3-.7h0m0 1.6h0m0-1.6h0m0 .2h0m.2-.4h0m.2-.6h0m.3 .2h0m.3 1h0m.1 .1h0m.2-.7h0m.3-.2h0m.1-.1h0m0 .8h0m.1-1h0m.1 1h0m.7-.5h0m.5 .7h0m.8-1.1h0m.1 1.3h0m.2-2.1h0m.1 1.8h0m.8 .2h0m.2-.4h0m.2 .8h0m.5-.8h0m0 0h0m.1-.3h0m0 1.4h0m.2-1.8h0m.2 1h0m0-.8h0m.2 1.4h0m.2-.2h0m0 .9h0m.1-.3h0m0-1.2h0m.3-1.1h0m.3 .5h0m.1 .2h0m.1-.3h0m.1 .7h0m.2 .1h0m.2-1.7h0m.2 1h0m.2-1.1h0m.2-.5h0m0 .9h0m.3 1.1h0m.3-.1h0m0-.7h0m.1 .5h0m0 .2h0m.2 1.1h0m.2-2.7h0m.1 1.2h0m.1 .5h0m.7-.5h0m.1-.6h0m.2 .7h0m.1-.9h0m.2 1.2h0m.1-.4h0m.3 1.3h0m.2-.6h0m.1 .1h0m0 .2h0m0-1.1h0m.2 .7h0m.4-.3h0m.1-.1h0m0-.8h0m.1 .2h0m.1-.5h0m.1 .2h0m.5 .9h0m.7-.2h0m.3-.5h0m.2 .4h0m.5-.1h0m.4-1h0m.2 .5h0m.1 .4h0m.1-.2h0m.2 .4h0m0-1.2h0m0 .7h0m.4-.2h0m0-.2h0m.1-.3h0m0 .6h0m.3 .5h0m1.6 .6h0m.3-.7h0m.2-.6h0m0 .8h0m.1-.3h0m0 .4h0m.1 0h0m0-.4h0m.3 .9h0m0-.2h0m.2-.4h0m0-.3h0m.2-.1h0m.3 1h0m.3-.3h0m.2-.9h0m.1 1.4h0m.1 .3h0m0-1.4h0m.1-.1h0m.1 1h0m.3-.3h0m.2 1.3h0m.1-1.1h0m.1-.9h0m.3 .6h0m0-.6h0m.1 .6h0m.1 .8h0m.1-1.4h0m0-.5h0m.1 1.7h0m.3-1h0m0-.1h0m.2 .8h0m.3 .5h0m0-1.2h0m.5 1.2h0m.1-1.8h0m0 1.2h0m.2-.5h0m.2-.3h0m.3 2h0m.1-2.2h0m.1 .2h0m.1 1.1h0m.1 .8h0m.1-1.1h0m.3-.1h0m0 1.3h0m0-2.6h0m.1 1.4h0m.3 .3h0m.1-.3h0m.1-1.6h0m.5 .8h0m.1 1.1h0m.1-.2h0m0-.9h0m0 1.1h0m.3-.2h0m.2-.4h0m.2-1h0m0 1.5h0m.3-.9h0m0-.7h0m.5-.9h0m.7 .6h0m0-.8h0m.5 .4h0m.2-1h0m.1 .7h0m0 .3h0m.1-.1h0m.3 .4h0m0-.9h0m.9 .9h0m.3-.5h0m.1 .5h0m.3-.3h0m.1 1h0m0-1.1h0m0-.2h0m.2 1.4h0m.1-1h0m.1 .2h0m.4 .6h0m.1-.3h0m.1-.2h0m.4 .1h0m.7 .9h0m0-.2h0m.2 .5h0m0-1.1h0m.3 .7h0m.2-1h0m0 1.1h0m.2-.1h0m0-1.5h0m.1 1.5h0m0-.1h0m.1-1.1h0m.2 .5h0m.1 1.4h0m.3-.2h0m.2-.4h0m.4-.3h0m.3 .8h0m0-1.2h0m.1-.1h0m.1 .1h0m.8 .8h0m.3-1h0m0 1h0m.2 .3h0m0-.7h0m.6 1.2h0m.6-.3h0m0-.1h0m.8-.7h0m.2 .7h0m.1-.5h0m.1 .3h0m.1 .5h0m.3 .1h0m.1 .1h0m.2-1.8h0m.2 .8h0m.1 .2h0m.3 .6h0m.1 .3h0m0-.8h0m.1 .2h0m0 .7h0m.3-.6h0m0 .3h0m.5-.2h0m.7-.4h0m0 .7h0m0-.8h0m.1 .3h0m0-.2h0m.4-1.1h0m.2 1h0m.1 1.1h0m0-.1h0m0-1.2h0m.4-1h0m.1 1.6h0m0-.4h0m.3 .4h0m.2-.4h0m0-.8h0m.3 .9h0m.1 .1h0m0-.6h0m.2 .9h0m.1-.5h0m.2-1.2h0m.1 .3h0m.1 .9h0m.5 .7h0m.1-1.3h0m.1 .1h0m.2-1h0m.3 .4h0m.4-1h0m0 0h0m.6-.6h0m0 1.2h0m.4-1.3h0m.9-.4h0m0-.4h0m.2 1.9h0m.2-.8h0m.1-.3h0m.3 .6h0m.1 .4h0m0-.2h0m.1-.4h0m.3-.7h0m.1 .1h0m.2-.2h0m.1 .7h0m.1 0h0m.1-1h0m.6 1.5h0m.2-.3h0m.2 0h0m0 .1h0m0 .1h0m.4-.7h0m.2-.7h0m.2 1.3h0m.3-.2h0m.4 1.1h0m.2-.6h0m.2 .3h0m.2-.3h0m.3 .1h0m.2 .7h0m.1-.3h0m.2 .7h0m.1-1.1h0m0 1.9h0m.1-2.5h0m0 1.4h0m.2-.2h0m.2-.2h0m.2-.1h0m0-.2h0m.1 1.2h0m.3-.4h0m.2-1h0m.2 .9h0m.4 .3h0m0-2.9h0m.2 2h0m.4-.2h0m.2-.8h0m.3 .6h0" stroke="#000" stroke-width="2.7" stroke-linecap="round" fill="none"/>
<path d="M304 998.3h0m12.4-3.9h0m54.8 .9h0m105 1.9h0m45.3 1.2h0m298.3 3.5h0m34.7-2.6h0m.1 6.2h0m0 0h0m.1-2h0m.6 .8h0m0-2.9h0m.1 4h0m.1-3.6h0m.1 4.4h0m.2 .7h0m.2-2.7h0m0-1.6h0m.4-1h0m.2-.4h0m.2 2.7h0m.3 .7h0m.4-2.9h0m.1 1.7h0m.1 2.3h0m.5-3.4h0m0 5.2h0m.1-2.6h0m.3 3h0m.3-4.1h0m.1 .9h0m.1 2.3h0m0-3.2h0m.9-3.4h0m.3 4.1h0m.4-.4h0m.4-1.3h0m0-1.6h0m.2 1.7h0m0-2.1h0m.1 2h0m.1-.6h0m.1 2.6h0m0-7.1h0m0 5.9h0m.5-.9h0m.1 .7h0m.5-2.2h0m.2 .6h0m0 1.8h0m0-1.5h0m.2 1.5h0m.4 2.1h0m0-1.9h0m.2-.8h0m.2-.3h0m.2-5.9h0m.7 8.6h0m0-3.6h0m.1-2.5h0m.8 5.9h0m.3-1.9h0m.2 1.7h0m.3 .9h0m0-2.1h0m.2 2.3h0m.1-.7h0m0 .5h0m.3-4.4h0m0-.4h0m.1 2.7h0m.3 4.5h0m0-3.8h0m0 2.8h0m.2-2.6h0m0-1.3h0m.2 3.6h0m.2-2.2h0m.5 1.1h0m0 1.4h0m.3-.5h0m0 1.5h0m.1-5h0m.1 4.2h0m.2-1.4h0m0-2.7h0m.8 3.1h0m.6 1.5h0m.1-4.7h0m.1 1.4h0m.2-2.1h0m0 2.1h0m.1-4.7h0m.2 5.2h0m.3 2.2h0m.1-4.7h0m0-2.2h0m0 1.6h0m.1 1h0m.1-1.8h0m.6 .2h0m.2 3h0m.1 .2h0m.3-2.7h0m0 2h0m.3 1.4h0m.7-3.7h0m.2 2.5h0m.1 3.9h0m0-3h0m.1-2.4h0m.1-1.1h0m.1 .1h0m0 2.7h0m.2-5.1h0m.1 3.9h0m.5-.3h0m.1 .3h0m0 .6h0m.2 .4h0m.6-1.7h0m.1-2.6h0m.8 2h0m.1 .5h0m.1-2.1h0m1.5 1.1h0m.1-1.9h0m.3 1h0m0 5h0m.3-.7h0m.1-4.8h0m.1 .3h0m.1 5.9h0m.1-3.9h0m0 .2h0m.1 .5h0m0-2.4h0m.4 2.7h0m.2 2.8h0m.6-2.5h0m0-1.9h0m.1 5.3h0m.2-2h0m0-1.4h0m.6-1.1h0m0 2.9h0m.3-8.3h0m0 7.1h0m.4-.6h0m0 .2h0m.2-4.4h0m0 6h0m.4 3h0m0-4.3h0m.1 4.5h0m.1 .1h0m.1-.2h0m.6-3.8h0m0 1.9h0m.2-5h0m.1 .5h0m.1 2.7h0m.1-1h0m.5-.2h0m.3-3.1h0m.6 6.5h0m.1-1.4h0m.1-1.6h0m.3 1h0m0 1.8h0m.2-5.3h0m0 5h0m.1-.9h0m.3-4.4h0m.3 1.1h0m0-.1h0m.3 2h0m0-1.1h0m.2 4.6h0m.1-2.4h0m.3 1h0m.2-1.1h0m.2 2.3h0m.3-3.7h0m0-.8h0m.1 5.1h0m.2-5h0m0 2.5h0m.2-2.4h0m.2 4.1h0m0-4h0m.1 3.4h0m.1-1.5h0m.3-.8h0m0 .9h0m0 2.8h0m0-1.1h0m.1-3h0m.2-.9h0m0-1.8h0m.1 6.4h0m.2-3.6h0m.5-1h0m0 .7h0m.1 3.2h0m.1-4.2h0m0 5.9h0m0-5.4h0m.2 .6h0m.3 .4h0m.3 3.9h0m.2-3.9h0m0 .3h0m.8 2.5h0m.1-2h0m.1 1.5h0m.1-3.8h0m0 1.1h0m.3-2.9h0m.3-.3h0m.2 1.9h0m.1 1.5h0m0-1.8h0m0-.5h0m.7-.1h0m.1 2.6h0m.1-3.5h0m.6 3.6h0m.2-1.7h0m.6 5.3h0m.2-.8h0m.1-2.7h0m.1-1.1h0m0 2.8h0m.1-1.7h0m.6 4.1h0m0-4.5h0m.2 2h0m.1 .4h0m.2-.5h0m.2 2.1h0m.1-.3h0m.2-1.5h0m.1-1.7h0m.1 2.8h0m0-1.1h0m.1 1.1h0m.2 .6h0m0-1.6h0m.2-.9h0m.3-2h0m.4 4.6h0m.1-1.8h0m0-.1h0m.1 .3h0m.2-1.2h0m.6 2.6h0m.1-1h0m.2-1.9h0m0-.4h0m0 2.9h0m.1 .5h0m.1-1h0m0 1.2h0m0-3.1h0m.1 .9h0m.1-1h0m.4 .4h0m.1-1.7h0m.1 4.3h0m.4-7.2h0m.1 3.3h0m0 .2h0m.3-.1h0m.3-2h0m.1 2.4h0m.4-.3h0m.4-1h0m.4-1.2h0m.1 4.4h0m0-1.2h0m.1-.2h0m0-1.3h0m.3-1.6h0m.1 1.7h0m.2 0h0m.3 .1h0m.1 .1h0m.2 .4h0m0-1.4h0m.3 1.1h0m.1-5.5h0m0 4.1h0m0 3.2h0m.1 .2h0m.2-2h0m.1-2.6h0m0-1.1h0m.1 4.7h0m.2-5.3h0m.1 2.3h0m.2 3.9h0m0 0h0m.1-.8h0m.5-3.3h0m0 .4h0m.3-1.9h0m0 3h0m0 .4h0m.2-.6h0m.6-.1h0m.2 .8h0m.1-2.4h0m.7 4.3h0m0-2.4h0m.1 1.3h0m.4-1.5h0m.2-.1h0m.1 1.9h0m.3-7.5h0m.3 8.2h0m.2-.7h0m0-4.3h0m.4 3.9h0m.1-4.1h0m.3 3.7h0m0-.3h0m.4 .4h0m.1-.7h0m.1-.9h0m.1 2.3h0m.1-.8h0m.2-.5h0m.5-.4h0m0 .6h0m0-.7h0m.1-.4h0m.1 1h0m.3-.1h0m0-3.4h0m0 3.2h0m.3 1.8h0m.1-.8h0m.1-.3h0m.3-1h0m0-3.4h0m.2 2.1h0m.1 1.6h0m.3-.7h0m.3 1.4h0m0 .6h0m.4-1.9h0m0 2.2h0m37.5 3.4h0m.1-.7h0m.2-.4h0m.1 .4h0m.1-1.9h0m.1-.1h0m.2 .4h0m.1-.4h0m0 1.8h0m.3-.5h0m.5 .8h0m.2 .1h0m0 0h0m.1-.2h0m.3-4.5h0m0 1.6h0m.5 3.5h0m.1-4.9h0m.2-2.3h0m.2 3.8h0m.1-2h0m.7-3.3h0m0 2.9h0m0-1.6h0m.2 .2h0m0-2h0m.2 2.5h0m.2 1.1h0m0 .2h0m0-1.5h0m.2-2.9h0m.4 3.8h0m0-2.2h0m.4 4.1h0m.5 .8h0m.7-1.1h0m.4 .2h0m0-3.5h0m.5 3.5h0m0 3.4h0m.2-6h0m.2-2.4h0m.6 2.6h0m0 .4h0m.1 0h0m.5 5.2h0m.1-3.4h0m.1-2.7h0m.2 2h0m0-3.5h0m.1 5.4h0m.1 0h0m.1-1.7h0m.4 4h0m0-1.6h0m0-1.9h0m.1 .5h0m0 1h0m.2-3.2h0m.4 2.5h0m.6 1.4h0m.2-2.6h0m.1-.5h0m.3 .3h0m.5 4.1h0m.2-3.4h0m.1 1.6h0m.8-2.4h0m.1 .1h0m0 2.9h0m.3-3.9h0m.1-1.6h0m.1 1.9h0m0 1.3h0m.3-1.5h0m0 1.3h0m.3 1.2h0m.1-5.1h0m0 1.2h0m.3 1.7h0m0-.5h0m.1 2.3h0m.1-4.1h0m.2 4.3h0m0-2.7h0m.2 .7h0m.4-3.2h0m.2 2h0m.1 3.1h0m.5-3.3h0m.3 2.6h0m0 1.1h0m.3-1h0m.6 4.2h0m.3-.3h0m0-3.1h0m.7-2.8h0m.2 .7h0m0 5.8h0m.2-2.9h0m0 2.7h0m.3-3.3h0m.2-3.6h0m.2 6h0m.4-3.5h0m.1 2h0m.4 .7h0m.2 1.5h0m.9-5.3h0m.1 1.8h0m.3-3h0m0 1.1h0m0 5.1h0m.1-2.2h0m.2-.9h0m.1 .9h0m.1-4.2h0m.1 .7h0m0-1.6h0m.4 4.7h0m0-2.1h0m.5-3.1h0m.1 2.3h0m0 .1h0m.4-2.1h0m.1 4.1h0m.1 .3h0m.1-2.5h0m.2 2.9h0m.1-1.2h0m.1 1.8h0m.2-2.9h0m0 2.3h0m.1 2.7h0m.2-3.6h0m.4-2.3h0m.1 3.6h0m0 .4h0m.1 1h0m.2-3.7h0m0 2.2h0m.2 2h0m0 1.1h0m0-7.2h0m0 5.5h0m.1 1.7h0m0-2.4h0m.1 2h0m.4-.6h0m0 .1h0m.1 .8h0m0-.3h0m.8-1.2h0m.1-.7h0m.1 1.8h0m0-1.6h0m0 2h0m.1-.3h0m0 .1h0m.2-.6h0m.2-1.1h0m.1 .2h0m0-2.4h0m.3-4.5h0m0 5.7h0m.1-.8h0m.1-.5h0m0 2.3h0m.5-.6h0m.3-1.8h0m.1-1.9h0m.2-3.2h0m0 5.5h0m.2 1.4h0m.5 .2h0m.4-2.8h0m0-.4h0m.1-2.3h0m.4-3.9h0m.3 7.4h0m.2-3.1h0m.1 .1h0m.1 2.2h0m.1-6.3h0m0 1.4h0m.2 5.5h0m.1-1h0m.1-.4h0m.1-1.9h0m.1-2.8h0m0 5.2h0m.4 .6h0m.2-2h0m.1 3.9h0m0-.6h0m.1-1h0m.3 .6h0m.5 .9h0m0-.7h0m0-2.2h0m.5 5.6h0m.2-3.2h0m.2-3h0m0 .3h0m.1 4.2h0m0-4.6h0m.1 6h0m.2-1.2h0m0 .9h0m.1-3.7h0m.1 4.3h0m.2-2.8h0m0-.5h0m.1 3.7h0m.2-3.3h0m0-1.4h0m.1 4h0m0-3.8h0m.3-1.5h0m.1 2h0m.3-5.9h0m.1 8.1h0m.3-3.9h0m.1-1h0m0 .5h0m.4 1.4h0m.1-.6h0m0-1h0m.2 2.3h0m.5-5.2h0m0 3.3h0m.1-3.7h0m.2 5h0m0-2.9h0m.2 1.9h0m.3-3.4h0m.2 2.6h0m.2 .9h0m.1 3.2h0m.1-3.6h0m.1 4.2h0m1.2 .5h0m0-2.8h0m.4-.9h0m.3 1.8h0m.1-1.1h0m.2 .6h0m.3 .7h0m.1 .3h0m.3-1.6h0m0 1.6h0m.2-1.6h0m.3-.9h0m.1 1.6h0m0-1.1h0m.1 2.4h0m.4 .5h0m.1-2.6h0m.1 .5h0m0-1.7h0m0-.1h0m.1 3.7h0m0-3.1h0m.2 3.7h0m.1-6.5h0m.2 5.4h0m0-4.8h0m0 3.2h0m.3-1.5h0m.5 1.2h0m.1-1.6h0m.1 1.8h0m.3-.1h0m0-2.7h0m.2 0h0m.8 4.1h0m.1-4.2h0m0-5.7h0m.1 8.8h0m0-.8h0m.2-1.7h0m.3 3.8h0m.2-3.5h0m.3 .3h0m.3-1.2h0m.2 3.1h0m.1 2.4h0m.1-2.1h0m.3-4.1h0m.1 .3h0m.3 .8h0m.2 3.2h0m.2-2.7h0m.1-1.9h0m.1 2.5h0m.3-.4h0m.1 3.5h0m0-2.5h0m.1 1.4h0m0-3.1h0m.1-1.3h0m.1 .3h0m.1 3.8h0m.9-3.4h0m.2 1.6h0m0 .7h0m0-3.6h0m.3 1.2h0m.2 4h0m.1 .6h0m.8-1.5h0m.5 .8h0m0 .3h0m0-1.6h0m.1-2.1h0m0 5.6h0m.2-2h0m.3-1.3h0m.4-.3h0m.1 .3h0m.1 .1h0m0-1.8h0m.2 2.8h0m.2-1.6h0m.5 1h0m0 .2h0m.4-2.6h0m.5-.4h0m.1 0h0m.3-1.4h0m1.2 1.6h0m0 5.3h0m0-6.1h0m1 2.9h0m0-8.8h0m.1 6.2h0m.2 1.4h0m.3-1.6h0m.3 3.1h0m.1 1.3h0m.2-2.4h0m.1-2.4h0m.3 2.8h0m.5 .2h0m.2-1.4h0m.2-1.3h0m0-2.9h0m.2-1.4h0m0 2.9h0m.3 1h0m.3 3.7h0m.3-3.1h0m.2-.4h0m0 3.4h0m.1-1.4h0m.2-5.8h0m0 4.8h0m.1 1.6h0m.3 .4h0m.2 1.5h0m.1 .2h0m.3-3.4h0m.3 2.7h0m.2-4.8h0m.4 3.4h0m.2-3.3h0m0-.2h0m.3-2.8h0m.1 4.7h0m.1-4.6h0m0 5.1h0m.1 .3h0m.2-.7h0m0-6.8h0m.1 6.3h0m.2-.6h0m0 2.5h0m.2-.1h0m.3 3.1h0m.2-1.1h0m.1 2.2h0m.1-2.2h0m.6 1h0m0 .9h0m.1-1h0m.1 1.9h0m.1-3.5h0m.1-.3h0m0-3h0m.2 3.6h0m0 2.7h0m.3-2.3h0m0 1.2h0m.1-1.3h0m.2 .2h0m.2-.7h0m.1 1.9h0m.5-2.3h0m.2-.3h0m.1-.2h0m.2 1h0m.3-2.4h0m.1 2.8h0m.1-.6h0m0-1h0m.2-.2h0m0 4.8h0m.1-1.5h0m0-1h0m.3 .1h0m0-1h0m.2-6.4h0m.2 .8h0m.2 4h0m0 .6h0m0 1.3h0m.2-6.2h0m.1 4.2h0m.1-.3h0m.3-2.5h0m.7 .4h0m0 3.5h0m0-2.4h0m.7-1.5h0m.1 2.9h0m.3 1.7h0m.4-4.8h0m.4 3h0m0-1.7h0m0 3.7h0m.2-3.5h0m.2 .8h0m.1 .7h0m.1-.9h0m.2 1.1h0m.1-5.3h0m0 5.8h0m.1-1.9h0m.4 2.2h0m.7-3.1h0m0 2.3h0m.7 4.6h0m.3-1.9h0m.1-2.2h0m0 2.3h0m.1-2.7h0m.2 4.3h0m.1-2.6h0m.1-2.3h0m.3 5h0m0-1.3h0m.2 1.2h0m.2-2.4h0m.1 1.5h0m.1-3.5h0m.2 2.6h0m.1-1.6h0m.3 0h0m.4-1.9h0m.1 .6h0m.1-.6h0m.2 1.8h0m.2-4.4h0m.1 3.8h0m.6-4.1h0m.3 6.2h0m.1-4.2h0m.8-.3h0m.5 1.1h0m.1-.8h0m.2 .9h0m.1 1.1h0m.3-2.2h0m0 2.4h0m.1-3.7h0m.2 2h0m.1 2.1h0m.2-4.5h0m.4 .7h0m.1 4.4h0m0-1.9h0m.2 4.2h0m.1-6.4h0m.1 2.1h0m.1-.8h0m.3 2h0m.2 3.9h0m0-1.9h0m.2 .6h0m.1 0h0m0-5.6h0m.2 5.2h0m0 1.6h0m0-1.4h0m.1-.2h0m.4 1.8h0m.1-5.3h0m.1-1.2h0m.1 5.5h0m0-1h0m.3-.5h0m.2-2.4h0m.4 3.3h0m.3-.5h0m.4-.7h0m.1-.4h0m.3-3.4h0m.3 3.2h0m.2 3.4h0m.2-3.1h0m.3 .7h0m0-1.5h0m0 .8h0m.1 .8h0m.7-.3h0m.1-2.7h0m.1 1.3h0m.2-1.5h0m.1 3.3h0m.4-5.9h0m.1 5.1h0m0-4.4h0m0 4.8h0m.2-3.4h0m.1 2.1h0m.6-8.8h0m.1 7h0m.1 .2h0m.1-1.7h0m0 3.9h0m.1-2.6h0m0-1.3h0m.2 .6h0m.3 1.1h0m.3 .7h0m.2 3.6h0m.1-4.7h0m.1 4.8h0m.1 .8h0m.1-6h0m.1 3h0m0 .2h0m.1 1.4h0m.1 1.4h0m.4-6.4h0m.2 3.5h0m.2-.6h0m0 3.8h0m.6-4h0m.1-.2h0m.1 .5h0m.3 .8h0m.2-.9h0m.3 3.7h0m.1-5.2h0m0 3.2h0m.8-.4h0m0 2.3h0m.1-1.3h0m.3-.3h0m.1-1.2h0m.2 3.7h0m.4-.8h0m.1-1.6h0m.1-.9h0m.4 1.4h0m.1 1.4h0m.1 .1h0m.4-2.9h0m0-.8h0m0 .6h0m.1-3.6h0m.1 6.3h0m0-6.2h0m0 3h0m.1 3.6h0m.1-3.7h0m.2 1.2h0m0 2.1h0m.4-1.4h0m5.5-2.3h0m0-.1h0m.2 1.5h0m.2-2h0m0 .8h0m.3 .3h0m.1-1.6h0m.6 2.5h0m.1-1.8h0m.3 3.4h0m.4 0h0m0-3.1h0m.3 1.8h0m.5-.4h0m0-.2h0m.1-2.9h0m.6 6.2h0m0-5.6h0m.2 4.6h0m.5-3h0m.3 4h0m.1-.7h0m.3-4.9h0m.1 4h0m.4-2.1h0m0-2h0m.4 2.6h0m.4-2.7h0m0 2.6h0m.2-3.5h0m0 .6h0m.6 1.8h0m.1-1.3h0m.4 0h0m.4-2h0m.1 4.3h0m.1-1.8h0m0 .3h0m.4-3.9h0m.2 3.6h0m.3-.7h0m0 .7h0m.2 2.3h0m.1-3.4h0m.3 .2h0m.1-3.1h0m.1 4.8h0m.1 1h0m.2-.5h0m0-1.8h0m.2 .7h0m0-.7h0m.6 .6h0m.3 2.9h0m0-3h0m.2-.9h0m.3 1.1h0m.3 .3h0m.1-2.3h0m.1 2.8h0m.2 0h0m.1-.7h0m.1-.5h0m0 2.5h0m0-1.5h0m.3 2.8h0m0-3.3h0m.1-3.2h0m0 4.1h0m.6-4.2h0m0 1.6h0m.3 1.7h0m.2 2.7h0m.5-6.8h0m.3 .2h0m.4 1.7h0m0 5.9h0m.1-4.2h0m.1-2.4h0m.3 1.3h0m.1 2.1h0m.1-1.9h0m.1 3.1h0m.1-.9h0m0-4.1h0m.2 3.9h0m.1 2.3h0m0-.6h0m.1 0h0m.2 1.1h0m.7-.6h0m.3-.7h0m.1-2.7h0m.4 2.3h0m0-1.5h0m.3 .2h0m.3-3.1h0m.2 5.2h0m0-4.7h0m.1 .2h0m.1 2.4h0m.4 .1h0m.1 .8h0m.1-2.4h0m.8 2.9h0m.1-2.8h0m.1 3.6h0m.1-1.4h0m.1-3.6h0m.1 2h0m1-5.7h0m.3 4.4h0m0 2.5h0m.1-3.3h0m.1-1.2h0m.1 2.3h0m.2-1.3h0m.2 2.1h0m.2-.9h0m.1 4.6h0m0-5.9h0m.4 3.1h0m.1 2.6h0m.2-3.3h0m.6 1.7h0m0-1h0m.1 0h0m.5 .4h0m.2 1.2h0m0-2.4h0m.1 1.7h0m.1-2.2h0m0 1.7h0m.3-.6h0m.6-2.5h0m.1 .2h0m.3-2.2h0m.4 2.6h0m.2-1.1h0m.1 2.3h0m0-1.1h0m.2 2h0m.1 1.8h0m0-2.2h0m.1 1.5h0m0 0h0m.4 2.9h0m0-2.7h0m0 .3h0m.1 1h0m0-2.3h0m.1-.2h0m.3 1h0m0 3.3h0m0-3.7h0m0 3.4h0m0-2.9h0m.1-3.5h0m.1 6.5h0m.2-2.7h0m.4-2.1h0m.1 2.7h0m.1 .9h0m.3-.6h0m.2-2.6h0m.1 .5h0m0 3h0m.3-5.7h0m.2 .3h0m.2 3h0m.3-.1h0m.6-2.9h0m.8 1.9h0m.3-1.3h0m0 .9h0m0 .2h0m.2-1.3h0m.4-2.7h0m0 2.9h0m.1 2.9h0m.2-1.5h0m0-2.1h0m.3-.7h0m0-1.4h0m0 6.2h0m.1-4.9h0m0 1.8h0m.4 1.4h0m.1-3.1h0m.3-1.5h0m.1 3.5h0m.3 1.1h0m.2-2.7h0m0 3.3h0m.1-.7h0m.2-1.5h0m.2 1.4h0m.7-.9h0m.1 1.9h0m.4 1.3h0m0-2.5h0m.1 1.1h0m.7 1.2h0m.3 .2h0m.4-1.2h0m.4-2.9h0m.3-.5h0m0 3.3h0m.1-3.2h0m0 1.3h0m.1-1.3h0m.4-.5h0m.2 .6h0m.2 3.7h0m.1-1.6h0m0 .2h0m.4-.7h0m.1 2.1h0m0-1.1h0m.3 2.7h0m.1-3.9h0m.1-3.3h0m0 5h0m.3 1.1h0m.1-3.6h0m.1 1.2h0m.2-.5h0m.3-1.8h0m.3-2.8h0m.1 3h0m.3 1.3h0m0 .6h0m0-3.7h0m.1-1.4h0m.2 2.5h0m.3-2.7h0m0 5.5h0m.1-6.5h0m.7 3.1h0m.4 2.1h0m.4-1.8h0m.1 1.6h0m.1 1.6h0m0-3.1h0m.5 3.3h0m.4-2.3h0m.1 2.6h0m.1 1.5h0m.4-.3h0m.1 .3h0m.1 .8h0m.1-2.3h0m.1 .2h0m.2-1.9h0m.4 4.4h0m.1-3.2h0m0 1h0m.3-1.4h0m0 4h0m.2-4.9h0m0 3.2h0m.1-1.2h0m.2 2.3h0m.1-1.4h0m0 1.6h0m.2-1.3h0m.6-2h0m.1-1h0m.1-1h0m.1-.1h0m.7-.3h0m.2-1h0m0 .8h0m.1 6.3h0m.5-1.1h0m.1-3h0m.3-1.3h0m0 4h0m.2-.3h0m.1-3.4h0m.1 3.2h0m.4 1.2h0m0-3.9h0m.2 1.6h0m0-1.2h0m0 .1h0m.1-2.7h0m.4 .7h0m0 3h0m.1-1.3h0m0-1.5h0m.3 1h0m.2-1.7h0m.4 .5h0m.1 1.7h0m.1-.7h0m.2 1.5h0m0 3.5h0m.2-4.4h0m0 .4h0m.1-.5h0m.1 1.6h0m.2 1.5h0m.2-2h0m.1 .5h0m.7 3.2h0m.1 .5h0m.1-2.7h0m.6 2.3h0m.1-1.8h0m.1-1.6h0m.1 .7h0m0 3h0m.3-3.7h0m.1 4h0m.1-3.4h0m.9 3.1h0m.1-1.7h0m0-2.6h0m.1 3.3h0m.6-3.1h0m.1-.1h0m0-1.2h0m.2-1.4h0m0 1.7h0m.2 2h0m.3-4h0m.2 4.3h0m.3-.3h0m.2 2.6h0m0 .4h0m.1-3.4h0m.1 3.5h0m.3-5.2h0m0 4h0m.1 .9h0m.2 0h0m.2-2.3h0m.1-1.4h0m.3 1.4h0m.2-3.1h0m.2 3.6h0m.4-2.9h0m0-3.2h0m.1 4.7h0m0-5.4h0m.3 6.7h0m0-1.3h0m.1-.5h0m.2-2.9h0m0 5h0m.1-5.2h0m.1 .9h0m.2-.3h0m.2-.3h0m0-2.5h0m.3 3h0m.3 3.2h0m.2-3.4h0m0 1.4h0m.1 2.6h0m.6-4.1h0m0 2.1h0m.2 2.6h0m0 1.4h0m.3-.6h0m.1-5h0m.4 3.4h0m.2 2.4h0m.3-3.7h0m.1 1.1h0m.2-4.1h0m.3 4.1h0m.3-5.3h0m.3 1.3h0m0-1.5h0m.2-.6h0m.1 .9h0m.1-1.1h0m0 .3h0m.1 1.9h0m0 .2h0m.3-3.4h0m.3 2.8h0m.2 2.1h0m.1-.9h0m.2-1.8h0m.1 3.4h0m.3-2.5h0m.1 4.5h0m.3-.5h0m.2 .6h0m.2-2.9h0m0 2.3h0m0-1.1h0m.2-1.3h0m.3-5.6h0m0 7.5h0m.3 1.2h0m.3-.9h0m.7-2.1h0m.3-.9h0m.2 .6h0m.1-5.7h0m.1 5.9h0m0-1.2h0m.1 1.6h0m1.5-2.2h0m0 2.8h0m0-4.5h0m.2 .9h0m.1 0h0m.2 4.7h0m.2-4.5h0m.1 1.1h0m.5-2.7h0m0 2.8h0m.6-1.5h0m0-.3h0m.1 5.4h0m.2-5.5h0m.1-.4h0m.2 2.3h0m.1-1.7h0m.1 2.1h0m1.2-2.8h0m.1 8.3h0m.2-1.2h0m.1 .9h0m.3-1.4h0m0-.5h0m.1 1.5h0m0 1.9h0m.2-6h0m0 3.6h0m.2 .5h0m0 1.3h0m.1-2.9h0m.7 3.2h0m0-1.5h0m.3-1.8h0m0-2h0m.1 2.9h0m.5-2h0m.1-3.5h0m.2 .2h0m0 1.6h0m.2-1.4h0m0 1.6h0m.1-.3h0m0-3.2h0m.1 6.8h0m.1-.8h0m0-4.8h0m.1 4.5h0m.1-.4h0m.1-4h0m.3 2.7h0m0 .5h0m.1-.6h0m0 0h0m.1-.8h0m.6 6.5h0m.2-.9h0m.3-1.3h0m.1 1.4h0m0 .3h0m.1 .4h0m.1-1.9h0m.7 .1h0m0-3.6h0m.1-1h0m0 3.7h0m.1-.1h0m.3-5.8h0m.1 5.9h0m.3-3.2h0m.1-4.1h0m.3 8.4h0m.1-1.6h0m.3-2.2h0m.2-4h0m0 7.2h0m.1-6.4h0m.1 .8h0m.1 2.8h0m.2 1.9h0m.2-1.2h0m0-6.8h0m0 4h0m.3 3.6h0m.6-4.8h0m.2 .5h0m0 2.6h0m.2-1.5h0m0 1.4h0m.2 2.1h0m.1-1.7h0m.1-4.8h0m0 4h0m.6-1.4h0m.5 2.4h0m.1-4.6h0m.1 1h0m.3 4.9h0m.3-1.6h0m.1-6h0m.4 4.7h0m.1 1.5h0m.3 2.1h0m.2-5.2h0m0 1.9h0m.1-.4h0m0 .2h0m.1 1.1h0m.1 3.6h0m.2-3.2h0m.3-2.2h0m0-1h0m.3 4.6h0m0 1.8h0m.4-4.1h0m.1 1.5h0m.4 .1h0m.1 3.3h0m.1-2h0m.4-3.1h0m.2 2.2h0m.2 1.4h0m.5-.9h0m.3-2.2h0m.2-1.2h0m.2 .3h0m.3 .3h0m.5 .3h0m.3 1.1h0m.3-4.2h0m0 .2h0m.6-3h0m.1 5.8h0m.3-3.2h0m.1 4.6h0m.2-.6h0m0-.6h0m.6-.3h0m.8 2.6h0m.1-.1h0m.1-2.8h0m.2-.8h0m.3 1.8h0m.3-.3h0m.2 1.1h0m.9 .7h0m.1 1.2h0m0-1h0m0 .7h0m.3-1.7h0m0 1.1h0m0-5.8h0m.3 5h0m.2-.8h0m.1-2.4h0m.3 4.4h0m.3 .5h0m.3 .3h0m0 .9h0m.1-2.5h0m.2-1.9h0m.1 2.7h0m0 1h0m.1-6.5h0m.1 7.5h0m0-1.5h0m.2-2.4h0m.2 5.1h0m.1-3.7h0m.1-1.9h0m.1 1.9h0m.2 2.4h0m.1 0h0m.5-3.2h0m.3 3.7h0m.1-2.3h0m.3-2.5h0m.1 2.4h0m.4-4.9h0m.6 2.7h0m0-2.9h0m.1 2.4h0m0 1.4h0m.1 4.4h0m0-2.8h0m.1-2.9h0m0 .1h0m.1 1.2h0m.1-2.3h0m.2 1.8h0m.2-2.1h0m0-1.1h0m.2 1.8h0m.1 .4h0m.2 .7h0m0 2.5h0m.1-3.1h0m.1-1.4h0m0 1.9h0m0 4.2h0m.2-5.4h0m.1-2.7h0m.1 6.5h0m.6-.1h0m.3-.6h0m.1-2.2h0m.1-1.7h0m0 1.8h0m.2 1h0m.2 1h0m.1 2.1h0m.1-.7h0m.1 2.1h0m.1-5.7h0m.6 2.5h0m0-1.6h0m.3-1h0m0 4.2h0m.1-4.3h0m.1-.8h0m0-1.2h0m.1 3.7h0m.1-4.2h0m.1 3.2h0m.1 .8h0m0-1.1h0m.2 .2h0m.3-2.2h0m.4-3.6h0m.2 3.2h0m0 2.4h0m.2-2.6h0m.3 2.4h0m.1 0h0m.5 2.6h0m.2-1.2h0m.1-1.2h0m.1 .5h0m.4 .7h0m.2-2.9h0m0 1.3h0m.3 .5h0m0-1.5h0m.3 3.8h0m0-1.3h0m.1-.3h0m.2 .8h0m.2-.5h0m.1-.8h0m0 .8h0m.1 1.8h0m0-1.5h0m.1-3.9h0m.2 3.4h0m0 1.7h0m.1-.6h0m.2-.9h0m.4-2.6h0m.2 .4h0m.6 2.6h0m.1 1.3h0m.1-3.2h0m0 .8h0m0-.3h0m.1-1.2h0m0 .5h0m.2 1.9h0m.3-2.2h0m.7 2.7h0m0-1.9h0m.1-3.2h0m.3 2.2h0m.2 .8h0m.1-.1h0m0 2.5h0m0 .8h0m.5-1.2h0m0-1.4h0m0 .4h0m.4-1.7h0m0-.8h0m.6-.6h0m.1-1.3h0m.1 .6h0m0-.6h0m0 1.5h0m.1 1h0m.8 4.3h0m.2-1.9h0m.6-3.6h0m.1-.6h0m0 3.2h0m.2 1.5h0m.5 2.9h0m0-5.4h0m.1 .4h0m.1-1.4h0m.8 1.8h0m.2 2.2h0m.7-5.5h0m0 5.2h0m.4-3.8h0m.1 2.7h0m.2-5.1h0m.1 3h0m.3-2h0m.1 1.4h0m.2-.3h0m.1 3.2h0m.2 .6h0m.1-1.6h0m.1-1.2h0m.1 2h0m.1-.4h0m.1-.3h0m.2 3h0m0 1.7h0m.2-3.9h0m.1 .5h0m.2-1.2h0m0-3.4h0m.3 3.6h0m.2-.9h0m0-2.4h0m.2 1.3h0m0-.9h0m.1 2h0m.2 .7h0m.3 2h0m.3-1.1h0m.1-.1h0m.2-3.2h0m.3 5.1h0m.1-1.8h0m0 3.8h0m.3-6.6h0m.1 2.4h0m.2 .3h0m.1-.4h0m.2 1.1h0m.2-5h0m.1 4.3h0m.1-.7h0m.4-.5h0m.3 1.3h0m.1 .8h0m.1-2.6h0m0 .8h0m.1 4.4h0m0-2.9h0m.1 1.7h0m.2 1.7h0m0-5.6h0m.4 2.6h0m0-2.4h0m0 1.3h0m.3 3.2h0m0-2h0m.1-.1h0m0 .4h0m.2-1.9h0m0 2.5h0m0 1.6h0m.4-3.1h0m1.3-6.6h0m.3 6.1h0m.2 1.3h0m.3 .6h0m.1-1.9h0m0-2.6h0m.1 1.8h0m.4-1.1h0m0 2.3h0m0 1.5h0m.1-4h0m.1 2.5h0m.3-1.4h0m.4 .5h0m.1 1.4h0m.1-1.5h0m.3-1.8h0m.1-1.2h0m0 .9h0m.4 2.9h0m.3-3.8h0m0 3.1h0m.2-1.7h0m.2 1.4h0m0 .6h0m.1-.2h0m0-.3h0m.4-1.4h0m.1 1h0m.2 1.9h0m.5 3.5h0m.4-4.2h0m.1-1.9h0m0-.1h0m.7-1.9h0m.3 5.3h0m.1 1.8h0m.1-2.6h0m0 1.2h0m.3 1.6h0m.2-2.5h0m.1 .8h0m0 2.5h0m0-4h0m.1 2.6h0m.4-3.8h0m.2-2h0m.2 1.8h0m.2 1.8h0m.2-3.5h0m.3-.4h0m0-.2h0m.2 2.2h0m.1 .5h0m.1 4.7h0m.2-4.3h0m0-2.3h0m.8 1h0m.1-.8h0m.1 2.6h0m.1-.8h0m0-1.2h0m.2 4h0m0-4h0m.3 2h0m.3-1.5h0m.1 1.1h0m.3 2.1h0m0-.7h0m.1 3h0m0 0h0m.2-5.6h0m.2-.3h0m.1-.6h0m.3 3.6h0m.1 1.6h0m.4 .8h0m.1-.3h0m.1 .9h0m.2-3.6h0m.3 3.3h0m.5-1.8h0m.1-1h0m.4 2.8h0m.3-1.2h0m.1-2.2h0m.2 .5h0m.2-.1h0m.4-.8h0m0 2.7h0m.1 .1h0m0-1.4h0m.2 2h0m0-3.5h0m0-.7h0m.2-5.7h0m.5 4.2h0m.3 .9h0m.1 4.2h0m.1-5.5h0m.1 .6h0m.3-1.5h0m.1 3.6h0m.4 .7h0m.2-3h0m0 2.5h0m.1 .1h0m.2-.4h0m.1-1.3h0m0-1.3h0m.2 1.6h0m.1-2.6h0m.2 .7h0m.1 3.3h0m.1-1.7h0m.5 0h0m.3-.5h0m.1 2.3h0m0 .4h0m.1 0h0m.1 .5h0m0-.8h0m.1-1.3h0m0-1.3h0m.2-.8h0m.2 3.2h0m0-1h0m0-.8h0m.1 3.5h0m0-.3h0m.3-4.8h0m0 2.6h0m.2 .2h0m.4 1.9h0m.2-3.6h0m.1-3.9h0m.1 6.6h0m.5-6.2h0m.2 1.8h0m0 1.4h0m0 2.5h0m.2-5.9h0m.2 5h0m0 3.6h0m.2-9.9h0m.3 4.6h0m0 2.1h0m.4 .8h0m.4 .1h0m.2 3.2h0m.2-5.3h0m.3 5.4h0m.1-3.2h0m.1-1.1h0m.6-2.4h0m.2 .1h0m.4 2.6h0m.2 0h0m.7 1.6h0m0-3.7h0m.1-3h0m.2 1.9h0m.3 1.6h0m.1-4.5h0m.1 2.3h0m.2 .8h0m.3 2.2h0m.2-1h0m.1 1.5h0m.2-2.2h0m0-.3h0m.1-2h0m.1 2h0m.1-2.8h0m.3 3.8h0m.2 .3h0m0-2h0m.3 3.1h0m0-.5h0m.2-1.1h0m.1-.7h0m.7 .9h0m0-1.1h0m.3 3.7h0m.3 3.2h0m.1-6.5h0m.1 3.2h0m1-.2h0m.2-4.8h0m.3 3.8h0m.1-3.2h0m.1-.2h0m.1-.7h0m.6-1.3h0m.2 1h0m.1 2.1h0m.1 2.5h0m.2-2.7h0m0 1.2h0m0-2.1h0m.3 .9h0m.7 .3h0m.2 2.4h0m0-3.2h0m.1 2.5h0m0-4.5h0m.2 7.6h0m.5-1.5h0m0 3.7h0m0-6.8h0m.1 5.4h0m.1-3.1h0m.4 2.3h0m.1-2.4h0m.2 1.4h0m.2 .3h0m.1-5h0m.4 1h0m0 4.8h0m0 .3h0m.1-4.6h0m0 .4h0m.1 .4h0m.1-2.1h0m0 3.1h0m.3-5.5h0m.1 4.3h0m0 3.7h0m.2-6h0m.1-1.2h0m.1 2.1h0m.2 .4h0m.1 1.4h0m0-1.2h0m0-1.6h0m.1 .7h0m.2 .7h0m0 3.6h0m.1-4.3h0m.2 2h0m0 1.6h0m.1-1h0m.1 .8h0m.2-3.2h0m.1 3.1h0m.2 2h0m.2-8.4h0m.1 4.2h0m.1 1.3h0m0-2.5h0m.4 4.8h0m0-6.2h0m.1 9.1h0m.1-5.2h0m.1 4.3h0m.2-3.4h0m.1-1.9h0m.1 1.5h0m.4 1.1h0m0 .1h0m0-.9h0m.3-1.9h0m.3 1.7h0m.2-1.8h0m.1 1.7h0m0-.4h0m.1 1.7h0m0-3.8h0m.2 .4h0m.1-1.4h0m.6 4.2h0m.1-2.4h0m.2-1.4h0m.5 1h0m0-.2h0m.1-.4h0m.6-.7h0m.2 2.2h0m.1-.1h0m.1-3.6h0m.5 1.8h0m0 .7h0m0 2.5h0m.1-3h0m.1 2.5h0m.1-2.6h0m.1-3.5h0m0 2.2h0m.1-1.1h0m.1 2.3h0m0 .1h0m.3-1.1h0m.1 1.8h0m.1-.3h0m0 2.7h0m0-.3h0m.1-5.7h0m.5 7h0m.1-2.5h0m0-2.1h0m.5 3.1h0m.1 2.4h0m0-4.2h0m.2 1.1h0m.1 0h0m.2-.2h0m0-3.4h0m.3 3.8h0m.5-1.7h0m.8 1.5h0m.1-1.4h0m0 2.1h0m.1-2.2h0m.1 .2h0m.1-.3h0m.3 1h0m.1-.6h0m1.1 1.2h0m.1 1.6h0m.9-2.6h0m0 .7h0m.4-2.8h0m.1 6.7h0m0-2.8h0m0 .4h0m0-1h0m.7-.3h0m.1 2.5h0m.2 1.5h0m.1-5.5h0m0 2.7h0m.7 0h0m.1 2.4h0m.1-3.8h0m.1 .8h0m.1-1.5h0m.1 .5h0m.2 1.6h0m.6 2.1h0m.1-4.2h0m.4 2.7h0m0-2.6h0m.1 2.6h0m.2 1.1h0m.1-3.2h0m.3 2.2h0m.1 .1h0m0-.3h0m.1 2.2h0m.1 .2h0m.1-1.4h0m.2-.9h0m.1 .6h0m.2 1.4h0m0 1.7h0m.4-3.4h0m0 .4h0m.3-3.2h0m.3 3.1h0m.2-.5h0m0-1.3h0m.1 .3h0m0 3h0m.1-1.4h0m.3-.1h0m0-.5h0m.1-1h0m.1-.7h0m.1 4.3h0m.9 0h0m.6-3.5h0m.2 4.5h0m.1-3h0m0-.5h0m.1-1.8h0m.2 2.3h0m0 3.4h0m.2-2.6h0m0 1.8h0m.3-.9h0m0-2.1h0m.3-2.9h0m.1 3.6h0m.3-1.8h0m0-1.5h0m.1 5.3h0m.1-4.8h0m.2-2.5h0m.1 .4h0m.4 2.5h0m.1-2.7h0m0-2.9h0m.1 1.8h0m.1 1.5h0m0 3.5h0m.8-2h0m.5-.5h0m.1 2.1h0m0-.1h0m0 1.1h0m.3-1.8h0m.3-1.3h0m0 .8h0m0-1h0m.4 .1h0m0-.4h0m0-.2h0m.2-3.1h0m0 3.5h0m.4 1.1h0m.3-4.3h0m.2 2.3h0m.2 .2h0m.2 1.2h0m0-3.6h0m.3 .9h0m.4 .1h0m.1-2.8h0m.1 3.3h0m.5 1.4h0m.3 1.8h0m.2 1.4h0m.4 3.3h0m.1-2.8h0m0-2.7h0m.1 3.2h0m.1-.1h0m.6 .4h0m.1 .9h0m0-2h0m.2-2.3h0m.3 2.9h0m.2-1.7h0m.2 2h0m.1-1.5h0m.2-1.9h0m.3 2.8h0m.4 1.7h0m.1-4.8h0m0-.9h0m.5 1h0m.3 .6h0m.3-2.9h0m.1-4.2h0m.3 5.3h0m.3 3.8h0m.4-4h0m.2 1.2h0m.2 .9h0m.6 1.7h0m.2-.5h0m.3-1.1h0m.2 3.5h0m.2-3.4h0m.3-2.5h0m.2 2.9h0m.2 .3h0m.1 .9h0m.3-1.7h0m.3 .4h0m.2-1.9h0m0 1.4h0m.1 .3h0m.2 .1h0m.2 1.5h0m.2-2.4h0m.2 5.3h0m.3-3.5h0m.2-1.2h0m0 2.3h0m.5 3.5h0m.1-3.2h0m.3 1.8h0m0-3.4h0m.3 4.5h0m0-5.3h0m.2 2.5h0m.1-.8h0m.5-.1h0m.1 2.8h0m.1 .8h0m.1-4h0m.1 1h0m.1-.5h0m.1-3.2h0m0 5.3h0m.1-8h0m.5 7.7h0m0-.6h0m.1-3.3h0m0 1.2h0m.2 1.2h0m.2 3h0m0-9.7h0m.1 3.4h0m.1 6.5h0m.5-4.1h0m.1-.1h0m0-.2h0m.1-1.2h0m.3-.7h0m0 .1h0m0 2.1h0m.2 .9h0m.8-1.3h0m.1 2.8h0m.4 .2h0m.2-2.3h0m.2-.3h0m0 2.5h0m.2-.5h0m0-1.8h0m.3 3.3h0m.1-.4h0m0-1h0m.2 2.2h0m.3-4h0m.2 1.1h0m.4 1.5h0m0-3h0m0 .4h0m.1-.1h0m0-1.8h0m.1 4h0m.1-4h0m0 .6h0m.2 2.8h0m.1-.9h0m.3 1.7h0m.1-2.9h0m.1 1.5h0m.2 .4h0m.1-1.4h0m.1-.7h0m.5 .4h0m.3 .9h0m.2-3.7h0m.8 2.5h0m.2 1.2h0m.1-6.4h0m0 5.2h0m0 .4h0" stroke="#000" stroke-width="2.7" stroke-linecap="round" fill="none"/>
<path d="M588 963.5h0M822.5 984.5h0M828.5 988.4h0M836.4 986.5h0M844.4 983.5h0M848.4 992.4h0M848.8 992.8h0M1019.5 983.3h0M1034.4 984.4h0M1041.3 993.2h0M1053.3 989.2h0M1057.3 992.4h0" stroke="#f00" stroke-width="2.6" stroke-linecap="round" fill="none"/>
<path d="M822.6 993.0h0M823.4 993.3h0M824.1 993.3h0M824.9 993.0h0M825.6 992.8h0M826.4 992.7h0M827.1 992.9h0M827.9 993.2h0M828.6 993.3h0" stroke="#f00" stroke-width="3.4" stroke-linecap="round" fill="none"/>
<path d="M160.1 960h3.8l-1.9-5zM161.1 960h3.8l-1.9-5zM162.1 960h3.8l-1.9-5zM163.1 960h3.8l-1.9-5zM164.1 960h3.8l-1.9-5zM165.1 960h3.8l-1.9-5zM166.1 960h3.8l-1.9-5zM167.1 960h3.8l-1.9-5zM778.6 960h3.8l-1.9-5zM814.6 960h3.8l-1.9-5zM847.5 960h3.8l-1.9-5zM848.5 960h3.8l-1.9-5zM849.5 960h3.8l-1.9-5zM850.5 960h3.8l-1.9-5zM851.5 960h3.8l-1.9-5zM852.5 960h3.8l-1.9-5zM853.5 960h3.8l-1.9-5zM914.8 960h3.8l-1.9-5zM915.8 960h3.8l-1.9-5zM916.8 960h3.8l-1.9-5zM917.8 960h3.8l-1.9-5zM918.8 960h3.8l-1.9-5zM919.8 960h3.8l-1.9-5zM920.8 960h3.8l-1.9-5zM921.8 960h3.8l-1.9-5zM922.8 960h3.8l-1.9-5zM923.8 960h3.8l-1.9-5zM924.8 960h3.8l-1.9-5zM925.8 960h3.8l-1.9-5zM926.8 960h3.8l-1.9-5zM927.8 960h3.8l-1.9-5zM928.8 960h3.8l-1.9-5zM929.8 960h3.8l-1.9-5zM930.8 960h3.8l-1.9-5zM931.8 960h3.8l-1.9-5zM932.8 960h3.8l-1.9-5zM933.8 960h3.8l-1.9-5zM934.8 960h3.8l-1.9-5zM935.8 960h3.8l-1.9-5zM936.8 960h3.8l-1.9-5zM937.8 960h3.8l-1.9-5zM938.8 960h3.8l-1.9-5zM939.8 960h3.8l-1.9-5zM940.8 960h3.8l-1.9-5zM941.8 960h3.8l-1.9-5zM942.8 960h3.8l-1.9-5zM943.8 960h3.8l-1.9-5zM944.8 960h3.8l-1.9-5zM945.8 960h3.8l-1.9-5zM946.8 960h3.8l-1.9-5zM947.8 960h3.8l-1.9-5zM948.8 960h3.8l-1.9-5zM949.8 960h3.8l-1.9-5zM950.8 960h3.8l-1.9-5zM951.8 960h3.8l-1.9-5zM952.8 960h3.8l-1.9-5zM953.8 960h3.8l-1.9-5zM992.3 960h3.8l-1.9-5zM1012.1 960h3.8l-1.9-5zM1016.5 960h3.8l-1.9-5zM1018.6 960h3.8l-1.9-5zM1022.5 960h3.8l-1.9-5zM1026.9 960h3.8l-1.9-5zM1039.3 960h3.8l-1.9-5zM1041.4 960h3.8l-1.9-5zM1045.3 960h3.8l-1.9-5zM1051.3 960h3.8l-1.9-5zM1058.7 960h3.8l-1.9-5zM1059.7 960h3.8l-1.9-5zM1060.7 960h3.8l-1.9-5zM1061.7 960h3.8l-1.9-5zM1062.7 960h3.8l-1.9-5zM1063.7 960h3.8l-1.9-5zM1148.3 960h3.8l-1.9-5zM1231.6 960h3.8l-1.9-5zM1232.6 960h3.8l-1.9-5zM1233.6 960h3.8l-1.9-5zM1234.6 960h3.8l-1.9-5z" fill="#f00"/>
<line x1="105.4" y1="763.5" x2="1485.5" y2="763.5" stroke="#b0b0b0" stroke-width="1.1" stroke-dasharray="1.1111 1.8333"/>
<line x1="105.4" y1="802.5" x2="1485.5" y2="802.5" stroke="#b0b0b0" stroke-width="1.1" stroke-dasharray="1.1111 1.8333"/>
<line x1="105.4" y1="840.5" x2="1485.5" y2="840.5" stroke="#b0b0b0" stroke-width="1.1" stroke-dasharray="1.1111 1.8333"/>
<line x1="105.4" y1="878.5" x2="1485.5" y2="878.5" stroke="#b0b0b0" stroke-width="1.1" stroke-dasharray="1.1111 1.8333"/>
<line x1="105.4" y1="916.5" x2="1485.5" y2="916.5" stroke="#b0b0b0" stroke-width="1.1" stroke-dasharray="1.1111 1.8333"/>
<line x1="105.4" y1="957.5" x2="1485.5" y2="957.5" stroke="#b0b0b0" stroke-width="1.1" stroke-dasharray="1.1111 1.8333"/>
<line x1="105.4" y1="983.5" x2="1485.5" y2="983.5" stroke="#b0b0b0" stroke-width="1.1" stroke-dasharray="1.1111 1.8333"/>
<line x1="105.4" y1="1009.5" x2="1485.5" y2="1009.5" stroke="#b0b0b0" stroke-width="1.1" stroke-dasharray="1.1111 1.8333"/>
<line x1="105.5" y1="954.5" x2="1485.5" y2="954.5" stroke="#000" stroke-width="1.1"/>
</g>
<rect x="105.5" y="725.5" width="1380.0" height="286.0" fill="none" stroke="#000" stroke-width="1.1"/>
<line x1="162.5" y1="1011.5" x2="162.5" y2="1016.9" stroke="#000" stroke-width="1.1"/><text transform="translate(159.14,1032.00) scale(1.0524,1)" font-size="14.14" fill="#000">0</text><line x1="345.5" y1="1011.5" x2="345.5" y2="1016.9" stroke="#000" stroke-width="1.1"/><text transform="translate(327.80,1032.00) scale(1.0991,1)" font-size="14.14" fill="#000">2000</text><line x1="527.5" y1="1011.5" x2="527.5" y2="1016.9" stroke="#000" stroke-width="1.1"/><text transform="translate(511.46,1032.00) scale(1.0570,1)" font-size="14.14" fill="#000">4000</text><line x1="710.5" y1="1011.5" x2="710.5" y2="1016.9" stroke="#000" stroke-width="1.1"/><text transform="translate(692.84,1032.00) scale(1.0954,1)" font-size="14.14" fill="#000">6000</text><line x1="893.5" y1="1011.5" x2="893.5" y2="1016.9" stroke="#000" stroke-width="1.1"/><text transform="translate(875.86,1032.00) scale(1.0856,1)" font-size="14.14" fill="#000">8000</text><line x1="1075.5" y1="1011.5" x2="1075.5" y2="1016.9" stroke="#000" stroke-width="1.1"/><text transform="translate(1054.42,1032.00) scale(1.0566,1)" font-size="14.14" fill="#000">10000</text><line x1="1258.5" y1="1011.5" x2="1258.5" y2="1016.9" stroke="#000" stroke-width="1.1"/><text transform="translate(1237.08,1032.00) scale(1.0567,1)" font-size="14.14" fill="#000">12000</text><line x1="1440.5" y1="1011.5" x2="1440.5" y2="1016.9" stroke="#000" stroke-width="1.1"/><text transform="translate(1419.36,1032.00) scale(1.0706,1)" font-size="14.14" fill="#000">14000</text>
<line x1="100.1" y1="763.5" x2="105.5" y2="763.5" stroke="#000" stroke-width="1.1"/><text transform="translate(16.47,769.00) scale(1.1001,1)" font-size="14.14" fill="#000">not Kalman</text>
<line x1="100.1" y1="802.5" x2="105.5" y2="802.5" stroke="#000" stroke-width="1.1"/><text transform="translate(32.87,807.00) scale(1.1468,1)" font-size="14.14" fill="#000">not track</text>
<line x1="100.1" y1="840.5" x2="105.5" y2="840.5" stroke="#000" stroke-width="1.1"/><text transform="translate(37.87,845.00) scale(1.1159,1)" font-size="14.14" fill="#000">Ion. rad.</text>
<line x1="100.1" y1="878.5" x2="105.5" y2="878.5" stroke="#000" stroke-width="1.1"/><text transform="translate(51.80,883.00) scale(1.1984,1)" font-size="14.14" fill="#000">dr &gt; 5</text>
<line x1="100.1" y1="916.5" x2="105.5" y2="916.5" stroke="#000" stroke-width="1.1"/><text transform="translate(15.14,921.00) scale(1.0323,1)" font-size="14.14" fill="#000">OBS not OK</text>
<line x1="100.1" y1="957.5" x2="105.5" y2="957.5" stroke="#000" stroke-width="1.1"/><text transform="translate(79.06,962.70) scale(0.9739,1)" font-size="14.14" fill="#000">10</text>
<line x1="100.1" y1="983.5" x2="105.5" y2="983.5" stroke="#000" stroke-width="1.1"/><text transform="translate(86.41,988.70) scale(0.9851,1)" font-size="14.14" fill="#000">5</text>
<line x1="100.1" y1="1009.5" x2="105.5" y2="1009.5" stroke="#000" stroke-width="1.1"/><text transform="translate(86.14,1014.70) scale(1.0524,1)" font-size="14.14" fill="#000">0</text>
<line x1="102.2" y1="970.5" x2="105.5" y2="970.5" stroke="#000" stroke-width="0.9"/>
<line x1="102.2" y1="996.5" x2="105.5" y2="996.5" stroke="#000" stroke-width="0.9"/>
<text transform="translate(69.00,989.80) rotate(-90) scale(1.0080,1)" font-size="14.14" fill="#000">dr</text>
</svg></body></html>
